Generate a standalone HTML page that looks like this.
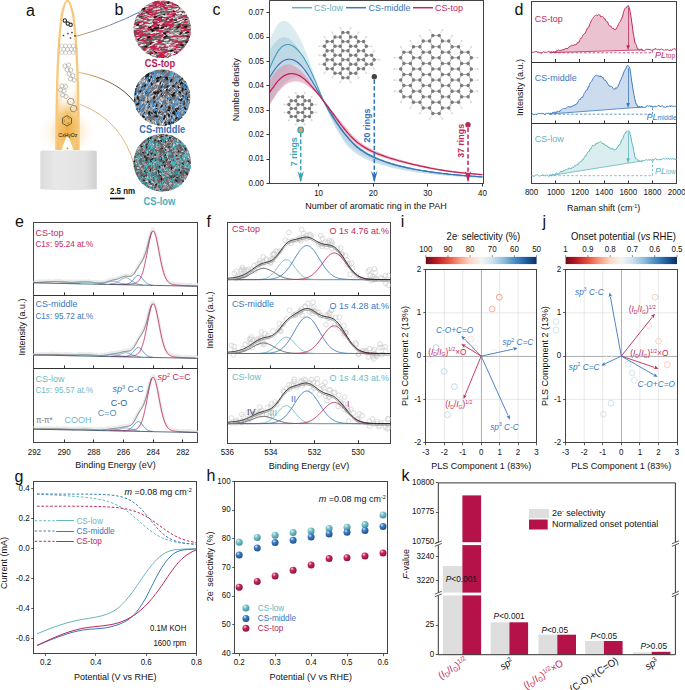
<!DOCTYPE html><html><head><meta charset="utf-8"><style>html,body{margin:0;padding:0;background:#fff;width:685px;height:690px;overflow:hidden}svg{display:block}text{font-family:"Liberation Sans",sans-serif}</style></head><body>
<svg width="685" height="690" viewBox="0 0 685 690">
<rect width="685" height="690" fill="#fff"/>
<text x="26" y="15.5" font-size="16" fill="#111" transform="translate(26 15.5) scale(1 1.0) translate(-26 -15.5)">a</text>
<text x="114.5" y="15" font-size="16" fill="#111" transform="translate(114.5 15) scale(1 1.0) translate(-114.5 -15)">b</text>
<radialGradient id="glow" cx="0.5" cy="0.5" r="0.5"><stop offset="0" stop-color="#f9d9a0" stop-opacity="0.95"/><stop offset="0.5" stop-color="#fbe8c8" stop-opacity="0.6"/><stop offset="1" stop-color="#fff" stop-opacity="0"/></radialGradient>
<ellipse cx="67.5" cy="132" rx="30" ry="26" fill="url(#glow)"/>
<linearGradient id="fl" x1="0" x2="0" y1="0" y2="1"><stop offset="0" stop-color="#fff"/><stop offset="0.6" stop-color="#fffdf8"/><stop offset="0.75" stop-color="#fcecd0"/><stop offset="1" stop-color="#f6cf88"/></linearGradient>
<radialGradient id="fo" cx="0.5" cy="0.5" r="0.5"><stop offset="0" stop-color="#eeab3c" stop-opacity="0.95"/><stop offset="0.55" stop-color="#f2b850" stop-opacity="0.75"/><stop offset="1" stop-color="#f6d090" stop-opacity="0"/></radialGradient>
<linearGradient id="fe" x1="0" x2="1" y1="0" y2="0"><stop offset="0" stop-color="#f0b048" stop-opacity="0.9"/><stop offset="0.3" stop-color="#f0b048" stop-opacity="0"/><stop offset="0.7" stop-color="#f0b048" stop-opacity="0"/><stop offset="1" stop-color="#f0b048" stop-opacity="0.9"/></linearGradient>
<path d="M56.4 150 C56.4 90 58 40 62 14 C64 5 66 0.7 67.5 0.7 C69 0.7 71 5 73 14 C77 40 78.6 90 78.6 150 Z" stroke="none" stroke-width="1" fill="url(#fl)"/>
<clipPath id="flc"><path d="M56.4 150 C56.4 90 58 40 62 14 C64 5 66 0.7 67.5 0.7 C69 0.7 71 5 73 14 C77 40 78.6 90 78.6 150 Z"/></clipPath>
<linearGradient id="fmv" x1="0" x2="0" y1="0" y2="1"><stop offset="0" stop-color="#fff" stop-opacity="0"/><stop offset="0.5" stop-color="#fff" stop-opacity="0.8"/><stop offset="1" stop-color="#fff" stop-opacity="1"/></linearGradient><mask id="fmask"><rect x="56" y="80" width="23" height="71" fill="url(#fmv)"/></mask><g clip-path="url(#flc)"><rect x="56" y="80" width="23" height="71" fill="url(#fe)" mask="url(#fmask)"/><ellipse cx="67.5" cy="128" rx="13" ry="28" fill="url(#fo)"/></g>
<path d="M56.4 150 C56.4 90 58 40 62 14 C64 5 66 0.7 67.5 0.7 C69 0.7 71 5 73 14 C77 40 78.6 90 78.6 150" stroke="#f7c87e" stroke-width="2.3" fill="none"/>
<path d="M62 150 C63 145 66 137 67.5 136 C69 137 72 145 73 150 Z" stroke="none" stroke-width="1" fill="#fff"/>
<circle cx="67.5" cy="148.5" r="0.9" fill="#e08a20"/>
<linearGradient id="cd" x1="0" x2="1" y1="0" y2="0"><stop offset="0" stop-color="#dcdcdc"/><stop offset="0.3" stop-color="#e8e8e8"/><stop offset="0.8" stop-color="#e2e2e2"/><stop offset="1" stop-color="#cfcfcf"/></linearGradient>
<path d="M40.3 153 Q40.3 150.6 43 150.6 L94 150.6 Q96.8 150.6 96.8 153 L96.8 189 Q68 191.5 40.3 189 Z" stroke="none" stroke-width="1" fill="url(#cd)"/>
<path d="M66.5 20.5 a1.7 1.7 0 1 0 -3.4 0 a1.7 1.7 0 1 0 3.4 0 M69.5 23.6 a1.7 1.7 0 1 0 -3.4 0 a1.7 1.7 0 1 0 3.4 0 M72.3 24.8 a1.7 1.7 0 1 0 -3.4 0 a1.7 1.7 0 1 0 3.4 0" stroke="#2a2a2a" stroke-width="1.1" fill="none"/>
<circle cx="63.5" cy="35.5" r="0.85" fill="#333"/>
<circle cx="68" cy="33.5" r="0.85" fill="#333"/>
<circle cx="72" cy="32.5" r="0.85" fill="#333"/>
<circle cx="70.5" cy="38" r="0.85" fill="#333"/>
<circle cx="75" cy="35.8" r="0.85" fill="#333"/>
<path d="M63.7 47.1 L61.8 48.1 L59.9 47.1 L59.9 44.9 L61.8 43.9 L63.7 44.9ZM65.6 50.4 L63.7 51.4 L61.8 50.4 L61.8 48.2 L63.7 47.1 L65.6 48.2ZM63.7 53.7 L61.8 54.8 L59.9 53.7 L59.9 51.5 L61.8 50.5 L63.7 51.5ZM67.5 47.1 L65.6 48.1 L63.7 47.1 L63.7 44.9 L65.6 43.9 L67.5 44.9ZM69.4 50.4 L67.5 51.4 L65.6 50.4 L65.6 48.2 L67.5 47.1 L69.4 48.2ZM67.5 53.7 L65.6 54.8 L63.7 53.7 L63.7 51.5 L65.6 50.5 L67.5 51.5ZM71.3 47.1 L69.4 48.1 L67.5 47.1 L67.5 44.9 L69.4 43.9 L71.3 44.9ZM73.2 50.4 L71.3 51.4 L69.4 50.4 L69.4 48.2 L71.3 47.1 L73.2 48.2ZM71.3 53.7 L69.4 54.8 L67.5 53.7 L67.5 51.5 L69.4 50.5 L71.3 51.5ZM75.1 47.1 L73.2 48.1 L71.3 47.1 L71.3 44.9 L73.2 43.9 L75.1 44.9ZM77 50.4 L75.1 51.4 L73.2 50.4 L73.2 48.2 L75.1 47.1 L77 48.2ZM75.1 53.7 L73.2 54.8 L71.3 53.7 L71.3 51.5 L73.2 50.5 L75.1 51.5Z" stroke="#aaa" stroke-width="0.5" fill="none"/>
<path d="M67.1 66.8 L65.4 68.2 L63.3 67.4 L62.9 65.2 L64.6 63.8 L66.7 64.6ZM70.7 65.8 L69 67.2 L66.9 66.4 L66.5 64.2 L68.2 62.8 L70.3 63.6ZM69.1 70.6 L67.4 72 L65.3 71.2 L64.9 69 L66.6 67.6 L68.7 68.4ZM72.9 70.8 L71.2 72.2 L69.1 71.4 L68.7 69.2 L70.4 67.8 L72.5 68.6ZM71.1 74.8 L69.4 76.2 L67.3 75.4 L66.9 73.2 L68.6 71.8 L70.7 72.6ZM74.9 76.3 L73.2 77.7 L71.1 76.9 L70.7 74.7 L72.4 73.3 L74.5 74.1ZM72.6 79.8 L70.9 81.2 L68.8 80.4 L68.4 78.2 L70.1 76.8 L72.2 77.6ZM76.3 80.8 L74.6 82.2 L72.5 81.4 L72.1 79.2 L73.8 77.8 L75.9 78.6Z" stroke="#888" stroke-width="0.5" fill="none"/>
<path d="M64.2 86.4 L62.8 88.1 L60.6 87.7 L59.8 85.6 L61.2 83.9 L63.4 84.3ZM67.8 86.9 L66.4 88.6 L64.2 88.2 L63.4 86.1 L64.8 84.4 L67 84.8ZM62.7 90.4 L61.3 92.1 L59.1 91.7 L58.3 89.6 L59.7 87.9 L61.9 88.3ZM66.2 91.4 L64.8 93.1 L62.6 92.7 L61.8 90.6 L63.2 88.9 L65.4 89.3ZM64.7 95.4 L63.3 97.1 L61.1 96.7 L60.3 94.6 L61.7 92.9 L63.9 93.3ZM68.2 96.9 L66.8 98.6 L64.6 98.2 L63.8 96.1 L65.2 94.4 L67.4 94.8Z" stroke="#888" stroke-width="0.5" fill="none"/>
<path d="M74.2 102.4 L71.7 104.9 L68.3 104 L67.4 100.6 L69.9 98.1 L73.3 99ZM77 109.5 L74.5 112 L71.1 111.1 L70.2 107.7 L72.7 105.2 L76.1 106.1Z" stroke="#555" stroke-width="0.6" fill="none"/>
<path d="M71.5 123.4 L67 126 L62.5 123.4 L62.5 118.2 L67 115.6 L71.5 118.2Z" stroke="#3a3a3a" stroke-width="0.7" fill="none"/>
<path d="M63.2 118.6 L63.2 123 M67 125 L70.8 122.8 M70.8 118.6 L67 116.4" stroke="#3a3a3a" stroke-width="0.5" fill="none" transform="translate(67 120.8) scale(0.75) translate(-67 -120.8)"/>
<text x="67.8" y="137" font-size="5.2" fill="#111" text-anchor="middle" transform="translate(67.8 137) scale(1 1.15) translate(-67.8 -137)">CxHyOz</text>
<linearGradient id="ln1" x1="0" x2="1" y1="0" y2="0"><stop offset="0" stop-color="#c09050"/><stop offset="1" stop-color="#2a6ad0"/></linearGradient>
<linearGradient id="ln2" x1="0" x2="1" y1="0" y2="0"><stop offset="0" stop-color="#e8b060"/><stop offset="1" stop-color="#222"/></linearGradient>
<path d="M76.4 36.3 Q110 27 141.3 11.2" stroke="url(#ln1)" stroke-width="0.9" fill="none"/>
<path d="M78.7 72.3 Q118 80 134.9 102.8" stroke="url(#ln2)" stroke-width="0.9" fill="none"/>
<path d="M80.3 104.4 Q122 120 134.9 167" stroke="#e0b070" stroke-width="0.9" fill="none"/>
<clipPath id="circ1"><circle cx="162.2" cy="29.2" r="28.7"/></clipPath>
<g clip-path="url(#circ1)" stroke-linecap="round">
<circle cx="162.2" cy="29.2" r="28.7" fill="#5e5c5c"/>
<path d="M139.6 49.4L142.8 48.9M163.1 54.7L166 54.1M188.6 50L192.4 49.7M163.3 41.5L166.7 40.2M176.1 31.6L179.4 31.3M182.2 33.5L184.7 32.9M147.2 49L149.2 48.6M154.5 24.7L156.9 24.7M177.8 30.3L180.8 30M133.5 47.9L137.9 47.2M150.9 50.7L153.4 50.3M142 52.7L144.5 52.9M176.9 48.6L180.6 47.5M183 3.1L185.6 2.5M134 1.2L137.5 1.1M146.3 5.1L149 5.2M145.9 2L149.2 1.4M150.6 7.7L153.1 5.6M172.4 39.2L176.7 38.4M146.9 48.2L149.9 47.9M184.5 53.4L186.6 53M165.1 11.2L167.5 10M186.8 8.7L190.4 8.3M148.6 15.3L152.3 14.2M187.7 32.8L191.1 30.8M153 31.1L155 30.6M188.2 27.2L192.1 26.8M174.6 37.9L178 36.6M179.7 28.7L182.9 27.9M179.8 30.9L182.6 30.1M172.3 48.6L175.8 49.3M172.7 21.6L176.5 20.9M187.8 36.1L189.9 35.3M134.2 47.1L138.1 45.5M179.7 52.7L183.8 52.3M185.8 34.8L188.6 34M141.1 53.2L143.2 53.3M137 2.7L139.9 2.2M168.9 26L173 26.5M151.9 19.7L155.6 18.6M139.7 31.8L142.8 29.3M174.2 3.6L176.4 3.1M147.9 52.6L151.7 50.7M178.2 34.2L180.2 33.9M179.2 55.7L181.8 54.7M185.2 49.6L188 48.6M189.1 16.1L192.4 14.5M173.9 48.5L176.1 48.3M181.3 45.9L184.2 45.3M183.6 32L186.1 31.5M155.4 8.1L158.9 7.8M162.8 3.6L165.6 4.1M143.9 33.1L146 33M134 4.7L137.7 5.2M177.5 37.4L181.7 37.2M146.2 16L149.5 16.1M182.5 12.9L185.4 12.9M164.2 51.6L167.3 50.7M147 56.9L151.1 57M157.1 22.3L159.8 21.9" stroke="#a4aaa6" stroke-width="1.0" fill="none"/>
<path d="M154.8 48.3L156.2 48.4M154.5 7L155.6 6.5M154.8 0.6L157.1 1M163.5 15.4L165.2 14M151 31.7L152.5 30.7M148.8 27.3L150.2 27.4M175.7 22.7L177 22.2M159 17L161.2 17.4M139.7 52.8L141.3 52.2M181.9 56.9L183.3 55.2M157.1 25.7L158.5 26.1M161.2 57.7L163.3 57M166.3 49.7L168.4 49M181.3 26.5L183 25.8M168.8 47.8L170.6 47.3M188.9 48L190.1 47.4M188.4 11.9L190.3 11.8M176.3 5.1L178.5 5.7M133.6 7.1L135.7 5.9" stroke="#151515" stroke-width="1.9" fill="none"/>
<path d="M157.2 28.3L161.4 26.8M168 23.1L170.8 22M171.3 55.9L175 55.2M166.9 36.3L169.9 35.5M166.8 34.4L169.5 33.6M161.8 7.7L163.9 8.2M144.3 51.7L146.9 51.1M140.3 3.4L144 2.6M143 20.8L146.3 20.4M184.7 54.2L188 53.6M168.2 10.5L172.8 10.2M181.5 50L185.4 49.5M132.7 6.1L135.1 6M157.2 4.9L159.6 4.6M132.9 19.3L136.1 18M135.9 38.5L138.4 38.1M164.6 35.4L168.6 35.4M164.4 40.5L168.1 40.8M152.3 9.9L155.6 9.6M188.5 19.5L192.3 19.4M169.2 43L173 42.3M154 53.2L157.7 52.6M141.3 32L144.5 31.2M153.3 19.3L156.7 18.7M168.7 42.8L171.3 41.3M152.1 35.2L156.4 34.1M154.2 41.5L157 41.1M143 9.8L147.9 9.4M162.9 33.1L165.3 32.7M177.7 47.5L180.8 46.9M133 39.1L136.4 38.7M158.2 40.6L161 39.5M137.1 31.6L141.1 31.2M137.5 38.1L142.2 38M162.9 15.7L165.4 16.2M187.1 52L191.6 51.5M136.2 27.3L138.2 26.8M135.2 7.2L138.1 7.2M166.9 16.4L170.2 17M153.1 50.6L155.8 50M134 45.3L137.1 43.9M156.6 33L160.1 31.5M186.6 52.2L188.7 52.3M145.8 2.3L148 2M182 15.3L185.7 14.4M143.1 11.1L147.1 8.9M144.7 30.9L148.8 30.2M188.2 3L191.1 2.9M140.4 2L142.5 0.8M144.1 2L146.8 1.9M183.9 1.7L187.6 1.9M178 33.1L183 32.9M167.1 7L171.1 6.2M166.1 44.7L168.6 44.4M168.4 45.6L171.7 44.7M145.2 56.7L149.1 55.3M156.8 49.1L160.5 48.1M188.3 43.9L192.4 43M133.3 47.8L135.5 47.4M185.6 22.7L188.9 23M173.7 49.2L175.9 48.4M140.9 53.3L144 52.1M146.8 57.1L151.3 55.6M156.4 34.4L161 33.7M175.7 21L178.8 20M154.7 9.2L159.6 8.7M147 1.3L149.3 0.7M179.6 52.7L184.1 52.8M165.4 6.5L167.6 6M152.5 41.3L156.5 41.1M134.8 17.6L138.3 17.3M170.6 48.1L173 47.4M183.8 5.5L187.5 3.9M136.1 46.9L139.5 46.5M159 54.1L162.5 54.1M150.2 17L153.7 15.9" stroke="#f6f6f6" stroke-width="0.95" fill="none"/>
<path d="M149.7 30.8L153.7 30.3M173.5 47.4L179.1 45.9M136.4 46.6L140.8 45.8M171.6 18.4L175.1 17.7M172.9 14L177 12.3M142.5 34.9L146.5 34.5M166.5 22.9L170.4 22.6M163.9 8.8L169.6 8.4M154.4 51.8L157.6 51.3M151.3 29.7L155.6 29.4M172.7 34.2L176.7 34.4M185.9 31.1L191.3 32.8M156.9 33.5L161 32M147.5 48.5L152 48.1M186.3 54.1L189.4 53.9M180.4 8.5L183.9 8M170.6 53.1L176.3 54.5M139.8 31.9L143.3 31.5M175.3 18.5L178.8 17.7M171.5 15.3L177.9 14.3M139.3 54.9L144.9 52.4M133.7 16.8L137.1 16.2M160.6 45.8L163.8 45.2M151.6 7.7L155.3 7.3M169.6 15.3L173.9 14.6M172.4 36L175.6 35.8M138.9 58.5L143 56.2M161.2 56.4L164.4 55.2M186.4 50.6L190.3 49.5M157.9 33L162.5 32.1M132 16.6L136.6 15.2M135.5 30L139.3 29.8M181.6 47.9L187.9 46.8M178.9 24.2L182.7 24.1M170 7.1L175.3 5.1M149.7 47.8L156.1 46.9M139.2 34L142.1 32.9M133.6 51.5L139.4 51.6M134.5 33.8L140.1 32.1M139 53.3L143.9 51.6M170.3 20.5L174 20.4M136.2 5.6L139.4 5.4M175.7 35.2L179.4 34.6M138.9 7.2L145.1 6.1M147 6L151 5.9M186.8 1.4L191 0.5M133.5 26.7L138.3 23.9M150.5 48.4L154.2 48.4M151 55.5L156 53.3M162.2 46.8L167.6 46.2M182.4 49.3L186 48.2M148.1 9.4L154 7.5M133.3 32L137 31.5M186.3 5L192.4 4.9M149.2 24.3L153.4 22.5M168.8 27.7L172.6 27.7M146.1 31.6L150 30.2M159 3L164 2.3M146.6 55.9L150 55.9M147.8 13.4L151.5 12.8M183.7 5.1L187.4 3.7M173 13.2L178.2 12.9M166.1 27L170.7 26.5M154.7 51L158.4 50.2M186.9 45.9L191.5 45.5M139 31.3L142.9 29.5M145.1 1.8L148.4 1.4M178.9 1.6L182.4 0.6M179.5 36.1L183.1 35.8M184.1 7L187.8 6.6M160.3 54.4L165.7 54.4M159.4 34.6L164.9 33.8" stroke="#c81f4a" stroke-width="1.1" fill="none"/>
<path d="M157.4 38.5L161.2 37.3M144.4 24.8L147.5 24.6M172.8 54.4L175.8 54.2M153.5 26.5L156.5 24.9M186.7 34.1L189.7 33.2M160.9 28.8L164.1 27.9M133.1 44.2L135.6 43.6M138.1 52.7L141.4 51.6M164.8 18.8L168.3 19.1M164.4 10.1L168.1 10.6M150.4 57.5L154.3 56.8M175.7 35.1L178.5 34.8M153.9 33.2L156.5 33.3M188.9 24.8L191.5 24.5M158.3 18.7L160.4 18.3M187.9 26.9L192 25.5M135.8 5L139.4 4.6M184.1 17.6L188.4 17.1M178.2 32.2L181.6 31.8M154.9 35.9L158.2 35.4M135.5 29.7L139.7 30M144.2 33.5L147.8 32.9M171.8 27.1L175.6 25M132 11.8L135.5 11M164.9 22.7L167.6 22.3M157 26.8L160.8 25.8M189 18.4L191.3 17.6M167.6 24.6L171.7 23.1M174.8 25L177.7 24.5M161 42.9L164.8 42.7M149.7 25.5L153.6 25.1M146.2 42L148.4 41.5M171.8 5.8L174.7 6.1M150.5 23.2L153.1 21.8M134.8 16.4L137.1 16M166.8 33L169.6 32.3M137.3 47.9L140.2 46.5M173.5 18.4L177.6 18.6M171.7 31.7L175.8 30.8M160.9 30.6L163.7 30.8M172.5 44L175.2 42.8M163 15.9L166.6 15.6M156.4 39.9L159.5 38.7M180.5 27L184.2 26.6M149.1 29.6L152.6 29.5M158.7 46.8L161.6 45.6M156.8 45.4L160 44.8M167.3 58.2L170 57.1M170.3 17.8L173.5 17M174.9 20.3L179.3 19.4M186.8 31L190.4 31.1M171.7 37.6L174.5 37.5M133 18.5L136.3 17.5M138.4 18.9L140.4 18.5M155.1 40.1L158.4 38.8M158.8 23.7L162.5 23.6M182.7 10.6L186.4 8.8M176.9 35.6L179.5 34.1M178.6 15.2L182.5 14M178.7 26.2L181.9 25.4" stroke="#a4aaa6" stroke-width="1.0" fill="none"/>
<path d="M151.8 55.9L153.7 56.5M136.7 11.1L138.9 10.9M171.2 20.8L171.9 19.5M139.5 38L141.2 37M142.3 23.2L144 23.2M140 15L141.9 15M163.8 5.2L165 4.3M166.9 35.9L168.1 35.7M185.7 9L187.2 7.4M157 15.9L158.3 16.4M162.1 30.7L163.5 30.2M155.2 57.5L157.3 57.5M176.9 23.7L179.1 24.9M179.3 0.7L180.8 0.7M166 35.6L166.9 36.4M150.7 53.7L152.5 53.6M139.8 15.8L141.3 15.8M134.6 30.9L136.4 30.7M157.6 41.5L159 40.7" stroke="#151515" stroke-width="1.9" fill="none"/>
<path d="M170.5 31.4L174 29.8M176.4 1.2L180.7 0.8M144.7 56.2L149 55.3M143.2 9.9L148 8.6M163.8 16.4L166.1 16.3M131.7 4.8L135.6 3.3M164.4 26.7L166.4 26.2M156.9 46.1L160.9 46M182.2 39L185.1 37.7M152.1 23.8L155.3 22.7M149.2 26.2L153.4 24M150.9 8.3L155.4 6.5M153.2 51.8L156.1 51.5M143.9 9.8L147 10M134.4 3.9L136.7 3.1M150.1 18.9L154.5 18M150.3 21.3L153.8 20.1M160.3 1.8L163.8 0.7M180.2 55.9L182.4 54.6M149.6 32.1L152.8 32.5M157.8 47.8L159.7 46.8M142.1 45.5L145.6 44.5M183.3 43.3L185.6 42.7M157.6 43.2L160.5 42.8M165.8 27.6L169.2 26.5M181.2 17.5L183.8 16.7M157.2 46.9L159.6 46.8M139.2 34.3L141.6 33.8M153.1 8.5L155.3 8.3M137.1 42.4L141.9 41.1M166.7 32.9L171.1 33.3M179.9 15L183.7 14.2M185.5 38.2L189.9 36.7M145 18.3L148.9 18M172.3 27.1L175.7 26.2M177.4 32L180.2 31.2M147.6 56L149.9 55.4M177.3 9.9L179.8 9.6M157.5 47L159.6 46.9M171.4 56.9L174.9 56.6M180.8 8.1L185.5 8M186.6 8.7L189 8.6M169.3 53.1L173.5 52.4M171.1 52.6L173.2 51.9M187.8 37.4L192.7 36.4M166.9 19.3L171.4 18M163.6 1.1L167.2 1M146.4 50.5L148.9 50.3M185 5.6L186.9 5.1M154.2 51.3L158.4 50.8M143.4 30.7L145.5 30.1M170.6 51.1L172.5 50.1M166.1 46.8L169.8 46.7M170.9 42.1L175 41.1M178.2 28.2L181.6 27M133.2 29.8L136.4 30M173.1 24.5L176 23.6M182 32.2L184.9 32.1M140.4 22.8L144 22.3M151.5 25.1L155.6 25M142.9 55.2L147.6 54.5M180.5 53.9L185.2 53.4M147.3 22.6L150 22.5M176.6 41L180.7 39.7M133.9 54L137.7 53.6M184 52.2L188 52.1M170.4 46L173.7 46.4M140.4 33.9L144.9 33M181.2 3.7L185.9 2.8M147.1 22.1L151.4 21.7M143.4 12.6L146.4 12.3M147.8 49.2L150.5 48M170.6 22.1L175.4 21.4M152.4 17L154.4 16.5M155.1 45.2L159 45.7M160.6 15.4L163.5 15.9" stroke="#f6f6f6" stroke-width="0.95" fill="none"/>
<path d="M155.7 7.3L159 6.1M148.6 10.4L151.6 9.6M167.9 45.7L174.3 44.8M146.5 12.7L149.7 12.3M131.5 1.9L137.5 -0.4M146.6 56.8L150 55.8M167.2 22.4L172.7 21.7M143.9 50.3L147 49.9M172.5 41L178 41M186 33.7L189.2 32M177.5 4.9L182.6 4.5M164.9 22.3L168 21.4M168.7 57.3L175.1 58.3M143.4 48.8L148.1 48.3M159 29.4L164.9 27.3M145.3 30.1L150.6 28.7M176.6 36.1L182.7 35.3M185.3 54.9L189.2 53.1M173.6 54.6L177.7 54M154.2 16.6L160.2 15.4M151.1 55L156 55.6M179.2 4.5L183.7 3.8M187.6 1L193 0.2M176.4 32.3L181.8 30.3M153.1 19.8L156.1 18.6M168.9 15.7L174 15.8M155.7 4.6L160.4 3.6M133.2 32.6L136.6 31M153 17.1L158.2 17.7M135.2 3.2L141.4 1.4M184.7 20.7L190 20.8M160 52L164.7 52M166.2 17.3L172.4 16.4M135.1 10.3L140.2 9.6M160.6 47.6L165.9 46.9M152.7 20.5L158.4 19.4M152.6 29.5L158.4 28.8M183 53.4L186.2 53.8M156.7 21.7L161.3 21M173.8 32.2L179 31.3M140.2 35.3L144.7 33.8M188.3 26.1L193.4 24.4M135 38.8L139.8 39.1M163.2 29L169.4 29.3M153.6 47.7L156.6 46M143.1 56.8L148 56.8M156.7 47.5L161.9 47.4M188 47.1L192.1 45.6M173.8 50.2L179.3 47.5M173.2 20.3L179.2 18.5M161.2 23.7L164.5 23.3M158.8 52.4L165.1 51.9M172.9 10.5L179.2 9.3M186.7 35.5L192.7 35.4M150.5 51.7L153.9 51M176 40.7L180.5 38.6M143.3 22.2L147.4 22.5M154.7 17.6L158.7 16.9M183.6 17.7L186.7 17.1M185.3 36.3L190.6 34M181.8 28L186.7 26.8M184.5 6.4L189.8 6.3M179.8 20.3L186.1 18.8M181.6 28.7L185.9 28.1M156 1.1L160.2 -0.1M182.3 51.6L187.7 50M141 28.2L146.6 27.3M135.5 55.1L139.8 54.4M167.2 54.1L171.2 55.2M142 2.5L145.5 2.1M185.7 9.5L188.7 8.8M176.8 8.9L180.5 8.7" stroke="#c81f4a" stroke-width="1.1" fill="none"/>
<path d="M136.9 2.3L140.8 2M160.7 14.1L163.2 13.7M179.1 39.5L183.2 38.5M155.1 28.8L157.1 28.4M147 32.3L150.9 31.6M167.7 35.7L170.9 35.6M138.6 36.6L141 36.1M179.4 1.9L181.4 1.5M135.5 17.4L138.2 17.9M161.5 22.9L164 21.5M150.9 13.4L155 12M148.5 50.8L151.9 49.7M136 15.8L140.3 15.8M174.1 6.6L178.3 6.2M184.7 56.3L187.2 56.1M154.6 18.6L157.2 17.6M149.2 46.6L151.2 45.4M133.3 19.1L137.4 18.1M181.1 26.9L183.6 26.1M160.7 38L163.8 37.5M140.8 44.6L144.5 44.4M173.1 20.9L176.3 20.1M188 22.6L190.4 22.3M167 48.6L169.5 48.2M138 46.8L141.4 46.9M170.9 28.8L174.5 28.7M167.6 31.2L170.6 30.7M176.6 49.8L180.3 48.4M169.7 2.7L172.7 0.6M178.5 15.9L182 16.1M176.4 11.9L180.7 10.9M155.2 29.1L157.4 28.4M159.9 22.4L163.9 22M182.9 44.5L185.1 43.6M137 2.7L140.5 1.4M155.1 12.3L159.3 11.6M153.2 57L156.3 57.1M181.1 17.9L184.2 18M179.6 17.4L182.9 17.1M150.1 4.1L154.5 4.8M185.5 38.2L189.7 36.7M162.6 5.1L164.8 4.9M185.5 46.8L189.9 45.8M132.4 7.4L135.2 7.3M162.8 56.7L167.3 56.5M151.7 26.6L154 26.7M173.5 28.6L175.7 28.8M186.7 56.4L188.9 55.9M184 7.4L186.9 7M169 54L173.4 53.3M140.7 24.5L143.3 24M160.8 20L162.8 18.9M137 13.9L139.7 12.8M139.3 23.7L143.6 23.2M161.8 33.6L165.8 32.2M162.7 31.9L166.8 31.6M154.1 25.7L156.7 25.7M166.7 3.5L169.9 3.6M145.4 33.2L149.2 32.3M134.8 40L138.7 38.3" stroke="#a4aaa6" stroke-width="1.0" fill="none"/>
<path d="M177.6 27.6L179.5 26.4M149.1 10.2L151 8.6M177 54.2L179 54.2M160.2 56.6L161.7 56.7M144.1 47.7L145.9 47.1M143.8 24.7L146 25.6M154.8 17.4L156 16.4M180 19.1L182.1 18.1M147 0.7L149.2 0.7M165 26.4L166.2 26.7M153.6 50.6L154.7 51.1M155.5 53.1L156.8 51.8M178.3 33.4L179.5 33.6M184.3 8.9L185.6 9.1M142.5 54.4L144 54.1M153.8 43.6L155 43.2M135.8 56.4L137.5 55.1M153.8 22.9L155.8 23.1M136.6 25.1L138.9 24.2" stroke="#151515" stroke-width="1.9" fill="none"/>
<path d="M146.5 18.8L150.2 17.8M174.2 18.2L178 18M160.9 33.9L163.9 33M174.7 50.9L177.7 51.1M159.5 29.6L164 28.9M180.9 4.3L183.9 4.3M142 37.3L146.3 37.2M138 12.5L142.7 11.7M155.9 15.4L160 13.7M132.2 8L136.8 7.6M180.9 40.1L183.1 39.5M134.2 16.7L136.5 15.4M161 52.4L164.6 52.1M134.2 22L138.5 20.4M135.3 18.9L139.5 18.7M146.8 18.8L149.2 17.3M182 23.3L185.3 23.1M164.7 43.2L166.8 43M160.4 1.4L162.9 0.5M157.4 32.4L162.2 32M173.4 6.2L176.5 6M177.1 4.4L181.6 4.1M187.9 35.8L190.6 35.4M165.2 18.8L168.6 18.2M144.7 14.5L147.3 14.1M154.8 40.9L157.9 40.3M161.7 42.8L166.6 42.3M139.7 19.8L142.6 19.5M158.5 31.5L163 30.3M162 38.3L165 37.6M131.8 25.4L136.1 25M157.1 9.2L160 8.9M161.5 28.4L165.6 27.5M164.6 33.1L168.3 32.3M169.4 44.6L173.3 43.7M138 57.6L141.3 58M171 35.9L174.7 34.6M181.4 6.2L184.9 5.1M168.4 47.7L171.7 47.9M138.7 39.8L140.7 39.8M172.1 26.1L175.4 24.9M148.9 36.2L151.7 35.5M148.3 47.1L151.3 46.1M167.5 20.6L169.6 20.3M179.8 19.5L182.6 18.6M143.6 3L147.7 2.5M143.2 14.8L145.8 14.2M142.8 53.2L146.6 51.8M147.8 15.7L151.3 15M165.5 48.5L169.6 48M158.9 4L163.3 3.1M150.8 28.5L155 27M134.7 44.5L139.3 44M160.2 22.6L163 22.4M164.8 54.5L166.7 53.6M189.5 14.1L191.5 13.6M184.4 5.4L188.8 4.6M152.8 31.8L155.4 31.8M170 45.7L172.2 45.5M174.2 25.7L176.4 25.3M172.9 44.8L175.8 44.9M136.3 35.8L140 35.4M173.2 18.6L177.2 18.3M134.6 47.9L138.3 46.4M179 10.7L182.5 9.4M161 38.1L163.8 36.6M177.3 2.8L179.5 3M181.4 10.5L184.9 10.2M186.2 45.6L189.5 45.5M143.7 53.6L147.5 53.2M181.4 58.4L185.6 57.2M174 33.3L178.7 32.8M185.6 20.4L188.5 19.6M165.5 55.2L169.8 55M144.1 18.8L147.6 17.6M177.4 19.8L181.4 19.5" stroke="#f6f6f6" stroke-width="0.95" fill="none"/>
<path d="M132.1 15.1L136.1 13.7M153.8 55.9L158 54.7M158.8 4.1L163.9 5.2M154.3 1.5L158.5 0.7M178.6 3.8L184.8 3.4M168 21.6L171.6 20.9M184.8 19.2L190 16.4M150.1 1.5L155.6 0M139 51.1L142.1 50.2M159.3 40.1L165.6 39M143 22.8L148.9 23.3M161.5 11.6L166.2 10M180.4 27.3L185.7 26.9M135.1 12.6L139 11.8M164.5 26.2L170.7 24.8M160.8 4.3L165 4.8M143 8.4L148.5 6.8M188.1 12.1L191.1 10.8M187.5 3.5L190.5 3.4M160.2 23.1L164 22.2M181.8 9.7L185.2 9M172.4 41.9L176.8 41M176.7 43.6L182.7 41.8M172.3 25.9L175.7 24.6M182 21L187.5 19.9M185.5 41.7L189.1 40.4M142.5 41.9L145.8 40.2M150.4 42.3L154.8 42.7M172.7 24.7L176.4 25M171.9 36.6L178 35.8M138.2 40.1L142.6 40M184.3 17.8L188.8 17.7M156.2 40.3L162.2 39M153.3 46.5L157.2 46M149.1 57.3L153.2 56.8M140.5 2.4L145.7 1.7M158.8 31.6L162.4 31.7M151.4 35.4L157.2 33.7M140.8 40.5L146.3 38.4M170 26L175.2 25M150.2 47.6L154.8 45.1M169.3 20.9L173.7 20.9M149.7 46.1L154.8 47.2M138.3 52.8L143.8 51.4M177.9 58L184.1 56.2M185.5 30.5L189 30.1M168.7 22.4L172.2 21.2M147.9 48L153.9 46.5M187.6 35.1L190.8 34.8M181 1.4L187.3 0.9M141.2 24.9L145 24.6M133.8 6.9L138.4 6.3M135.2 31.7L140.9 29.4M151.7 30.5L157.1 29.6M158.3 37.8L163.5 36.4M188.8 10.9L192.5 9.6M158.1 30.3L162.7 30.5M155.5 50L161.1 50.3M153.2 26.2L157.3 25.8M170.5 27.6L173.6 26.6M173.6 48.9L177 48.4M138.5 34.6L142.7 33.4M134.3 45.7L137.7 44.9M149.8 17.1L153.3 17M179.6 36.4L185.9 35.7M174 57.4L178.5 57.2M135 36.6L140.7 36.6M176.4 45.3L182.1 44.6M146.3 1.4L149.5 0M156.2 19.8L161.3 18M132 22.3L135.5 21.3M158.2 27L161.8 25.5" stroke="#c81f4a" stroke-width="1.1" fill="none"/>
<path d="M131.8 26.7L135.4 25.4M144 27.3L148.1 26.5M180.3 29.4L183.8 29.6M134.5 40.8L137.5 41M178.7 51.7L182.5 51M133 13.8L137.2 13.5M162.4 10.3L165.1 10M140.1 41.8L143.8 41.7M180.7 18.8L184.9 17.8M144.2 39.5L146.4 38.9M151.6 52L154.9 50.3M187.1 51.5L189.4 51.4M157.9 17L161.7 15.8M153.9 56.3L156.5 56.1M167.3 57.1L170.6 56.4M150.3 49.2L153.1 49M161.2 46.3L163.4 46M177.8 52.6L181.5 52.5M133.4 37.7L136.4 37.5M171.3 42.7L174.5 42.2M180.4 22.3L184 21.3M141 41.8L144.9 43M150.2 8.5L154.2 7M148.6 31.9L151.1 31.4M186.7 44.1L191.1 44.2M153.4 12.3L156.9 12.1M155.9 24.1L160 23.4M178.5 35.7L182.1 34.8M154.8 40.4L158.3 39.7M144.7 32.8L148.9 32.6M157.1 53.4L160.8 52.4M143.1 4.3L145.4 3.1M158.8 33.9L161.3 33.7M184.9 1.4L187 1.4M180.7 39.1L183.4 38M156 39L159.7 38.1M139 23.4L142.7 23M145.7 33L149.5 32M137.4 20.4L140.8 20.3M159.1 52.4L163 53.4M162.9 10.2L165.2 10.1M181.3 37.4L183.4 37.4M146.5 13L149.9 11.1M182.7 43.3L186.1 43.4M174.3 32.9L177.2 33M152.5 24.4L155.2 24.2M139.7 56.3L142.2 55.7M163.9 24.9L166.5 24.3M183.9 12.4L187.1 11.7M147 32.4L150.7 30.6M144.2 21.5L147.4 21.7M139.7 15.2L143.4 15.2M167.2 30.9L168.8 29.6M168.5 14.8L171.7 14M168.8 32.2L170.9 31.8M173.2 39.8L176.9 39.7M170 46.4L173.5 46.4M134.5 41.1L136.8 40.8M184 18.7L188.2 18.3M141.6 38L145.2 36.8" stroke="#a4aaa6" stroke-width="1.0" fill="none"/>
<path d="M174.1 11.7L175.9 11.5M179.9 54.7L181.9 55M161.9 25.3L164 24.8M133.4 55.6L135 55.1M181 45.3L183 45.3M165.7 32.6L167.6 31.9M181.1 14.3L182.2 12.5M187.5 36.2L189.4 37M154.2 28.2L156.2 28.2M145.1 48.7L146.5 46.8M184.4 27.1L186.6 26.5M186.3 32.1L188 32.3M184.5 19.7L186.1 19.9M150.6 29.3L152.8 30.1M174.4 15.6L175.9 15.6M150.6 43.6L152.6 43.4M145.6 53.7L146.6 54.4M143.6 11.3L145.9 10.6M180.6 33.5L182 32.2" stroke="#151515" stroke-width="1.9" fill="none"/>
<path d="M134.5 26.9L137.8 26.6M177.4 50.7L180 50.2M148.2 25.4L152.5 23.9M161 39.4L163.1 39.1M174.9 43.6L178 43.4M133.3 1.2L135.9 0.8M143.9 10.9L148.2 10.4M178.7 13.5L181.5 12.8M182.8 53L184.9 52.5M172.6 9.1L176 9.1M142.9 31.1L145.5 31.3M146.3 49.8L149 48.5M183.7 32.4L187 30.8M137.3 37.9L139.7 37M164.4 58.5L167.7 56.9M168.2 3.5L171.5 3.1M179.9 56.5L182.6 56M173.5 47.7L176.8 47.7M181.4 4.6L186.2 3.2M166.1 45.7L168.9 45.7M158 11.4L159.9 10.5M157.7 51.8L160 51.3M179 13.4L181.1 12.4M157.3 27.3L160.8 26.3M165.5 14.8L169.8 14.3M183.4 56.1L187.1 55.1M174.9 9.5L178.6 8.1M140.2 21.6L142.5 20.6M172.8 12.7L176.8 12M152 44L155.1 43.2M155.1 50.4L159.6 49.3M159.5 2.2L161.7 1.9M157.2 5L160 3.7M147.7 36.4L151 35.9M155.4 40.4L159.1 39.2M173.6 53.1L177.2 52.4M171.3 54.4L174.7 53.1M146.9 8.2L150.7 8.3M179.9 21.8L184.5 19.9M149.5 45.8L153.4 44.4M137.7 14.8L140.6 14M165.5 16.2L169.8 15.1M187.1 2.6L191.3 1.6M149.3 18.5L152.9 17.9M132.6 28.1L135 28.1M149.4 12.9L153.3 13.3M166.9 52.9L169.7 52.4M134 57L136 56.3M182.4 31.3L184.9 30.6M139.5 24.4L142.6 23.7M183.5 1.4L185.6 1.3M165.3 49.4L168.6 48.8M167.6 44.4L171.2 44.3M133 5.7L136.8 5M132.7 3.1L136.4 2.1M163.2 36.2L165.6 35.9M175 10.6L178.1 9M133.3 38.7L136 37.8M134.6 28L138.3 27.3M187.6 56.1L189.8 55.9M180.3 9.1L184.2 7.8M159.6 11.1L161.4 10.1M132.9 41.6L137.1 40.5M155.5 43L160.1 42.5M173 34.1L177 33.8M154 43.2L158 41.5M179.2 6L181.3 6.1M177.8 39.3L180.7 38.4M138.1 56.1L142.4 55.5M145.2 48.8L148.2 48.6M140.2 44.3L143 44.5M184.3 34.8L186.3 34.6M176.9 21.1L181.4 19.3M162.6 49.1L165.9 49.3M133.6 17.9L137.5 17.4M185.8 48.4L189.2 48.2" stroke="#f6f6f6" stroke-width="0.95" fill="none"/>
<path d="M156.9 41.7L159.9 41.1M155.5 53.9L161.5 51.5M170.5 13.3L174.4 12.7M136.4 10.3L141.7 9.3M153.9 24.6L158.5 24M181.4 31.9L184.3 30.8M154.9 50.3L158.7 49.2M178.2 53.4L182.4 51.8M166.3 7.3L170.6 6.7M163.5 1.3L167.4 0.3M140.8 4.9L146 3.5M163.5 33.4L169.6 31.9M158 22.2L162.6 21.7M142.9 2.1L148.3 0.4M160.9 2.1L165.6 -0.2M132.6 24.9L138.7 23.1M188 44.6L192.8 43.5M154.3 1.1L158 1.1M141.1 27.4L146.8 26.7M161.3 25.6L165.2 25.5M139.7 40.5L143.2 40.2M152.2 26.4L156.2 26M144.4 49.9L148.1 48.9M136.6 49.6L142 50M151.4 7.8L155.4 6.9M158.1 4.2L162.7 3.1M151.1 15.2L155.7 13.2M166 2.9L169.2 2.9M166.5 14.1L172.9 15.1M187.4 37.5L193.7 37.2M154.9 54.4L160.4 54.6M169.6 33.7L174.1 33.7M160.2 47.8L166.4 47.4M147 9L152.6 9.2M156.3 21.1L162.5 19.4M163.3 25.2L169.1 24.1M132.3 27.9L135.6 27.3M142.2 18.7L148.2 18.8M130.6 18.9L136.4 17.5M153.2 55.4L157.2 55M172.5 4.5L177.8 3.9M151.3 26.3L156.4 23.2M169.6 46.2L173 45.4M141.3 35.1L145.8 33.9M148.1 6.7L153.3 5.8M171 44.5L176.1 42.4M183 15.6L188.5 15.2M187.5 40.3L193.1 38.6M144.8 12L149.9 11.6M134.6 49.6L139.1 48.2M172.7 6.2L177.6 5.5M168.2 25.9L174 24.1M160.5 24.7L166.3 25.2M155.8 3.7L159.9 2.5M155.2 34.5L160.8 32.9M166.6 49.8L171.2 49.4M184.9 9.8L188 8.9M137.7 22.9L143.2 20.8M132.2 51.7L135.6 51.6M186 20.5L189.2 20M164.6 47.5L168 47.1M154.4 48.6L160.1 46.8M169.1 1.2L173.5 0.3M139.7 8.9L143.5 8.8M174.7 49.6L180.6 49.4M155.5 39.5L160 39.1M182.8 58L188 57.1M157 54.9L162.2 53.4M145.7 36L150.9 37M163.6 56.6L169.8 55.9M149.5 3.1L155 2.8M137.1 6.3L140.9 4.8" stroke="#c81f4a" stroke-width="1.1" fill="none"/>
<path d="M145.6 54.9L147.7 54.6M164.2 37.5L166.7 37.2M134.3 14.6L136.7 14.3M141.1 29.8L145.5 28.9M178.9 30.6L181 29.9M177.3 46.2L181.3 46.3M173.4 26.9L175.3 26.3M162.5 13L167 13.3M174.1 24.8L178.3 24M170.1 17.7L173.3 17.3M160.2 57.2L162.4 56.9M133.7 4.7L137.8 4.7M179.9 1.5L182.1 1M159.1 6.7L162.6 5.8M171.6 38.7L174.4 38.2M163.1 34.2L166.4 33.3M186 10.6L190 10.3M142.6 25.8L144.8 24.8M165.1 4.3L167.4 3.8M144.7 24.1L148.1 24.2M173.6 34.5L178 34.8M167.4 16L171.7 15.7M187.5 7.7L189.7 7M170.7 45.8L174.7 46M139.8 29.7L142.9 28.7M182.5 48.4L185.7 47.8M165.4 42.5L168.7 42.7M182.5 31.8L184.9 31.7M144.4 12.5L146.6 12.3M150.2 13L154.6 13.5M167.2 15.8L169.4 15.2M133.6 41.7L137.4 40.1M172.6 20.5L176.5 18.4M153.7 7.9L156.9 8M168.7 56.4L170.8 55.9M174.7 15.9L178.7 14M182.2 2.4L186.1 1.4M187.3 34.1L189.5 34M134.7 47.6L137.3 46.9M184.8 54.2L188.5 52.7M171.4 32.9L174.5 32.7M152.8 48.9L156.5 49.4M175.7 30.7L179.7 29.3M163.5 31L166.8 30.3M154.5 54.2L158.7 54.3M181.4 34.6L184.1 34.1M133.8 15.9L136.2 14.2M147.6 28.5L151.4 27.5M155.8 51.5L159 51.4M144.7 16.4L148.5 16.1M151.1 35.3L154.8 35.2M164.5 39.9L167.1 39.7M150.6 8.8L154.3 8.2M150.6 55.4L153.3 54.5M161 10.8L164.4 10.3M141.3 53.1L143.6 52.8M132.5 55.1L135.4 55.2M140.1 29.9L142.9 29.4M152.3 38.1L154.4 38.4M187.4 2.1L191.6 1.4" stroke="#a4aaa6" stroke-width="1.0" fill="none"/>
<path d="M164 33L165.2 33.6M174.8 53L176.7 52.8M186.2 42.4L188.2 41.8M166.6 57L168.7 57.2M174.6 19.8L176.3 19.8M137.3 45.6L138.6 45.6M152.8 31L154.1 31.5M146.7 12.2L148.5 12.7M148.1 37.6L149.7 36.7M138.3 39.6L139.5 39.2M143 8.9L144.3 9M166.6 19L167.9 18.4M164.2 37.6L166 36.6M168.2 3.3L168.7 2.1M148.3 28.3L150.6 27.8M170.7 50.8L172.4 50.4M189.3 2.5L190.4 2.2M157.4 28L158.5 27.4M161.2 28.3L163.3 27.5" stroke="#151515" stroke-width="1.9" fill="none"/>
<path d="M171.7 54.1L175.6 53.1M137 7.3L139.4 7.4M135.4 12.4L140.1 11.4M153.3 32.4L156.3 32.2M145 6.7L148.5 6.1M143.7 17.8L146.3 17.1M181.7 9.4L186.1 8.4M146.6 25L149.3 24.5M177.5 51.7L181 50.9M168.2 8.2L170.9 8.3M152.2 56.1L155.7 55.4M154.6 20.8L158.6 21.5M159.2 30L162.3 29.8M150.7 33.6L155.6 33.4M160.1 24.8L162.1 23.9M185 13.6L188.5 12.4M174.3 2.6L177.8 2.9M170.9 38.9L175.1 38.1M189.2 8L191.9 7.1M140.8 1L143.9 0.7M143 56.6L146.3 56.4M134.8 27.4L138.3 27.4M138.2 3.6L140.6 3.4M162.4 18.7L166.1 18.7M151 55.3L153.7 53.9M176.4 49L180.2 48.4M171.3 56.6L176.1 56.1M146 29.6L148 28.5M134.7 47.8L137.2 47.3M153.3 32.2L156 31.8M177.2 34.5L179.2 33.7M177.4 57.4L181 56.1M136.8 7.4L141.2 5.8M147.3 58.3L150.5 57.1M149.9 4.5L152.3 3.8M138.9 57.4L142.4 55.7M166 39.6L168.6 39.4M146.7 49.9L148.8 49.4M176.4 13.4L181.2 13.9M189.1 52.2L192.2 51.9M168.1 35.1L172.7 34.1M137.4 45.5L141.8 45.4M187 29.2L191.4 28.3M167.2 49.5L171.1 49.1M146.1 10.3L148.7 9.3M161.8 46.3L163.9 45.8M133 1.2L137.3 1M145.5 27.8L147.6 27.8M158.7 23.6L163.3 22.6M146.7 3.3L151.5 2.8M166.1 28.3L168.3 27.2M186 20.9L189.1 21M183.1 39.7L185.9 39M170 13.3L173.1 12.8M170.3 1.5L174.9 1.5M179.1 13.1L184 13.4M161.4 29.5L163.9 29.4M182.4 9.6L185.2 9.9M137.6 52.7L142.1 51.4M166.5 57L168.6 55.7M133.9 4.9L137 4.7M133.1 16.9L136.7 16.1M181.1 53L185.1 51.9M188.7 1.4L192.5 1.6M175.9 23.4L180.6 22.5M174.6 10L177.3 9.3M156.2 47.4L158.5 47.1M181.6 54.1L183.6 53.8M160.4 51.2L165.2 51.4M139.7 39.3L141.9 38.5M144.9 25L147.3 24.9M133.1 54.5L135.8 54.2M175.3 16.8L178.2 15.9M166.9 4.5L171.4 4.3M149.5 8.6L152.4 7.7M140.7 51.3L145.6 51.4" stroke="#f6f6f6" stroke-width="0.95" fill="none"/>
<path d="M156.1 10.7L161.8 9.6M150.3 34.9L155 33.6M135.7 36.9L141.1 35.2M135.3 45.9L140 44.6M162.1 49.7L167.4 49.1M143.5 10.7L148.6 9.6M181 28.7L184.4 27.8M152.4 36L156.7 34.8M171.2 13L174.5 13.2M179.6 4.1L182.9 3.2M145 11.8L150.1 10.9M163.2 7.2L167.4 7.3M147.1 12.7L152.3 12.2M149.4 14.6L155 14.4M143.6 49.3L146.4 47.9M186.2 10.3L190.3 10.1M141.6 32L145.9 31.1M151.1 49L156.8 47.7M160.5 52.2L166.8 51M130.7 9.6L136.9 8.8M182.6 51.2L186 50.6M157.8 56.6L163.8 56.2M136.7 52.8L140.7 51.8M185 35.6L188.3 35.5M170 39.6L173.7 39.3M186.6 29.8L191.5 28.9M141.1 14.4L144.8 13.6M170.2 3.2L174.1 2.1M143 18.6L148.6 16.4M153.1 49.5L159.2 48.3M154.2 22.9L157.2 21M152.1 13.2L156.7 12.8M145.2 10.4L150.3 8.6M147.1 39.6L152.2 38.3M146.1 54L152.4 52.6M178.3 2.8L182.4 1M156.6 30L162.3 30.3M150 5.6L154.9 4.7M139 15.1L143.4 13.9M175.8 26L181 25.5M136.2 1L139.2 0M160.6 6.2L164.1 6.4M188.9 36.6L191.9 36.1M137.1 54.6L142.3 54M137 56.6L141.2 55.1M160.1 3.3L163.3 3.3M175.9 52.2L181.5 50.2M164.7 18.3L170.8 17.7M187.1 5.4L193.5 5M147.1 28.9L151.7 28.5M142.6 47.3L145.5 48M131.8 15.8L138.2 15.4M154.9 19.9L158.7 18.7M174 47L178.1 45.8M151.6 8.5L155 7.6M136.6 15.9L139.7 15.3M171.2 20.2L176.7 19.2M143.2 42L147.1 42.2M140.4 29L143.8 27.7M137.4 23L141.5 22.1M183.3 22.9L187.7 22M156.9 44.1L161.8 42.4M166.6 1.8L171.5 1.2M182.5 11.4L187.1 12.4M175.9 47.6L180.3 47.4M153.1 2.1L157.2 2.1M162.2 52.8L167.2 52.2M183.6 55.6L186.5 54.8M180.3 17.2L185.1 16.4M182.8 30.9L187.4 30.1M158.1 42.4L164.2 41.5M152.8 7.7L156.7 7.3" stroke="#c81f4a" stroke-width="1.1" fill="none"/>
</g>
<clipPath id="circ2"><circle cx="162.2" cy="97.6" r="28.3"/></clipPath>
<g clip-path="url(#circ2)" stroke-linecap="round">
<circle cx="162.2" cy="97.6" r="28.3" fill="#6e6a6c"/>
<path d="M186.9 123.6L189.1 122.3M154.7 118.8L156.1 120.7M173.3 95.1L175.5 95.7M162.5 105.5L163.9 106.8M181.3 84.1L183.1 82.2M189.6 78.8L190.2 76.9M140.9 103.2L141.4 101.6M147.5 103.8L148.7 101.7M150.5 106.7L152.4 104.5M172.2 75.9L173.2 74.2M159.6 112.6L160.6 111.3M186.1 117.3L187.2 115.9M146.5 108.3L147.5 106.2M166.8 120L168.4 118.4M159.6 109.2L160.8 110M159.5 82.1L161.2 79.7M156.3 106.8L157.3 108.2M137.7 116.8L138.8 115.1M154.8 90.9L155.9 89M168.9 91.3L170.5 92.6M183.9 79L185.1 80.7M157 84.2L158.3 82.7M189.8 92.8L190.9 90.2M139.1 89.6L140.7 88.7M182.9 77.9L184 76.6M157.2 92.8L159 90.8M172.9 97.3L174.5 95.1M156.1 93.3L158.4 92.3M152.9 97L154.1 95.1M182.8 81.4L183.5 79.6M178.7 122.5L179.7 119.8M155 82.3L155.8 80.7M140.7 78.4L141.7 76.2M187 104L188.1 106.6M166.4 123L168.5 125M162 100L164.4 98.3M188.5 104.6L189.9 106.2M159.1 106.2L161 107.5M178.7 90L179.4 88.1M174.8 80.6L176 78.2M169.7 102.7L170.5 101M166.7 99.2L167.6 97.3M155.5 117.5L157.1 115.8M135 120.5L135.9 118.9M134.6 76.7L136.4 75.4M161.3 86.8L160.9 85.2M144.2 95.4L144.8 92.7M170.3 103.9L172.4 105M187.7 121.4L188.7 122.7M179.2 87.6L180.7 86M159.7 106.5L161.3 104.4M150 124.9L152.1 126.6M169.4 96.8L171.5 94.7M188.4 103.2L188.9 101.2M134.2 102.8L135.7 102.1M133.5 124.5L134.4 122.3M169.9 87L171.8 84.7M167.9 97.3L168.7 95.7M144.9 117.7L146.3 115.9M150.9 112.2L151.1 109.7M157.3 116L158.4 118.2M182.4 73.6L183.1 71.3M158.1 109.9L158.7 111.4M179.7 123.4L180.9 121.5M140.6 81L141.3 78.7M160.7 102.6L162.1 104.5M168 119.4L169.1 117.9M177.2 83.2L178.1 85.3M161.3 98.3L162.8 100.6M133.7 71.2L134.9 69.9M159.5 78.5L159.6 76.4M138.7 81.2L139.7 78.4" stroke="#bcb8b8" stroke-width="1.0" fill="none"/>
<path d="M135.3 94.2L135.8 92.1M171.6 113.8L172.9 112.6M169 108.1L170.1 108.1M146.5 77.9L145.9 76.3M140.9 87.2L142.6 86.5M178.1 105.9L178.9 107.7M156.6 116.1L156.6 115.1M136.2 110.4L136.1 109.1M159.8 83.6L161.3 82.5M136.6 114.1L136.6 112.9M161.1 95.7L162.7 94.9M153.9 112L154.9 112.7M161.4 87.5L162.4 85.7M179.7 99.3L180.8 101.3M183.5 100.9L185.3 101.7M178.2 88.2L179.5 87.1M172.8 96.6L172.6 94.7M172.8 94.9L173 96.4M182.3 120.7L183.4 121.1M162.1 95.7L161.8 93.6M158.7 93L160.1 91.7M157.1 93.7L157.4 92.2M151.8 97.4L152.3 96.2M170.6 112.7L171.6 113.6M134.7 111L135.5 109.5M161.3 85.2L162.6 85.1M144.7 86.2L145.6 84.9M180.5 99.3L181.5 100M169 84.9L170.8 83.7M146.9 74.7L148.8 74.3M180.5 117.8L181.7 118.2M167 78.3L168.6 77.6M178.5 80.2L179.8 80.1M178.8 82L179.1 79.9M183.6 104.2L184.9 102.3" stroke="#181818" stroke-width="1.7" fill="none"/>
<path d="M174.6 107.1L175.8 107.5M178.9 81.6L179.7 82.7M144.5 81.3L145.1 80M159.1 120.7L160.3 121.5M176.6 85.7L177.5 86.7M170.9 76.7L172.2 75.1M137.5 108.4L138.1 107M155.6 123.8L156.8 124.2M149.7 114.7L150.7 116.1M160.2 102.4L160.8 101.1M149.2 97L149.9 95.1M165.1 113.3L165.5 114.3M167.1 96.8L168.2 98.3M161.8 95.1L162.6 94.4M146.8 88.1L147.4 86.6M150.2 105.3L150.6 103.8M164.2 114.2L164.7 113.2M135.6 73.6L136.3 72.3M150.6 70.8L152.2 70.6M188.4 98.4L189.9 99M161.8 107.3L163 108.7M181.6 124.9L181.8 123.3M182.5 116.3L182.8 118.1M142 82.4L143.4 81.6M168.6 84.3L169.3 83.5M174 101.4L174.8 102.4M149.4 96.2L149.7 95.1M174.1 90.8L174.4 92.7M153.5 86.3L154.5 84.6M170.1 110.6L171.1 112.2M161 104.3L161.8 102.4M172.8 101.1L174.1 100.3M136.9 101.8L138.8 101.5M153.7 107.8L155.2 109M187.7 123.2L187.6 121.7M144.3 92.7L145.5 92M179.1 74.4L180 72.8M178.1 95.4L179.2 97.2" stroke="#f4f4f4" stroke-width="0.9" fill="none"/>
<path d="M173.9 107.6L176.4 105.6M182.8 108.3L185.8 112.2M134.4 75.1L136.5 71.9M153.4 74.7L155.2 70.9M184.6 87.2L185.6 83.7M135.2 82.3L137.9 79.9M181.4 70.9L182.6 68M172.6 105.3L174.6 101.2M150.8 104.6L153.4 101.3M146.2 121.9L147.9 120M181.4 97.6L184.4 100.9M140 122.7L141.1 118.9M134.1 118.9L136.9 114.8M155.9 82.3L157.4 79.5M171.2 124.6L173 120.7M170.6 113.2L172.8 116M148.7 109.6L150.8 112.4M146.2 79.7L147.3 77.1M152.8 106.5L155.2 103.7M145.6 108.1L148 104.7M181.8 104.6L183.8 107.2M154 92.7L157.2 91.1M182.4 96.8L184 101.1M166.5 116.1L169 120.4M156.7 78.3L158.7 76.2M186.9 109L187.9 105.1M153.6 109.9L155.3 107.3M184.2 115.2L186.2 118.3M149.6 126.1L151.5 122.6M159.4 93.4L161.1 90.3M183.3 104.7L185.8 107.8M178.7 76.6L180 73.1M144.5 111.8L146.2 109.2M171.3 111.9L172.1 116.2M161.6 92.1L162.8 89.7M175.6 97.8L177.7 94.3M136.6 89.3L138.1 86.6M160.4 85.2L162.5 82.6M184.6 92.2L187 88M151.5 76.7L154.8 73.5M140.3 113.3L142.9 110.3M167 86L171.2 83.5M187.2 73.7L189 69.2M176.6 81.5L179.4 84.7M184.8 120.4L187.6 118.4M184.5 97.3L187 95.7M134.2 111.2L136 109.4M169.6 124.1L172.4 126.2M137.4 82.5L137.7 80M159 114.7L161.3 118.7M132.6 79.1L135.2 76.2M183.2 111.9L184.5 115M189.6 83.2L191.1 85.8M157.1 104.1L158.9 106M132.2 121.7L135.9 120.8M176.6 90.4L177.6 86.6M148.2 73.7L149.9 70.6M171.9 114.3L172.2 117.2M181.5 104.4L183.1 102.2M186.4 81L188.2 78.7M137.6 89.6L139.3 86.5M161.7 119.8L164.6 117M147.8 91.2L150.5 87.8M179.6 119.6L180.5 116.6M174.7 117.4L176.3 119.9M164 106.6L166.4 109.3" stroke="#4f9bd8" stroke-width="1.0" fill="none"/>
<path d="M170.9 87.6L172.7 85.9M146.7 71.6L147.8 69.7M180.1 88.2L181.8 90.5M145 98.8L146.3 97.8M135.4 90.6L136 89M168.2 112.3L169.3 110.4M187.7 83L188.7 84.9M179 110.2L179.4 108.7M175 92.7L175.3 95M181.2 108.4L181.8 106.3M181.3 104.5L182.7 106.6M161.3 85.4L161.8 82.6M139.8 101.3L140.7 98.5M160.7 93.4L161.7 91M186 110L188.6 111.2M138 70.7L138.1 68.2M155.1 96.5L155.9 94.7M169.7 114L171.2 114.7M142.7 95.1L143.9 93.6M182.6 120.9L184.7 122.5M153.4 120.2L155 122.3M147.5 83.9L148.2 81.9M166.6 101.6L168.9 103.5M141.1 107.7L143.4 106.7M145.3 73L146.4 71.6M179.2 102.5L180.5 99.8M167.7 72.4L167.8 70.6M159 107.9L160.4 105.4M144 96.7L145.6 95M148 111.3L148.8 109.3M144.1 109.6L146.7 108.7M163.4 116L164.7 115.1M169.6 123.4L171.4 121.9M162.5 124.8L162.9 123.3M135.7 84.5L136.6 82M140.6 94.9L141.5 92M157.1 85.1L158.5 84M158.8 122.4L161.2 124M161.2 124.7L163 125.7M151.9 75.2L152.8 72.5M180.1 100.7L181.7 102.2M159.9 90.8L161.4 88.8M160.1 77.5L161.2 74.8M157.2 77.3L157.8 75.6M185.6 123.4L186.5 125.6M168.6 124.4L170 123M152.3 120.8L153.3 122.6M151.1 98.6L152.2 96.9M150.4 94L151.4 92.8M181.1 111.8L182 113.6M189.3 92.4L189.9 95.2M184.1 121.4L185.1 123M158.6 106.9L159.5 108.2M187.7 105.9L190.5 106.5M170.6 106.7L172.4 107.9M170.1 86.1L170.7 84.4M136.4 87.7L136.2 86.1M154.5 107L155.7 105.4M166.7 103.7L168.3 105.9M134.5 70.6L136.8 68.7M182.7 89.9L183.9 91.3M162.9 93.1L164.6 91.1M145.3 115.1L146 116.9M162.9 96.2L164.2 97.9M167.1 105.7L169.6 104M157.1 88.4L157.8 86.6M135.1 79.7L134.7 77.3M166.7 102.1L167.7 99.3M134 117.3L134.8 115.6M177.4 100.8L179.2 102.3M173.1 114.7L174.6 116.1M152.7 115.5L153.8 114.4" stroke="#bcb8b8" stroke-width="1.0" fill="none"/>
<path d="M167.4 99.3L167.9 98.2M146.3 102.3L148.2 101.6M178 79.2L178.8 78.3M154.4 111L154.9 109.7M189.9 124.5L191.1 122.6M155.2 116.3L157.1 116.9M156.3 78.1L158.2 77.3M164.7 126L165.3 124.4M164.7 78.7L163.6 77.5M185.5 89.3L186.5 89.8M175.9 83L177.8 82.8M166.8 89.9L167.1 88.6M170.5 117.1L171.3 116.2M176.2 111.6L178.2 111.6M182.8 88.2L183.2 89.6M165.4 87.4L165.9 85.8M183.4 85.6L184.3 83.5M134 100.1L134.7 98.2M139.1 101.2L140.7 100.2M178.7 80.5L179.6 79.9M177.4 116L179 115.5M187 97.4L187.5 99.3M186.8 122.7L188.5 121.5M169.3 126L169.5 123.9M138.1 96.9L139.1 95.3M189.3 92L190.2 90.7M163.3 119.8L164 118.8M182.9 78.4L182.4 77.3M172 106.6L172.9 107.7M186.2 93.9L187.1 92.7M188.7 115.5L188.4 113.7M185.9 81.9L186.9 83.3M184.9 84.1L186 84.8M162.6 72L163.6 70.7M166.2 105.7L167.3 103.9" stroke="#181818" stroke-width="1.7" fill="none"/>
<path d="M177.4 116.5L178 114.7M161.8 84.2L162.1 82.1M184 84.1L184.9 82.7M158.8 114.2L160.2 115.6M176 109.7L176.9 110.3M158.6 96.2L158.8 94.4M144.7 112.2L146.3 111.7M185.8 107.7L187.1 106.5M136.3 107.2L137.2 106.2M174.3 88.4L175.6 89.3M157.9 84.2L159 82.4M146.2 92.2L147.3 90.4M144.9 103.9L144.5 102.4M160.9 76.4L162 75.1M153.8 70.7L154.8 68.7M157.3 119.1L157.8 118.1M185.5 80.9L186.6 81.8M185.7 83.3L186.7 84.6M183.6 82.6L184.5 83.3M146.1 100.8L146.3 99.1M187.2 119L188.1 117.4M134.9 98.4L135.5 96.7M154.6 111L156.3 112.3M179 106.1L180 107M163.3 84L164.1 83.3M133.3 109.8L134.6 108.7M180.4 83.7L181.4 82.6M136.3 108.9L137.3 107.3M173 101L173.5 102.6M168.6 88.3L170.1 86.9M161.2 109.7L162.3 111M182.3 109.4L182.7 110.6M185.1 75.1L185.6 76.6M147 115.9L147.3 114.4M179.6 73.5L180.5 72M177.5 100.2L178.2 102M155.5 102L156.8 100.4M134.5 100.7L136 99.2" stroke="#f4f4f4" stroke-width="0.9" fill="none"/>
<path d="M153.8 75.3L156.8 71.5M135.6 95.7L139.1 93.3M156 110.4L156.3 113.1M157.9 75L159.7 70.3M184.9 111.4L185.6 106.6M188.3 79.8L190.1 78.1M159 74.1L162.9 71.8M172.8 73.5L175.2 70M142.8 103.3L145.6 100.8M180.5 93.8L182.3 90.1M161 116.6L163.8 119.9M189.2 111.5L190.5 116.2M152 73L154.1 68.6M163 94L164 90.2M181.4 109.3L184.6 113.1M187.3 92.6L190.2 95.1M157.6 103.2L161.6 106.1M172.6 123.9L175 122M151.2 82.8L152 78.2M150.6 97.7L152.1 95.1M134.4 84L137 81.4M189 77.7L191.3 81.8M181.7 113L182.5 110.2M156.6 122.6L157.1 125.1M143.3 93.9L145.8 89.7M151.3 102.2L152.7 98.8M135 81.8L135.8 78.8M146.1 87.4L146.8 84M137.4 121.7L139.5 120M180.6 111L184 112.9M139.7 101.3L142.3 97.7M183.6 74.3L185.6 71.7M176.2 124.4L177.8 121.7M144 73.9L146.7 70.2M167 87.1L168.8 84.9M183 101.4L185.1 97.7M174.5 81.8L176.7 80.1M147.5 88.1L150.1 85M174 119.2L175.6 116.8M165.3 74.9L166.3 71.4M170.6 115.6L171.4 112.5M147.9 111.6L150.4 112.9M185.2 105.2L187.2 102.1M135.3 71.4L136.9 67.8M147 113.6L149.1 115.2M178.9 80.7L179.7 78M189.7 71.9L190 68.9M154.3 110L155.6 105.3M178.4 104.8L179.5 107.9M150.7 127.7L152.3 123.3M153.6 112.5L155.8 114.9M140.8 118.4L142.2 115.2M173.3 108.5L176.1 112M176.1 74.4L177 69.9M133.5 106.3L135.2 101.6M171.3 115.3L172.8 110.7M161.9 76.5L163.5 72.3M144.8 93.3L147.6 90.3M177.7 72.3L179.2 68.5M169.6 97.8L171.9 101.3M163 85.4L166.1 81.7M187 80.6L188.9 78M174.5 114.3L177.1 112M136.8 100.2L138.9 97.8M156.3 102.5L158.9 98.4M161.1 116.4L163.2 118.5" stroke="#4f9bd8" stroke-width="1.0" fill="none"/>
<path d="M167.9 103.4L168.6 101M189.5 108.6L191.3 106.4M159.4 100.8L160.6 102.1M179.7 109.8L181 111M171.2 75L172.7 72.9M176.5 110.1L178 112.2M134.5 101.5L135.4 100.2M135.4 93.1L136.5 91.8M136.5 93.7L137.1 92.2M145.2 103.3L146.2 102M134.6 107.5L136 105.7M166.4 116.3L167.8 114.8M176.6 75.7L176.8 73.8M160.7 125.1L160.5 122.4M183.4 75.6L184.6 74.3M176 96L177.2 97.5M133.6 101.6L135.3 100.1M169.3 90.1L170.2 92.7M184.4 122.5L184.7 120.5M175.1 118.2L177.7 118.8M158 100.9L159.2 99.2M177 73.6L177.7 72M189.7 117.6L190.1 116.1M136 120.7L137.5 119.6M155 103.5L155.7 105.6M145.8 109.8L148 108.4M139.5 106.6L140.6 103.9M145.6 89.2L146.4 87.1M151.3 79.9L151.5 78M180.2 71.2L181.9 69.5M166.9 108.4L167.9 109.7M173.3 91.5L174.5 92.6M138.4 108.1L139.2 106.3M171.6 124.5L172.3 127.2M184.2 91.4L184.9 92.8M165.6 99.4L166.9 97.7M175.7 122.5L177.1 123.9M175.8 105.5L176.6 107M185.1 103L185.9 100.2M158.8 75.4L159.4 73.9M149.2 99.1L150.2 96.5M185.6 115.9L186.9 118.2M142.8 115.9L144.9 113.8M135.6 89.6L136.6 87.2M153.4 122.8L154.2 124.1M181.8 79.3L181.8 76.9M144.1 122.4L144.7 124.4M139.2 83.1L140.7 81.8M156.9 107.3L158.7 109.3M166.3 98.2L166.8 100.1M161.9 120.2L163.4 119.3M149.4 84.9L149.8 83.4M151.4 94L152.8 91.9M168.1 103.3L169 102.1M146.7 118.9L147.8 120M141.3 114.8L141.4 113M159.7 106L161.9 107M140.9 103.4L142.5 101.9M174.8 79.7L177.2 78.5M159.8 104.5L161 107M181.8 95.6L182.9 93.1M183.2 123.9L184.7 126.4M176.9 80.4L177.4 78.8M162.9 105.1L164.7 107.1M166.8 106.1L168.4 103.6M178.9 87.7L180.6 89.6M145.1 124L147.1 121.9M162.8 76.1L164.2 74.6M134.3 116.1L136.5 114.5M135.1 76.1L135.1 74M146.7 120.9L148 118.4M161 99.8L163.5 98.8" stroke="#bcb8b8" stroke-width="1.0" fill="none"/>
<path d="M149.4 106.1L149.6 105.1M185.1 96.3L185.8 97.3M171.5 95.6L172.4 94.5M144 112.8L144.2 111.2M140 78.6L139.6 76.9M173.3 94.9L174.7 95.6M150.1 77.9L151.5 76.6M156.3 108.8L157.3 109.2M178.2 88.1L178.4 86.3M148.5 76.4L149.5 76M172.7 113.4L173.7 112.9M148.6 107.3L149.1 106.4M170.6 121.4L172 123M150.5 115.6L151.1 114.1M148.3 73.2L148.2 71.6M174.7 92.8L173.5 93.4M164 118.6L164.3 120.5M144.8 121.6L145.3 119.4M149.9 70.5L151.2 69.7M178.6 119.9L178.6 118.3M168.4 92.1L169 90.6M173.5 122.7L173.9 124.2M176.6 111.2L175.9 109.4M159.6 77.7L160.6 76.6M146.2 93.1L147.1 91.5M140 72.3L140.8 70.2M157.3 78.8L159.1 77.8M149.8 113.8L149.7 112.2M182.7 95.7L184.7 96.3M161.1 91.2L160.3 89.7M187.3 70.6L187.7 69.6M180.3 100.2L181.8 99.3M181.9 117.8L183.5 118.7M184.6 112.3L185.5 112.9M153.4 102.1L155.4 101.6" stroke="#181818" stroke-width="1.7" fill="none"/>
<path d="M137.4 77L138.9 75.6M160.1 102.7L159.8 100.7M160.7 109.9L161.1 108.7M146 122.7L146.4 121.6M162.3 89.6L163.4 88M139.8 118L140 116.9M180.8 98.2L181.7 97M155.3 106.8L155.5 105.1M189.5 89.5L190.2 88.7M133.4 97.4L134.4 96.2M168.3 112.6L169.5 113M146.4 98L146 96.2M146.2 83L146.3 81.2M163.7 121.1L165 121.7M138.4 110.8L139.7 109.4M162.2 100.8L162.7 99.7M137.2 94.7L137.4 93.6M143.3 94.3L144.2 93.6M149.5 100L150.4 99M142.4 103.5L142.8 102M184.4 109.8L185.6 111M163.2 78.8L163.7 77.8M133.9 113L134.6 111M163.4 121.1L164.6 120.1M177.1 95.6L177 94.1M147 114.8L147.9 115.9M168.5 88.8L169.4 88M142.3 113.4L143.4 112.4M168.5 88.1L169.8 87.2M158.7 84.9L159.3 83.1M140.4 71.3L141.1 70.5M167.7 95L169.2 96.6M134.5 79.7L135.7 78.7M136.6 116.9L136.8 115.5M136.1 95.7L137 94.1M153.3 108.5L155 107.2M174.4 76.1L175.2 75.4M185.3 79.5L186.9 80.7" stroke="#f4f4f4" stroke-width="0.9" fill="none"/>
<path d="M184.7 83.9L186.2 86.3M179.2 117.5L180 112.7M154 84.3L155.7 81.9M175.5 104.4L177.1 100.4M158.1 97.9L160.5 95.8M150.8 116.8L151.9 113.8M162.5 121.5L164.9 125.2M172.1 73L175.7 72M183.3 94.9L186.1 92.7M177.3 90.3L179.3 93.8M183.6 90L186.2 86.7M172.7 74.7L173.8 71M162.2 81.7L164.7 78.2M176 114.8L178.2 110.4M158.8 106.4L160.8 109.8M151 123.7L152.3 119.3M141.6 98.5L141.7 94.6M166 118.3L168.5 115.8M147.4 109.2L148.4 106M155.8 121.4L157.3 118.3M149.9 72.2L151.6 68.8M155.2 113.5L157.5 109.5M140.3 105.6L141.1 102.6M134.2 80.2L137.3 76.7M166.8 85.9L168.9 82.5M175 79.1L176.4 75.9M151 108.6L152 106M139.8 103.7L140.3 101.1M149 78.6L150.4 75.3M143.2 112.7L145.3 109.3M140.4 86.3L141.8 82.9M140 113.9L141 110.1M146.1 92.8L149.5 90.4M136 95.4L137 92.7M161.6 110L164.5 113.1M144.2 122.3L147 118.4M187 117.6L190.5 120M176.5 104.1L179.3 100M149.9 85L151 82M181.5 120.9L182.2 124.6M183.8 113.4L185.6 110.9M155.6 118.3L157.7 121.4M136.4 117.5L138.6 114.5M156 106.6L159 103.3M135.2 104.1L137.5 101.9M144.8 109.1L146.2 105M146.1 124.2L148.3 125.9M160.5 89.7L163.2 86.2M169.8 125.5L173 122.7M178.2 105.2L180.7 101.2M148.6 97.4L150.2 94.8M168.9 83.1L170.6 80.1M154.9 75.9L155.6 73.3M151.5 88.6L151.8 85.4M139.9 88.2L142.7 85.6M176.8 100.4L178.5 96.8M176.2 73.5L178.8 71.3M166.8 96.2L168.6 99M137.9 100.3L139.3 97M136.2 124.6L139 122.2M151.3 103.6L154.1 101.5M143.2 93.8L145.3 91.4M140.2 112.9L141.7 109.7M165.8 88.3L165.8 85.5M184.6 105.6L187.9 107M147.1 78.4L149.5 75" stroke="#4f9bd8" stroke-width="1.0" fill="none"/>
<path d="M189.6 122.1L190.8 123.9M178.4 110.1L179.6 111.7M151.9 110.3L152.6 107.5M175.7 73.5L176.4 71.8M134.4 84.9L135.8 82.6M182.1 110L183.3 108.4M142.3 75.7L143.7 73.7M174.3 83.6L175.5 82.2M178.4 88.9L180.3 91.1M149.2 91.4L150.8 89.4M154 96.5L154.3 93.8M189.5 78.7L191.3 76.5M183.8 94.6L185.3 96.2M170.5 111.6L171.8 113.3M175.9 103.8L176.2 101.1M148.2 98.8L149.8 96.7M154.9 95.6L156.2 93.1M178.5 105.7L179.6 104.1M139.5 83.7L139.6 81.9M188.5 85.1L190.1 86.5M149.2 105.8L150.8 105M181.4 92.4L182.7 94.9M139 126.7L141 124.6M160.8 101.7L161.6 100.1M185.4 79.8L186.2 77.2M170.8 71.9L171.5 70.2M188.8 121L189.7 119.4M155.2 100L157 98M167.7 105.9L169.8 107.2M141.1 78.6L141.6 77.1M170.7 78L172.4 76.2M161.6 98.1L163.9 99.3M170.7 95.3L171.9 96.9M137.9 100.9L138.6 98.9M146.6 80.6L147.6 79.5M187.3 113.8L188.1 115.3M180.6 123.5L182.2 125.2M166.8 104.9L168.7 104.3M171.7 107.8L172 106.3M135.1 98.1L136.1 96.4M188.8 80.8L190 78.3M141 81.9L141.9 80.5M137.1 78.7L137.8 76.6M142.3 83.5L143 80.9M133.9 106.3L135.9 104.6M182.6 100.5L184.7 98.8M157.1 113.4L158.3 111.9M155.6 102.2L156.8 100.2M154.9 87.8L155.9 86.3M137 70.3L138.9 69.2M162.7 110.2L163.5 111.8M168.8 91.1L169.2 92.8M140.8 109.3L142.2 107.9M144.5 111L146.6 109.1M149.4 83.8L149.8 82M139.3 97.9L140.4 96.4M190.2 92.6L190.4 94.2M151.8 70.1L152.8 68.7M138.2 110.8L138.7 108.6M187.9 116L189.6 115.1M159.4 94.8L160.3 92.4M180.2 79.9L181.1 77.4M157.7 101.7L159.2 99.4M139 96.1L140 94.7M172.6 73.2L174.8 71.6M159.1 114.4L161.4 113.2M152.6 76.7L153.6 74.4M176.9 109.2L177.7 106.6M155.8 84.4L157 82.2M140 88.2L141.2 85.5M188.8 91.1L190.3 90.1M182 83.5L182.5 81.1" stroke="#bcb8b8" stroke-width="1.0" fill="none"/>
<path d="M177.1 108.5L178.8 108.8M134.3 101.5L134.8 99.7M139 109.2L139.7 108.2M164.6 117.1L164.8 115.8M135.6 93.1L136.3 91.6M175.8 120.4L175.8 121.7M140 72L140.9 71.1M180.4 83.8L180.2 81.8M150.3 120.9L151 122.1M165.3 125.8L166.2 125M185.6 86.2L186.6 87M156.9 92.7L158 91.4M180.2 104.3L180.3 105.3M185.4 81.6L186.6 81.7M158.5 113.4L160 112.3M142.8 115.9L144.1 117M168.8 122.7L170.8 123.7M168 110.2L169.2 110.4M184.7 107.5L185.7 109.2M149.2 81.2L149.2 79.4M186.5 73L185.6 71.5M183.1 124.1L183.3 125.3M186.5 73.1L187 71.8M170.1 100.5L170.8 99.8M137 109.8L137.2 108.5M161.1 107.2L162 105.3M137.9 123.5L139.1 125.4M143.1 125.7L145.1 125M188.7 109.5L190.2 110M170.5 121.9L172.1 121.4M172.7 86.1L174.1 86.2M136.8 111.7L137 109.9M152 112.8L153.7 112.9M147.5 76.2L148.4 75.4M168.4 114.2L169.1 115.8" stroke="#181818" stroke-width="1.7" fill="none"/>
<path d="M176.7 93.2L178.1 91.7M180.7 122.5L181 123.4M140.8 117.6L141.7 116.2M162.3 123.6L164 122.2M140 75.1L140.6 73.3M149.6 78.5L150 77.1M145.3 100.9L147 100M162.1 107.7L163.2 107.3M157.3 114.5L157.8 113.4M165.1 120L165.8 118.3M136 116.7L136.1 114.7M156.7 74.7L157.8 73.9M179.3 85.6L179.7 86.7M178.9 104L180.8 104.9M189.5 110.5L191.4 111.2M177.3 70.9L178.1 69.9M163.9 95L165 94M140.1 95.8L140.9 94.6M155 111L156.3 109.4M154 90.8L155.3 89.1M177.2 83.3L178.4 81.8M152.5 97.2L153.2 95.9M146 106.1L147.6 104.6M156.2 76.7L156.8 75.4M182.1 74.8L183.5 74.4M171.1 84.6L171.2 83M160.7 98.9L161 97.2M144.2 81.2L144.1 80.2M139.1 96L139.3 94.4M188.3 109.8L189 110.7M178.1 117.6L178.2 116.2M188.7 91.1L190.2 91.1M173.6 125.9L174.3 124.5M137.1 100.3L137.7 98.8M164 90.4L164.7 89.2M153.5 79.4L153.7 77.5M139.7 81L140.3 79.8M163.5 125.9L164.6 124.2" stroke="#f4f4f4" stroke-width="0.9" fill="none"/>
<path d="M171.4 77.8L171.1 73.5M139.2 72.1L142 68.3M137.3 116.8L139.4 112.6M136.5 109.3L138 104.7M170.7 121.3L173.4 118M174.2 71L176.2 67.7M154.1 111.8L155.2 109.5M153.8 71.5L155.9 67.6M157.7 114.5L160 112.7M188.9 84.8L190.7 86.9M187.3 105.6L188.1 102.7M187.7 123.3L191 126.5M161 101.8L165.1 99.5M188.2 83.8L190.7 80.8M134.1 73.8L136.3 72.3M136.9 105.7L137.7 102.5M140 85.6L142 83M140.2 115.8L141.8 113.7M169.1 74.8L171.5 71.1M144.3 90.9L146.4 88.1M137.8 116.4L139.1 113.6M185.4 87.4L187.1 83.4M174.7 71.2L175.9 69M174.3 120.8L176.4 123.2M189.1 79.6L191.6 75.5M148.6 85.3L148.6 82M167.6 100.2L169.2 96.9M184.3 105.3L186.4 107.8M181.4 74.6L184 71.9M164.3 110.6L165.2 107M136.4 92.6L137.6 88M143.9 103.5L146 100.1M181.1 107.2L183 103.6M164 111.7L165.9 109.8M183.8 96L187.4 98.6M157.2 101.2L158.8 98.4M150.3 85L151.4 80.6M144.5 106.2L146.5 103.5M185.6 72L189 75.6M168.7 76.4L172 72.6M181.6 85.2L183.2 82.8M184.6 113.3L186.5 115.8M183.2 89.2L184.5 86.8M183 86.5L184.3 83.3M152.9 77.9L156.8 75.4M143.9 114.8L146.4 111.3M176.4 78L177 74.8M151.3 90.7L154.2 88.5M139.1 73.1L141 69.1M170 107.8L172.3 105.5M134.2 118.6L135.2 115.7M138.8 98.3L141.6 94.2M140.6 93.7L140.8 89.3M175.4 126.9L178.4 124.6M174.4 81.1L176.1 79.2M144.7 113.2L146.7 111.5M151.1 86.8L154.2 84.1M175.1 99.7L177.6 96.2M135.7 71L137.2 68.9M178.5 115.3L178.5 111.3M144.9 122.5L145.5 126.2M186.5 97.7L188 93.5M177 124.9L178.2 120.3M149.8 72.4L151.8 68.9M172.6 89.1L175 91.5M155.9 117.3L158.1 121.2" stroke="#4f9bd8" stroke-width="1.0" fill="none"/>
<path d="M148.3 72L149.8 70.7M189.3 125.1L189.5 122.4M148.1 121.5L150 120.3M183 76.4L183.9 74.3M142.4 80.4L143.1 79M138.5 95.4L140.8 93.8M162.2 124L163.2 125.9M145.5 99.6L146.9 97.9M167.9 86.2L169 85.2M144.3 102.6L145.3 100.7M149.3 100.4L148.9 97.7M189.3 106.8L190.4 105.2M189.8 112.9L190.6 114.3M171.4 123.9L171.9 125.3M141.3 105.1L142.1 102.9M143 112.9L144.5 110.6M151.1 107.4L151.7 104.6M148.6 124.4L150.6 122.6M171.5 91.6L173.1 89.3M143.4 124.6L144.1 122.5M151.2 122.5L152.4 121M152.6 111.8L153.5 113.7M172.1 121.8L172.7 120.4M185.1 114.9L186.7 116.8M169 82.2L169.8 80.2M165.8 104.9L167.6 106.8M144.9 115.1L146.6 116.8M172.6 114.8L173.6 112.8M150.8 81.6L151.8 80.4M166.3 120.3L168 121.8M155.2 94.7L156.9 93.2M146 71.7L146.8 69.7M152.8 120.5L153.5 122.5M178.4 79.2L178.9 77.8M156.5 98.3L157.2 96.9M152.8 71.4L154.7 69.8M172.1 84.5L173.4 82.1M168 112L169.6 113.3M158.8 76.6L160.5 74.9M160 119.1L162 121.1M174.2 83.3L175.3 80.7M177.5 81.2L178.4 79.7M138.1 116L138.2 114.1M170 118.8L170.8 116M182 113L183.2 110.8M146.6 89L147.2 87.5M163.9 121.1L165.1 119.9M152.7 82.9L153.3 81.3M148.5 85.3L149.7 83.4M138.6 117.8L139.3 115.7M178.4 72.9L178.4 70.6M151.3 87L153.2 84.7M170.3 80.2L171.9 78M135.5 71.8L135.8 70M145.5 108.4L146.8 105.8M137.9 116.5L139.5 114.8M163.7 106.9L164.7 104.9M149.6 113L151.4 114.9M163.5 85.5L165.1 83.4M176.2 118.9L177.5 117.6M170.9 108.4L172.3 110.5M149.5 110L149.6 107.9M139.1 86.3L140.4 84.9M168.3 78.6L169.3 76.4M145.2 104.1L146.7 101.9M175.1 122.3L176.3 120.5M150.1 121.6L151.6 123.4M148.6 120.5L149.4 121.8M179 85.7L180.4 83.3M171.2 93.3L172.8 93M150.2 82.1L151.4 81.1M177 87.6L178.4 89.4" stroke="#bcb8b8" stroke-width="1.0" fill="none"/>
<path d="M181.2 123.5L183.2 124.1M175.9 118.6L177.4 117.6M155.2 94L155.7 92.3M180.5 83.8L181.1 82.3M155.6 111.4L156 113.3M145.1 72L146.6 71.8M135.9 111.3L136.7 110.1M140.1 91.7L141.2 90.3M137.3 71L138.1 70.2M135.5 89.6L135.8 88.6M138.2 99.3L137.8 97.5M179.2 92L180.3 92.8M141.7 70.4L141.7 69.4M136.3 84.2L137.3 82.8M165.6 123.7L165.2 122.4M136.6 104.7L138.6 103.5M156.9 81.6L158 80.3M167.2 79.3L166.1 77.5M173 113.3L174.1 111.7M170.7 81.2L171.6 79.4M156 106.1L156.7 104.9M148.8 112.4L149.1 114.1M153.9 92.4L155.9 93.2M168.8 107L169.8 107.5M158.1 124.8L158.6 126.3M133.6 123.4L135.1 121.6M167.1 87.4L168.1 86M151.1 73.4L153 73.7M151.9 84.7L151.6 83.3M180.8 82.1L182.5 83.5M136.7 86.4L136.8 84.4M153.8 97.9L154.4 96.3M182.2 90.7L182.9 88.8M173.7 112.9L174.8 114.1M180.2 80.5L181.8 79" stroke="#181818" stroke-width="1.7" fill="none"/>
<path d="M138.3 117.9L139 116.9M149.7 75.2L150.9 73.7M187 90.3L188.1 89.3M156.8 84.2L157.3 82.9M169.2 84.1L170.1 83.5M155.4 122.7L155.7 121.2M165.1 89.9L166.2 88.4M156.7 90L156.8 88.9M139.5 117.2L140.7 115.6M138.1 109.6L139 109.1M140.7 85.7L140.9 83.7M140.6 125.9L141.2 125M185.7 83.2L186.8 84.1M171.2 120.8L172.5 119.9M161.8 123.7L163.2 124.2M160.6 115.4L162.4 116.2M149 123.6L149.7 122.7M144 79.1L144.8 77.1M143.1 92.3L144.2 90.8M151.3 96.8L152.8 95.5M139.4 113.5L140.2 112.5M148 122.7L149.1 121.8M138.4 80.4L139.2 79.5M173.7 116.5L174.1 118.2M188.4 114.2L189.8 115.1M179.6 97.5L180.3 98.8M189 89L190.1 90.1M162 125.6L162.7 123.8M168.2 99.9L168.9 100.8M187 118.1L187.9 119.2M152.6 91.7L153.4 90.7M176.7 106.9L177.8 105.6M167.5 116.7L167.8 118.2M144.3 115.8L145.3 115.2M145.6 83.1L146.3 82.2M143.7 119.5L144.5 118.4M186.5 74.3L187.9 73.3M150.8 72.2L152.4 70.8" stroke="#f4f4f4" stroke-width="0.9" fill="none"/>
<path d="M171 105.7L174.2 107.7M134.7 76.1L137.2 72M155 78.8L157 76.7M179 108.2L179.9 105.2M174.4 107.6L175.9 102.9M186.6 88.4L187.8 85.7M178 111.7L179.9 114.7M173.4 83L176.6 79.8M141.5 90.2L143.5 87.1M170.9 98.8L173.3 100.1M169.2 103.1L171.3 99.7M133.2 96.9L135 92.5M179.7 124.4L181.6 120.4M139.6 107L141 104.1M153.5 78.2L156.4 75.4M171 73.5L171.9 70.5M136.9 110.6L140 107.5M170 85.6L172.4 83.1M182 75.2L186 78M162.7 102.2L164.8 106.7M136 79.9L137.6 77.1M152.3 105.2L152.7 101.2M142.8 90.1L144.2 87.7M177.3 73.1L179.2 69M162.9 76.6L166.2 73.9M168.4 100.2L169.6 97.4M153.6 81.2L155.3 78.1M173.3 82.5L175.7 79.6M144.6 96.6L147.5 93.1M185.1 119.8L186.2 122.2M177.2 82L179.8 84.9M179.4 83.8L181.4 79.8M174.9 81.4L176.2 79.2M167.1 88.6L169 86.4M134.8 110.8L137.3 107.9M174.7 126.1L176.5 122M141.6 83.4L145.6 82.1M138.3 109.2L140.3 105.5M166.6 104.5L167.7 106.9M173.9 100L176.3 102.1M150.1 76L153.1 73.3M145 114.6L147.5 112.6M167.9 82.2L170.3 78.3M162.2 126.4L165.5 123M152.4 77.7L153.8 75.2M150.2 72.2L151.4 69.8M181.5 72.5L183.3 70.4M141.7 123.4L143.6 119.4M164.8 83.8L166.5 81.5M173.2 79.1L176.7 75.8M136.7 84.8L139.3 81.1M171.1 89.3L173 87.6M185.1 80.8L187.6 77.9M136.7 78.3L138.8 74.3M189 91.3L190.5 87.6M184.7 82.1L186.9 84.2M147.4 91.4L149.6 87.3M151.7 115.5L154 113.9M138.4 78.9L141.4 76.3M177.9 119L179.4 114.3M172.4 103.5L174.1 105.5M140.9 107.9L144.2 105M184.7 91.8L187.7 89M180.9 115.6L183.4 118.9M162 108.3L164.7 105.9M170.5 122.6L171.8 118.7" stroke="#4f9bd8" stroke-width="1.0" fill="none"/>
</g>
<clipPath id="circ3"><circle cx="162.2" cy="162.8" r="28.9"/></clipPath>
<g clip-path="url(#circ3)" stroke-linecap="round">
<circle cx="162.2" cy="162.8" r="28.9" fill="#686064"/>
<path d="M146.7 164.5L147.4 166.2M172.8 137L171.4 138.3M189.4 158.4L188.8 159.8M175.4 145.6L173.8 146.6M184.2 189.3L184.2 191.8M170.7 167.4L170.3 169.3M170 160.2L169.2 161.5M178.2 134.4L177.7 136.5M184 159.6L184.9 160.4M158.2 157.4L157 157.7M167.8 150.2L166.9 150.8M147.8 182.6L148 184.8M158.1 160.9L157.4 161.6M140.9 165.4L140 166.6M163.5 173.9L165.1 174.3M138.7 167.9L139.9 167.9M178 163L177.3 163.9M138.9 162.7L137.3 162.9M143.3 148.8L144.8 149.9M150.8 178.1L153 179.2M172.9 189L171.7 189.6M166.1 172.9L167.6 173M177.3 176.9L178.5 178.5M143.9 184.8L143.4 185.9M149.2 155.9L148.2 156.3M143.7 143.8L144.3 145.9M165.7 166.5L164.7 168.7M170.9 158.4L170.4 160.8M187.4 174.7L186.4 175.8M151.5 160.2L150.3 161.3M156.1 143.6L157.2 143.7M168.8 153.7L169.8 154.1M134.6 138.9L135.5 139.4M139.4 155.6L140.4 157.3M174.3 155.6L174.4 156.9M138 156.9L136.9 157.1M168.3 178.8L168.2 180.1M153.2 168.2L153.4 169.3M146.4 154.2L144.9 154.2M179.2 157.4L176.8 157.4M139.1 150.7L139.4 151.7M184.2 180L185 181.1M157.4 153.3L159.2 153.6M162.8 181.2L162.6 182.6M164.5 156.7L165.3 158.2M173.4 186.3L175.3 186.9M148.7 140.6L150.5 142.4M164 135.8L165.8 137.4M155 138.9L155.8 141.3M150.9 134.2L151.9 136.1M145.8 136.9L144.2 137M154.5 151.4L155.3 153.1M164.9 184.4L163.1 184.5M173.9 154.1L174.9 155.5M165.2 175.9L163.2 177.1M180.9 143.9L181.9 145.1M184.6 181L185.4 182.4M190.1 171.5L190 172.8M146.4 181.3L145.2 181.6M152.3 139.8L153.6 140.9M160.9 166.5L162.4 168.2M164.3 182.9L164.6 184.6M175.7 153.2L175.9 155.1M144.5 162.8L145.4 163.4M165.8 163L166.9 163.8M155.4 183.6L154.2 184.8M155 135.4L154.6 137.5M134.3 138.2L133.1 139.2" stroke="#b4aab0" stroke-width="1.0" fill="none"/>
<path d="M180.1 159.2L179.6 160.1M166.7 148.8L165.7 149.7M153.9 191.4L155 191.9M140.2 169.9L141.7 170.3M187.2 157.8L186.4 158.8M136.9 147.1L136.5 148.4M145.5 146.7L146.5 147.5M173.9 190.2L175.2 190.8M134.1 188.3L134.7 189.2M151.2 182.2L149.8 182.5M144.5 186.7L145.3 187.8M164.4 157L165 157.9M164.8 161L164.8 162.2M155.6 139.7L154.8 140.5M136 163.3L135 163.5M141.8 175.6L140.6 176.5M168.2 157.2L167.1 157.4M179.1 150.9L178.3 151.3M179.7 172.7L180.9 172.7M133.3 135.9L134.1 136.3M157.3 174.3L158.8 174.6M181.8 136L182.5 136.8M170.3 161.6L171.3 162.3M166.3 181.2L166.7 182.1M145.7 175L145.6 176.1M169.1 140.6L169.1 141.6" stroke="#1a1a1a" stroke-width="1.3" fill="none"/>
<path d="M157.9 184.7L157.5 185.7M166.5 169.6L167.1 170.6M156.5 146.6L158 146.8M169.1 181L169.4 181.8M160.6 140.8L159.3 141M137.6 187.5L139.3 187.6M135.4 149.5L134.3 150.9M173.6 145.5L172.7 147M174.3 170.1L173.5 170.2M138.1 189.3L137.7 190.3M137.2 167.9L137.9 168.4M154.4 171.5L152.9 171.8M167 137.5L166.7 138.3M156.9 188.1L157.5 189.2M141.1 165.3L140.6 166.6M153.8 190.6L152.5 191.5M174.5 144.6L173.8 145.7M150.4 185.4L151.4 186.1M141.1 134.1L141.4 135.7M147.2 155.1L147.2 156.2M162.3 148.4L162.7 149.3M158.1 155.4L159.4 155.8M154.2 170.7L155.5 170.8M149.6 163.5L149.9 164.6M170.2 189.7L170 191.2M185.2 169.7L185.8 170.4M138 182.3L138.5 183.5M176.7 188L177.4 188.7M139.3 148.9L137.8 148.9M167.1 149.5L167.7 150.1" stroke="#eee6ea" stroke-width="0.9" fill="none"/>
<path d="M175.8 150.7L177 152M177.8 183.2L176.4 184.9M154.7 176.7L155.3 178.4M157.9 144.5L155.5 144.8M180 166.4L179.7 168.9M185.6 185.2L187 186.8M182.5 165.1L184.2 165.7M155.5 134.6L155.7 136.3M141.3 148.9L140.1 150.1M186.1 144.5L186 146.6M140.2 185L137.8 185M151 162.2L150.6 164.8M177.6 176.5L176.9 178.7M160.6 173.5L158.1 174.7M187.8 154.6L186.5 156.6M143.3 146.4L145.2 146.6M144 161.8L142.5 163.7M176.3 183.4L179 183.9M151.9 165L151.3 167.5M164.6 146.4L164.1 147.9M187.5 163.6L186.9 166.2M179.7 159.5L178.5 160.9M173.9 188.7L176.1 189.4M181 133.3L179 135.3M147.8 149.9L146.2 151.1M157 142.4L157.2 144.8M143.7 133.9L143.7 136.1M147.7 176.7L146.7 178M154.4 161.4L154.9 163.8M133.5 157.6L133.8 159.3M144.4 133.7L144.8 135.4M135.6 185L134.2 185.9M174.1 148.4L174.6 151M154.3 159.2L155 161M147 149.6L147.6 151.2M167.1 136.5L169.1 137.5M135 187.2L133.7 188.4M157.2 177.9L158.7 179.3M138.8 174.7L140.3 177M146.6 171.3L144.5 172.5M138.3 147.8L136.9 149.2M136.6 183L138.5 184.2M137.9 182.7L139.6 183.8M150.9 147.1L149.3 147.5M163.7 185.3L165.4 185.5M165.3 153.7L167.1 154.9M152.7 164.7L154.5 165.2M173 172.5L173.2 174.5M141 138.6L139.3 139.7M149.8 154.2L149.9 155.8M151.2 142L153.5 142.4M149 139.5L151.2 139.8M163 158.5L163.6 160M146.7 136.7L147.5 138.6M138.4 159.7L137.2 160.6M183.3 141.4L182.2 143.1M152.6 155L151.4 157.3M142.2 153.7L144 153.7M179.3 134.8L178 137.1M138.4 158.8L137.4 160.2M169.3 183.2L171.9 183.5M178.9 142.6L179.9 144.2M189.4 166.7L190.6 167.8M183.6 150L182.9 151.6M176 166.9L174.3 167.7M189.2 165.8L188.4 167.1M160.8 173.2L163.3 174.1M186.4 158.1L187.2 159.4M177.4 184.2L178.4 186.5M181.8 142.2L180.6 144M175.3 142.8L173.6 143.9M153.7 166.4L155.4 167M187.3 190.8L189.2 191.2M179.9 160.3L181 162.7M162.6 174.1L162.6 176M165.3 180.4L163 181.6M149.7 179.5L152 181M169.2 152.6L168 153.5M137.8 181.7L139.5 183.6M146.9 184.5L145.6 185.7M167.5 147L170.1 147M167.2 153.4L167.3 155.3M150.9 180.6L152.9 182.1M165.1 158L162.4 158.1M138.1 135.7L139.2 137.6M152.2 158L154.4 159.7M189.4 179.6L191.6 180.9M157.2 185L158 187M174.4 141.9L176.7 142.7M175 139.4L175.2 140.9M185.1 144.8L184.5 146.7M179 183.5L181.1 184.2" stroke="#3cbcc6" stroke-width="0.9" fill="none"/>
<path d="M168.3 137.6L170.6 137.7M151.5 135.3L149.9 136M162.2 155.4L163 157M150.9 137L148.7 138.1M151.4 137.9L151 138.8M187.4 162.2L187.9 164.2M173.6 176.5L174.7 176.6M151.8 146.4L150.7 147.2M164.8 144.3L163 145.6M134.7 188L132.4 188.9M186.7 173.7L184.4 174.3M153.8 144.2L153.5 146.4M136 141L137 141.4M137.5 143.3L138.3 145.1M158.7 184.6L157.1 184.9M177.5 136.3L178.6 136.6M175.9 187.8L177.3 188.1M177.1 142.3L175.9 144.1M152.2 146.3L150.8 148.3M160.9 167.4L161.1 169.6M143.4 148.3L145.1 149.4M157.8 161.4L159.3 162.6M170.4 179.7L171.8 181.3M186.6 141.2L187.7 143M163 147.7L161.9 148.7M180.6 176.6L180.3 177.8M173.8 150.8L172.2 151.6M185.6 141.1L184.1 142.3M180.7 187.4L179.2 188.1M144.2 185.3L143.2 186.5M142.5 162.1L143.5 162.3M176 149.3L174.7 150.3M137 171.5L135.8 171.9M187.7 143.2L186.2 144.8M174.3 134.2L174.5 136.3M165.2 140L167.1 140.5M144.1 138.2L143.1 138.8M182.1 167.9L181 168.6M157.7 138.4L158.7 139.2M149.7 187.6L150.7 188.2M142.9 177L141.4 179M179.1 134.1L180.7 134.8M137.9 151.1L139.5 152.7M143.6 133.8L142.5 135.9M180.3 160L179.1 160.1M155.9 163.3L153.6 164M137.4 146.9L138.3 147.5M140.6 185.6L142.7 186.9M149 141.2L150.1 141.8M178.4 165.9L178.6 167.7M182.6 140.5L184.9 140.6M191 187.5L189 188.5M158 169.4L159.6 169.8M156.9 154.4L155.8 156.5M186.4 158.9L185.8 159.9M163.3 158L162.5 159.8M166.3 184.5L167.6 185.5M149.7 185.5L151.4 186.3M185.6 156.5L186.6 157.3M166.3 147.6L165.6 148.6M174 146.1L171.9 147.4M166.5 181.2L167.4 181.9M147.9 173.4L147.6 175M165.2 186.9L163.6 187.6M191 178.7L189.5 180.5M173.6 158.2L172.5 159M185.5 145L187.6 146.2M159.9 190.7L159.4 192" stroke="#b4aab0" stroke-width="1.0" fill="none"/>
<path d="M146.7 159.7L145.8 160.4M171.6 175.8L171.5 177M161.6 148.1L160.5 148.3M135.5 189.4L136.2 189.9M156 160.4L155.8 161.2M146.8 144.3L147.7 144.5M169.7 175.7L171.1 176.2M185.5 140.2L185.1 141.7M189 150L190.4 150.4M180.3 137.6L181 138.3M139.3 185.3L139.6 186.3M161.3 178.2L161.6 179.6M159.9 174.8L161.3 175.7M177 179.9L175.6 179.9M174.3 176.2L173.8 177.6M148.9 147.1L150.2 147.8M145.5 139.1L146.1 140.3M161.6 159.1L161 159.9M162 136.2L161.1 136.8M182 167L183 167.9M182.3 187.2L181.6 188.3M158.8 172.4L157.5 172.9M161.3 189.3L160.1 189.7M185.3 171.6L185.8 172.8M167.7 159.2L167 160.5M187.1 179.7L187.2 181.1" stroke="#1a1a1a" stroke-width="1.3" fill="none"/>
<path d="M180.9 154.3L179.8 154.6M190.1 190.1L191.1 190.1M166.2 151.2L165.3 151.7M142.8 170.1L143.7 170.2M175.5 184.9L176.7 186M147.7 180.8L146.3 181.7M170.4 182.9L169.2 183.7M156.1 188.7L155.5 190.3M143 189.6L143.6 191M159.5 139L160.8 140M161.2 163.4L160.7 164.5M169.2 169.5L170 170.7M183.2 151.2L181.6 151.6M182.4 147.6L183.8 148.4M161.7 156.4L163 157.3M137.6 182.7L137.8 183.5M160.9 166.2L161.5 167.1M140.8 141.9L140.7 143.1M150 150.1L149.3 150.7M171.9 148.5L170.8 148.8M147.4 176.6L147 177.8M148.1 177.4L148 178.5M158.4 171.8L157.4 172.4M152 145.7L151.9 147.1M171.5 183.3L170.5 183.8M168.2 160.3L167.7 161.1M166.8 174.7L167.7 176.1M186.4 189.2L187.8 189.9M184.5 177L185.6 177.5M154.2 162.9L153.8 164.6" stroke="#eee6ea" stroke-width="0.9" fill="none"/>
<path d="M174.3 159.8L176.1 160.7M165 139.3L164.1 141.9M133.9 175.2L132.8 176.3M165.2 161.7L164.5 163.4M180.1 181.1L181.6 183.1M189 138.9L190.7 139.3M187.1 152L187.3 154.7M188.5 154.3L186.8 155.4M185.5 148.3L184.2 150.2M144.6 159.2L144.9 161.2M185.5 166L186.5 167.4M153.1 132.8L153.9 135.4M166.6 175.9L165.6 177.4M146.5 185.4L146.7 187.6M174.2 156.3L176.2 157.7M183.5 167L181.3 168.6M171.1 185L169.6 186.5M144.1 189.6L142.3 189.7M160.7 157.2L160.3 159.2M155.3 175L156.5 176.2M174.9 148L176.4 149.8M191.1 171.8L190.9 173.3M147.2 186.7L147.2 189.2M183.3 183.9L183.8 186.1M151.6 172L152 174.6M148.9 148.2L148.8 150.3M178.6 171.8L178.3 173.3M191 174.6L189.8 176.1M158.5 183.4L156.2 184.6M157.2 177.9L154.7 178.8M148.7 178.7L147.3 180.1M171.3 144.3L169.9 145.7M161.7 162.5L160.6 163.8M187.2 154.3L189 155.8M185.9 162.9L184.7 164.3M153.7 136.7L152.1 137.8M169.9 135.7L167.9 136.9M187.9 183.8L186.5 184.4M168.2 173.2L170.7 174.3M145.1 136.3L142.7 136.4M133.7 181.9L134.1 183.4M182.9 181.3L181.1 182.2M168.6 153.2L166.2 154.1M150.6 160L149.2 161.9M155.6 170.6L157.5 171.4M178.7 174.4L177.3 176.2M191 147.8L189.7 148.7M149 154.2L149.5 156.5M133.4 149.1L133.3 151.2M154.6 151.5L157 152.4M147.9 142.8L150.3 143.2M150 188.6L152.1 188.6M189.9 152.1L190.1 154.1M159.2 146.5L160 148.2M168.1 148.1L166.3 149.9M155.3 161.1L156.9 161.9M157.6 161L158.4 162.6M170.1 138.9L171.6 139.5M171.4 173.3L170.5 175.1M152 161L151.8 162.7M156.4 178.5L155.9 180.4M166.3 184.9L165.5 187M133.4 134.3L135.2 135.1M139.4 157.7L139.6 159.2M137.5 182.7L136.8 185.2M174.3 164.2L172.8 165.4M167.8 135.4L170.4 135.4M147.7 152.9L148.4 154.7M140.5 184.3L141 186.2M145.9 146.9L143.6 147.3M136 184.2L137.6 185.6M133.6 157.9L135.4 159.6M180 157L179.9 159.2M173.5 185.8L173.2 187.7M162.2 170.2L159.6 170.6M149.5 186.3L151.6 186.8M140.4 137.3L139.8 139.8M178.2 184.8L177.6 187M151.8 169.2L151.7 171.9M138.4 157.3L138.9 159.4M134.7 176.3L134.5 178.7M187.3 154.5L188.6 156.4M137.4 161L138 163.3M174.4 147.4L175.9 148.8M191.7 134.4L190.2 136.5M156.7 161.5L157.8 163.9M140 180.6L138.4 181M136.4 139.8L134.3 140.2M155.9 139.1L158 140M179.2 154.3L179.5 156.9M181.8 153.9L182.8 156.3M143.7 189.9L145.8 191" stroke="#3cbcc6" stroke-width="0.9" fill="none"/>
<path d="M149.1 147.4L147.4 147.5M175.6 183.8L174.1 185.6M167.7 185.2L166.4 187.2M138.2 179.6L138.6 180.8M144.9 156.9L144.5 158.1M147.9 151.2L146.1 151.4M171.8 189L173 190.2M144.5 158.6L143.8 159.5M144.7 149.4L143.1 150.6M159.1 188.7L157.8 189M184.2 167.2L186.4 167.3M144.3 179.4L142.1 179.9M188.8 183.1L190.5 183.5M179.3 155.3L177.8 156.4M184.6 179L185.8 180.2M183.1 144.2L185.3 144.3M165.4 181.3L166.4 182.2M172.2 162.8L172.3 164.8M150.1 173.6L150.7 175.8M180.7 165.1L180.9 167.1M182.1 185.1L183.7 186.7M188.6 155.9L188.4 157.1M188.9 172.2L188.8 173.4M168.2 165.2L167.5 166.7M152.7 156.1L152.4 158.3M156.4 144.2L156.2 146M167 175.9L169.1 175.9M135.8 154.3L136.6 155.1M176.5 161.8L177.5 162.1M154.9 163.9L154.5 165.1M159.5 157L158.9 157.9M186.7 150.8L187.7 151.8M190.6 160.8L188.6 162.2M182.4 165.7L180.9 166.1M171.6 138.7L173.3 140.3M146.3 136.3L148.1 137.2M133.7 189.1L135.6 190.4M164.8 160.3L164.1 161.2M188.3 175.4L186 176.4M175.1 149.9L175 151.9M189.7 184L190.2 185.1M163.6 143.4L164.9 143.6M156.7 148.8L158.3 149.1M186.3 159.9L185.1 162M151.2 163L151.8 165.2M171.1 145L169.9 145.3M164.6 176.4L162.9 177.3M171.8 171.1L172.8 171.5M153 186.6L154.3 186.9M159.4 164.5L158.3 165.1M179.7 190.5L178.7 192M149.5 189.9L150.3 190.8M181.2 178.6L183.4 179M166.5 141.9L167.7 142.8M184.1 154.6L184.3 156.9M159.5 139.4L157.5 139.6M137.2 170.9L139.6 171.1M170 153.6L168.3 155.2M135.1 161.7L135.9 163.8M171.2 168.6L173 169.7M153.3 190.8L153.3 192.1M176.6 164.9L178 166.8M139.1 165L140.2 166.8M155.8 137.2L156.7 138.3M139.5 174.1L138.5 175M164.6 167.2L164.9 168.3M176.5 161.5L175.6 162.4M173.2 133.2L174.5 134.8" stroke="#b4aab0" stroke-width="1.0" fill="none"/>
<path d="M146.1 157.8L147.1 158.1M151.6 137.2L150.6 137.9M133.3 161.3L134.7 161.3M176.8 164.2L175.9 165M150.6 176.1L151.4 177M162.9 148.4L161.7 148.9M160.9 155.2L160.9 156.3M150.8 183.2L149.7 183.5M147.9 146.6L146.9 146.8M143 189.7L141.5 190.1M170.8 167.9L171.4 168.5M160.6 140.5L161.8 141.2M139.3 183.6L140.5 184.3M183.2 165.4L184.6 165.8M173.1 134.4L174.2 135.1M158.7 155.8L158.6 157.1M154.6 188.1L154.1 189.2M148.6 141L148.3 142.2M150.4 169.5L150.1 170.6M170.3 137.1L169.6 137.8M189.4 149L189.9 149.7M186.7 173.6L187.2 174.7M183 184.6L184.3 185.3M158.5 170.5L158.4 171.6M190.3 139.6L189.9 141.1M154.9 163.8L156.2 164.5" stroke="#1a1a1a" stroke-width="1.3" fill="none"/>
<path d="M137.3 189.9L138.3 190.2M145.9 179.4L146.7 180M158.6 138.2L159.4 139.7M179.3 184.3L177.8 185M187.9 149.1L189.4 149.7M160 173.6L161 174.9M154.9 148.1L156.1 148.8M164 177L163.4 177.8M167.4 156.2L167.6 157.6M174 183.8L174.8 184.2M186.7 179L187.4 179.4M170.8 167.1L170.8 168.6M140.5 156.8L141.9 157.6M152.1 185.1L151.1 185.8M184.5 165.9L185.7 167.1M178.3 187.6L179.5 187.8M185.2 154.8L186.9 155.4M164.1 145.9L164.7 146.9M133.7 172.1L134.9 172.4M145.6 138.2L146.6 138.6M160.8 169L160.3 169.7M180.5 159.6L181.6 159.9M168 148.9L168.2 150.3M137.9 167.3L139 168.8M145.5 164.9L145.2 166M183.7 157.9L184 159.5M132.9 182.3L133.7 183.5M187.5 148.8L186.6 149.5M189 183.1L187.4 183.1M136.5 148.4L138.2 148.9" stroke="#eee6ea" stroke-width="0.9" fill="none"/>
<path d="M166.5 154.2L165.8 156.7M146.2 168.7L144.1 169.7M135.9 151.6L137.9 153.1M138.3 165.2L136.7 165.7M187.5 167.1L189.3 167.1M176.4 151.7L174.8 153.7M172.8 178.5L173 180.7M151.5 181.6L152.9 183.3M147.7 163L146.9 164.7M178.9 190.8L177.1 191M150.5 141.9L151.2 143.3M142.6 169.7L144.3 170.5M170.7 173.7L171 176.3M135 183L136.4 184.2M171.6 153.5L170.8 154.9M143.2 182.5L140.9 183.3M176 171.6L176.8 173.1M151.4 142L149 142.6M174.9 139.7L176.2 140.5M177.7 144.7L175.5 145.4M171.9 146.2L173.4 147.7M153.7 133.2L154 134.9M176.9 141.2L179.4 142M140.4 178.8L139.4 180.6M173.3 181L173.7 183M133.2 136.4L134.2 138.6M186.3 147.6L187.5 148.8M189.7 158.2L188.6 160.7M176.3 142.6L177 145.1M178.8 137.2L179.7 139.1M134.2 177.4L135.3 178.6M172.5 164.5L174.6 165.1M160.1 162.8L159.6 165.1M133.9 153.1L133.4 155.6M170.8 185.7L172.8 187.5M184.7 154.5L186.4 155.6M174.7 157.5L175.2 160M188.3 165.7L190.8 166.9M149.7 144.7L150.3 147.2M149.4 175.6L148.8 177.9M177.6 162.7L175.3 163.8M136.6 189.8L138.1 191.9M153.3 157.9L151.8 159.5M140.9 155.8L139.8 157.1M165.8 137L166.6 138.3M187.5 155.6L187.1 158.4M150.3 162.6L151.8 164.8M156.3 152.7L158.1 154.2M142.4 182.2L141.3 183.7M172.3 161.8L174.7 162.4M150.6 183.1L148.2 184M175.5 168.4L173.4 169.6M166.5 178.8L164.3 179.2M142.8 162.6L144.1 163.8M183.2 178.7L185.5 179.3M158.2 144.4L156 145.6M185.5 185.4L185.8 187M133.1 162.9L135 164.5M139 154.7L140.4 156.8M142.6 133.5L144.1 135.9M165 135.1L162.4 135.6M157.1 143L158.9 145.1M142.6 146.3L142 147.9M163.3 157.2L164.4 159.5M175.9 177.3L177 179.7M171.3 162.8L169.7 164.1M178.2 168.7L178.7 170.4M174.9 182.3L175.9 184.7M133.9 137.1L134.5 138.6M163.1 162.3L161 163.4M138.9 162.8L138.6 165.4M148.6 144.3L147.5 145.7M135 135.8L133 136.4M172.5 162.1L174.2 162.1M190.4 179.4L190.5 181.4M139.3 155.6L136.9 156.5M174.9 156.7L173.8 158M189 141.9L191.1 142.6M160.6 162.6L160.6 164.4M174.3 146.4L175.7 147.8M144.1 175.3L145.7 177M145.8 139.1L146.2 141.6M133.2 139.7L134 142.3M151.1 146L152.6 147.1M149.2 177.9L147.7 178.6M141.8 187L144 188.5M135.1 179.7L136.2 181.8M176.2 160.5L174.8 162.1M135.7 150.4L133.9 150.8M190.1 167.6L191 170.1M174.5 191.3L176 191.9M175 144.7L174.6 146.3" stroke="#3cbcc6" stroke-width="0.9" fill="none"/>
<path d="M181.9 160.9L181.4 162M155.9 179L156.3 181.4M183.1 190.6L182.5 191.7M150.8 178.1L149.8 178.5M135.1 183L136.4 185.1M164.8 133.7L165.2 135.5M167.3 151.7L167.9 153.1M152.6 152.8L151.2 153.6M179.2 153.6L180.6 154.1M176.8 181.5L176 183M143.7 150.5L142.8 152M181.3 133.3L180.4 135.4M151.1 151.2L152 153M158.2 154.4L158.3 156.5M141 179.9L139.8 181.9M140.9 181.7L139.7 183.6M148.3 168.9L147.2 170.1M184.2 142.2L186.2 142.8M166.7 149L167.5 149.7M183.6 156.1L182 157.9M151.8 157.9L151 158.8M148.1 172L150.3 172.8M162.5 153.5L161.2 155M150.3 143.9L152.4 144.3M153 182.6L154.4 183.1M145.4 148L144.6 148.7M171.6 161.5L171.5 163.2M163.8 186.7L165.1 188.6M137 145.1L138.6 145.9M133.9 145.6L133 146.4M155.4 156.7L157.8 156.9M180.1 169.8L180.7 170.8M187.1 135.1L188.2 136.7M157.9 146.6L156.6 147.7M171.2 184.4L169.7 185M166.2 133.8L168.1 135.4M137.4 160.1L139.1 161.5M152.4 161.7L154.2 162.1M168.8 186.9L168.6 188.5M135.1 176.3L136.2 177.6M151.4 159.8L151.3 161.6M178.9 160.7L176.7 160.9M170.6 172.6L168.5 173.2M180.1 167.9L180.6 169.6M181.3 187.2L181 188.2M155.1 181.2L155.8 182.4M179.8 133.3L181.3 135.2M176.3 143.5L178.1 144.7M188.3 191.5L186.9 191.6M168.2 187.5L167.1 188.1M177.7 138.4L177.5 140.1M161.8 175.4L162.7 177.1M155.2 190L155.8 191.2M168.1 141.8L169.5 142.2M150.7 144.4L149.1 145.4M139 158.6L137.2 160.3M162.9 166.9L164.2 167.3M182.4 176.2L183.3 176.9M181.2 136.4L181.7 137.9M156.4 164.2L155.8 166M175.4 152.8L174.1 154.2M185.6 165.2L183.3 165.2M142.6 156.2L143.9 157.2M188.6 140.5L186.9 140.8M159.2 189.3L160.3 191.1M142.3 170.3L144 171.6M164.9 172L164.5 173.1M143.2 135L143.1 136.5" stroke="#b4aab0" stroke-width="1.0" fill="none"/>
<path d="M166.6 164.9L166.3 165.9M139.2 186.8L138.9 188.1M182.9 186.1L184.2 186.3M170.1 138.2L169.4 139.2M148.5 153.9L147.8 155.2M152.3 158.7L153.6 158.9M145.2 156.1L144.6 157.3M142.2 146.1L141.2 146.6M185.1 152.8L185.7 153.6M165.4 140.2L165.6 141M167.1 135.1L166.1 135.5M161 155.3L161 156.7M148.5 137.7L148.3 139.2M139 138.6L138.1 139.1M189.5 146L189.2 146.9M152.2 152.9L151.2 153.8M171.7 168.1L171.2 169.2M132.7 143.7L134 144.6M182.8 163.5L183.2 164.3M190.6 141.7L191.3 142.5M143.1 179.8L144.4 180.3M176.3 180.5L176.8 181.5M181.9 190.8L181.1 191.6M190.3 184.7L189.6 185.4M171.6 167.2L170.9 167.6M176.8 177.6L178.2 178" stroke="#1a1a1a" stroke-width="1.3" fill="none"/>
<path d="M178 139.7L177.8 141.4M178.2 143.6L176.9 143.7M161.7 142.3L162.7 143.3M165.8 183.9L165 185M184.5 179.4L184.9 180.7M139.7 184.6L139.5 185.4M144.7 176.1L145.5 177.3M163.2 166.8L163.3 168.2M190.7 164.4L189.8 165.1M155.6 162.1L154.9 163M188.4 157.5L189.3 157.8M145.5 175.1L144.7 175.2M138 137.9L139.6 138.5M153.1 139.5L152 140M145.3 143L144.6 144.5M184.9 152.5L185.9 153.8M162.6 172.5L163.1 173.4M185 137.8L185.4 139.4M142.2 168.4L141.1 169M184.2 157.1L184.5 158.8M181.6 159.9L182.5 161.4M137.2 158.5L135.5 159M136.3 163.1L136.3 164.1M187.8 141L187.2 142M183.4 182.4L182.7 183.5M168 159.1L168.7 160.1M150.6 176.6L151.1 177.9M178.8 162.8L178.8 163.7M175 177.9L173.8 178.2M170.2 171.6L169.5 172.1" stroke="#eee6ea" stroke-width="0.9" fill="none"/>
<path d="M169.5 179.1L171.1 181.3M154.5 146.6L152.7 148.6M144.4 166.7L144.1 168.7M191.3 155.5L188.8 155.5M172.1 158.2L169.8 158.8M180.7 135.2L179.3 137.3M136.8 144.9L138.7 146M170.7 190.7L169.8 192M165 170L163.1 170.3M154 188.6L155.6 189M136.8 185.2L134.5 186.4M169.2 138.7L169.6 141M151.7 164.7L151.2 166.9M150.4 146.7L151.5 148.2M179.4 185.8L177.8 185.9M152.4 143.1L152.8 145M155.8 174.7L154.4 176.1M188.6 179.4L189.7 181.7M157.5 181.8L156.8 184.1M184.6 163.8L184.7 165.6M137.1 179.7L136.3 181.2M146.6 151.2L148.3 152M179.9 158.9L181.4 159M135.8 143L136.6 145.5M160.5 190.8L158.3 191.2M154.7 134.2L156 135.4M166.8 171L167.8 172.5M180.7 143.7L182.4 144.4M152.9 166.2L154.9 167.8M134.1 178.1L135.7 180M176 185.4L177.6 187M170.2 136.5L172 136.7M148.9 160.5L149.1 162.1M151.6 136.8L150.1 137M150.8 175.2L148.7 175.6M181.3 185.3L180.9 187.1M150.4 137.9L152.9 138.9M139.6 190.7L141.2 190.9M152.2 160.3L151.7 162M153.7 171.6L154.4 173.5M180.5 183.7L181.4 186.1M157.1 158.3L156.8 160.5M170.3 152.2L169.8 154.5M139.5 181.5L141.2 181.5M184.9 134L186.9 135.1M180 160.5L178 162M187.4 150.5L189.9 151.7M188.3 143.8L186.6 145.3M150.6 148.6L152.9 148.7M155.6 184.1L154.8 185.7M146.8 187.2L145.8 189.6M184.8 189.4L182.7 190.3M187.4 154.1L187.6 156.1M186.6 184.1L187.4 186.2M164.8 150.7L166.5 151.9M169 173.7L170.3 174.4M184.3 160L182.9 161.5M173.9 162.8L171.2 163.4M183.5 188.8L184.8 191.1M144.6 176.4L143.5 178.7M171.5 170.5L170.1 172.1M186.3 170.8L185.3 172.3M140.4 177.6L141.9 179.4M183.9 156.4L185.4 158.5M168.3 157L169.7 157.8M181.1 183.1L180.9 185.2M161.6 185.6L160.9 187.1M150.8 148.8L149.5 149.8M170.7 190.5L172.2 192.5M147.2 187.6L145 188.7M188.9 184.2L187.9 186M180.7 164L182.9 165.1M159.9 165.3L158 167.1M187.5 171.1L190 171.3M185.2 186.1L186.6 188.2M190.7 165.4L190.6 167.2M151.7 150.1L152.8 151.1M175.1 163.8L175.2 165.9M186.9 153.3L188.5 154.1M142.9 158.5L142.3 160.3M188.3 167.9L189.9 168.8M153.8 149.3L155.2 151.1M162.5 182.3L162.2 185.1M149.8 139.1L151.3 141.4M172 160.7L170.7 161.8M157.1 167.7L158.9 169.4M180.7 187L180.6 189.6M141.9 151.4L141.2 152.9M181.9 134.9L183.1 135.9M181.9 145L182.3 147.7M173.4 162.3L171.4 163M135.4 150L137.4 150.5" stroke="#3cbcc6" stroke-width="0.9" fill="none"/>
<path d="M170.1 183L169.9 185.1M183.5 139.3L184.7 139.8M183.9 189.4L182.2 189.9M169.3 135.9L168.3 137.1M185 154.9L185.2 156.6M134.7 169L134.2 170M154.2 167.7L155.1 169M182.3 142.8L183.2 144.5M178.8 148.9L179.6 150.3M149.6 153.3L150.4 154M157.5 187.5L157 188.9M135.6 148.9L136.8 150.3M166.6 154.3L167.8 155.2M157.5 173.3L157.7 174.7M179.7 171.8L178.5 173.2M188.8 167.1L187.9 167.7M154.2 156.1L154.9 157.6M186.1 162.8L186.5 164.8M160.4 155.6L161.7 156.4M159.5 146.5L161.1 147.9M138.2 181.5L139.1 182.7M186.6 139.4L185.1 139.6M166.5 143.5L165.6 145.3M177.4 164.7L176.4 165.9M139.9 139.7L138.3 141.1M180.5 185.3L178.9 185.5M143.6 164.4L145.4 164.6M174.3 141.3L172.6 142.1M173.5 164L174 165.9M159.4 144.8L160.4 145.6M145.9 138.7L146 140M172.9 189.4L172.6 190.4M187.3 138.1L188.7 139.9M149.5 143L148.3 144.4M184.8 175.6L185.5 176.9M145.7 165.4L146.3 167.5M169.7 170.2L168 171.8M176.2 157.5L175.4 159.2M188.9 186L187.2 186.2M153.7 176.3L152.7 177.3M153.6 182.5L154.6 183.8M189.5 135.7L190.3 136.2M148.4 141L146.8 142.5M143.9 143.4L142.5 145.5M166.5 165L166.5 166.4M187.8 187.8L188.6 189.1M137.3 148.7L137.3 150.1M184.8 136.6L183 136.8M153.7 187.8L153.8 189.9M188.4 182.1L189.6 182.8M141.3 167.9L142.2 169.3M149.5 188.9L149.7 190.6M164.8 183.9L165.3 186.1M149.8 134.4L149.5 136.8M138 135.1L138.4 136M137.1 133.6L137.2 135.3M160.5 182.7L160.3 184.2M157.4 151.3L159.3 152.6M142.9 147.6L144.3 149.1M159.8 136.4L158 137.8M140.3 164L138.8 164.8M175.5 150.7L177.5 150.8M165.8 139.9L167.5 140.2M159 149L157.8 149.1M142.3 171.8L143.4 173.1M163.4 188.5L161.6 189.5M141.8 169.8L140.6 170.2M190.1 139.3L188.8 140.2" stroke="#b4aab0" stroke-width="1.0" fill="none"/>
<path d="M134.5 135L135 135.9M159.1 141.2L158.2 141.2M150.6 160.8L151.2 161.6M188.3 134.1L189.6 134.4M188.2 161.1L189 161.8M177 154.5L176.4 155.3M186.9 144.9L185.5 145.4M152 159.4L151.1 159.6M164.5 165.7L164.8 166.8M185.1 148.6L186.1 149.9M142.6 152.7L143.6 153M154.8 154.4L155.2 155.2M182.6 184.6L181.7 184.6M171 135.1L172.1 136M182.3 159L182.2 160.3M151.1 138L149.7 138.3M163.9 162.1L163.1 162.5M159.2 166.1L160 167.1M165.3 154.4L165.2 155.4M183.2 180.8L183 181.7M156.7 184.2L155.7 185.1M169.2 147L168.4 147.2M144.7 171.2L145.8 172.1M145.1 175.8L144 176.5M179.3 169.4L179 170.4M134 166.1L134 167" stroke="#1a1a1a" stroke-width="1.3" fill="none"/>
<path d="M168 153.5L166.8 154.6M184.6 180.8L185.9 181.8M148.5 185L150.2 185.3M157.4 135.2L158.4 135.5M139.7 146.7L140.1 148.2M187.2 152.1L188.2 152.3M164.4 169.9L165.4 170.4M186.2 179.6L185.5 180.1M175 168.2L173.9 169.5M175.4 167L176.4 168.3M173.5 143.4L174.1 144.8M147.1 190.7L148.7 191.1M147.5 151.9L147.7 153.2M152.4 143.6L153.7 144.7M166.9 140.2L165.9 140.3M159.5 191.2L158.1 192M152 181.4L153.1 182.7M166.8 148.7L165.9 148.7M149.3 169.6L148.8 170.3M188.8 177.8L189.6 178.5M176.4 154.1L177.7 154.2M170.6 142.5L171.4 143.2M147.5 181.1L147.9 182M140.5 184.3L139 184.7M173.9 144.9L173.1 145.4M135.5 148.5L134.7 148.9M152.2 181.7L151.5 182.3M170.8 174.1L171.3 174.7M134.7 151.9L135.8 152M185.8 152.6L185.3 153.7" stroke="#eee6ea" stroke-width="0.9" fill="none"/>
<path d="M186.9 164.5L188.5 164.6M184.9 156.1L183.1 158M182.7 158L182.7 160.4M150.3 145.7L147.7 146.7M173.8 141.4L173.6 143.9M174.9 183.2L173 184.5M164.1 137.3L163.4 138.8M160.5 188.5L158.8 189.4M143.7 162.2L143 164.2M137.1 188.4L137 190.4M153.8 158.7L153.5 161.2M156.6 177.2L154.9 178M142.9 172.1L145 172.9M165.1 153.8L163.1 155.6M172.2 178.6L174.3 179.6M148.7 172L148 173.7M164.9 137.2L164.3 139.2M153.6 151.8L154.2 154.1M186.8 180.7L187.9 182.1M136 188.5L137.3 189.5M165.8 167.8L167.8 168.4M162.7 140.3L162.2 143M179.1 173L180.1 175.2M159.8 183.4L161.3 184.4M162.9 137.6L160.8 138.6M178.4 147L176.5 147.1M134.4 167.6L133.4 168.9M140.3 184L140.1 186.1M153.3 154.4L151.9 155.2M171.9 148.4L172.8 150.2M184.2 163.2L185 164.7M174.8 189.1L175.2 191.7M179 188.3L178.6 190.3M158.5 163.4L156.5 163.5M186.9 155.4L187.4 158.1M163.5 148.4L164.1 149.7M149.5 136.8L149.2 138.4M161 167.8L160.3 170.3M140.9 156.5L139.4 158.3M152.9 176.1L151.2 176.9M161 170.8L162.8 172.3M177.4 167.3L179.3 168.4M186 153.7L184.6 154.7M143.7 181.3L144.6 183.1M145.9 165.9L147.3 168.3M151 156.3L149.6 157.7M178.5 163.8L180 164M147.4 141.3L146 142.2M150 171.6L148.3 172.6M176.2 167L177.3 169.2M185.3 151.1L186.3 153.5M155.6 164L157 165.1M188.2 140.5L190.1 142.1M139 133.6L138.9 136.4M158.6 157.3L156.8 157.6M137.8 183.6L138 186.4M136.7 176.6L139.2 177.5M151.6 178L150.6 179.4M185.6 134.3L185.4 135.9M179.1 136.4L180.4 138.6M148.7 171.3L146 171.5M133.8 135.3L135.5 135.4M148.8 174.1L150.7 174.2M177.5 162.6L176.8 164.4M146 151.4L147.2 153.4M175.4 163.8L172.7 164M146.4 138.3L144.1 139.3M137.6 190.3L137.7 192.3M167.9 169L166.3 170.3M173.6 171.6L175 174M186.9 146.2L188.2 148M191.1 150.6L190.8 152.8M137 170.4L139.2 170.4M177.9 136.6L176.2 136.7M153.3 135.8L153.6 138.4M160.7 185.2L162 187.5M146 164.3L145.3 166.1M158.8 184.3L161.1 184.8M175.3 184.8L174.5 187.4M139.9 175.7L142.4 176.4M157.7 181.3L156.1 182.5M148.9 163.9L148.8 165.5M137.2 183.5L138.4 184.8M183 169.4L180.3 169.8M170.6 134.5L172.6 134.7M146.7 178.2L145.4 180.5M185.4 177.2L186.5 179.7M188 136.1L187.5 138.7M176.5 165.8L174.6 167.5M190.2 185.9L190.2 187.6M135.1 160.5L136.9 162.3M171.8 186.6L173.3 188.1" stroke="#3cbcc6" stroke-width="0.9" fill="none"/>
</g>
<text x="160" y="66.9" font-size="9.3" fill="#b81a50" text-anchor="middle" font-weight="bold" transform="translate(160 66.9) scale(1 1.08) translate(-160 -66.9)">CS-top</text>
<text x="162.2" y="133.2" font-size="9.3" fill="#3a70bc" text-anchor="middle" font-weight="bold" transform="translate(162.2 133.2) scale(1 1.08) translate(-162.2 -133.2)">CS-middle</text>
<text x="159.5" y="204.7" font-size="9.4" fill="#4ab0bc" text-anchor="middle" font-weight="bold" transform="translate(159.5 204.7) scale(1 1.08) translate(-159.5 -204.7)">CS-low</text>
<text x="110" y="193.8" font-size="7.9" fill="#111" font-weight="bold" transform="translate(110 193.8) scale(1 1.15) translate(-110 -193.8)">2.5 nm</text>
<rect x="110" y="197.7" width="14.6" height="1.6" fill="#111"/>
<clipPath id="cclip"><rect x="269.4" y="1" width="213.6" height="182.5"/></clipPath>
<g clip-path="url(#cclip)">
<path d="M269.5 40.6 L270.8 37.4 L272.2 34.4 L273.6 31.5 L274.9 28.9 L276.3 26.5 L277.6 24.6 L279 23.1 L280.4 22 L281.7 21.2 L283.1 20.9 L284.5 20.9 L285.8 21.2 L287.2 21.8 L288.6 22.8 L289.9 23.9 L291.3 25.3 L292.7 27 L294 28.8 L295.4 30.8 L296.8 33 L298.1 35.3 L299.5 37.8 L300.9 40.5 L302.2 43.3 L303.6 46.4 L304.9 49.7 L306.3 53.1 L307.7 56.6 L309 60.2 L310.4 64 L311.8 67.8 L313.1 71.6 L314.5 75.6 L315.9 79.6 L317.2 83.6 L318.6 87.6 L320 91.5 L321.3 95.3 L322.7 98.8 L324.1 101.5 L325.4 104.1 L326.8 106.6 L328.2 109 L329.5 111.3 L330.9 113.5 L332.2 115.6 L333.6 117.6 L335 119.6 L336.3 121.5 L337.7 123.4 L339.1 125.3 L340.4 127.1 L341.8 128.8 L343.2 130.5 L344.5 132.2 L345.9 133.7 L347.3 135.3 L348.6 136.9 L350 138.4 L351.4 139.9 L352.7 141.2 L354.1 142.5 L355.5 143.8 L356.8 145 L358.2 146.1 L359.6 147.2 L360.9 148.2 L362.3 149.1 L363.6 150.1 L365 150.9 L366.4 151.8 L367.7 152.6 L369.1 153.4 L370.5 154.1 L371.8 154.8 L373.2 155.5 L374.6 156.1 L375.9 156.8 L377.3 157.4 L378.7 158 L380 158.6 L381.4 159.1 L382.8 159.7 L384.1 160.2 L385.5 160.7 L386.9 161.2 L388.2 161.6 L389.6 162.1 L390.9 162.5 L392.3 163 L393.7 163.4 L395 163.8 L396.4 164.2 L397.8 164.6 L399.1 164.9 L400.5 165.3 L401.9 165.7 L403.2 166 L404.6 166.3 L406 166.7 L407.3 167 L408.7 167.3 L410.1 167.6 L411.4 167.9 L412.8 168.2 L414.1 168.4 L415.5 168.7 L416.9 169 L418.2 169.2 L419.6 169.5 L421 169.8 L422.3 170 L423.7 170.2 L425.1 170.5 L426.4 170.7 L427.8 170.9 L429.2 171.1 L430.5 171.4 L431.9 171.6 L433.3 171.8 L434.6 172 L436 172.2 L437.4 172.4 L438.7 172.6 L440.1 172.7 L441.4 172.9 L442.8 173.1 L444.2 173.3 L445.5 173.4 L446.9 173.6 L448.3 173.7 L449.6 173.9 L451 174 L452.4 174.2 L453.7 174.3 L455.1 174.5 L456.5 174.6 L457.8 174.7 L459.2 174.8 L460.6 175 L461.9 175.1 L463.3 175.2 L464.7 175.3 L466 175.4 L467.4 175.5 L468.8 175.7 L470.1 175.8 L471.5 175.9 L472.8 176 L474.2 176.1 L475.6 176.2 L476.9 176.3 L478.3 176.4 L479.7 176.5 L481 176.6 L482.4 176.7 L482.4 177.8 L481 177.7 L479.7 177.6 L478.3 177.6 L476.9 177.5 L475.6 177.4 L474.2 177.3 L472.8 177.2 L471.5 177.1 L470.1 177 L468.8 177 L467.4 176.9 L466 176.8 L464.7 176.7 L463.3 176.6 L461.9 176.5 L460.6 176.4 L459.2 176.3 L457.8 176.2 L456.5 176.1 L455.1 176 L453.7 175.8 L452.4 175.7 L451 175.6 L449.6 175.5 L448.3 175.4 L446.9 175.2 L445.5 175.1 L444.2 174.9 L442.8 174.8 L441.4 174.7 L440.1 174.5 L438.7 174.4 L437.4 174.2 L436 174 L434.6 173.9 L433.3 173.7 L431.9 173.5 L430.5 173.4 L429.2 173.2 L427.8 173 L426.4 172.8 L425.1 172.6 L423.7 172.4 L422.3 172.2 L421 172 L419.6 171.8 L418.2 171.6 L416.9 171.4 L415.5 171.2 L414.1 170.9 L412.8 170.7 L411.4 170.5 L410.1 170.2 L408.7 170 L407.3 169.7 L406 169.4 L404.6 169.2 L403.2 168.9 L401.9 168.6 L400.5 168.3 L399.1 168 L397.8 167.7 L396.4 167.4 L395 167 L393.7 166.7 L392.3 166.4 L390.9 166 L389.6 165.6 L388.2 165.2 L386.9 164.9 L385.5 164.4 L384.1 164 L382.8 163.6 L381.4 163.1 L380 162.7 L378.7 162.2 L377.3 161.7 L375.9 161.2 L374.6 160.7 L373.2 160.1 L371.8 159.5 L370.5 158.9 L369.1 158.3 L367.7 157.7 L366.4 157 L365 156.3 L363.6 155.6 L362.3 154.8 L360.9 154 L359.6 153.2 L358.2 152.3 L356.8 151.3 L355.5 150.3 L354.1 149.3 L352.7 148.2 L351.4 147.1 L350 145.9 L348.6 144.6 L347.3 143.3 L345.9 141.8 L344.5 140 L343.2 138.2 L341.8 136.2 L340.4 134.2 L339.1 132.1 L337.7 129.9 L336.3 127.6 L335 125.3 L333.6 122.8 L332.2 120.3 L330.9 117.7 L329.5 114.9 L328.2 112.1 L326.8 109 L325.4 105.9 L324.1 102.5 L322.7 98.9 L321.3 96.2 L320 93.6 L318.6 90.9 L317.2 88.3 L315.9 85.7 L314.5 83.2 L313.1 80.8 L311.8 78.6 L310.4 76.6 L309 74.6 L307.7 72.8 L306.3 71.2 L304.9 69.7 L303.6 68.4 L302.2 67.3 L300.9 66.4 L299.5 65.8 L298.1 65.3 L296.8 64.9 L295.4 64.8 L294 64.7 L292.7 64.9 L291.3 65.2 L289.9 65.6 L288.6 66.3 L287.2 67.1 L285.8 68.2 L284.5 69.5 L283.1 70.9 L281.7 72.6 L280.4 74.6 L279 76.7 L277.6 79.1 L276.3 81.8 L274.9 84.6 L273.6 87.6 L272.2 90.6 L270.8 93.7 L269.5 96.8Z" stroke="none" stroke-width="1" fill="#d6eaee" fill-opacity="0.9"/>
<path d="M269.5 50.2 L270.8 48.2 L272.2 46.2 L273.6 44.4 L274.9 42.7 L276.3 41.2 L277.6 39.9 L279 38.9 L280.4 38.1 L281.7 37.6 L283.1 37.3 L284.5 37.3 L285.8 37.5 L287.2 38 L288.6 38.6 L289.9 39.5 L291.3 40.5 L292.7 41.7 L294 43.1 L295.4 44.7 L296.8 46.5 L298.1 48.5 L299.5 50.6 L300.9 52.8 L302.2 55.2 L303.6 57.8 L304.9 60.5 L306.3 63.3 L307.7 66.2 L309 69.2 L310.4 72.2 L311.8 75.3 L313.1 78.3 L314.5 81.4 L315.9 84.5 L317.2 87.6 L318.6 90.7 L320 93.7 L321.3 96.7 L322.7 99.5 L324.1 101.7 L325.4 103.8 L326.8 105.9 L328.2 108 L329.5 110 L330.9 112.1 L332.2 114.1 L333.6 116.1 L335 118.1 L336.3 120.1 L337.7 122.1 L339.1 124 L340.4 125.9 L341.8 127.8 L343.2 129.6 L344.5 131.4 L345.9 133.1 L347.3 134.9 L348.6 136.6 L350 138.2 L351.4 139.8 L352.7 141.3 L354.1 142.7 L355.5 144.1 L356.8 145.3 L358.2 146.5 L359.6 147.6 L360.9 148.7 L362.3 149.7 L363.6 150.6 L365 151.5 L366.4 152.4 L367.7 153.2 L369.1 153.9 L370.5 154.7 L371.8 155.4 L373.2 156 L374.6 156.7 L375.9 157.3 L377.3 157.9 L378.7 158.5 L380 159 L381.4 159.6 L382.8 160.1 L384.1 160.6 L385.5 161.1 L386.9 161.6 L388.2 162 L389.6 162.5 L390.9 162.9 L392.3 163.3 L393.7 163.7 L395 164.1 L396.4 164.5 L397.8 164.9 L399.1 165.2 L400.5 165.6 L401.9 165.9 L403.2 166.3 L404.6 166.6 L406 166.9 L407.3 167.2 L408.7 167.5 L410.1 167.8 L411.4 168.1 L412.8 168.4 L414.1 168.6 L415.5 168.9 L416.9 169.1 L418.2 169.4 L419.6 169.6 L421 169.9 L422.3 170.1 L423.7 170.3 L425.1 170.6 L426.4 170.8 L427.8 171 L429.2 171.2 L430.5 171.4 L431.9 171.6 L433.3 171.8 L434.6 172 L436 172.2 L437.4 172.4 L438.7 172.5 L440.1 172.7 L441.4 172.9 L442.8 173 L444.2 173.2 L445.5 173.4 L446.9 173.5 L448.3 173.7 L449.6 173.8 L451 174 L452.4 174.1 L453.7 174.2 L455.1 174.4 L456.5 174.5 L457.8 174.6 L459.2 174.7 L460.6 174.9 L461.9 175 L463.3 175.1 L464.7 175.2 L466 175.3 L467.4 175.5 L468.8 175.6 L470.1 175.7 L471.5 175.8 L472.8 175.9 L474.2 176 L475.6 176.1 L476.9 176.2 L478.3 176.3 L479.7 176.4 L481 176.5 L482.4 176.6 L482.4 178.2 L481 178.1 L479.7 178 L478.3 177.9 L476.9 177.8 L475.6 177.8 L474.2 177.7 L472.8 177.6 L471.5 177.5 L470.1 177.4 L468.8 177.3 L467.4 177.3 L466 177.2 L464.7 177.1 L463.3 177 L461.9 176.9 L460.6 176.8 L459.2 176.7 L457.8 176.6 L456.5 176.5 L455.1 176.4 L453.7 176.3 L452.4 176.2 L451 176.1 L449.6 176 L448.3 175.9 L446.9 175.7 L445.5 175.6 L444.2 175.5 L442.8 175.4 L441.4 175.3 L440.1 175.1 L438.7 175 L437.4 174.9 L436 174.7 L434.6 174.6 L433.3 174.4 L431.9 174.3 L430.5 174.1 L429.2 174 L427.8 173.8 L426.4 173.6 L425.1 173.5 L423.7 173.3 L422.3 173.1 L421 172.9 L419.6 172.7 L418.2 172.6 L416.9 172.4 L415.5 172.2 L414.1 172 L412.8 171.8 L411.4 171.5 L410.1 171.3 L408.7 171.1 L407.3 170.9 L406 170.6 L404.6 170.4 L403.2 170.1 L401.9 169.9 L400.5 169.6 L399.1 169.3 L397.8 169.1 L396.4 168.8 L395 168.5 L393.7 168.2 L392.3 167.8 L390.9 167.5 L389.6 167.2 L388.2 166.8 L386.9 166.5 L385.5 166.1 L384.1 165.7 L382.8 165.3 L381.4 164.9 L380 164.5 L378.7 164.1 L377.3 163.6 L375.9 163.2 L374.6 162.7 L373.2 162.2 L371.8 161.7 L370.5 161.1 L369.1 160.6 L367.7 160 L366.4 159.3 L365 158.7 L363.6 158 L362.3 157.3 L360.9 156.5 L359.6 155.7 L358.2 154.8 L356.8 153.9 L355.5 152.9 L354.1 151.9 L352.7 150.8 L351.4 149.6 L350 148.4 L348.6 147.1 L347.3 145.7 L345.9 144.2 L344.5 142.2 L343.2 140.2 L341.8 138 L340.4 135.8 L339.1 133.4 L337.7 131 L336.3 128.6 L335 126 L333.6 123.4 L332.2 120.7 L330.9 117.9 L329.5 115.1 L328.2 112.2 L326.8 109.2 L325.4 106.1 L324.1 103 L322.7 99.8 L321.3 97.7 L320 95.9 L318.6 94.1 L317.2 92.4 L315.9 90.7 L314.5 89.1 L313.1 87.5 L311.8 86 L310.4 84.6 L309 83.3 L307.7 82.1 L306.3 80.9 L304.9 80 L303.6 79.1 L302.2 78.4 L300.9 77.8 L299.5 77.5 L298.1 77.2 L296.8 77.2 L295.4 77.3 L294 77.5 L292.7 77.9 L291.3 78.4 L289.9 79.1 L288.6 79.9 L287.2 80.9 L285.8 82 L284.5 83.2 L283.1 84.6 L281.7 86.2 L280.4 87.8 L279 89.7 L277.6 91.6 L276.3 93.7 L274.9 95.9 L273.6 98.2 L272.2 100.5 L270.8 102.9 L269.5 105.2Z" stroke="none" stroke-width="1" fill="#a9c8dc" fill-opacity="0.55"/>
<path d="M269.5 80.5 L270.8 78.5 L272.2 76.6 L273.6 74.7 L274.9 72.9 L276.3 71.3 L277.6 69.8 L279 68.5 L280.4 67.3 L281.7 66.4 L283.1 65.7 L284.5 65.1 L285.8 64.8 L287.2 64.6 L288.6 64.5 L289.9 64.6 L291.3 64.9 L292.7 65.3 L294 65.9 L295.4 66.6 L296.8 67.4 L298.1 68.4 L299.5 69.4 L300.9 70.7 L302.2 72 L303.6 73.5 L304.9 75 L306.3 76.7 L307.7 78.4 L309 80.2 L310.4 82.1 L311.8 84 L313.1 85.9 L314.5 87.8 L315.9 89.8 L317.2 91.8 L318.6 93.8 L320 95.8 L321.3 97.8 L322.7 99.7 L324.1 101.2 L325.4 102.7 L326.8 104.3 L328.2 105.9 L329.5 107.5 L330.9 109.2 L332.2 110.8 L333.6 112.5 L335 114.2 L336.3 115.9 L337.7 117.6 L339.1 119.3 L340.4 121 L341.8 122.6 L343.2 124.3 L344.5 125.9 L345.9 127.4 L347.3 129.1 L348.6 130.8 L350 132.4 L351.4 133.9 L352.7 135.4 L354.1 136.7 L355.5 138 L356.8 139.3 L358.2 140.4 L359.6 141.5 L360.9 142.6 L362.3 143.6 L363.6 144.5 L365 145.4 L366.4 146.2 L367.7 147 L369.1 147.8 L370.5 148.5 L371.8 149.2 L373.2 149.8 L374.6 150.5 L375.9 151.1 L377.3 151.7 L378.7 152.3 L380 152.8 L381.4 153.4 L382.8 153.9 L384.1 154.4 L385.5 154.9 L386.9 155.4 L388.2 155.9 L389.6 156.4 L390.9 156.8 L392.3 157.2 L393.7 157.7 L395 158.1 L396.4 158.5 L397.8 158.9 L399.1 159.3 L400.5 159.7 L401.9 160.1 L403.2 160.5 L404.6 160.9 L406 161.3 L407.3 161.6 L408.7 162 L410.1 162.3 L411.4 162.7 L412.8 163 L414.1 163.4 L415.5 163.7 L416.9 164.1 L418.2 164.4 L419.6 164.7 L421 165 L422.3 165.3 L423.7 165.6 L425.1 165.9 L426.4 166.2 L427.8 166.5 L429.2 166.8 L430.5 167.1 L431.9 167.4 L433.3 167.7 L434.6 167.9 L436 168.2 L437.4 168.5 L438.7 168.7 L440.1 169 L441.4 169.2 L442.8 169.4 L444.2 169.7 L445.5 169.9 L446.9 170.1 L448.3 170.3 L449.6 170.5 L451 170.7 L452.4 170.9 L453.7 171.1 L455.1 171.3 L456.5 171.5 L457.8 171.6 L459.2 171.8 L460.6 172 L461.9 172.1 L463.3 172.3 L464.7 172.4 L466 172.6 L467.4 172.7 L468.8 172.9 L470.1 173 L471.5 173.1 L472.8 173.3 L474.2 173.4 L475.6 173.5 L476.9 173.7 L478.3 173.8 L479.7 173.9 L481 174 L482.4 174.2 L482.4 175.3 L481 175.2 L479.7 175.1 L478.3 174.9 L476.9 174.8 L475.6 174.7 L474.2 174.6 L472.8 174.5 L471.5 174.4 L470.1 174.2 L468.8 174.1 L467.4 174 L466 173.9 L464.7 173.7 L463.3 173.6 L461.9 173.5 L460.6 173.3 L459.2 173.2 L457.8 173 L456.5 172.9 L455.1 172.7 L453.7 172.6 L452.4 172.4 L451 172.2 L449.6 172.1 L448.3 171.9 L446.9 171.7 L445.5 171.5 L444.2 171.3 L442.8 171.1 L441.4 170.9 L440.1 170.7 L438.7 170.5 L437.4 170.2 L436 170 L434.6 169.8 L433.3 169.5 L431.9 169.3 L430.5 169.1 L429.2 168.8 L427.8 168.5 L426.4 168.3 L425.1 168 L423.7 167.8 L422.3 167.5 L421 167.2 L419.6 166.9 L418.2 166.6 L416.9 166.4 L415.5 166.1 L414.1 165.8 L412.8 165.5 L411.4 165.2 L410.1 164.9 L408.7 164.5 L407.3 164.2 L406 163.9 L404.6 163.6 L403.2 163.2 L401.9 162.9 L400.5 162.5 L399.1 162.2 L397.8 161.8 L396.4 161.5 L395 161.1 L393.7 160.7 L392.3 160.4 L390.9 160 L389.6 159.6 L388.2 159.2 L386.9 158.7 L385.5 158.3 L384.1 157.9 L382.8 157.4 L381.4 157 L380 156.5 L378.7 156 L377.3 155.5 L375.9 154.9 L374.6 154.4 L373.2 153.8 L371.8 153.2 L370.5 152.6 L369.1 152 L367.7 151.3 L366.4 150.6 L365 149.9 L363.6 149.1 L362.3 148.3 L360.9 147.4 L359.6 146.5 L358.2 145.5 L356.8 144.5 L355.5 143.4 L354.1 142.3 L352.7 141.1 L351.4 139.8 L350 138.4 L348.6 137 L347.3 135.6 L345.9 134 L344.5 132.2 L343.2 130.4 L341.8 128.5 L340.4 126.6 L339.1 124.7 L337.7 122.7 L336.3 120.7 L335 118.6 L333.6 116.6 L332.2 114.5 L330.9 112.4 L329.5 110.3 L328.2 108.2 L326.8 106.1 L325.4 104 L324.1 101.9 L322.7 99.8 L321.3 98.3 L320 96.8 L318.6 95.5 L317.2 94.1 L315.9 92.8 L314.5 91.5 L313.1 90.3 L311.8 89.1 L310.4 88 L309 86.9 L307.7 85.9 L306.3 85 L304.9 84.1 L303.6 83.4 L302.2 82.7 L300.9 82.2 L299.5 81.8 L298.1 81.5 L296.8 81.4 L295.4 81.4 L294 81.5 L292.7 81.7 L291.3 82 L289.9 82.5 L288.6 83.1 L287.2 83.8 L285.8 84.6 L284.5 85.6 L283.1 86.7 L281.7 88 L280.4 89.4 L279 91 L277.6 92.6 L276.3 94.5 L274.9 96.4 L273.6 98.4 L272.2 100.4 L270.8 102.5 L269.5 104.5Z" stroke="none" stroke-width="1" fill="#d98aa6" fill-opacity="0.55"/>
<path d="M269.5 68.7 L270.8 65.6 L272.2 62.5 L273.6 59.5 L274.9 56.7 L276.3 54.2 L277.6 51.9 L279 49.9 L280.4 48.3 L281.7 46.9 L283.1 45.9 L284.5 45.2 L285.8 44.7 L287.2 44.5 L288.6 44.5 L289.9 44.8 L291.3 45.2 L292.7 45.9 L294 46.8 L295.4 47.8 L296.8 49 L298.1 50.3 L299.5 51.8 L300.9 53.5 L302.2 55.3 L303.6 57.4 L304.9 59.7 L306.3 62.1 L307.7 64.7 L309 67.4 L310.4 70.3 L311.8 73.2 L313.1 76.2 L314.5 79.4 L315.9 82.6 L317.2 85.9 L318.6 89.3 L320 92.5 L321.3 95.7 L322.7 98.8 L324.1 101.7 L325.4 104.5 L326.8 107.1 L328.2 109.7 L329.5 112.1 L330.9 114.4 L332.2 116.6 L333.6 118.7 L335 120.8 L336.3 122.8 L337.7 124.8 L339.1 126.7 L340.4 128.6 L341.8 130.4 L343.2 132.1 L344.5 133.8 L345.9 135.4 L347.3 137 L348.6 138.5 L350 140 L351.4 141.4 L352.7 142.7 L354.1 144 L355.5 145.2 L356.8 146.3 L358.2 147.4 L359.6 148.4 L360.9 149.4 L362.3 150.3 L363.6 151.2 L365 152.1 L366.4 152.9 L367.7 153.7 L369.1 154.4 L370.5 155.1 L371.8 155.8 L373.2 156.5 L374.6 157.1 L375.9 157.7 L377.3 158.3 L378.7 158.9 L380 159.4 L381.4 160 L382.8 160.5 L384.1 161 L385.5 161.5 L386.9 161.9 L388.2 162.4 L389.6 162.8 L390.9 163.3 L392.3 163.7 L393.7 164.1 L395 164.5 L396.4 164.9 L397.8 165.2 L399.1 165.6 L400.5 165.9 L401.9 166.3 L403.2 166.6 L404.6 166.9 L406 167.2 L407.3 167.6 L408.7 167.8 L410.1 168.1 L411.4 168.4 L412.8 168.7 L414.1 169 L415.5 169.2 L416.9 169.5 L418.2 169.7 L419.6 170 L421 170.2 L422.3 170.5 L423.7 170.7 L425.1 170.9 L426.4 171.1 L427.8 171.4 L429.2 171.6 L430.5 171.8 L431.9 172 L433.3 172.2 L434.6 172.4 L436 172.6 L437.4 172.8 L438.7 172.9 L440.1 173.1 L441.4 173.3 L442.8 173.5 L444.2 173.6 L445.5 173.8 L446.9 173.9 L448.3 174.1 L449.6 174.2 L451 174.4 L452.4 174.5 L453.7 174.6 L455.1 174.8 L456.5 174.9 L457.8 175 L459.2 175.1 L460.6 175.3 L461.9 175.4 L463.3 175.5 L464.7 175.6 L466 175.7 L467.4 175.8 L468.8 175.9 L470.1 176 L471.5 176.1 L472.8 176.2 L474.2 176.3 L475.6 176.4 L476.9 176.5 L478.3 176.6 L479.7 176.7 L481 176.8 L482.4 176.9" stroke="#3d9fb5" stroke-width="1.1" fill="none"/>
<path d="M269.5 77.7 L270.8 75.5 L272.2 73.4 L273.6 71.3 L274.9 69.3 L276.3 67.5 L277.6 65.8 L279 64.3 L280.4 63 L281.7 61.9 L283.1 61 L284.5 60.3 L285.8 59.8 L287.2 59.4 L288.6 59.3 L289.9 59.3 L291.3 59.5 L292.7 59.8 L294 60.3 L295.4 61 L296.8 61.8 L298.1 62.8 L299.5 64 L300.9 65.3 L302.2 66.8 L303.6 68.5 L304.9 70.2 L306.3 72.1 L307.7 74.1 L309 76.2 L310.4 78.4 L311.8 80.6 L313.1 82.9 L314.5 85.3 L315.9 87.6 L317.2 90 L318.6 92.4 L320 94.8 L321.3 97.2 L322.7 99.6 L324.1 101.9 L325.4 104.2 L326.8 106.5 L328.2 108.8 L329.5 111 L330.9 113.2 L332.2 115.4 L333.6 117.5 L335 119.7 L336.3 121.7 L337.7 123.8 L339.1 125.8 L340.4 127.8 L341.8 129.7 L343.2 131.6 L344.5 133.5 L345.9 135.2 L347.3 136.9 L348.6 138.6 L350 140.2 L351.4 141.7 L352.7 143.1 L354.1 144.5 L355.5 145.8 L356.8 147 L358.2 148.1 L359.6 149.2 L360.9 150.2 L362.3 151.1 L363.6 152 L365 152.9 L366.4 153.7 L367.7 154.5 L369.1 155.2 L370.5 155.9 L371.8 156.6 L373.2 157.2 L374.6 157.8 L375.9 158.4 L377.3 159 L378.7 159.6 L380 160.1 L381.4 160.6 L382.8 161.1 L384.1 161.6 L385.5 162.1 L386.9 162.5 L388.2 163 L389.6 163.4 L390.9 163.8 L392.3 164.2 L393.7 164.6 L395 165 L396.4 165.3 L397.8 165.7 L399.1 166 L400.5 166.4 L401.9 166.7 L403.2 167 L404.6 167.3 L406 167.6 L407.3 167.9 L408.7 168.2 L410.1 168.5 L411.4 168.7 L412.8 169 L414.1 169.3 L415.5 169.5 L416.9 169.8 L418.2 170 L419.6 170.2 L421 170.5 L422.3 170.7 L423.7 170.9 L425.1 171.1 L426.4 171.3 L427.8 171.5 L429.2 171.7 L430.5 171.9 L431.9 172.1 L433.3 172.3 L434.6 172.5 L436 172.7 L437.4 172.8 L438.7 173 L440.1 173.2 L441.4 173.3 L442.8 173.5 L444.2 173.6 L445.5 173.8 L446.9 173.9 L448.3 174.1 L449.6 174.2 L451 174.4 L452.4 174.5 L453.7 174.6 L455.1 174.8 L456.5 174.9 L457.8 175 L459.2 175.1 L460.6 175.2 L461.9 175.4 L463.3 175.5 L464.7 175.6 L466 175.7 L467.4 175.8 L468.8 175.9 L470.1 176 L471.5 176.1 L472.8 176.2 L474.2 176.3 L475.6 176.4 L476.9 176.5 L478.3 176.6 L479.7 176.7 L481 176.8 L482.4 176.9" stroke="#3a6db5" stroke-width="1.1" fill="none"/>
<path d="M269.5 92.7 L270.8 90.7 L272.2 88.7 L273.6 86.8 L274.9 84.9 L276.3 83.1 L277.6 81.4 L279 79.9 L280.4 78.6 L281.7 77.4 L283.1 76.4 L284.5 75.6 L285.8 74.9 L287.2 74.4 L288.6 74 L289.9 73.7 L291.3 73.6 L292.7 73.7 L294 73.8 L295.4 74.1 L296.8 74.5 L298.1 75.1 L299.5 75.7 L300.9 76.5 L302.2 77.5 L303.6 78.5 L304.9 79.6 L306.3 80.9 L307.7 82.2 L309 83.6 L310.4 85.1 L311.8 86.6 L313.1 88.1 L314.5 89.7 L315.9 91.3 L317.2 93 L318.6 94.6 L320 96.3 L321.3 98 L322.7 99.8 L324.1 101.6 L325.4 103.4 L326.8 105.2 L328.2 107 L329.5 108.9 L330.9 110.8 L332.2 112.7 L333.6 114.5 L335 116.4 L336.3 118.3 L337.7 120.1 L339.1 122 L340.4 123.8 L341.8 125.6 L343.2 127.3 L344.5 129 L345.9 130.7 L347.3 132.3 L348.6 133.9 L350 135.4 L351.4 136.8 L352.7 138.2 L354.1 139.5 L355.5 140.7 L356.8 141.9 L358.2 143 L359.6 144 L360.9 145 L362.3 145.9 L363.6 146.8 L365 147.6 L366.4 148.4 L367.7 149.2 L369.1 149.9 L370.5 150.6 L371.8 151.2 L373.2 151.8 L374.6 152.4 L375.9 153 L377.3 153.6 L378.7 154.1 L380 154.7 L381.4 155.2 L382.8 155.7 L384.1 156.2 L385.5 156.6 L386.9 157.1 L388.2 157.5 L389.6 158 L390.9 158.4 L392.3 158.8 L393.7 159.2 L395 159.6 L396.4 160 L397.8 160.4 L399.1 160.8 L400.5 161.1 L401.9 161.5 L403.2 161.9 L404.6 162.2 L406 162.6 L407.3 162.9 L408.7 163.3 L410.1 163.6 L411.4 163.9 L412.8 164.3 L414.1 164.6 L415.5 164.9 L416.9 165.2 L418.2 165.5 L419.6 165.8 L421 166.1 L422.3 166.4 L423.7 166.7 L425.1 167 L426.4 167.3 L427.8 167.5 L429.2 167.8 L430.5 168.1 L431.9 168.3 L433.3 168.6 L434.6 168.9 L436 169.1 L437.4 169.4 L438.7 169.6 L440.1 169.8 L441.4 170 L442.8 170.3 L444.2 170.5 L445.5 170.7 L446.9 170.9 L448.3 171.1 L449.6 171.3 L451 171.5 L452.4 171.7 L453.7 171.8 L455.1 172 L456.5 172.2 L457.8 172.3 L459.2 172.5 L460.6 172.6 L461.9 172.8 L463.3 172.9 L464.7 173.1 L466 173.2 L467.4 173.4 L468.8 173.5 L470.1 173.6 L471.5 173.7 L472.8 173.9 L474.2 174 L475.6 174.1 L476.9 174.2 L478.3 174.4 L479.7 174.5 L481 174.6 L482.4 174.7" stroke="#c0245a" stroke-width="1.3" fill="none"/>
</g>
<rect x="269.5" y="0.5" width="214" height="183" fill="none" stroke="#444" stroke-width="1"/>
<line x1="266.5" y1="183.5" x2="269.4" y2="183.5" stroke="#333" stroke-width="1"/>
<text x="264" y="185.8" font-size="8" fill="#111" text-anchor="end" transform="translate(264 185.8) scale(1 1.15) translate(-264 -185.8)">0.00</text>
<line x1="266.5" y1="159.5" x2="269.4" y2="159.5" stroke="#333" stroke-width="1"/>
<text x="264" y="161.4" font-size="8" fill="#111" text-anchor="end" transform="translate(264 161.4) scale(1 1.15) translate(-264 -161.4)">0.01</text>
<line x1="266.5" y1="134.5" x2="269.4" y2="134.5" stroke="#333" stroke-width="1"/>
<text x="264" y="137" font-size="8" fill="#111" text-anchor="end" transform="translate(264 137) scale(1 1.15) translate(-264 -137)">0.02</text>
<line x1="266.5" y1="110.5" x2="269.4" y2="110.5" stroke="#333" stroke-width="1"/>
<text x="264" y="112.6" font-size="8" fill="#111" text-anchor="end" transform="translate(264 112.6) scale(1 1.15) translate(-264 -112.6)">0.03</text>
<line x1="266.5" y1="85.5" x2="269.4" y2="85.5" stroke="#333" stroke-width="1"/>
<text x="264" y="88.2" font-size="8" fill="#111" text-anchor="end" transform="translate(264 88.2) scale(1 1.15) translate(-264 -88.2)">0.04</text>
<line x1="266.5" y1="61.5" x2="269.4" y2="61.5" stroke="#333" stroke-width="1"/>
<text x="264" y="63.8" font-size="8" fill="#111" text-anchor="end" transform="translate(264 63.8) scale(1 1.15) translate(-264 -63.8)">0.05</text>
<line x1="266.5" y1="37.5" x2="269.4" y2="37.5" stroke="#333" stroke-width="1"/>
<text x="264" y="39.4" font-size="8" fill="#111" text-anchor="end" transform="translate(264 39.4) scale(1 1.15) translate(-264 -39.4)">0.06</text>
<line x1="266.5" y1="12.5" x2="269.4" y2="12.5" stroke="#333" stroke-width="1"/>
<text x="264" y="15" font-size="8" fill="#111" text-anchor="end" transform="translate(264 15) scale(1 1.15) translate(-264 -15)">0.07</text>
<line x1="318.5" y1="183.5" x2="318.5" y2="186.5" stroke="#333" stroke-width="1"/>
<text x="318.6" y="196.5" font-size="8" fill="#111" text-anchor="middle" transform="translate(318.6 196.5) scale(1 1.15) translate(-318.6 -196.5)">10</text>
<line x1="373.5" y1="183.5" x2="373.5" y2="186.5" stroke="#333" stroke-width="1"/>
<text x="373.2" y="196.5" font-size="8" fill="#111" text-anchor="middle" transform="translate(373.2 196.5) scale(1 1.15) translate(-373.2 -196.5)">20</text>
<line x1="427.5" y1="183.5" x2="427.5" y2="186.5" stroke="#333" stroke-width="1"/>
<text x="427.8" y="196.5" font-size="8" fill="#111" text-anchor="middle" transform="translate(427.8 196.5) scale(1 1.15) translate(-427.8 -196.5)">30</text>
<line x1="482.5" y1="183.5" x2="482.5" y2="186.5" stroke="#333" stroke-width="1"/>
<text x="482.4" y="196.5" font-size="8" fill="#111" text-anchor="middle" transform="translate(482.4 196.5) scale(1 1.15) translate(-482.4 -196.5)">40</text>
<text x="376" y="209.5" font-size="9" fill="#111" text-anchor="middle" transform="translate(376 209.5) scale(1 1.08) translate(-376 -209.5)">Number of aromatic ring in the PAH</text>
<text x="238.8" y="89.8" font-size="9" fill="#111" text-anchor="middle" transform="translate(238.8 89.8) rotate(-90) scale(1 1.08) translate(-238.8 -89.8)">Number density</text>
<text x="212.5" y="15.2" font-size="16" fill="#111" transform="translate(212.5 15.2) scale(1 1.0) translate(-212.5 -15.2)">c</text>
<line x1="292" y1="7.7" x2="312" y2="7.7" stroke="#5fb0bf" stroke-width="1.5"/>
<text x="314" y="10.9" font-size="9" fill="#5fb0bf" transform="translate(314 10.9) scale(1 1.08) translate(-314 -10.9)">CS-low</text>
<line x1="346" y1="7.7" x2="366" y2="7.7" stroke="#3a78c0" stroke-width="1.5"/>
<text x="368.6" y="10.9" font-size="9" fill="#3a78c0" transform="translate(368.6 10.9) scale(1 1.08) translate(-368.6 -10.9)">CS-middle</text>
<line x1="413" y1="7.7" x2="433" y2="7.7" stroke="#c0285c" stroke-width="1.5"/>
<text x="435" y="10.9" font-size="9" fill="#c0285c" transform="translate(435 10.9) scale(1 1.08) translate(-435 -10.9)">CS-top</text>
<path d="M288.9 104.6L284.3 104.6M291.2 100.7L288.9 96.7M291.2 116.5L288.9 120.5M288.9 112.6L284.3 112.6M298 96.7L295.7 92.8M302.6 96.7L304.9 92.8M302.6 120.5L304.9 124.4M298 120.5L295.7 124.4M309.4 100.7L311.7 96.7M311.7 104.6L316.3 104.6M309.4 116.5L311.7 120.5M311.7 112.6L316.3 112.6" stroke="#d8d8d8" stroke-width="0.7" fill="none"/>
<path d="M295.7 108.6L291.2 108.6M295.7 108.6L298 104.6M295.7 108.6L298 112.6M291.2 108.6L288.9 104.6M291.2 108.6L288.9 112.6M288.9 104.6L291.2 100.7M291.2 100.7L295.7 100.7M295.7 100.7L298 104.6M295.7 100.7L298 96.7M298 104.6L302.6 104.6M295.7 116.5L291.2 116.5M295.7 116.5L298 112.6M295.7 116.5L298 120.5M291.2 116.5L288.9 112.6M298 112.6L302.6 112.6M302.6 104.6L304.9 100.7M302.6 104.6L304.9 108.6M298 96.7L302.6 96.7M302.6 96.7L304.9 100.7M304.9 100.7L309.4 100.7M302.6 112.6L304.9 108.6M302.6 112.6L304.9 116.5M304.9 108.6L309.4 108.6M302.6 120.5L298 120.5M302.6 120.5L304.9 116.5M304.9 116.5L309.4 116.5M309.4 108.6L311.7 104.6M309.4 108.6L311.7 112.6M309.4 100.7L311.7 104.6M309.4 116.5L311.7 112.6" stroke="#a8a8a8" stroke-width="1" fill="none"/>
<circle cx="284.3" cy="104.6" r="1.0" fill="#dadada"/>
<circle cx="288.9" cy="96.7" r="1.0" fill="#dadada"/>
<circle cx="288.9" cy="120.5" r="1.0" fill="#dadada"/>
<circle cx="284.3" cy="112.6" r="1.0" fill="#dadada"/>
<circle cx="295.7" cy="92.8" r="1.0" fill="#dadada"/>
<circle cx="304.9" cy="92.8" r="1.0" fill="#dadada"/>
<circle cx="304.9" cy="124.4" r="1.0" fill="#dadada"/>
<circle cx="295.7" cy="124.4" r="1.0" fill="#dadada"/>
<circle cx="311.7" cy="96.7" r="1.0" fill="#dadada"/>
<circle cx="316.3" cy="104.6" r="1.0" fill="#dadada"/>
<circle cx="311.7" cy="120.5" r="1.0" fill="#dadada"/>
<circle cx="316.3" cy="112.6" r="1.0" fill="#dadada"/>
<circle cx="295.7" cy="108.6" r="1.75" fill="#7a7a7a"/>
<circle cx="291.2" cy="108.6" r="1.75" fill="#7a7a7a"/>
<circle cx="288.9" cy="104.6" r="1.75" fill="#7a7a7a"/>
<circle cx="291.2" cy="100.7" r="1.75" fill="#7a7a7a"/>
<circle cx="295.7" cy="100.7" r="1.75" fill="#7a7a7a"/>
<circle cx="298" cy="104.6" r="1.75" fill="#7a7a7a"/>
<circle cx="295.7" cy="116.5" r="1.75" fill="#7a7a7a"/>
<circle cx="291.2" cy="116.5" r="1.75" fill="#7a7a7a"/>
<circle cx="288.9" cy="112.6" r="1.75" fill="#7a7a7a"/>
<circle cx="298" cy="112.6" r="1.75" fill="#7a7a7a"/>
<circle cx="302.6" cy="104.6" r="1.75" fill="#7a7a7a"/>
<circle cx="298" cy="96.7" r="1.75" fill="#7a7a7a"/>
<circle cx="302.6" cy="96.7" r="1.75" fill="#7a7a7a"/>
<circle cx="304.9" cy="100.7" r="1.75" fill="#7a7a7a"/>
<circle cx="302.6" cy="112.6" r="1.75" fill="#7a7a7a"/>
<circle cx="304.9" cy="108.6" r="1.75" fill="#7a7a7a"/>
<circle cx="302.6" cy="120.5" r="1.75" fill="#7a7a7a"/>
<circle cx="298" cy="120.5" r="1.75" fill="#7a7a7a"/>
<circle cx="304.9" cy="116.5" r="1.75" fill="#7a7a7a"/>
<circle cx="309.4" cy="108.6" r="1.75" fill="#7a7a7a"/>
<circle cx="309.4" cy="100.7" r="1.75" fill="#7a7a7a"/>
<circle cx="311.7" cy="104.6" r="1.75" fill="#7a7a7a"/>
<circle cx="309.4" cy="116.5" r="1.75" fill="#7a7a7a"/>
<circle cx="311.7" cy="112.6" r="1.75" fill="#7a7a7a"/>
<path d="M324.5 46.2L319.3 46.2M327.1 41.6L324.5 37.1M324.5 55.2L319.3 55.2M327.1 68.8L324.5 73.3M324.5 64.2L319.3 64.2M335 37.1L332.3 32.6M335 73.3L332.3 77.8M342.8 32.6L340.2 28.1M348 32.6L350.6 28.1M348 77.8L350.6 82.3M342.8 77.8L340.2 82.3M355.8 37.1L358.4 32.6M355.8 73.3L358.4 77.8M363.6 41.6L366.3 37.1M366.3 46.2L371.5 46.2M363.6 68.8L366.3 73.3M371.5 64.2L374.1 68.8M371.5 55.2L374.1 50.7M374.1 59.7L379.3 59.7" stroke="#d8d8d8" stroke-width="0.7" fill="none"/>
<path d="M332.3 50.7L327.1 50.7M332.3 50.7L335 46.2M332.3 50.7L335 55.2M327.1 50.7L324.5 46.2M327.1 50.7L324.5 55.2M324.5 46.2L327.1 41.6M327.1 41.6L332.3 41.6M332.3 41.6L335 46.2M332.3 41.6L335 37.1M335 46.2L340.2 46.2M332.3 59.7L327.1 59.7M332.3 59.7L335 55.2M332.3 59.7L335 64.2M327.1 59.7L324.5 55.2M327.1 59.7L324.5 64.2M335 55.2L340.2 55.2M332.3 68.8L327.1 68.8M332.3 68.8L335 64.2M332.3 68.8L335 73.3M327.1 68.8L324.5 64.2M335 64.2L340.2 64.2M340.2 46.2L342.8 41.6M340.2 46.2L342.8 50.7M335 37.1L340.2 37.1M340.2 37.1L342.8 41.6M340.2 37.1L342.8 32.6M342.8 41.6L348 41.6M340.2 55.2L342.8 50.7M340.2 55.2L342.8 59.7M342.8 50.7L348 50.7M340.2 64.2L342.8 59.7M340.2 64.2L342.8 68.8M342.8 59.7L348 59.7M340.2 73.3L335 73.3M340.2 73.3L342.8 68.8M340.2 73.3L342.8 77.8M342.8 68.8L348 68.8M348 41.6L350.6 37.1M348 41.6L350.6 46.2M342.8 32.6L348 32.6M348 32.6L350.6 37.1M350.6 37.1L355.8 37.1M348 50.7L350.6 46.2M348 50.7L350.6 55.2M350.6 46.2L355.8 46.2M348 59.7L350.6 55.2M348 59.7L350.6 64.2M350.6 55.2L355.8 55.2M348 68.8L350.6 64.2M348 68.8L350.6 73.3M350.6 64.2L355.8 64.2M348 77.8L342.8 77.8M348 77.8L350.6 73.3M350.6 73.3L355.8 73.3M355.8 46.2L358.4 41.6M355.8 46.2L358.4 50.7M355.8 37.1L358.4 41.6M358.4 41.6L363.6 41.6M355.8 55.2L358.4 50.7M355.8 55.2L358.4 59.7M358.4 50.7L363.6 50.7M355.8 64.2L358.4 59.7M355.8 64.2L358.4 68.8M358.4 59.7L363.6 59.7M355.8 73.3L358.4 68.8M358.4 68.8L363.6 68.8M363.6 50.7L366.3 46.2M363.6 50.7L366.3 55.2M363.6 41.6L366.3 46.2M363.6 59.7L366.3 55.2M363.6 59.7L366.3 64.2M366.3 55.2L371.5 55.2M363.6 68.8L366.3 64.2M366.3 64.2L371.5 64.2M371.5 64.2L374.1 59.7M371.5 55.2L374.1 59.7" stroke="#a8a8a8" stroke-width="1" fill="none"/>
<circle cx="319.3" cy="46.2" r="1.0" fill="#dadada"/>
<circle cx="324.5" cy="37.1" r="1.0" fill="#dadada"/>
<circle cx="319.3" cy="55.2" r="1.0" fill="#dadada"/>
<circle cx="324.5" cy="73.3" r="1.0" fill="#dadada"/>
<circle cx="319.3" cy="64.2" r="1.0" fill="#dadada"/>
<circle cx="332.3" cy="32.6" r="1.0" fill="#dadada"/>
<circle cx="332.3" cy="77.8" r="1.0" fill="#dadada"/>
<circle cx="340.2" cy="28.1" r="1.0" fill="#dadada"/>
<circle cx="350.6" cy="28.1" r="1.0" fill="#dadada"/>
<circle cx="350.6" cy="82.3" r="1.0" fill="#dadada"/>
<circle cx="340.2" cy="82.3" r="1.0" fill="#dadada"/>
<circle cx="358.4" cy="32.6" r="1.0" fill="#dadada"/>
<circle cx="358.4" cy="77.8" r="1.0" fill="#dadada"/>
<circle cx="366.3" cy="37.1" r="1.0" fill="#dadada"/>
<circle cx="371.5" cy="46.2" r="1.0" fill="#dadada"/>
<circle cx="366.3" cy="73.3" r="1.0" fill="#dadada"/>
<circle cx="374.1" cy="68.8" r="1.0" fill="#dadada"/>
<circle cx="374.1" cy="50.7" r="1.0" fill="#dadada"/>
<circle cx="379.3" cy="59.7" r="1.0" fill="#dadada"/>
<circle cx="332.3" cy="50.7" r="1.75" fill="#7a7a7a"/>
<circle cx="327.1" cy="50.7" r="1.75" fill="#7a7a7a"/>
<circle cx="324.5" cy="46.2" r="1.75" fill="#7a7a7a"/>
<circle cx="327.1" cy="41.6" r="1.75" fill="#7a7a7a"/>
<circle cx="332.3" cy="41.6" r="1.75" fill="#7a7a7a"/>
<circle cx="335" cy="46.2" r="1.75" fill="#7a7a7a"/>
<circle cx="332.3" cy="59.7" r="1.75" fill="#7a7a7a"/>
<circle cx="327.1" cy="59.7" r="1.75" fill="#7a7a7a"/>
<circle cx="324.5" cy="55.2" r="1.75" fill="#7a7a7a"/>
<circle cx="335" cy="55.2" r="1.75" fill="#7a7a7a"/>
<circle cx="332.3" cy="68.8" r="1.75" fill="#7a7a7a"/>
<circle cx="327.1" cy="68.8" r="1.75" fill="#7a7a7a"/>
<circle cx="324.5" cy="64.2" r="1.75" fill="#7a7a7a"/>
<circle cx="335" cy="64.2" r="1.75" fill="#7a7a7a"/>
<circle cx="340.2" cy="46.2" r="1.75" fill="#7a7a7a"/>
<circle cx="335" cy="37.1" r="1.75" fill="#7a7a7a"/>
<circle cx="340.2" cy="37.1" r="1.75" fill="#7a7a7a"/>
<circle cx="342.8" cy="41.6" r="1.75" fill="#7a7a7a"/>
<circle cx="340.2" cy="55.2" r="1.75" fill="#7a7a7a"/>
<circle cx="342.8" cy="50.7" r="1.75" fill="#7a7a7a"/>
<circle cx="340.2" cy="64.2" r="1.75" fill="#7a7a7a"/>
<circle cx="342.8" cy="59.7" r="1.75" fill="#7a7a7a"/>
<circle cx="340.2" cy="73.3" r="1.75" fill="#7a7a7a"/>
<circle cx="335" cy="73.3" r="1.75" fill="#7a7a7a"/>
<circle cx="342.8" cy="68.8" r="1.75" fill="#7a7a7a"/>
<circle cx="348" cy="41.6" r="1.75" fill="#7a7a7a"/>
<circle cx="342.8" cy="32.6" r="1.75" fill="#7a7a7a"/>
<circle cx="348" cy="32.6" r="1.75" fill="#7a7a7a"/>
<circle cx="350.6" cy="37.1" r="1.75" fill="#7a7a7a"/>
<circle cx="348" cy="50.7" r="1.75" fill="#7a7a7a"/>
<circle cx="350.6" cy="46.2" r="1.75" fill="#7a7a7a"/>
<circle cx="348" cy="59.7" r="1.75" fill="#7a7a7a"/>
<circle cx="350.6" cy="55.2" r="1.75" fill="#7a7a7a"/>
<circle cx="348" cy="68.8" r="1.75" fill="#7a7a7a"/>
<circle cx="350.6" cy="64.2" r="1.75" fill="#7a7a7a"/>
<circle cx="348" cy="77.8" r="1.75" fill="#7a7a7a"/>
<circle cx="342.8" cy="77.8" r="1.75" fill="#7a7a7a"/>
<circle cx="350.6" cy="73.3" r="1.75" fill="#7a7a7a"/>
<circle cx="355.8" cy="46.2" r="1.75" fill="#7a7a7a"/>
<circle cx="355.8" cy="37.1" r="1.75" fill="#7a7a7a"/>
<circle cx="358.4" cy="41.6" r="1.75" fill="#7a7a7a"/>
<circle cx="355.8" cy="55.2" r="1.75" fill="#7a7a7a"/>
<circle cx="358.4" cy="50.7" r="1.75" fill="#7a7a7a"/>
<circle cx="355.8" cy="64.2" r="1.75" fill="#7a7a7a"/>
<circle cx="358.4" cy="59.7" r="1.75" fill="#7a7a7a"/>
<circle cx="355.8" cy="73.3" r="1.75" fill="#7a7a7a"/>
<circle cx="358.4" cy="68.8" r="1.75" fill="#7a7a7a"/>
<circle cx="363.6" cy="50.7" r="1.75" fill="#7a7a7a"/>
<circle cx="363.6" cy="41.6" r="1.75" fill="#7a7a7a"/>
<circle cx="366.3" cy="46.2" r="1.75" fill="#7a7a7a"/>
<circle cx="363.6" cy="59.7" r="1.75" fill="#7a7a7a"/>
<circle cx="366.3" cy="55.2" r="1.75" fill="#7a7a7a"/>
<circle cx="363.6" cy="68.8" r="1.75" fill="#7a7a7a"/>
<circle cx="366.3" cy="64.2" r="1.75" fill="#7a7a7a"/>
<circle cx="371.5" cy="64.2" r="1.75" fill="#7a7a7a"/>
<circle cx="371.5" cy="55.2" r="1.75" fill="#7a7a7a"/>
<circle cx="374.1" cy="59.7" r="1.75" fill="#7a7a7a"/>
<path d="M400.7 57.8L394.3 57.8M403.9 52.2L400.7 46.7M400.7 68.9L394.3 68.9M400.7 80.1L394.3 80.1M403.9 96.8L400.7 102.3M400.7 91.2L394.3 91.2M413.5 46.7L410.3 41.1M413.5 102.3L410.3 107.9M423.2 41.1L419.9 35.6M423.2 107.9L419.9 113.4M432.8 35.6L429.6 30M439.2 35.6L442.4 30M439.2 113.4L442.4 119M432.8 113.4L429.6 119M448.8 41.1L452.1 35.6M448.8 107.9L452.1 113.4M458.5 46.7L461.7 41.1M458.5 102.3L461.7 107.9M468.1 52.2L471.3 46.7M471.3 57.8L477.7 57.8M471.3 68.9L477.7 68.9M471.3 80.1L477.7 80.1M468.1 96.8L471.3 102.3M471.3 91.2L477.7 91.2" stroke="#d8d8d8" stroke-width="0.7" fill="none"/>
<path d="M410.3 63.4L403.9 63.4M410.3 63.4L413.5 57.8M410.3 63.4L413.5 68.9M403.9 63.4L400.7 57.8M403.9 63.4L400.7 68.9M400.7 57.8L403.9 52.2M403.9 52.2L410.3 52.2M410.3 52.2L413.5 57.8M410.3 52.2L413.5 46.7M413.5 57.8L419.9 57.8M410.3 74.5L403.9 74.5M410.3 74.5L413.5 68.9M410.3 74.5L413.5 80.1M403.9 74.5L400.7 68.9M403.9 74.5L400.7 80.1M413.5 68.9L419.9 68.9M410.3 85.6L403.9 85.6M410.3 85.6L413.5 80.1M410.3 85.6L413.5 91.2M403.9 85.6L400.7 80.1M403.9 85.6L400.7 91.2M413.5 80.1L419.9 80.1M410.3 96.8L403.9 96.8M410.3 96.8L413.5 91.2M410.3 96.8L413.5 102.3M403.9 96.8L400.7 91.2M413.5 91.2L419.9 91.2M419.9 57.8L423.2 52.2M419.9 57.8L423.2 63.4M413.5 46.7L419.9 46.7M419.9 46.7L423.2 52.2M419.9 46.7L423.2 41.1M423.2 52.2L429.6 52.2M419.9 68.9L423.2 63.4M419.9 68.9L423.2 74.5M423.2 63.4L429.6 63.4M419.9 80.1L423.2 74.5M419.9 80.1L423.2 85.6M423.2 74.5L429.6 74.5M419.9 91.2L423.2 85.6M419.9 91.2L423.2 96.8M423.2 85.6L429.6 85.6M419.9 102.3L413.5 102.3M419.9 102.3L423.2 96.8M419.9 102.3L423.2 107.9M423.2 96.8L429.6 96.8M429.6 52.2L432.8 46.7M429.6 52.2L432.8 57.8M423.2 41.1L429.6 41.1M429.6 41.1L432.8 46.7M429.6 41.1L432.8 35.6M432.8 46.7L439.2 46.7M429.6 63.4L432.8 57.8M429.6 63.4L432.8 68.9M432.8 57.8L439.2 57.8M429.6 74.5L432.8 68.9M429.6 74.5L432.8 80.1M432.8 68.9L439.2 68.9M429.6 85.6L432.8 80.1M429.6 85.6L432.8 91.2M432.8 80.1L439.2 80.1M429.6 96.8L432.8 91.2M429.6 96.8L432.8 102.3M432.8 91.2L439.2 91.2M429.6 107.9L423.2 107.9M429.6 107.9L432.8 102.3M429.6 107.9L432.8 113.4M432.8 102.3L439.2 102.3M439.2 46.7L442.4 41.1M439.2 46.7L442.4 52.2M432.8 35.6L439.2 35.6M439.2 35.6L442.4 41.1M442.4 41.1L448.8 41.1M439.2 57.8L442.4 52.2M439.2 57.8L442.4 63.4M442.4 52.2L448.8 52.2M439.2 68.9L442.4 63.4M439.2 68.9L442.4 74.5M442.4 63.4L448.8 63.4M439.2 80.1L442.4 74.5M439.2 80.1L442.4 85.6M442.4 74.5L448.8 74.5M439.2 91.2L442.4 85.6M439.2 91.2L442.4 96.8M442.4 85.6L448.8 85.6M439.2 102.3L442.4 96.8M439.2 102.3L442.4 107.9M442.4 96.8L448.8 96.8M439.2 113.4L432.8 113.4M439.2 113.4L442.4 107.9M442.4 107.9L448.8 107.9M448.8 52.2L452.1 46.7M448.8 52.2L452.1 57.8M448.8 41.1L452.1 46.7M452.1 46.7L458.5 46.7M448.8 63.4L452.1 57.8M448.8 63.4L452.1 68.9M452.1 57.8L458.5 57.8M448.8 74.5L452.1 68.9M448.8 74.5L452.1 80.1M452.1 68.9L458.5 68.9M448.8 85.6L452.1 80.1M448.8 85.6L452.1 91.2M452.1 80.1L458.5 80.1M448.8 96.8L452.1 91.2M448.8 96.8L452.1 102.3M452.1 91.2L458.5 91.2M448.8 107.9L452.1 102.3M452.1 102.3L458.5 102.3M458.5 57.8L461.7 52.2M458.5 57.8L461.7 63.4M458.5 46.7L461.7 52.2M461.7 52.2L468.1 52.2M458.5 68.9L461.7 63.4M458.5 68.9L461.7 74.5M461.7 63.4L468.1 63.4M458.5 80.1L461.7 74.5M458.5 80.1L461.7 85.6M461.7 74.5L468.1 74.5M458.5 91.2L461.7 85.6M458.5 91.2L461.7 96.8M461.7 85.6L468.1 85.6M458.5 102.3L461.7 96.8M461.7 96.8L468.1 96.8M468.1 63.4L471.3 57.8M468.1 63.4L471.3 68.9M468.1 52.2L471.3 57.8M468.1 74.5L471.3 68.9M468.1 74.5L471.3 80.1M468.1 85.6L471.3 80.1M468.1 85.6L471.3 91.2M468.1 96.8L471.3 91.2" stroke="#a8a8a8" stroke-width="1" fill="none"/>
<circle cx="394.3" cy="57.8" r="1.0" fill="#dadada"/>
<circle cx="400.7" cy="46.7" r="1.0" fill="#dadada"/>
<circle cx="394.3" cy="68.9" r="1.0" fill="#dadada"/>
<circle cx="394.3" cy="80.1" r="1.0" fill="#dadada"/>
<circle cx="400.7" cy="102.3" r="1.0" fill="#dadada"/>
<circle cx="394.3" cy="91.2" r="1.0" fill="#dadada"/>
<circle cx="410.3" cy="41.1" r="1.0" fill="#dadada"/>
<circle cx="410.3" cy="107.9" r="1.0" fill="#dadada"/>
<circle cx="419.9" cy="35.6" r="1.0" fill="#dadada"/>
<circle cx="419.9" cy="113.4" r="1.0" fill="#dadada"/>
<circle cx="429.6" cy="30" r="1.0" fill="#dadada"/>
<circle cx="442.4" cy="30" r="1.0" fill="#dadada"/>
<circle cx="442.4" cy="119" r="1.0" fill="#dadada"/>
<circle cx="429.6" cy="119" r="1.0" fill="#dadada"/>
<circle cx="452.1" cy="35.6" r="1.0" fill="#dadada"/>
<circle cx="452.1" cy="113.4" r="1.0" fill="#dadada"/>
<circle cx="461.7" cy="41.1" r="1.0" fill="#dadada"/>
<circle cx="461.7" cy="107.9" r="1.0" fill="#dadada"/>
<circle cx="471.3" cy="46.7" r="1.0" fill="#dadada"/>
<circle cx="477.7" cy="57.8" r="1.0" fill="#dadada"/>
<circle cx="477.7" cy="68.9" r="1.0" fill="#dadada"/>
<circle cx="477.7" cy="80.1" r="1.0" fill="#dadada"/>
<circle cx="471.3" cy="102.3" r="1.0" fill="#dadada"/>
<circle cx="477.7" cy="91.2" r="1.0" fill="#dadada"/>
<circle cx="410.3" cy="63.4" r="1.75" fill="#7a7a7a"/>
<circle cx="403.9" cy="63.4" r="1.75" fill="#7a7a7a"/>
<circle cx="400.7" cy="57.8" r="1.75" fill="#7a7a7a"/>
<circle cx="403.9" cy="52.2" r="1.75" fill="#7a7a7a"/>
<circle cx="410.3" cy="52.2" r="1.75" fill="#7a7a7a"/>
<circle cx="413.5" cy="57.8" r="1.75" fill="#7a7a7a"/>
<circle cx="410.3" cy="74.5" r="1.75" fill="#7a7a7a"/>
<circle cx="403.9" cy="74.5" r="1.75" fill="#7a7a7a"/>
<circle cx="400.7" cy="68.9" r="1.75" fill="#7a7a7a"/>
<circle cx="413.5" cy="68.9" r="1.75" fill="#7a7a7a"/>
<circle cx="410.3" cy="85.6" r="1.75" fill="#7a7a7a"/>
<circle cx="403.9" cy="85.6" r="1.75" fill="#7a7a7a"/>
<circle cx="400.7" cy="80.1" r="1.75" fill="#7a7a7a"/>
<circle cx="413.5" cy="80.1" r="1.75" fill="#7a7a7a"/>
<circle cx="410.3" cy="96.8" r="1.75" fill="#7a7a7a"/>
<circle cx="403.9" cy="96.8" r="1.75" fill="#7a7a7a"/>
<circle cx="400.7" cy="91.2" r="1.75" fill="#7a7a7a"/>
<circle cx="413.5" cy="91.2" r="1.75" fill="#7a7a7a"/>
<circle cx="419.9" cy="57.8" r="1.75" fill="#7a7a7a"/>
<circle cx="413.5" cy="46.7" r="1.75" fill="#7a7a7a"/>
<circle cx="419.9" cy="46.7" r="1.75" fill="#7a7a7a"/>
<circle cx="423.2" cy="52.2" r="1.75" fill="#7a7a7a"/>
<circle cx="419.9" cy="68.9" r="1.75" fill="#7a7a7a"/>
<circle cx="423.2" cy="63.4" r="1.75" fill="#7a7a7a"/>
<circle cx="419.9" cy="80.1" r="1.75" fill="#7a7a7a"/>
<circle cx="423.2" cy="74.5" r="1.75" fill="#7a7a7a"/>
<circle cx="419.9" cy="91.2" r="1.75" fill="#7a7a7a"/>
<circle cx="423.2" cy="85.6" r="1.75" fill="#7a7a7a"/>
<circle cx="419.9" cy="102.3" r="1.75" fill="#7a7a7a"/>
<circle cx="413.5" cy="102.3" r="1.75" fill="#7a7a7a"/>
<circle cx="423.2" cy="96.8" r="1.75" fill="#7a7a7a"/>
<circle cx="429.6" cy="52.2" r="1.75" fill="#7a7a7a"/>
<circle cx="423.2" cy="41.1" r="1.75" fill="#7a7a7a"/>
<circle cx="429.6" cy="41.1" r="1.75" fill="#7a7a7a"/>
<circle cx="432.8" cy="46.7" r="1.75" fill="#7a7a7a"/>
<circle cx="429.6" cy="63.4" r="1.75" fill="#7a7a7a"/>
<circle cx="432.8" cy="57.8" r="1.75" fill="#7a7a7a"/>
<circle cx="429.6" cy="74.5" r="1.75" fill="#7a7a7a"/>
<circle cx="432.8" cy="68.9" r="1.75" fill="#7a7a7a"/>
<circle cx="429.6" cy="85.6" r="1.75" fill="#7a7a7a"/>
<circle cx="432.8" cy="80.1" r="1.75" fill="#7a7a7a"/>
<circle cx="429.6" cy="96.8" r="1.75" fill="#7a7a7a"/>
<circle cx="432.8" cy="91.2" r="1.75" fill="#7a7a7a"/>
<circle cx="429.6" cy="107.9" r="1.75" fill="#7a7a7a"/>
<circle cx="423.2" cy="107.9" r="1.75" fill="#7a7a7a"/>
<circle cx="432.8" cy="102.3" r="1.75" fill="#7a7a7a"/>
<circle cx="439.2" cy="46.7" r="1.75" fill="#7a7a7a"/>
<circle cx="432.8" cy="35.6" r="1.75" fill="#7a7a7a"/>
<circle cx="439.2" cy="35.6" r="1.75" fill="#7a7a7a"/>
<circle cx="442.4" cy="41.1" r="1.75" fill="#7a7a7a"/>
<circle cx="439.2" cy="57.8" r="1.75" fill="#7a7a7a"/>
<circle cx="442.4" cy="52.2" r="1.75" fill="#7a7a7a"/>
<circle cx="439.2" cy="68.9" r="1.75" fill="#7a7a7a"/>
<circle cx="442.4" cy="63.4" r="1.75" fill="#7a7a7a"/>
<circle cx="439.2" cy="80.1" r="1.75" fill="#7a7a7a"/>
<circle cx="442.4" cy="74.5" r="1.75" fill="#7a7a7a"/>
<circle cx="439.2" cy="91.2" r="1.75" fill="#7a7a7a"/>
<circle cx="442.4" cy="85.6" r="1.75" fill="#7a7a7a"/>
<circle cx="439.2" cy="102.3" r="1.75" fill="#7a7a7a"/>
<circle cx="442.4" cy="96.8" r="1.75" fill="#7a7a7a"/>
<circle cx="439.2" cy="113.4" r="1.75" fill="#7a7a7a"/>
<circle cx="432.8" cy="113.4" r="1.75" fill="#7a7a7a"/>
<circle cx="442.4" cy="107.9" r="1.75" fill="#7a7a7a"/>
<circle cx="448.8" cy="52.2" r="1.75" fill="#7a7a7a"/>
<circle cx="448.8" cy="41.1" r="1.75" fill="#7a7a7a"/>
<circle cx="452.1" cy="46.7" r="1.75" fill="#7a7a7a"/>
<circle cx="448.8" cy="63.4" r="1.75" fill="#7a7a7a"/>
<circle cx="452.1" cy="57.8" r="1.75" fill="#7a7a7a"/>
<circle cx="448.8" cy="74.5" r="1.75" fill="#7a7a7a"/>
<circle cx="452.1" cy="68.9" r="1.75" fill="#7a7a7a"/>
<circle cx="448.8" cy="85.6" r="1.75" fill="#7a7a7a"/>
<circle cx="452.1" cy="80.1" r="1.75" fill="#7a7a7a"/>
<circle cx="448.8" cy="96.8" r="1.75" fill="#7a7a7a"/>
<circle cx="452.1" cy="91.2" r="1.75" fill="#7a7a7a"/>
<circle cx="448.8" cy="107.9" r="1.75" fill="#7a7a7a"/>
<circle cx="452.1" cy="102.3" r="1.75" fill="#7a7a7a"/>
<circle cx="458.5" cy="57.8" r="1.75" fill="#7a7a7a"/>
<circle cx="458.5" cy="46.7" r="1.75" fill="#7a7a7a"/>
<circle cx="461.7" cy="52.2" r="1.75" fill="#7a7a7a"/>
<circle cx="458.5" cy="68.9" r="1.75" fill="#7a7a7a"/>
<circle cx="461.7" cy="63.4" r="1.75" fill="#7a7a7a"/>
<circle cx="458.5" cy="80.1" r="1.75" fill="#7a7a7a"/>
<circle cx="461.7" cy="74.5" r="1.75" fill="#7a7a7a"/>
<circle cx="458.5" cy="91.2" r="1.75" fill="#7a7a7a"/>
<circle cx="461.7" cy="85.6" r="1.75" fill="#7a7a7a"/>
<circle cx="458.5" cy="102.3" r="1.75" fill="#7a7a7a"/>
<circle cx="461.7" cy="96.8" r="1.75" fill="#7a7a7a"/>
<circle cx="468.1" cy="63.4" r="1.75" fill="#7a7a7a"/>
<circle cx="468.1" cy="52.2" r="1.75" fill="#7a7a7a"/>
<circle cx="471.3" cy="57.8" r="1.75" fill="#7a7a7a"/>
<circle cx="468.1" cy="74.5" r="1.75" fill="#7a7a7a"/>
<circle cx="471.3" cy="68.9" r="1.75" fill="#7a7a7a"/>
<circle cx="468.1" cy="85.6" r="1.75" fill="#7a7a7a"/>
<circle cx="471.3" cy="80.1" r="1.75" fill="#7a7a7a"/>
<circle cx="468.1" cy="96.8" r="1.75" fill="#7a7a7a"/>
<circle cx="471.3" cy="91.2" r="1.75" fill="#7a7a7a"/>
<line x1="300.7" y1="133" x2="300.7" y2="181" stroke="#3aa3b0" stroke-width="1.5" stroke-dasharray="4.3 2.3"/>
<path d="M297.5 171 L300.7 182.5 L303.9 171 L300.7 175Z" stroke="none" stroke-width="1" fill="#3aa3b0"/>
<circle cx="300.7" cy="130" r="2.8" fill="#d9a070" stroke="#3aa3b0" stroke-width="1.2"/>
<text x="296.9" y="151.7" font-size="8.85" fill="#3aa3b0" text-anchor="middle" font-weight="bold" transform="translate(296.9 151.7) rotate(-90) scale(1 1.08) translate(-296.9 -151.7)">7 rings</text>
<line x1="374.3" y1="79.7" x2="374.3" y2="181" stroke="#3070c0" stroke-width="1.5" stroke-dasharray="4.3 2.3"/>
<path d="M371.1 171 L374.3 182.5 L377.5 171 L374.3 175Z" stroke="none" stroke-width="1" fill="#3070c0"/>
<circle cx="374.3" cy="76.7" r="2.1" fill="#444" stroke="#444" stroke-width="1.2"/>
<text x="370.5" y="125.5" font-size="8.85" fill="#3070c0" text-anchor="middle" font-weight="bold" transform="translate(370.5 125.5) rotate(-90) scale(1 1.08) translate(-370.5 -125.5)">20 rings</text>
<line x1="468" y1="127.8" x2="468" y2="181" stroke="#c0245a" stroke-width="1.5" stroke-dasharray="4.3 2.3"/>
<path d="M464.8 171 L468 182.5 L471.2 171 L468 175Z" stroke="none" stroke-width="1" fill="#c0245a"/>
<circle cx="468" cy="124.8" r="2.1" fill="#c0245a" stroke="#c0245a" stroke-width="1.2"/>
<text x="464.2" y="140.9" font-size="8.85" fill="#c0245a" text-anchor="middle" font-weight="bold" transform="translate(464.2 140.9) rotate(-90) scale(1 1.08) translate(-464.2 -140.9)">37 rings</text>
<rect x="531.5" y="1.5" width="145" height="182" fill="none" stroke="#444" stroke-width="1"/>
<line x1="531.6" y1="62.5" x2="676.7" y2="62.5" stroke="#333" stroke-width="1"/>
<line x1="531.6" y1="123.5" x2="676.7" y2="123.5" stroke="#333" stroke-width="1"/>
<line x1="555.5" y1="62" x2="555.5" y2="59" stroke="#333" stroke-width="1"/>
<line x1="579.5" y1="62" x2="579.5" y2="59" stroke="#333" stroke-width="1"/>
<line x1="604.5" y1="62" x2="604.5" y2="59" stroke="#333" stroke-width="1"/>
<line x1="628.5" y1="62" x2="628.5" y2="59" stroke="#333" stroke-width="1"/>
<line x1="652.5" y1="62" x2="652.5" y2="59" stroke="#333" stroke-width="1"/>
<line x1="555.5" y1="123.5" x2="555.5" y2="120.5" stroke="#333" stroke-width="1"/>
<line x1="579.5" y1="123.5" x2="579.5" y2="120.5" stroke="#333" stroke-width="1"/>
<line x1="604.5" y1="123.5" x2="604.5" y2="120.5" stroke="#333" stroke-width="1"/>
<line x1="628.5" y1="123.5" x2="628.5" y2="120.5" stroke="#333" stroke-width="1"/>
<line x1="652.5" y1="123.5" x2="652.5" y2="120.5" stroke="#333" stroke-width="1"/>
<line x1="555.5" y1="183.5" x2="555.5" y2="180.5" stroke="#333" stroke-width="1"/>
<line x1="579.5" y1="183.5" x2="579.5" y2="180.5" stroke="#333" stroke-width="1"/>
<line x1="604.5" y1="183.5" x2="604.5" y2="180.5" stroke="#333" stroke-width="1"/>
<line x1="628.5" y1="183.5" x2="628.5" y2="180.5" stroke="#333" stroke-width="1"/>
<line x1="652.5" y1="183.5" x2="652.5" y2="180.5" stroke="#333" stroke-width="1"/>
<text x="531.6" y="195.3" font-size="8" fill="#111" text-anchor="middle" transform="translate(531.6 195.3) scale(1 1.15) translate(-531.6 -195.3)">800</text>
<text x="555.8" y="195.3" font-size="8" fill="#111" text-anchor="middle" transform="translate(555.8 195.3) scale(1 1.15) translate(-555.8 -195.3)">1000</text>
<text x="580" y="195.3" font-size="8" fill="#111" text-anchor="middle" transform="translate(580 195.3) scale(1 1.15) translate(-580 -195.3)">1200</text>
<text x="604.2" y="195.3" font-size="8" fill="#111" text-anchor="middle" transform="translate(604.2 195.3) scale(1 1.15) translate(-604.2 -195.3)">1400</text>
<text x="628.3" y="195.3" font-size="8" fill="#111" text-anchor="middle" transform="translate(628.3 195.3) scale(1 1.15) translate(-628.3 -195.3)">1600</text>
<text x="652.5" y="195.3" font-size="8" fill="#111" text-anchor="middle" transform="translate(652.5 195.3) scale(1 1.15) translate(-652.5 -195.3)">1800</text>
<text x="676.7" y="195.3" font-size="8" fill="#111" text-anchor="middle" transform="translate(676.7 195.3) scale(1 1.15) translate(-676.7 -195.3)">2000</text>
<text x="603.7" y="211" font-size="9" fill="#111" text-anchor="middle" transform="translate(603.7 211) scale(1 1.08) translate(-603.7 -211)">Raman shift (cm<tspan dy="-3" font-size="5.5">-1</tspan><tspan dy="3">)</tspan></text>
<text x="522.8" y="87.5" font-size="9" fill="#111" text-anchor="middle" transform="translate(522.8 87.5) rotate(-90) scale(1 1.08) translate(-522.8 -87.5)">Intensity (a.u.)</text>
<text x="514.5" y="14.5" font-size="16" fill="#111" transform="translate(514.5 14.5) scale(1 1.0) translate(-514.5 -14.5)">d</text>
<path d="M550 52.2 L550.5 52.1 L550.9 52.1 L551.4 52 L551.9 52 L552.4 51.9 L552.9 51.8 L553.4 51.7 L553.8 51.6 L554.3 51.6 L554.8 51.5 L555.3 51.4 L555.8 51.3 L556.3 51.2 L556.8 51 L557.2 50.9 L557.7 50.8 L558.2 50.7 L558.7 50.6 L559.2 50.4 L559.7 50.3 L560.1 50.2 L560.6 50 L561.1 49.9 L561.6 49.8 L562.1 49.6 L562.6 49.5 L563 49.3 L563.5 49.2 L564 49 L564.5 48.9 L565 48.7 L565.5 48.6 L565.9 48.4 L566.4 48.3 L566.9 48.1 L567.4 48 L567.9 47.8 L568.4 47.6 L568.8 47.5 L569.3 47.3 L569.8 47.1 L570.3 46.9 L570.8 46.8 L571.3 46.6 L571.7 46.4 L572.2 46.1 L572.7 45.9 L573.2 45.7 L573.7 45.4 L574.2 45.2 L574.6 44.9 L575.1 44.6 L575.6 44.2 L576.1 43.9 L576.6 43.5 L577.1 43.1 L577.5 42.7 L578 42.3 L578.5 41.8 L579 41.3 L579.5 40.8 L580 40.2 L580.5 39.6 L580.9 39 L581.4 38.3 L581.9 37.7 L582.4 37 L582.9 36.2 L583.4 35.5 L583.8 34.7 L584.3 33.9 L584.8 33.1 L585.3 32.2 L585.8 31.4 L586.3 30.5 L586.7 29.6 L587.2 28.7 L587.7 27.9 L588.2 27 L588.7 26.1 L589.2 25.2 L589.6 24.4 L590.1 23.5 L590.6 22.7 L591.1 21.9 L591.6 21.2 L592.1 20.4 L592.5 19.8 L593 19.1 L593.5 18.5 L594 17.9 L594.5 17.4 L595 17 L595.4 16.6 L595.9 16.2 L596.4 15.9 L596.9 15.7 L597.4 15.5 L597.9 15.4 L598.3 15.4 L598.8 15.4 L599.3 15.5 L599.8 15.6 L600.3 15.8 L600.8 16 L601.2 16.3 L601.7 16.6 L602.2 16.9 L602.7 17.3 L603.2 17.8 L603.7 18.3 L604.2 18.8 L604.6 19.3 L605.1 19.8 L605.6 20.4 L606.1 21 L606.6 21.6 L607.1 22.2 L607.5 22.8 L608 23.4 L608.5 24 L609 24.6 L609.5 25.1 L610 25.7 L610.4 26.2 L610.9 26.7 L611.4 27.1 L611.9 27.6 L612.4 27.9 L612.9 28.2 L613.3 28.4 L613.8 28.6 L614.3 28.7 L614.8 28.7 L615.3 28.6 L615.8 28.4 L616.2 28.1 L616.7 27.7 L617.2 27.1 L617.7 26.5 L618.2 25.8 L618.7 24.9 L619.1 24 L619.6 22.9 L620.1 21.8 L620.6 20.6 L621.1 19.3 L621.6 18 L622 16.7 L622.5 15.4 L623 14 L623.5 12.7 L624 11.5 L624.5 10.3 L624.9 9.3 L625.4 8.3 L625.9 7.5 L626.4 6.8 L626.9 6.3 L627.4 5.9 L627.8 5.8 L628.3 5.8 L628.8 6.3 L629.3 7.5 L629.8 9.4 L630.3 11.9 L630.8 14.9 L631.2 18.2 L631.7 21.7 L632.2 25.2 L632.7 28.7 L633.2 32 L633.7 35.1 L634.1 37.8 L634.6 40.3 L635.1 42.3 L635.6 44.1 L636.1 45.5 L636.6 46.6 L637 47.5 L637.5 48.2 L638 48.7 L638.5 49.1 L639 49.4 L639.5 49.6 L639.9 49.7 L640.4 49.8 L640.9 49.8 L641.4 49.8 L641.9 49.9 L642.4 49.9 L642.8 49.9 L642.8 49.9 L549.7 52.6Z" stroke="none" stroke-width="1" fill="#e8b9c8" fill-opacity="0.85"/>
<line x1="549.7" y1="52.6" x2="642.8" y2="49.9" stroke="#c0285c" stroke-width="0.8"/>
<path d="M531.6 52.3 L532.1 51.9 L532.6 52.5 L533.1 51.9 L533.5 52.3 L534 52.2 L534.5 51.7 L535 52.2 L535.5 51.6 L536 52 L536.4 51.6 L536.9 51.4 L537.4 51.9 L537.9 52.8 L538.4 52.1 L538.9 51.9 L539.3 52.4 L539.8 53.2 L540.3 53 L540.8 52.6 L541.3 53.4 L541.8 52.2 L542.2 53 L542.7 52.4 L543.2 51.9 L543.7 51.6 L544.2 51.7 L544.7 52.6 L545.1 52 L545.6 52.4 L546.1 52.6 L546.6 52.3 L547.1 52.4 L547.6 51.7 L548 51.3 L548.5 51.3 L549 52.1 L549.5 52 L550 51.8 L550.5 52.1 L550.9 52 L551.4 51.6 L551.9 52.2 L552.4 52.3 L552.9 51.6 L553.4 51.8 L553.8 51.7 L554.3 52.2 L554.8 52.1 L555.3 51.4 L555.8 52 L556.3 50.9 L556.8 50.8 L557.2 51.2 L557.7 50.4 L558.2 50.5 L558.7 49.7 L559.2 50.3 L559.7 50.7 L560.1 50.5 L560.6 50.8 L561.1 50 L561.6 50.1 L562.1 49.9 L562.6 49.8 L563 49.4 L563.5 49.8 L564 50 L564.5 49.3 L565 49.2 L565.5 48.1 L565.9 48.5 L566.4 48.5 L566.9 49 L567.4 48.9 L567.9 47.9 L568.4 47.5 L568.8 47.7 L569.3 46.6 L569.8 46.7 L570.3 46.2 L570.8 45.8 L571.3 45.4 L571.7 46.2 L572.2 45.5 L572.7 45.2 L573.2 45.1 L573.7 45.7 L574.2 44.6 L574.6 44.5 L575.1 44.5 L575.6 44.8 L576.1 44.7 L576.6 44.5 L577.1 43.3 L577.5 42.6 L578 42 L578.5 42.3 L579 42.3 L579.5 40.7 L580 39.6 L580.5 38.9 L580.9 38.2 L581.4 37.9 L581.9 37.6 L582.4 36.6 L582.9 35.2 L583.4 34.8 L583.8 34.2 L584.3 33.7 L584.8 33.7 L585.3 32.9 L585.8 31.7 L586.3 30.9 L586.7 30.1 L587.2 28.3 L587.7 28.3 L588.2 27.6 L588.7 27 L589.2 26.2 L589.6 24.7 L590.1 23.5 L590.6 22.1 L591.1 21.8 L591.6 20.4 L592.1 19.4 L592.5 18.8 L593 18.1 L593.5 17.7 L594 16.8 L594.5 16.1 L595 15.7 L595.4 15.3 L595.9 15.4 L596.4 14.8 L596.9 15.7 L597.4 15.7 L597.9 15 L598.3 14.8 L598.8 14.8 L599.3 15 L599.8 14.7 L600.3 15.9 L600.8 16.8 L601.2 16.6 L601.7 16.7 L602.2 16.4 L602.7 16.4 L603.2 17.1 L603.7 17.5 L604.2 18.9 L604.6 18.8 L605.1 18.8 L605.6 20.6 L606.1 21.1 L606.6 21.1 L607.1 22 L607.5 21.9 L608 23 L608.5 24.6 L609 25.4 L609.5 25.9 L610 25.7 L610.4 26 L610.9 26.1 L611.4 27.3 L611.9 27.7 L612.4 28.4 L612.9 28.2 L613.3 28 L613.8 28.9 L614.3 29.6 L614.8 29.7 L615.3 29.6 L615.8 29.4 L616.2 29 L616.7 27.7 L617.2 27.2 L617.7 26.3 L618.2 24.9 L618.7 23.7 L619.1 23 L619.6 22.1 L620.1 21.7 L620.6 21.3 L621.1 19.6 L621.6 18.9 L622 17.9 L622.5 16.7 L623 14.5 L623.5 12.5 L624 10.9 L624.5 9.6 L624.9 8.4 L625.4 8.1 L625.9 8 L626.4 7.6 L626.9 6.6 L627.4 6.4 L627.8 6.5 L628.3 5.5 L628.8 6.4 L629.3 8.2 L629.8 10.2 L630.3 12.7 L630.8 15.2 L631.2 17.8 L631.7 22 L632.2 25.1 L632.7 29.1 L633.2 33 L633.7 35.4 L634.1 37.8 L634.6 41 L635.1 43.1 L635.6 43.9 L636.1 44.8 L636.6 45.7 L637 47.7 L637.5 48.8 L638 48.5 L638.5 49.5 L639 50.3 L639.5 50.3 L639.9 49.8 L640.4 49.9 L640.9 49.3 L641.4 48.8 L641.9 50.1 L642.4 50.2 L642.8 50.1 L643.3 50.7 L643.8 50.1 L644.3 50.6 L644.8 50.7 L645.3 49.8 L645.7 49.4 L646.2 49.2 L646.7 49.1 L647.2 49.6 L647.7 49.3 L648.2 49.4 L648.6 48.9 L649.1 50 L649.6 49.6 L650.1 49.6 L650.6 49.7 L651.1 50.3 L651.5 49.8 L652 50.4 L652.5 50 L653 49.8 L653.5 49.8 L654 48.9 L654.5 49.2 L654.9 48.9 L655.4 48.4 L655.9 49.5 L656.4 49 L656.9 49.3 L657.4 49.8 L657.8 49.8 L658.3 49.4 L658.8 49.5 L659.3 49.7 L659.8 50.1 L660.3 49.2 L660.7 49.5 L661.2 49.1 L661.7 49 L662.2 49.7 L662.7 49.7 L663.2 49.7 L663.6 50.1 L664.1 50.5 L664.6 50 L665.1 50 L665.6 49.8 L666.1 49.7 L666.5 50 L667 49.7 L667.5 49.7 L668 49.6 L668.5 50.3 L669 50.3 L669.4 50.5 L669.9 50.8 L670.4 49.8 L670.9 49.8 L671.4 50.4 L671.9 50.5 L672.3 49.5 L672.8 48.9 L673.3 49.2 L673.8 48.7 L674.3 48.7 L674.8 48.5 L675.2 49.3 L675.7 49.9 L676.2 50.4 L676.7 49.4" stroke="#c0285c" stroke-width="1" fill="none"/>
<line x1="628.5" y1="7.7" x2="628.5" y2="47.3" stroke="#c0285c" stroke-width="0.8"/>
<path d="M626.3 45.3L628.1 50.3L629.9 45.3Z" stroke="none" stroke-width="1" fill="#c0285c"/>
<line x1="549.7" y1="52.8" x2="652.5" y2="52.8" stroke="#c0285c" stroke-width="0.8" stroke-dasharray="2.5 1.8"/>
<line x1="652.5" y1="52.8" x2="652.5" y2="49.6" stroke="#c0285c" stroke-width="0.8" stroke-dasharray="2.5 1.8"/>
<text x="534.8" y="22.3" font-size="9" fill="#c0285c" transform="translate(534.8 22.3) scale(1 1.08) translate(-534.8 -22.3)">CS-top</text>
<text x="655" y="58.5" font-size="9" fill="#c0285c" transform="translate(655 58.5) scale(1 1.08) translate(-655 -58.5)"><tspan font-style="italic">PL</tspan><tspan font-size="6.5">top</tspan></text>
<path d="M550 113.5 L550.5 113.5 L550.9 113.4 L551.4 113.3 L551.9 113.2 L552.4 113.1 L552.9 113 L553.4 112.9 L553.8 112.7 L554.3 112.6 L554.8 112.5 L555.3 112.4 L555.8 112.2 L556.3 112.1 L556.8 111.9 L557.2 111.8 L557.7 111.6 L558.2 111.5 L558.7 111.3 L559.2 111.2 L559.7 111 L560.1 110.8 L560.6 110.6 L561.1 110.5 L561.6 110.3 L562.1 110.1 L562.6 109.9 L563 109.7 L563.5 109.6 L564 109.4 L564.5 109.2 L565 109 L565.5 108.8 L565.9 108.6 L566.4 108.5 L566.9 108.3 L567.4 108.1 L567.9 107.9 L568.4 107.7 L568.8 107.5 L569.3 107.3 L569.8 107.1 L570.3 106.9 L570.8 106.7 L571.3 106.5 L571.7 106.3 L572.2 106.1 L572.7 105.9 L573.2 105.6 L573.7 105.3 L574.2 105.1 L574.6 104.8 L575.1 104.5 L575.6 104.2 L576.1 103.8 L576.6 103.4 L577.1 103.1 L577.5 102.6 L578 102.2 L578.5 101.7 L579 101.2 L579.5 100.7 L580 100.2 L580.5 99.6 L580.9 99 L581.4 98.4 L581.9 97.7 L582.4 97 L582.9 96.3 L583.4 95.6 L583.8 94.8 L584.3 94 L584.8 93.2 L585.3 92.4 L585.8 91.5 L586.3 90.7 L586.7 89.8 L587.2 88.9 L587.7 88.1 L588.2 87.2 L588.7 86.3 L589.2 85.5 L589.6 84.6 L590.1 83.8 L590.6 83 L591.1 82.2 L591.6 81.5 L592.1 80.7 L592.5 80.1 L593 79.4 L593.5 78.8 L594 78.2 L594.5 77.7 L595 77.3 L595.4 76.9 L595.9 76.5 L596.4 76.2 L596.9 76 L597.4 75.8 L597.9 75.7 L598.3 75.6 L598.8 75.6 L599.3 75.7 L599.8 75.8 L600.3 75.9 L600.8 76.2 L601.2 76.4 L601.7 76.7 L602.2 77.1 L602.7 77.5 L603.2 77.9 L603.7 78.4 L604.2 78.9 L604.6 79.4 L605.1 80 L605.6 80.6 L606.1 81.2 L606.6 81.8 L607.1 82.4 L607.5 83 L608 83.6 L608.5 84.2 L609 84.8 L609.5 85.3 L610 85.9 L610.4 86.4 L610.9 86.9 L611.4 87.3 L611.9 87.7 L612.4 88.1 L612.9 88.4 L613.3 88.6 L613.8 88.7 L614.3 88.8 L614.8 88.8 L615.3 88.6 L615.8 88.4 L616.2 88.1 L616.7 87.7 L617.2 87.1 L617.7 86.5 L618.2 85.8 L618.7 84.9 L619.1 84 L619.6 83 L620.1 81.8 L620.6 80.7 L621.1 79.4 L621.6 78.2 L622 76.9 L622.5 75.6 L623 74.3 L623.5 73 L624 71.8 L624.5 70.7 L624.9 69.6 L625.4 68.7 L625.9 67.9 L626.4 67.2 L626.9 66.7 L627.4 66.3 L627.8 66.2 L628.3 66.1 L628.8 66.6 L629.3 67.7 L629.8 69.5 L630.3 71.8 L630.8 74.6 L631.2 77.7 L631.7 81 L632.2 84.3 L632.7 87.5 L633.2 90.6 L633.7 93.5 L634.1 96.1 L634.6 98.4 L635.1 100.3 L635.6 101.9 L636.1 103.2 L636.6 104.3 L637 105.1 L637.5 105.7 L638 106.2 L638.5 106.5 L639 106.7 L639.5 106.9 L639.9 107 L640.4 107 L640.9 107 L641.4 107.1 L641.9 107 L642.4 107 L642.8 107 L642.8 107 L549.7 114Z" stroke="none" stroke-width="1" fill="#c3d5ea" fill-opacity="0.85"/>
<line x1="549.7" y1="114" x2="642.8" y2="107" stroke="#3a78c0" stroke-width="0.8"/>
<path d="M531.6 114.3 L532.1 114.4 L532.6 113.6 L533.1 114.4 L533.5 115 L534 114 L534.5 114.7 L535 114.2 L535.5 114.1 L536 114.8 L536.4 114.9 L536.9 113.9 L537.4 113.8 L537.9 113.9 L538.4 113.7 L538.9 113.4 L539.3 113.4 L539.8 114 L540.3 113.2 L540.8 113.7 L541.3 113.7 L541.8 113.1 L542.2 113.2 L542.7 113.8 L543.2 113.9 L543.7 113.2 L544.2 114.3 L544.7 114.5 L545.1 115 L545.6 113.8 L546.1 113.4 L546.6 112.9 L547.1 113.7 L547.6 113.4 L548 112.9 L548.5 113.2 L549 114 L549.5 114.3 L550 113.5 L550.5 112.9 L550.9 113.7 L551.4 113.6 L551.9 113.6 L552.4 112.7 L552.9 112 L553.4 112.7 L553.8 112.5 L554.3 111.8 L554.8 112.8 L555.3 112.7 L555.8 112.9 L556.3 111.8 L556.8 112.3 L557.2 111.3 L557.7 112 L558.2 111.6 L558.7 111.1 L559.2 111.1 L559.7 111.7 L560.1 110.8 L560.6 110 L561.1 110.2 L561.6 109.7 L562.1 109.2 L562.6 108.9 L563 108.5 L563.5 108.5 L564 108.5 L564.5 108.5 L565 109.1 L565.5 108.5 L565.9 108.5 L566.4 107.9 L566.9 107.7 L567.4 107 L567.9 107 L568.4 106.5 L568.8 107.3 L569.3 107.3 L569.8 106.6 L570.3 106.6 L570.8 107.3 L571.3 106.2 L571.7 106.6 L572.2 106.1 L572.7 105.9 L573.2 106.2 L573.7 105.4 L574.2 105.1 L574.6 105.1 L575.1 105.4 L575.6 104.4 L576.1 104.4 L576.6 104.1 L577.1 103.6 L577.5 102.8 L578 102 L578.5 100.9 L579 100.2 L579.5 99.5 L580 100 L580.5 99.1 L580.9 98.2 L581.4 97.3 L581.9 97.7 L582.4 97.6 L582.9 96.9 L583.4 95.5 L583.8 94.3 L584.3 93.4 L584.8 92.9 L585.3 91.7 L585.8 91.1 L586.3 90.1 L586.7 90.3 L587.2 89.9 L587.7 88.6 L588.2 87.1 L588.7 87 L589.2 85.5 L589.6 84.4 L590.1 82.9 L590.6 82.4 L591.1 81.9 L591.6 81.3 L592.1 80.2 L592.5 79.8 L593 78.5 L593.5 78 L594 77.2 L594.5 77 L595 76.2 L595.4 75.6 L595.9 75.5 L596.4 75.3 L596.9 75.7 L597.4 75.7 L597.9 76 L598.3 76 L598.8 76.2 L599.3 76.6 L599.8 76 L600.3 75.8 L600.8 76.9 L601.2 76.2 L601.7 77 L602.2 77.5 L602.7 77 L603.2 78.2 L603.7 79.2 L604.2 79.5 L604.6 80.1 L605.1 80.8 L605.6 80.4 L606.1 81.1 L606.6 81.7 L607.1 82.9 L607.5 83.7 L608 84.5 L608.5 84.8 L609 85.7 L609.5 86.1 L610 86.6 L610.4 86.3 L610.9 86.1 L611.4 86.3 L611.9 87 L612.4 87.1 L612.9 88.4 L613.3 88.7 L613.8 89 L614.3 89.1 L614.8 89.2 L615.3 88.9 L615.8 87.7 L616.2 88.2 L616.7 88.1 L617.2 87.4 L617.7 86.7 L618.2 86.1 L618.7 84.4 L619.1 84.1 L619.6 82.6 L620.1 81 L620.6 79.9 L621.1 79.4 L621.6 77.7 L622 77 L622.5 76.4 L623 74.7 L623.5 73 L624 71.8 L624.5 70.9 L624.9 70.2 L625.4 69.2 L625.9 68.3 L626.4 66.8 L626.9 65.9 L627.4 65.5 L627.8 66.1 L628.3 65.8 L628.8 66.5 L629.3 66.9 L629.8 68.4 L630.3 70.9 L630.8 74.4 L631.2 77.9 L631.7 81.3 L632.2 84.1 L632.7 87.5 L633.2 90.6 L633.7 93.4 L634.1 95.4 L634.6 98.7 L635.1 100 L635.6 102.5 L636.1 104.2 L636.6 104 L637 104.9 L637.5 106.1 L638 107.1 L638.5 106.9 L639 106.5 L639.5 106.3 L639.9 107.4 L640.4 106.8 L640.9 107.1 L641.4 106.5 L641.9 106.8 L642.4 107.6 L642.8 106.7 L643.3 107.3 L643.8 107.1 L644.3 107.6 L644.8 107.6 L645.3 106.8 L645.7 107.4 L646.2 107 L646.7 106.1 L647.2 105.6 L647.7 106.1 L648.2 106.3 L648.6 106.1 L649.1 105.7 L649.6 105.9 L650.1 105.9 L650.6 106.7 L651.1 105.7 L651.5 106.4 L652 106.9 L652.5 106 L653 106.8 L653.5 106.9 L654 107.2 L654.5 106.4 L654.9 106.2 L655.4 106.1 L655.9 107 L656.4 106.8 L656.9 106.3 L657.4 106.2 L657.8 105.9 L658.3 105.4 L658.8 105.2 L659.3 106.3 L659.8 105.9 L660.3 106.8 L660.7 106.2 L661.2 105.9 L661.7 106.1 L662.2 105.7 L662.7 105.8 L663.2 106.8 L663.6 107.2 L664.1 107.2 L664.6 107 L665.1 107.3 L665.6 107.5 L666.1 107 L666.5 107 L667 105.9 L667.5 106.5 L668 106.3 L668.5 106.7 L669 106.7 L669.4 106.2 L669.9 105.5 L670.4 106.6 L670.9 105.8 L671.4 106 L671.9 105.9 L672.3 105.8 L672.8 106.4 L673.3 107.1 L673.8 106.3 L674.3 106.6 L674.8 106.1 L675.2 106.3 L675.7 106.1 L676.2 105.7 L676.7 105.5" stroke="#3a78c0" stroke-width="1" fill="none"/>
<line x1="628.5" y1="68.1" x2="628.5" y2="105.1" stroke="#3a78c0" stroke-width="0.8"/>
<path d="M626.3 103.1L628.1 108.1L629.9 103.1Z" stroke="none" stroke-width="1" fill="#3a78c0"/>
<line x1="549.7" y1="114.2" x2="652.5" y2="114.2" stroke="#3a78c0" stroke-width="0.8" stroke-dasharray="2.5 1.8"/>
<line x1="652.5" y1="114.2" x2="652.5" y2="106.3" stroke="#3a78c0" stroke-width="0.8" stroke-dasharray="2.5 1.8"/>
<text x="534.8" y="81" font-size="9" fill="#3a78c0" transform="translate(534.8 81) scale(1 1.08) translate(-534.8 -81)">CS-middle</text>
<text x="646.5" y="119.8" font-size="9" fill="#3a78c0" transform="translate(646.5 119.8) scale(1 1.08) translate(-646.5 -119.8)"><tspan font-style="italic">PL</tspan><tspan font-size="6.5">middle</tspan></text>
<path d="M550 175.3 L550.5 175.2 L550.9 175.1 L551.4 175 L551.9 174.9 L552.4 174.7 L552.9 174.6 L553.4 174.5 L553.8 174.3 L554.3 174.2 L554.8 174 L555.3 173.9 L555.8 173.7 L556.3 173.6 L556.8 173.4 L557.2 173.3 L557.7 173.1 L558.2 172.9 L558.7 172.8 L559.2 172.6 L559.7 172.4 L560.1 172.2 L560.6 172.1 L561.1 171.9 L561.6 171.7 L562.1 171.5 L562.6 171.3 L563 171.1 L563.5 171 L564 170.8 L564.5 170.6 L565 170.4 L565.5 170.2 L565.9 170 L566.4 169.8 L566.9 169.6 L567.4 169.5 L567.9 169.3 L568.4 169.1 L568.8 168.9 L569.3 168.7 L569.8 168.5 L570.3 168.3 L570.8 168.1 L571.3 167.9 L571.7 167.7 L572.2 167.5 L572.7 167.3 L573.2 167.1 L573.7 166.8 L574.2 166.6 L574.6 166.3 L575.1 166 L575.6 165.8 L576.1 165.5 L576.6 165.1 L577.1 164.8 L577.5 164.5 L578 164.1 L578.5 163.7 L579 163.3 L579.5 162.9 L580 162.4 L580.5 162 L580.9 161.5 L581.4 161 L581.9 160.5 L582.4 159.9 L582.9 159.3 L583.4 158.8 L583.8 158.2 L584.3 157.5 L584.8 156.9 L585.3 156.3 L585.8 155.6 L586.3 154.9 L586.7 154.3 L587.2 153.6 L587.7 152.9 L588.2 152.2 L588.7 151.5 L589.2 150.9 L589.6 150.2 L590.1 149.6 L590.6 148.9 L591.1 148.3 L591.6 147.7 L592.1 147.1 L592.5 146.6 L593 146.1 L593.5 145.6 L594 145.1 L594.5 144.7 L595 144.3 L595.4 144 L595.9 143.6 L596.4 143.4 L596.9 143.2 L597.4 143 L597.9 142.8 L598.3 142.7 L598.8 142.7 L599.3 142.6 L599.8 142.6 L600.3 142.7 L600.8 142.8 L601.2 142.9 L601.7 143.1 L602.2 143.2 L602.7 143.5 L603.2 143.7 L603.7 144 L604.2 144.2 L604.6 144.5 L605.1 144.8 L605.6 145.2 L606.1 145.5 L606.6 145.8 L607.1 146.2 L607.5 146.5 L608 146.9 L608.5 147.2 L609 147.5 L609.5 147.9 L610 148.2 L610.4 148.4 L610.9 148.7 L611.4 148.9 L611.9 149.2 L612.4 149.3 L612.9 149.5 L613.3 149.5 L613.8 149.6 L614.3 149.5 L614.8 149.4 L615.3 149.3 L615.8 149 L616.2 148.7 L616.7 148.3 L617.2 147.9 L617.7 147.3 L618.2 146.7 L618.7 146 L619.1 145.2 L619.6 144.4 L620.1 143.5 L620.6 142.5 L621.1 141.5 L621.6 140.5 L622 139.4 L622.5 138.3 L623 137.3 L623.5 136.3 L624 135.3 L624.5 134.3 L624.9 133.5 L625.4 132.7 L625.9 132 L626.4 131.5 L626.9 131 L627.4 130.7 L627.8 130.5 L628.3 130.4 L628.8 130.7 L629.3 131.6 L629.8 132.9 L630.3 134.7 L630.8 136.8 L631.2 139.1 L631.7 141.6 L632.2 144.2 L632.7 146.7 L633.2 149 L633.7 151.2 L634.1 153.2 L634.6 154.9 L635.1 156.4 L635.6 157.6 L636.1 158.6 L636.6 159.3 L637 159.9 L637.5 160.4 L638 160.7 L638.5 160.9 L639 161 L639.5 161.1 L639.9 161.1 L640.4 161.1 L640.9 161.1 L641.4 161 L641.9 161 L642.4 160.9 L642.8 160.8 L642.8 160.8 L549.7 175.7Z" stroke="none" stroke-width="1" fill="#d3ebec" fill-opacity="0.85"/>
<line x1="549.7" y1="175.7" x2="642.8" y2="160.8" stroke="#5fb6bf" stroke-width="0.8"/>
<path d="M531.6 175.2 L532.1 176.1 L532.6 175.9 L533.1 175.4 L533.5 176.2 L534 176.7 L534.5 176.1 L535 175.3 L535.5 175 L536 174.7 L536.4 174.9 L536.9 174.7 L537.4 174.8 L537.9 174.8 L538.4 175.4 L538.9 176.1 L539.3 176.3 L539.8 175.9 L540.3 175.6 L540.8 175.7 L541.3 175.5 L541.8 175.3 L542.2 174.8 L542.7 174.9 L543.2 176 L543.7 175.2 L544.2 175.4 L544.7 175.7 L545.1 176.2 L545.6 175.4 L546.1 175.1 L546.6 174.9 L547.1 175.1 L547.6 175.2 L548 176.1 L548.5 176.3 L549 176.4 L549.5 175.1 L550 174.5 L550.5 175.1 L550.9 175.7 L551.4 175.2 L551.9 175.1 L552.4 174.1 L552.9 174.1 L553.4 174.9 L553.8 175.1 L554.3 175.1 L554.8 175.3 L555.3 174.1 L555.8 173.2 L556.3 172.8 L556.8 173.1 L557.2 173.4 L557.7 173.9 L558.2 173.7 L558.7 173.4 L559.2 173.3 L559.7 172.7 L560.1 172.5 L560.6 171.4 L561.1 172 L561.6 171.3 L562.1 172 L562.6 171.8 L563 171.1 L563.5 170.3 L564 170.1 L564.5 170.4 L565 170.6 L565.5 169.7 L565.9 169.1 L566.4 169.4 L566.9 169.6 L567.4 169.2 L567.9 168.7 L568.4 169 L568.8 168.1 L569.3 168 L569.8 168.1 L570.3 168.8 L570.8 168.6 L571.3 168.8 L571.7 168.1 L572.2 167.3 L572.7 166.8 L573.2 167.5 L573.7 167.4 L574.2 166.5 L574.6 165.5 L575.1 165.6 L575.6 165.8 L576.1 165.4 L576.6 164.7 L577.1 164.9 L577.5 165.2 L578 164 L578.5 162.9 L579 162.7 L579.5 162.4 L580 162.5 L580.5 161.5 L580.9 161.7 L581.4 161.5 L581.9 160.7 L582.4 159.6 L582.9 159.9 L583.4 158.7 L583.8 158.7 L584.3 157.4 L584.8 156.4 L585.3 156.4 L585.8 155.3 L586.3 155.5 L586.7 154.5 L587.2 153.2 L587.7 152.3 L588.2 151.8 L588.7 151.6 L589.2 151.6 L589.6 150 L590.1 149.3 L590.6 148.3 L591.1 148.8 L591.6 147.4 L592.1 146.2 L592.5 145.4 L593 145.3 L593.5 145.8 L594 145.9 L594.5 145.4 L595 145.5 L595.4 145.2 L595.9 144 L596.4 143.1 L596.9 143.7 L597.4 143.6 L597.9 142.4 L598.3 142.8 L598.8 142.5 L599.3 142.3 L599.8 142.2 L600.3 142 L600.8 141.6 L601.2 142 L601.7 142.4 L602.2 143.6 L602.7 143 L603.2 144.2 L603.7 143.8 L604.2 143.9 L604.6 144.9 L605.1 145.5 L605.6 145.4 L606.1 144.9 L606.6 145.5 L607.1 145.8 L607.5 147 L608 146.6 L608.5 146.9 L609 148 L609.5 147.3 L610 147.8 L610.4 148.7 L610.9 149.3 L611.4 148.5 L611.9 148.2 L612.4 148.1 L612.9 149.5 L613.3 149.2 L613.8 149.8 L614.3 150.3 L614.8 149.5 L615.3 149 L615.8 149.6 L616.2 149.2 L616.7 148.2 L617.2 148.1 L617.7 147.2 L618.2 146.3 L618.7 145 L619.1 145.1 L619.6 145 L620.1 144 L620.6 143.5 L621.1 141.2 L621.6 139.9 L622 139.1 L622.5 138.9 L623 138.3 L623.5 136.6 L624 135 L624.5 134.1 L624.9 133.4 L625.4 133.3 L625.9 131.8 L626.4 131.8 L626.9 131.6 L627.4 131.5 L627.8 131.3 L628.3 131 L628.8 130.7 L629.3 131.3 L629.8 132.5 L630.3 134.9 L630.8 136.2 L631.2 138.4 L631.7 141.7 L632.2 143.8 L632.7 145.8 L633.2 147.9 L633.7 150.7 L634.1 152.7 L634.6 155.4 L635.1 157.2 L635.6 158.8 L636.1 158.8 L636.6 158.8 L637 159 L637.5 159.9 L638 160.8 L638.5 160.8 L639 160.6 L639.5 160.7 L639.9 161.1 L640.4 161.4 L640.9 161.6 L641.4 161.8 L641.9 161.6 L642.4 160.6 L642.8 161.2 L643.3 160.6 L643.8 160.7 L644.3 160.4 L644.8 160.8 L645.3 160.1 L645.7 159.8 L646.2 159.6 L646.7 159.3 L647.2 160.3 L647.7 160.3 L648.2 159.8 L648.6 159.7 L649.1 160.5 L649.6 160.1 L650.1 159.4 L650.6 160 L651.1 160 L651.5 160.5 L652 159.2 L652.5 159.2 L653 159.8 L653.5 160.1 L654 160.3 L654.5 159.1 L654.9 158.9 L655.4 158.5 L655.9 158.4 L656.4 159.6 L656.9 159.6 L657.4 160.1 L657.8 159.5 L658.3 160 L658.8 159.6 L659.3 159 L659.8 159.6 L660.3 160.2 L660.7 159.1 L661.2 159.4 L661.7 159.5 L662.2 159 L662.7 158.9 L663.2 158.5 L663.6 158.4 L664.1 158.5 L664.6 159 L665.1 159.4 L665.6 158.9 L666.1 158.3 L666.5 158.5 L667 159.2 L667.5 158.7 L668 158.7 L668.5 158.5 L669 159.4 L669.4 159.4 L669.9 158.7 L670.4 158.3 L670.9 158.7 L671.4 159.1 L671.9 159.4 L672.3 158.7 L672.8 158.5 L673.3 159.2 L673.8 159.1 L674.3 158.9 L674.8 158.8 L675.2 159.8 L675.7 159.2 L676.2 159.4 L676.7 159.1" stroke="#5fb6bf" stroke-width="1" fill="none"/>
<line x1="628.5" y1="132.4" x2="628.5" y2="160.2" stroke="#5fb6bf" stroke-width="0.8"/>
<path d="M626.3 158.2L628.1 163.2L629.9 158.2Z" stroke="none" stroke-width="1" fill="#5fb6bf"/>
<line x1="549.7" y1="175.7" x2="652.5" y2="175.7" stroke="#5fb6bf" stroke-width="0.8" stroke-dasharray="2.5 1.8"/>
<line x1="652.5" y1="175.7" x2="652.5" y2="159.3" stroke="#5fb6bf" stroke-width="0.8" stroke-dasharray="2.5 1.8"/>
<text x="534.8" y="141.7" font-size="9" fill="#5fb6bf" transform="translate(534.8 141.7) scale(1 1.08) translate(-534.8 -141.7)">CS-low</text>
<text x="655" y="174" font-size="9" fill="#5fb6bf" transform="translate(655 174) scale(1 1.08) translate(-655 -174)"><tspan font-style="italic">PL</tspan><tspan font-size="6.5">low</tspan></text>
<rect x="33.5" y="222.5" width="164" height="220" fill="none" stroke="#444" stroke-width="1"/>
<line x1="33.6" y1="295.5" x2="197.8" y2="295.5" stroke="#333" stroke-width="1"/>
<line x1="33.6" y1="368.5" x2="197.8" y2="368.5" stroke="#333" stroke-width="1"/>
<line x1="64.5" y1="295.3" x2="64.5" y2="292.3" stroke="#333" stroke-width="1"/>
<line x1="93.5" y1="295.3" x2="93.5" y2="292.3" stroke="#333" stroke-width="1"/>
<line x1="123.5" y1="295.3" x2="123.5" y2="292.3" stroke="#333" stroke-width="1"/>
<line x1="153.5" y1="295.3" x2="153.5" y2="292.3" stroke="#333" stroke-width="1"/>
<line x1="182.5" y1="295.3" x2="182.5" y2="292.3" stroke="#333" stroke-width="1"/>
<line x1="64.5" y1="368.4" x2="64.5" y2="365.4" stroke="#333" stroke-width="1"/>
<line x1="93.5" y1="368.4" x2="93.5" y2="365.4" stroke="#333" stroke-width="1"/>
<line x1="123.5" y1="368.4" x2="123.5" y2="365.4" stroke="#333" stroke-width="1"/>
<line x1="153.5" y1="368.4" x2="153.5" y2="365.4" stroke="#333" stroke-width="1"/>
<line x1="182.5" y1="368.4" x2="182.5" y2="365.4" stroke="#333" stroke-width="1"/>
<line x1="64.5" y1="442.5" x2="64.5" y2="439.5" stroke="#333" stroke-width="1"/>
<line x1="93.5" y1="442.5" x2="93.5" y2="439.5" stroke="#333" stroke-width="1"/>
<line x1="123.5" y1="442.5" x2="123.5" y2="439.5" stroke="#333" stroke-width="1"/>
<line x1="153.5" y1="442.5" x2="153.5" y2="439.5" stroke="#333" stroke-width="1"/>
<line x1="182.5" y1="442.5" x2="182.5" y2="439.5" stroke="#333" stroke-width="1"/>
<text x="34.4" y="455" font-size="8" fill="#111" text-anchor="middle" transform="translate(34.4 455) scale(1 1.15) translate(-34.4 -455)">292</text>
<text x="64.1" y="455" font-size="8" fill="#111" text-anchor="middle" transform="translate(64.1 455) scale(1 1.15) translate(-64.1 -455)">290</text>
<text x="93.8" y="455" font-size="8" fill="#111" text-anchor="middle" transform="translate(93.8 455) scale(1 1.15) translate(-93.8 -455)">288</text>
<text x="123.5" y="455" font-size="8" fill="#111" text-anchor="middle" transform="translate(123.5 455) scale(1 1.15) translate(-123.5 -455)">286</text>
<text x="153.2" y="455" font-size="8" fill="#111" text-anchor="middle" transform="translate(153.2 455) scale(1 1.15) translate(-153.2 -455)">284</text>
<text x="182.9" y="455" font-size="8" fill="#111" text-anchor="middle" transform="translate(182.9 455) scale(1 1.15) translate(-182.9 -455)">282</text>
<text x="115.6" y="468.5" font-size="9" fill="#111" text-anchor="middle" transform="translate(115.6 468.5) scale(1 1.08) translate(-115.6 -468.5)">Binding Energy (eV)</text>
<text x="25.3" y="327" font-size="9" fill="#111" text-anchor="middle" transform="translate(25.3 327) rotate(-90) scale(1 1.08) translate(-25.3 -327)">Intensity (a.u.)</text>
<text x="15" y="226.5" font-size="16" fill="#111" transform="translate(15 226.5) scale(1 1.0) translate(-15 -226.5)">e</text>
<path d="M33.6 281.3 L34.6 281.6 L35.6 281.4 L36.6 281.6 L37.6 281.6 L38.6 281 L39.6 280.9 L40.6 281.6 L41.6 281 L42.6 280.9 L43.6 281.6 L44.6 281 L45.6 281.3 L46.6 280.9 L47.6 281 L48.6 280.5 L49.6 280.9 L50.6 281.1 L51.6 280.7 L52.6 280.9 L53.6 280.8 L54.6 280.2 L55.6 280.9 L56.6 280.7 L57.6 280.4 L58.6 280.2 L59.6 281.1 L60.6 280.7 L61.6 281 L62.6 281.2 L63.6 281.1 L64.6 281.4 L65.6 280.9 L66.6 281.4 L67.6 281.1 L68.6 281.6 L69.6 281.6 L70.6 280.9 L71.6 280.9 L72.6 281 L73.6 281.7 L74.6 281.2 L75.6 281.3 L76.6 281 L77.6 281.1 L78.6 280.9 L79.6 280.8 L80.6 281 L81.6 280.9 L82.6 281.2 L83.6 281 L84.6 281.2 L85.6 281.1 L86.6 281.3 L87.6 281 L88.6 280.5 L89.6 281.3 L90.6 281.5 L91.6 281.6 L92.6 281.4 L93.6 281.6 L94.6 281.3 L95.6 282 L96.6 281.8 L97.6 281.6 L98.6 281.5 L99.6 282.3 L100.6 282.4 L101.6 281.5 L102.6 282.1 L103.6 281.6 L104.6 281.1 L105.6 281 L106.6 281.2 L107.6 281 L108.6 279.9 L109.6 280.1 L110.6 279.2 L111.6 279.6 L112.6 278.9 L113.6 279.3 L114.6 279.1 L115.6 278.5 L116.6 278.7 L117.6 277.8 L118.6 277.2 L119.6 277.3 L120.6 276.3 L121.6 276.1 L122.6 275.9 L123.6 275.7 L124.6 275 L125.6 274.7 L126.6 275.5 L127.6 275.1 L128.6 275.8 L129.6 275.8 L130.6 275.1 L131.6 274.9 L132.6 274.3 L133.6 273.4 L134.6 272.1 L135.6 270.5 L136.6 268.8 L137.6 267.4 L138.6 265.3 L139.6 263.7 L140.6 262.5 L141.6 260.5 L142.6 258.9 L143.6 257.6 L144.6 254.8 L145.6 251.9 L146.6 248 L147.6 244.6 L148.6 240.8 L149.6 236.3 L150.6 233.4 L151.6 230.9 L152.6 228.9 L153.6 229.6 L154.6 231 L155.6 234.2 L156.6 238 L157.6 243.2 L158.6 248.5 L159.6 253.2 L160.6 258.4 L161.6 263.7 L162.6 268.2 L163.6 271.2 L164.6 274.4 L165.6 276.9 L166.6 278.5 L167.6 280 L168.6 281 L169.6 281.9 L170.6 282.7 L171.6 282.8 L172.6 283.2 L173.6 283.8 L174.6 283.2 L175.6 283.9 L176.6 284.2 L177.6 283.9 L178.6 283.8 L179.6 284.5 L180.6 284 L181.6 284 L182.6 284.3 L183.6 284.6 L184.6 284.1 L185.6 284.4 L186.6 284.4 L187.6 285 L188.6 284.6 L189.6 285.1 L190.6 284.4 L191.6 284.6 L192.6 285 L193.6 285.3 L194.6 284.9 L195.6 284.7 L196.6 284.6 L197.6 285" stroke="#ebebeb" stroke-width="3" fill="none"/>
<path d="M33.6 282.5 L34.6 282.5 L35.6 282.5 L36.6 282.5 L37.6 282.4 L38.6 282.4 L39.6 282.3 L40.6 282.3 L41.6 282.2 L42.6 282.2 L43.6 282.1 L44.6 282.1 L45.6 282 L46.6 281.9 L47.6 281.9 L48.6 281.8 L49.6 281.8 L50.6 281.7 L51.6 281.7 L52.6 281.6 L53.6 281.6 L54.6 281.6 L55.6 281.6 L56.6 281.6 L57.6 281.6 L58.6 281.7 L59.6 281.7 L60.6 281.7 L61.6 281.8 L62.6 281.9 L63.6 281.9 L64.6 282 L65.6 282.1 L66.6 282.1 L67.6 282.2 L68.6 282.2 L69.6 282.2 L70.6 282.3 L71.6 282.3 L72.6 282.3 L73.6 282.3 L74.6 282.2 L75.6 282.2 L76.6 282.2 L77.6 282.1 L78.6 282 L79.6 282 L80.6 281.9 L81.6 281.9 L82.6 281.8 L83.6 281.8 L84.6 281.7 L85.6 281.8 L86.6 281.8 L87.6 281.8 L88.6 281.9 L89.6 282 L90.6 282.1 L91.6 282.2 L92.6 282.3 L93.6 282.4 L94.6 282.6 L95.6 282.7 L96.6 282.8 L97.6 282.9 L98.6 282.9 L99.6 282.9 L100.6 282.9 L101.6 282.9 L102.6 282.8 L103.6 282.7 L104.6 282.5 L105.6 282.2 L106.6 281.9 L107.6 281.6 L108.6 281.3 L109.6 281 L110.6 280.7 L111.6 280.4 L112.6 280.1 L113.6 279.9 L114.6 279.7 L115.6 279.5 L116.6 279.2 L117.6 279 L118.6 278.6 L119.6 278.2 L120.6 277.8 L121.6 277.4 L122.6 276.9 L123.6 276.6 L124.6 276.3 L125.6 276.2 L126.6 276.2 L127.6 276.3 L128.6 276.4 L129.6 276.4 L130.6 276.3 L131.6 275.9 L132.6 275.2 L133.6 274.3 L134.6 273 L135.6 271.4 L136.6 269.7 L137.6 268 L138.6 266.3 L139.6 264.7 L140.6 263.3 L141.6 261.8 L142.6 260.1 L143.6 258.1 L144.6 255.7 L145.6 252.9 L146.6 249.5 L147.6 245.7 L148.6 241.7 L149.6 237.8 L150.6 234.3 L151.6 231.7" stroke="#6a6a6a" stroke-width="0.8" fill="none"/>
<path d="M33.6 282.6 L34.6 282.6 L35.6 282.6 L36.6 282.5 L37.6 282.5 L38.6 282.5 L39.6 282.4 L40.6 282.4 L41.6 282.3 L42.6 282.3 L43.6 282.2 L44.6 282.1 L45.6 282.1 L46.6 282 L47.6 282 L48.6 281.9 L49.6 281.9 L50.6 281.8 L51.6 281.8 L52.6 281.8 L53.6 281.7 L54.6 281.7 L55.6 281.7 L56.6 281.7 L57.6 281.8 L58.6 281.8 L59.6 281.9 L60.6 281.9 L61.6 282 L62.6 282.1 L63.6 282.1 L64.6 282.2 L65.6 282.3 L66.6 282.4 L67.6 282.5 L68.6 282.6 L69.6 282.7 L70.6 282.8 L71.6 282.9 L72.6 283 L73.6 283.1 L74.6 283.2 L75.6 283.3 L76.6 283.4 L77.6 283.4 L78.6 283.5 L79.6 283.6 L80.6 283.6" stroke="#999" stroke-width="0.8" fill="none"/>
<path d="M67.6 283.3 L68.6 283.3 L69.6 283.3 L70.6 283.2 L71.6 283.2 L72.6 283.1 L73.6 283 L74.6 282.9 L75.6 282.8 L76.6 282.7 L77.6 282.6 L78.6 282.5 L79.6 282.4 L80.6 282.3 L81.6 282.2 L82.6 282.2 L83.6 282.1 L84.6 282.1 L85.6 282.1 L86.6 282.1 L87.6 282.1 L88.6 282.2 L89.6 282.3 L90.6 282.4 L91.6 282.5 L92.6 282.6 L93.6 282.8 L94.6 282.9 L95.6 283.1 L96.6 283.2 L97.6 283.3 L98.6 283.5 L99.6 283.6 L100.6 283.7 L101.6 283.8 L102.6 283.9 L103.6 284 L104.6 284.1" stroke="#6cbcc4" stroke-width="0.8" fill="none"/>
<path d="M98.6 284 L99.6 283.9 L100.6 283.8 L101.6 283.7 L102.6 283.6 L103.6 283.4 L104.6 283.1 L105.6 282.9 L106.6 282.6 L107.6 282.3 L108.6 282 L109.6 281.7 L110.6 281.5 L111.6 281.4 L112.6 281.3 L113.6 281.3 L114.6 281.4 L115.6 281.6 L116.6 281.9 L117.6 282.2 L118.6 282.5 L119.6 282.9 L120.6 283.2 L121.6 283.5 L122.6 283.8 L123.6 284 L124.6 284.2 L125.6 284.4 L126.6 284.5 L127.6 284.6" stroke="#5a9ccc" stroke-width="0.8" fill="none"/>
<path d="M109.6 284.2 L110.6 284.1 L111.6 284 L112.6 283.8 L113.6 283.6 L114.6 283.3 L115.6 282.9 L116.6 282.5 L117.6 281.9 L118.6 281.3 L119.6 280.6 L120.6 280 L121.6 279.3 L122.6 278.7 L123.6 278.2 L124.6 277.8 L125.6 277.7 L126.6 277.8 L127.6 278.1 L128.6 278.6 L129.6 279.3 L130.6 280 L131.6 280.7 L132.6 281.4 L133.6 282.1 L134.6 282.7 L135.6 283.2 L136.6 283.7 L137.6 284 L138.6 284.3 L139.6 284.5 L140.6 284.7 L141.6 284.8 L142.6 284.9" stroke="#5a98c4" stroke-width="0.8" fill="none"/>
<path d="M123.6 284.5 L124.6 284.5 L125.6 284.4 L126.6 284.2 L127.6 284 L128.6 283.6 L129.6 283.1 L130.6 282.4 L131.6 281.5 L132.6 280.4 L133.6 279.3 L134.6 278 L135.6 276.9 L136.6 276 L137.6 275.4 L138.6 275.3 L139.6 275.7 L140.6 276.5 L141.6 277.6 L142.6 278.8 L143.6 280.1 L144.6 281.2 L145.6 282.3 L146.6 283.1 L147.6 283.7 L148.6 284.2 L149.6 284.6 L150.6 284.8 L151.6 285 L152.6 285.1" stroke="#3a78c0" stroke-width="0.8" fill="none"/>
<path d="M109.6 284.2 L110.6 284.2 L111.6 284.2 L112.6 284.2 L113.6 284.3 L114.6 284.3 L115.6 284.3 L116.6 284.3 L117.6 284.3 L118.6 284.3 L119.6 284.3 L120.6 284.3 L121.6 284.3 L122.6 284.2 L123.6 284.2 L124.6 284.2 L125.6 284.2 L126.6 284.2 L127.6 284.1 L128.6 284.1 L129.6 284.1 L130.6 284 L131.6 283.9 L132.6 283.8 L133.6 283.6 L134.6 283.4 L135.6 283 L136.6 282.6 L137.6 281.9 L138.6 280.9 L139.6 279.6 L140.6 277.8 L141.6 275.6 L142.6 272.8 L143.6 269.3 L144.6 265.2 L145.6 260.6 L146.6 255.6 L147.6 250.3 L148.6 245.1 L149.6 240.2 L150.6 236 L151.6 232.9 L152.6 231.2 L153.6 231 L154.6 232.5 L155.6 235.4 L156.6 239.4 L157.6 244.2 L158.6 249.5 L159.6 254.8 L160.6 260 L161.6 264.7 L162.6 268.9 L163.6 272.5 L164.6 275.5 L165.6 277.9 L166.6 279.8 L167.6 281.3 L168.6 282.3 L169.6 283.1 L170.6 283.7 L171.6 284.1 L172.6 284.4 L173.6 284.6 L174.6 284.8 L175.6 284.9 L176.6 285 L177.6 285.1 L178.6 285.2 L179.6 285.3 L180.6 285.3 L181.6 285.4 L182.6 285.4 L183.6 285.5 L184.6 285.6 L185.6 285.6 L186.6 285.6 L187.6 285.7 L188.6 285.7 L189.6 285.8 L190.6 285.8 L191.6 285.9 L192.6 285.9 L193.6 285.9 L194.6 286 L195.6 286 L196.6 286" stroke="#c0285c" stroke-width="0.8" fill="none"/>
<line x1="33.6" y1="282.9" x2="197.8" y2="286.3" stroke="#34495e" stroke-width="0.8"/>
<text x="35.5" y="235.7" font-size="9" fill="#c0285c" transform="translate(35.5 235.7) scale(1 1.08) translate(-35.5 -235.7)">CS-top</text>
<text x="35.5" y="246.9" font-size="8.1" fill="#c0285c" transform="translate(35.5 246.9) scale(1 1.15) translate(-35.5 -246.9)">C1<tspan font-style="italic">s</tspan>: 95.24 at.%</text>
<path d="M33.6 353.5 L34.6 354.1 L35.6 354.1 L36.6 353.4 L37.6 353.5 L38.6 354 L39.6 353.8 L40.6 354 L41.6 353.5 L42.6 353.3 L43.6 353.4 L44.6 353.9 L45.6 353.3 L46.6 353.4 L47.6 353.4 L48.6 353.4 L49.6 353.4 L50.6 353.8 L51.6 353.1 L52.6 352.9 L53.6 353.8 L54.6 353.8 L55.6 353.9 L56.6 353.3 L57.6 353.9 L58.6 353.9 L59.6 353.2 L60.6 353.8 L61.6 353.9 L62.6 353.8 L63.6 353.7 L64.6 353.5 L65.6 353.6 L66.6 353.5 L67.6 353.4 L68.6 353.9 L69.6 353.7 L70.6 354.2 L71.6 353.5 L72.6 354.3 L73.6 354.1 L74.6 354.3 L75.6 354.3 L76.6 354.3 L77.6 353.9 L78.6 353.3 L79.6 354 L80.6 353.4 L81.6 353.5 L82.6 353.9 L83.6 353.7 L84.6 353.6 L85.6 354.1 L86.6 353.8 L87.6 353.6 L88.6 353.6 L89.6 354.2 L90.6 353.9 L91.6 354.3 L92.6 353.9 L93.6 353.9 L94.6 354.3 L95.6 354.6 L96.6 354.1 L97.6 354.7 L98.6 354.9 L99.6 354.8 L100.6 354.8 L101.6 354 L102.6 354.6 L103.6 354.7 L104.6 353.8 L105.6 353.9 L106.6 353.7 L107.6 353.8 L108.6 353.5 L109.6 353.4 L110.6 353.5 L111.6 352.5 L112.6 352.4 L113.6 352.4 L114.6 352.2 L115.6 352.1 L116.6 352.8 L117.6 352.5 L118.6 351.6 L119.6 351.7 L120.6 351.3 L121.6 351 L122.6 350.8 L123.6 350.9 L124.6 350.6 L125.6 350.2 L126.6 350 L127.6 350.1 L128.6 349.7 L129.6 349.9 L130.6 349.7 L131.6 348.7 L132.6 347.5 L133.6 346.3 L134.6 345 L135.6 343.5 L136.6 341.9 L137.6 339.6 L138.6 338.3 L139.6 336.5 L140.6 334.8 L141.6 333.2 L142.6 331.6 L143.6 329.9 L144.6 327.2 L145.6 324.6 L146.6 321.1 L147.6 317.1 L148.6 313.4 L149.6 309.7 L150.6 305.7 L151.6 303.5 L152.6 302.2 L153.6 302.7 L154.6 304.3 L155.6 306.7 L156.6 311.3 L157.6 316 L158.6 320.6 L159.6 326.1 L160.6 330.9 L161.6 336.3 L162.6 340.3 L163.6 344.1 L164.6 347 L165.6 349.2 L166.6 351.1 L167.6 352.4 L168.6 353 L169.6 354.3 L170.6 354.2 L171.6 354.8 L172.6 355.7 L173.6 355.2 L174.6 355.4 L175.6 355.6 L176.6 356.5 L177.6 355.8 L178.6 355.8 L179.6 356.7 L180.6 356 L181.6 356.8 L182.6 356.7 L183.6 356.9 L184.6 357.1 L185.6 356.7 L186.6 357 L187.6 356.3 L188.6 357.1 L189.6 356.9 L190.6 357.1 L191.6 356.5 L192.6 357.2 L193.6 357.4 L194.6 356.6 L195.6 356.9 L196.6 357.2 L197.6 357.5" stroke="#ebebeb" stroke-width="3" fill="none"/>
<path d="M33.6 354.8 L34.6 354.8 L35.6 354.8 L36.6 354.8 L37.6 354.7 L38.6 354.7 L39.6 354.7 L40.6 354.7 L41.6 354.7 L42.6 354.6 L43.6 354.6 L44.6 354.6 L45.6 354.6 L46.6 354.5 L47.6 354.5 L48.6 354.5 L49.6 354.4 L50.6 354.4 L51.6 354.4 L52.6 354.4 L53.6 354.4 L54.6 354.4 L55.6 354.4 L56.6 354.4 L57.6 354.4 L58.6 354.5 L59.6 354.5 L60.6 354.5 L61.6 354.6 L62.6 354.6 L63.6 354.6 L64.6 354.7 L65.6 354.7 L66.6 354.8 L67.6 354.8 L68.6 354.9 L69.6 354.9 L70.6 354.9 L71.6 354.9 L72.6 354.9 L73.6 354.9 L74.6 354.9 L75.6 354.9 L76.6 354.9 L77.6 354.9 L78.6 354.8 L79.6 354.8 L80.6 354.8 L81.6 354.7 L82.6 354.7 L83.6 354.7 L84.6 354.7 L85.6 354.7 L86.6 354.7 L87.6 354.8 L88.6 354.8 L89.6 354.9 L90.6 354.9 L91.6 355 L92.6 355.1 L93.6 355.2 L94.6 355.2 L95.6 355.3 L96.6 355.4 L97.6 355.4 L98.6 355.5 L99.6 355.5 L100.6 355.5 L101.6 355.5 L102.6 355.4 L103.6 355.4 L104.6 355.2 L105.6 355.1 L106.6 354.9 L107.6 354.8 L108.6 354.6 L109.6 354.4 L110.6 354.2 L111.6 354 L112.6 353.9 L113.6 353.7 L114.6 353.6 L115.6 353.5 L116.6 353.3 L117.6 353.2 L118.6 353 L119.6 352.7 L120.6 352.5 L121.6 352.2 L122.6 351.9 L123.6 351.7 L124.6 351.5 L125.6 351.4 L126.6 351.3 L127.6 351.2 L128.6 351.1 L129.6 350.9 L130.6 350.5 L131.6 349.8 L132.6 348.9 L133.6 347.7 L134.6 346.1 L135.6 344.4 L136.6 342.6 L137.6 340.7 L138.6 339 L139.6 337.4 L140.6 335.8 L141.6 334.3 L142.6 332.7 L143.6 330.7 L144.6 328.3 L145.6 325.5 L146.6 322.1 L147.6 318.4 L148.6 314.4 L149.6 310.5 L150.6 307.1 L151.6 304.6" stroke="#6a6a6a" stroke-width="0.8" fill="none"/>
<path d="M36.6 354.8 L37.6 354.8 L38.6 354.8 L39.6 354.8 L40.6 354.7 L41.6 354.7 L42.6 354.7 L43.6 354.7 L44.6 354.6 L45.6 354.6 L46.6 354.6 L47.6 354.6 L48.6 354.5 L49.6 354.5 L50.6 354.5 L51.6 354.5 L52.6 354.5 L53.6 354.5 L54.6 354.5 L55.6 354.5 L56.6 354.5 L57.6 354.5 L58.6 354.6 L59.6 354.6 L60.6 354.6 L61.6 354.7 L62.6 354.7 L63.6 354.8 L64.6 354.9 L65.6 354.9 L66.6 355 L67.6 355.1 L68.6 355.1 L69.6 355.2 L70.6 355.3 L71.6 355.3 L72.6 355.4 L73.6 355.5 L74.6 355.5 L75.6 355.6 L76.6 355.6" stroke="#999" stroke-width="0.8" fill="none"/>
<path d="M70.6 355.5 L71.6 355.5 L72.6 355.4 L73.6 355.4 L74.6 355.4 L75.6 355.3 L76.6 355.3 L77.6 355.2 L78.6 355.2 L79.6 355.1 L80.6 355.1 L81.6 355 L82.6 355 L83.6 355 L84.6 354.9 L85.6 355 L86.6 355 L87.6 355 L88.6 355 L89.6 355.1 L90.6 355.2 L91.6 355.3 L92.6 355.3 L93.6 355.4 L94.6 355.5 L95.6 355.6 L96.6 355.7 L97.6 355.8 L98.6 355.9 L99.6 356 L100.6 356 L101.6 356.1" stroke="#6cbcc4" stroke-width="0.8" fill="none"/>
<path d="M100.6 356.1 L101.6 356.1 L102.6 356 L103.6 355.9 L104.6 355.7 L105.6 355.6 L106.6 355.4 L107.6 355.3 L108.6 355.1 L109.6 355 L110.6 354.8 L111.6 354.7 L112.6 354.7 L113.6 354.7 L114.6 354.8 L115.6 354.9 L116.6 355.1 L117.6 355.3 L118.6 355.5 L119.6 355.7 L120.6 355.9 L121.6 356.1 L122.6 356.3 L123.6 356.4 L124.6 356.5 L125.6 356.6" stroke="#5a9ccc" stroke-width="0.8" fill="none"/>
<path d="M111.6 356.3 L112.6 356.2 L113.6 356.1 L114.6 355.9 L115.6 355.7 L116.6 355.5 L117.6 355.1 L118.6 354.8 L119.6 354.4 L120.6 354 L121.6 353.6 L122.6 353.2 L123.6 353 L124.6 352.8 L125.6 352.7 L126.6 352.8 L127.6 353 L128.6 353.3 L129.6 353.7 L130.6 354.1 L131.6 354.5 L132.6 355 L133.6 355.4 L134.6 355.7 L135.6 356.1 L136.6 356.3 L137.6 356.5 L138.6 356.7 L139.6 356.9 L140.6 357" stroke="#5a98c4" stroke-width="0.8" fill="none"/>
<path d="M123.6 356.6 L124.6 356.6 L125.6 356.5 L126.6 356.3 L127.6 356.1 L128.6 355.7 L129.6 355.2 L130.6 354.5 L131.6 353.6 L132.6 352.6 L133.6 351.4 L134.6 350.2 L135.6 349.1 L136.6 348.2 L137.6 347.6 L138.6 347.5 L139.6 347.9 L140.6 348.7 L141.6 349.8 L142.6 351 L143.6 352.2 L144.6 353.4 L145.6 354.4 L146.6 355.2 L147.6 355.9 L148.6 356.3 L149.6 356.7 L150.6 356.9 L151.6 357.1 L152.6 357.2" stroke="#3a78c0" stroke-width="0.8" fill="none"/>
<path d="M110.6 356.3 L111.6 356.3 L112.6 356.4 L113.6 356.4 L114.6 356.4 L115.6 356.4 L116.6 356.4 L117.6 356.4 L118.6 356.4 L119.6 356.4 L120.6 356.4 L121.6 356.4 L122.6 356.4 L123.6 356.3 L124.6 356.3 L125.6 356.3 L126.6 356.3 L127.6 356.3 L128.6 356.2 L129.6 356.2 L130.6 356.1 L131.6 356 L132.6 355.9 L133.6 355.7 L134.6 355.5 L135.6 355.2 L136.6 354.7 L137.6 354 L138.6 353.1 L139.6 351.8 L140.6 350 L141.6 347.8 L142.6 345 L143.6 341.6 L144.6 337.6 L145.6 333.1 L146.6 328.1 L147.6 322.9 L148.6 317.7 L149.6 312.9 L150.6 308.7 L151.6 305.7 L152.6 304 L153.6 303.8 L154.6 305.3 L155.6 308.1 L156.6 312.1 L157.6 316.9 L158.6 322.1 L159.6 327.3 L160.6 332.4 L161.6 337.1 L162.6 341.2 L163.6 344.8 L164.6 347.8 L165.6 350.1 L166.6 352 L167.6 353.4 L168.6 354.5 L169.6 355.2 L170.6 355.8 L171.6 356.2 L172.6 356.5 L173.6 356.7 L174.6 356.9 L175.6 357 L176.6 357.1 L177.6 357.2 L178.6 357.3 L179.6 357.4 L180.6 357.4 L181.6 357.5 L182.6 357.6 L183.6 357.6 L184.6 357.7 L185.6 357.7 L186.6 357.8 L187.6 357.8 L188.6 357.8 L189.6 357.9 L190.6 357.9 L191.6 358 L192.6 358 L193.6 358 L194.6 358.1 L195.6 358.1" stroke="#c0285c" stroke-width="0.8" fill="none"/>
<line x1="33.6" y1="355" x2="197.8" y2="358.4" stroke="#34495e" stroke-width="0.8"/>
<text x="35.5" y="307.4" font-size="9" fill="#3a78c0" transform="translate(35.5 307.4) scale(1 1.08) translate(-35.5 -307.4)">CS-middle</text>
<text x="35.5" y="318.6" font-size="8.1" fill="#3a78c0" transform="translate(35.5 318.6) scale(1 1.15) translate(-35.5 -318.6)">C1<tspan font-style="italic">s</tspan>: 95.72 at.%</text>
<path d="M33.6 427.8 L34.6 427.7 L35.6 427.8 L36.6 428.1 L37.6 428.3 L38.6 427.9 L39.6 427.9 L40.6 427.9 L41.6 427.8 L42.6 427.9 L43.6 427.5 L44.6 427.9 L45.6 428.4 L46.6 427.8 L47.6 428.1 L48.6 427.5 L49.6 428 L50.6 428.1 L51.6 428 L52.6 427.8 L53.6 427.8 L54.6 428 L55.6 428.2 L56.6 427.5 L57.6 427.5 L58.6 428.1 L59.6 428.3 L60.6 428 L61.6 427.9 L62.6 428.2 L63.6 427.8 L64.6 427.9 L65.6 427.8 L66.6 428.3 L67.6 428 L68.6 428 L69.6 428.5 L70.6 428.7 L71.6 428.1 L72.6 428.5 L73.6 428.2 L74.6 428.7 L75.6 428.4 L76.6 428.1 L77.6 428 L78.6 427.8 L79.6 428.2 L80.6 428.1 L81.6 427.9 L82.6 428.1 L83.6 428 L84.6 428.5 L85.6 427.9 L86.6 428.7 L87.6 428.2 L88.6 428.4 L89.6 428.3 L90.6 428.7 L91.6 428.8 L92.6 428.6 L93.6 428.6 L94.6 428.9 L95.6 429.1 L96.6 428.7 L97.6 429 L98.6 429.3 L99.6 428.8 L100.6 428.6 L101.6 428.6 L102.6 429 L103.6 428.9 L104.6 429.1 L105.6 428.9 L106.6 428.2 L107.6 428 L108.6 427.9 L109.6 427.7 L110.6 428.1 L111.6 428.1 L112.6 428 L113.6 427.3 L114.6 427.8 L115.6 427.2 L116.6 427.2 L117.6 427.3 L118.6 426.5 L119.6 426.4 L120.6 426.9 L121.6 426.1 L122.6 426 L123.6 426 L124.6 426 L125.6 425.2 L126.6 425.4 L127.6 425.3 L128.6 425.2 L129.6 424.6 L130.6 424.4 L131.6 424 L132.6 422.4 L133.6 421.2 L134.6 419.2 L135.6 417.5 L136.6 416 L137.6 413.5 L138.6 412.4 L139.6 410.8 L140.6 408.4 L141.6 407.7 L142.6 405.5 L143.6 403.9 L144.6 401.4 L145.6 398.1 L146.6 395 L147.6 391.2 L148.6 387.4 L149.6 382.9 L150.6 380 L151.6 377.6 L152.6 375.9 L153.6 375.9 L154.6 377 L155.6 380.4 L156.6 384.4 L157.6 389.6 L158.6 394.8 L159.6 400 L160.6 404.8 L161.6 410 L162.6 414.3 L163.6 417.4 L164.6 421.1 L165.6 423.3 L166.6 424.7 L167.6 426.9 L168.6 427.2 L169.6 428.2 L170.6 429.1 L171.6 429.4 L172.6 429.7 L173.6 430 L174.6 430 L175.6 430 L176.6 429.9 L177.6 429.9 L178.6 430.7 L179.6 430.8 L180.6 430.6 L181.6 430.9 L182.6 430.6 L183.6 430.5 L184.6 430.7 L185.6 431.2 L186.6 430.5 L187.6 431 L188.6 430.7 L189.6 431.3 L190.6 430.9 L191.6 431 L192.6 431.1 L193.6 431.2 L194.6 431.5 L195.6 431.1 L196.6 431.6 L197.6 430.9" stroke="#ebebeb" stroke-width="3" fill="none"/>
<path d="M33.6 429 L34.6 429 L35.6 429 L36.6 429 L37.6 429 L38.6 429 L39.6 429 L40.6 429 L41.6 429 L42.6 429 L43.6 428.9 L44.6 428.9 L45.6 428.9 L46.6 428.9 L47.6 428.9 L48.6 428.9 L49.6 428.8 L50.6 428.8 L51.6 428.8 L52.6 428.8 L53.6 428.8 L54.6 428.8 L55.6 428.8 L56.6 428.9 L57.6 428.9 L58.6 428.9 L59.6 428.9 L60.6 429 L61.6 429 L62.6 429 L63.6 429.1 L64.6 429.1 L65.6 429.1 L66.6 429.2 L67.6 429.2 L68.6 429.2 L69.6 429.3 L70.6 429.3 L71.6 429.3 L72.6 429.3 L73.6 429.3 L74.6 429.3 L75.6 429.3 L76.6 429.3 L77.6 429.3 L78.6 429.3 L79.6 429.3 L80.6 429.2 L81.6 429.2 L82.6 429.2 L83.6 429.2 L84.6 429.2 L85.6 429.2 L86.6 429.2 L87.6 429.3 L88.6 429.3 L89.6 429.3 L90.6 429.4 L91.6 429.5 L92.6 429.5 L93.6 429.6 L94.6 429.6 L95.6 429.7 L96.6 429.8 L97.6 429.8 L98.6 429.8 L99.6 429.9 L100.6 429.9 L101.6 429.9 L102.6 429.8 L103.6 429.8 L104.6 429.7 L105.6 429.6 L106.6 429.5 L107.6 429.3 L108.6 429.2 L109.6 429 L110.6 428.9 L111.6 428.8 L112.6 428.6 L113.6 428.5 L114.6 428.4 L115.6 428.3 L116.6 428.2 L117.6 428.1 L118.6 428 L119.6 427.8 L120.6 427.6 L121.6 427.4 L122.6 427.1 L123.6 426.9 L124.6 426.8 L125.6 426.7 L126.6 426.5 L127.6 426.4 L128.6 426.2 L129.6 425.9 L130.6 425.4 L131.6 424.6 L132.6 423.5 L133.6 422.2 L134.6 420.6 L135.6 418.7 L136.6 416.8 L137.6 414.9 L138.6 413.1 L139.6 411.4 L140.6 409.8 L141.6 408.3 L142.6 406.6 L143.6 404.6 L144.6 402.2 L145.6 399.3 L146.6 395.9 L147.6 392.1 L148.6 388.1 L149.6 384.2 L150.6 380.7 L151.6 378.1" stroke="#6a6a6a" stroke-width="0.8" fill="none"/>
<path d="M39.6 429.1 L40.6 429 L41.6 429 L42.6 429 L43.6 429 L44.6 429 L45.6 429 L46.6 429 L47.6 428.9 L48.6 428.9 L49.6 428.9 L50.6 428.9 L51.6 428.9 L52.6 428.9 L53.6 428.9 L54.6 428.9 L55.6 428.9 L56.6 428.9 L57.6 429 L58.6 429 L59.6 429 L60.6 429.1 L61.6 429.1 L62.6 429.2 L63.6 429.2 L64.6 429.3 L65.6 429.3 L66.6 429.4 L67.6 429.4 L68.6 429.5 L69.6 429.5 L70.6 429.6 L71.6 429.6 L72.6 429.7 L73.6 429.8" stroke="#999" stroke-width="0.8" fill="none"/>
<path d="M72.6 429.7 L73.6 429.7 L74.6 429.7 L75.6 429.6 L76.6 429.6 L77.6 429.6 L78.6 429.5 L79.6 429.5 L80.6 429.5 L81.6 429.5 L82.6 429.4 L83.6 429.4 L84.6 429.4 L85.6 429.4 L86.6 429.4 L87.6 429.5 L88.6 429.5 L89.6 429.6 L90.6 429.6 L91.6 429.7 L92.6 429.8 L93.6 429.8 L94.6 429.9 L95.6 430 L96.6 430.1 L97.6 430.1 L98.6 430.2 L99.6 430.3 L100.6 430.3" stroke="#6cbcc4" stroke-width="0.8" fill="none"/>
<path d="M101.6 430.3 L102.6 430.3 L103.6 430.2 L104.6 430.1 L105.6 430 L106.6 429.9 L107.6 429.8 L108.6 429.7 L109.6 429.5 L110.6 429.5 L111.6 429.4 L112.6 429.4 L113.6 429.4 L114.6 429.5 L115.6 429.6 L116.6 429.7 L117.6 429.8 L118.6 430 L119.6 430.2 L120.6 430.3 L121.6 430.5 L122.6 430.6 L123.6 430.7 L124.6 430.8" stroke="#5a9ccc" stroke-width="0.8" fill="none"/>
<path d="M112.6 430.5 L113.6 430.4 L114.6 430.3 L115.6 430.1 L116.6 430 L117.6 429.7 L118.6 429.5 L119.6 429.2 L120.6 428.9 L121.6 428.6 L122.6 428.3 L123.6 428.1 L124.6 428 L125.6 427.9 L126.6 428 L127.6 428.1 L128.6 428.4 L129.6 428.7 L130.6 429 L131.6 429.3 L132.6 429.7 L133.6 430 L134.6 430.3 L135.6 430.5 L136.6 430.7 L137.6 430.9 L138.6 431 L139.6 431.1" stroke="#5a98c4" stroke-width="0.8" fill="none"/>
<path d="M123.6 430.8 L124.6 430.8 L125.6 430.7 L126.6 430.5 L127.6 430.3 L128.6 429.9 L129.6 429.4 L130.6 428.7 L131.6 427.8 L132.6 426.7 L133.6 425.6 L134.6 424.3 L135.6 423.2 L136.6 422.3 L137.6 421.7 L138.6 421.6 L139.6 422 L140.6 422.8 L141.6 423.9 L142.6 425.1 L143.6 426.4 L144.6 427.5 L145.6 428.6 L146.6 429.4 L147.6 430 L148.6 430.5 L149.6 430.9 L150.6 431.1 L151.6 431.3 L152.6 431.4" stroke="#3a78c0" stroke-width="0.8" fill="none"/>
<path d="M109.6 430.5 L110.6 430.5 L111.6 430.5 L112.6 430.5 L113.6 430.6 L114.6 430.6 L115.6 430.6 L116.6 430.6 L117.6 430.6 L118.6 430.6 L119.6 430.6 L120.6 430.6 L121.6 430.6 L122.6 430.5 L123.6 430.5 L124.6 430.5 L125.6 430.5 L126.6 430.5 L127.6 430.4 L128.6 430.4 L129.6 430.4 L130.6 430.3 L131.6 430.2 L132.6 430.1 L133.6 429.9 L134.6 429.7 L135.6 429.3 L136.6 428.9 L137.6 428.2 L138.6 427.2 L139.6 425.9 L140.6 424.1 L141.6 421.9 L142.6 419.1 L143.6 415.6 L144.6 411.5 L145.6 406.9 L146.6 401.9 L147.6 396.6 L148.6 391.4 L149.6 386.5 L150.6 382.3 L151.6 379.2 L152.6 377.5 L153.6 377.3 L154.6 378.8 L155.6 381.7 L156.6 385.7 L157.6 390.5 L158.6 395.8 L159.6 401.1 L160.6 406.3 L161.6 411 L162.6 415.2 L163.6 418.8 L164.6 421.8 L165.6 424.2 L166.6 426.1 L167.6 427.6 L168.6 428.6 L169.6 429.4 L170.6 430 L171.6 430.4 L172.6 430.7 L173.6 430.9 L174.6 431.1 L175.6 431.2 L176.6 431.3 L177.6 431.4 L178.6 431.5 L179.6 431.6 L180.6 431.6 L181.6 431.7 L182.6 431.7 L183.6 431.8 L184.6 431.9 L185.6 431.9 L186.6 431.9 L187.6 432 L188.6 432 L189.6 432.1 L190.6 432.1 L191.6 432.2 L192.6 432.2 L193.6 432.2 L194.6 432.3 L195.6 432.3 L196.6 432.3" stroke="#c0285c" stroke-width="0.8" fill="none"/>
<line x1="33.6" y1="429.2" x2="197.8" y2="432.6" stroke="#34495e" stroke-width="0.8"/>
<text x="35.5" y="381.8" font-size="9" fill="#6cbcc4" transform="translate(35.5 381.8) scale(1 1.08) translate(-35.5 -381.8)">CS-low</text>
<text x="35.5" y="393" font-size="8.1" fill="#6cbcc4" transform="translate(35.5 393) scale(1 1.15) translate(-35.5 -393)">C1<tspan font-style="italic">s</tspan>: 95.57 at.%</text>
<text x="157.5" y="380" font-size="9" fill="#c0285c" transform="translate(157.5 380) scale(1 1.08) translate(-157.5 -380)"><tspan font-style="italic">sp</tspan><tspan dy="-3" font-size="5.5">2</tspan><tspan dy="3"> C=C</tspan></text>
<text x="112.5" y="391.8" font-size="9" fill="#3a78c0" transform="translate(112.5 391.8) scale(1 1.08) translate(-112.5 -391.8)"><tspan font-style="italic">sp</tspan><tspan dy="-3" font-size="5.5">3</tspan><tspan dy="3"> C-C</tspan></text>
<text x="110.8" y="406" font-size="9" fill="#2a62a0" transform="translate(110.8 406) scale(1 1.08) translate(-110.8 -406)">C-O</text>
<text x="97.8" y="416.2" font-size="9" fill="#4a90c8" transform="translate(97.8 416.2) scale(1 1.08) translate(-97.8 -416.2)">C=O</text>
<text x="35.9" y="423.3" font-size="8" fill="#777" transform="translate(35.9 423.3) scale(1 1.15) translate(-35.9 -423.3)">π-π*</text>
<text x="64.5" y="423.3" font-size="9" fill="#6cbcc4" transform="translate(64.5 423.3) scale(1 1.08) translate(-64.5 -423.3)">COOH</text>
<rect x="227.5" y="222.5" width="163" height="221" fill="none" stroke="#444" stroke-width="1"/>
<line x1="227.7" y1="295.5" x2="390.7" y2="295.5" stroke="#333" stroke-width="1"/>
<line x1="227.7" y1="368.5" x2="390.7" y2="368.5" stroke="#333" stroke-width="1"/>
<line x1="270.5" y1="295.3" x2="270.5" y2="292.3" stroke="#333" stroke-width="1"/>
<line x1="314.5" y1="295.3" x2="314.5" y2="292.3" stroke="#333" stroke-width="1"/>
<line x1="358.5" y1="295.3" x2="358.5" y2="292.3" stroke="#333" stroke-width="1"/>
<line x1="270.5" y1="368.4" x2="270.5" y2="365.4" stroke="#333" stroke-width="1"/>
<line x1="314.5" y1="368.4" x2="314.5" y2="365.4" stroke="#333" stroke-width="1"/>
<line x1="358.5" y1="368.4" x2="358.5" y2="365.4" stroke="#333" stroke-width="1"/>
<line x1="270.5" y1="443.1" x2="270.5" y2="440.1" stroke="#333" stroke-width="1"/>
<line x1="314.5" y1="443.1" x2="314.5" y2="440.1" stroke="#333" stroke-width="1"/>
<line x1="358.5" y1="443.1" x2="358.5" y2="440.1" stroke="#333" stroke-width="1"/>
<text x="227.3" y="455.5" font-size="8" fill="#111" text-anchor="middle" transform="translate(227.3 455.5) scale(1 1.15) translate(-227.3 -455.5)">536</text>
<text x="270.9" y="455.5" font-size="8" fill="#111" text-anchor="middle" transform="translate(270.9 455.5) scale(1 1.15) translate(-270.9 -455.5)">534</text>
<text x="314.5" y="455.5" font-size="8" fill="#111" text-anchor="middle" transform="translate(314.5 455.5) scale(1 1.15) translate(-314.5 -455.5)">532</text>
<text x="358.1" y="455.5" font-size="8" fill="#111" text-anchor="middle" transform="translate(358.1 455.5) scale(1 1.15) translate(-358.1 -455.5)">530</text>
<text x="309" y="469" font-size="9" fill="#111" text-anchor="middle" transform="translate(309 469) scale(1 1.08) translate(-309 -469)">Binding Energy (eV)</text>
<text x="213.5" y="320" font-size="9" fill="#111" text-anchor="middle" transform="translate(213.5 320) rotate(-90) scale(1 1.08) translate(-213.5 -320)">Intensity (a.u.)</text>
<text x="206.5" y="226.5" font-size="16" fill="#111" transform="translate(206.5 226.5) scale(1 1.0) translate(-206.5 -226.5)">f</text>
<clipPath id="fclip"><rect x="227.7" y="222.2" width="163" height="220.9"/></clipPath><g clip-path="url(#fclip)">
<g fill="none" stroke="#cfcfcf" stroke-width="0.7"><circle cx="301.6" cy="229.6" r="2.4"/><circle cx="303.7" cy="233.5" r="2.4"/><circle cx="310.4" cy="235" r="2.4"/><circle cx="311.1" cy="236" r="2.4"/><circle cx="329.9" cy="244.6" r="2.4"/><circle cx="277.9" cy="251.9" r="2.4"/><circle cx="244.1" cy="275.6" r="2.4"/><circle cx="236.4" cy="271.3" r="2.4"/><circle cx="385.9" cy="283.4" r="2.4"/><circle cx="327.6" cy="242.7" r="2.4"/><circle cx="254.7" cy="270.8" r="2.4"/><circle cx="239.2" cy="275.9" r="2.4"/><circle cx="259.9" cy="263.5" r="2.4"/><circle cx="303.5" cy="237.2" r="2.4"/><circle cx="299.7" cy="239.6" r="2.4"/><circle cx="331.5" cy="241.2" r="2.4"/><circle cx="309.2" cy="234.5" r="2.4"/><circle cx="273.9" cy="254.5" r="2.4"/><circle cx="388.3" cy="285.1" r="2.4"/><circle cx="342.2" cy="254.7" r="2.4"/><circle cx="279.8" cy="251.1" r="2.4"/><circle cx="240.9" cy="277.8" r="2.4"/><circle cx="351.5" cy="263.1" r="2.4"/><circle cx="291.2" cy="243.4" r="2.4"/><circle cx="382" cy="278.6" r="2.4"/><circle cx="263" cy="262.1" r="2.4"/><circle cx="374.4" cy="269" r="2.4"/><circle cx="292.9" cy="240.8" r="2.4"/><circle cx="241.3" cy="270.8" r="2.4"/><circle cx="272.6" cy="254.5" r="2.4"/><circle cx="243.6" cy="269.6" r="2.4"/><circle cx="350.2" cy="274.4" r="2.4"/><circle cx="248.5" cy="271.2" r="2.4"/><circle cx="239.2" cy="277.1" r="2.4"/><circle cx="356.4" cy="275.3" r="2.4"/><circle cx="300.8" cy="240.9" r="2.4"/><circle cx="260" cy="263.2" r="2.4"/><circle cx="332.1" cy="243.1" r="2.4"/><circle cx="248.2" cy="269.2" r="2.4"/><circle cx="272.6" cy="259.9" r="2.4"/><circle cx="384.1" cy="279.5" r="2.4"/><circle cx="370.4" cy="275.5" r="2.4"/><circle cx="263.2" cy="256.9" r="2.4"/><circle cx="331.8" cy="248.9" r="2.4"/><circle cx="245.7" cy="275.2" r="2.4"/><circle cx="270.8" cy="259.7" r="2.4"/><circle cx="352.6" cy="268.3" r="2.4"/><circle cx="241.4" cy="277.3" r="2.4"/><circle cx="244" cy="271.5" r="2.4"/><circle cx="325.3" cy="242.2" r="2.4"/><circle cx="288.8" cy="232.4" r="2.4"/><circle cx="306.6" cy="238.6" r="2.4"/><circle cx="321.1" cy="243.8" r="2.4"/><circle cx="254.2" cy="265.4" r="2.4"/><circle cx="374.1" cy="279.5" r="2.4"/><circle cx="259.9" cy="261.1" r="2.4"/><circle cx="347.3" cy="264.6" r="2.4"/><circle cx="380.8" cy="277.7" r="2.4"/><circle cx="370" cy="275.3" r="2.4"/><circle cx="246.2" cy="270.4" r="2.4"/><circle cx="235.9" cy="278.7" r="2.4"/><circle cx="341.7" cy="253.5" r="2.4"/><circle cx="270.6" cy="262" r="2.4"/><circle cx="276.4" cy="251.2" r="2.4"/><circle cx="257.6" cy="264.5" r="2.4"/><circle cx="266" cy="260.1" r="2.4"/><circle cx="318.6" cy="244.1" r="2.4"/><circle cx="274.3" cy="253.7" r="2.4"/><circle cx="375.6" cy="278.6" r="2.4"/><circle cx="272.5" cy="259.4" r="2.4"/><circle cx="300.6" cy="239.1" r="2.4"/><circle cx="288.3" cy="241.7" r="2.4"/><circle cx="320.7" cy="244.4" r="2.4"/><circle cx="371.4" cy="280.6" r="2.4"/><circle cx="385.6" cy="275.7" r="2.4"/><circle cx="322.6" cy="238.6" r="2.4"/><circle cx="252" cy="269.3" r="2.4"/><circle cx="374.4" cy="278.5" r="2.4"/><circle cx="341.2" cy="254" r="2.4"/><circle cx="330.9" cy="244.3" r="2.4"/><circle cx="306.4" cy="235.7" r="2.4"/><circle cx="388.6" cy="275.6" r="2.4"/><circle cx="241.7" cy="269.4" r="2.4"/><circle cx="372.8" cy="276.8" r="2.4"/><circle cx="346.9" cy="260.3" r="2.4"/><circle cx="375.2" cy="272.6" r="2.4"/><circle cx="285.6" cy="240.3" r="2.4"/><circle cx="368.2" cy="271.3" r="2.4"/><circle cx="296" cy="240" r="2.4"/><circle cx="320.8" cy="235.7" r="2.4"/><circle cx="329.1" cy="240.7" r="2.4"/><circle cx="326.5" cy="246.7" r="2.4"/><circle cx="242.5" cy="267.5" r="2.4"/><circle cx="369.6" cy="269.9" r="2.4"/><circle cx="345.5" cy="255.6" r="2.4"/><circle cx="322.1" cy="246.3" r="2.4"/><circle cx="299.7" cy="238.1" r="2.4"/><circle cx="349" cy="263.9" r="2.4"/><circle cx="234.4" cy="273.4" r="2.4"/><circle cx="266.3" cy="259" r="2.4"/><circle cx="340.7" cy="248" r="2.4"/><circle cx="376.1" cy="278.5" r="2.4"/><circle cx="270.4" cy="262.9" r="2.4"/><circle cx="337.5" cy="249" r="2.4"/><circle cx="261.9" cy="266.2" r="2.4"/></g>
<path d="M227.7 279.5 L228.7 279.5 L229.7 279.5 L230.7 279.5 L231.7 279.4 L232.7 279.4 L233.7 279.3 L234.7 279.2 L235.7 279.1 L236.7 279 L237.7 278.9 L238.7 278.7 L239.7 278.5 L240.7 278.3 L241.7 278 L242.7 277.7 L243.7 277.4 L244.7 277 L245.7 276.6 L246.7 276.1 L247.7 275.6 L248.7 275.1 L249.7 274.5 L250.7 273.9 L251.7 273.3 L252.7 272.7 L253.7 272.1 L254.7 271.5 L255.7 270.9 L256.7 270.3 L257.7 269.9 L258.7 269.4 L259.7 269 L260.7 268.8 L261.7 268.5 L262.7 268.4 L263.7 268.4 L264.7 268.5 L265.7 268.6 L266.7 268.9 L267.7 269.2 L268.7 269.6 L269.7 270 L270.7 270.6 L271.7 271.1 L272.7 271.7 L273.7 272.3 L274.7 272.9 L275.7 273.5 L276.7 274.1 L277.7 274.7 L278.7 275.3 L279.7 275.8 L280.7 276.3 L281.7 276.8 L282.7 277.2 L283.7 277.5 L284.7 277.9 L285.7 278.1 L286.7 278.4 L287.7 278.6 L288.7 278.8 L289.7 278.9 L290.7 279.1 L291.7 279.2 L292.7 279.3 L293.7 279.3 L294.7 279.4 L295.7 279.4 L296.7 279.5 L297.7 279.5 L298.7 279.5 L299.7 279.6 L300.7 279.6 L301.7 279.6 L302.7 279.6 L303.7 279.6 L304.7 279.6 L305.7 279.6 L306.7 279.6 L307.7 279.6 L308.7 279.6 L309.7 279.6 L310.7 279.6 L311.7 279.6 L312.7 279.6 L313.7 279.6 L314.7 279.6 L315.7 279.6 L316.7 279.6 L317.7 279.6 L318.7 279.6 L319.7 279.6 L320.7 279.6 L321.7 279.6 L322.7 279.6 L323.7 279.6 L324.7 279.6 L325.7 279.6 L326.7 279.6 L327.7 279.6 L328.7 279.6 L329.7 279.6 L330.7 279.6 L331.7 279.6 L332.7 279.6 L333.7 279.6 L334.7 279.6 L335.7 279.6 L336.7 279.6 L337.7 279.6 L338.7 279.6 L339.7 279.6 L340.7 279.6 L341.7 279.6 L342.7 279.6 L343.7 279.6 L344.7 279.6 L345.7 279.6 L346.7 279.6 L347.7 279.6 L348.7 279.6 L349.7 279.6 L350.7 279.6 L351.7 279.6 L352.7 279.6 L353.7 279.6 L354.7 279.6 L355.7 279.6 L356.7 279.6 L357.7 279.6 L358.7 279.6 L359.7 279.6 L360.7 279.6 L361.7 279.6 L362.7 279.6 L363.7 279.6 L364.7 279.6 L365.7 279.6 L366.7 279.6 L367.7 279.6 L368.7 279.6 L369.7 279.6 L370.7 279.6 L371.7 279.6 L372.7 279.6 L373.7 279.6 L374.7 279.6 L375.7 279.6 L376.7 279.6 L377.7 279.6 L378.7 279.6 L379.7 279.6 L380.7 279.6 L381.7 279.6 L382.7 279.6 L383.7 279.6 L384.7 279.6 L385.7 279.6 L386.7 279.6 L387.7 279.6 L388.7 279.6 L389.7 279.6 L390.7 279.6" stroke="#555" stroke-width="0.9" fill="none"/>
<path d="M227.7 279.6 L228.7 279.6 L229.7 279.6 L230.7 279.6 L231.7 279.6 L232.7 279.6 L233.7 279.6 L234.7 279.6 L235.7 279.6 L236.7 279.6 L237.7 279.6 L238.7 279.6 L239.7 279.6 L240.7 279.6 L241.7 279.6 L242.7 279.6 L243.7 279.6 L244.7 279.6 L245.7 279.6 L246.7 279.6 L247.7 279.6 L248.7 279.6 L249.7 279.6 L250.7 279.6 L251.7 279.6 L252.7 279.6 L253.7 279.6 L254.7 279.6 L255.7 279.6 L256.7 279.5 L257.7 279.5 L258.7 279.5 L259.7 279.4 L260.7 279.3 L261.7 279.2 L262.7 279.1 L263.7 278.9 L264.7 278.6 L265.7 278.3 L266.7 277.9 L267.7 277.5 L268.7 276.9 L269.7 276.2 L270.7 275.5 L271.7 274.6 L272.7 273.6 L273.7 272.5 L274.7 271.3 L275.7 270 L276.7 268.6 L277.7 267.3 L278.7 265.9 L279.7 264.6 L280.7 263.3 L281.7 262.2 L282.7 261.3 L283.7 260.5 L284.7 260 L285.7 259.7 L286.7 259.7 L287.7 260 L288.7 260.4 L289.7 261.1 L290.7 262 L291.7 263.1 L292.7 264.3 L293.7 265.6 L294.7 267 L295.7 268.4 L296.7 269.7 L297.7 271 L298.7 272.2 L299.7 273.4 L300.7 274.4 L301.7 275.3 L302.7 276.1 L303.7 276.8 L304.7 277.4 L305.7 277.8 L306.7 278.2 L307.7 278.6 L308.7 278.8 L309.7 279 L310.7 279.2 L311.7 279.3 L312.7 279.4 L313.7 279.4 L314.7 279.5 L315.7 279.5 L316.7 279.5 L317.7 279.6 L318.7 279.6 L319.7 279.6 L320.7 279.6 L321.7 279.6 L322.7 279.6 L323.7 279.6 L324.7 279.6 L325.7 279.6 L326.7 279.6 L327.7 279.6 L328.7 279.6 L329.7 279.6 L330.7 279.6 L331.7 279.6 L332.7 279.6 L333.7 279.6 L334.7 279.6 L335.7 279.6 L336.7 279.6 L337.7 279.6 L338.7 279.6 L339.7 279.6 L340.7 279.6 L341.7 279.6 L342.7 279.6 L343.7 279.6 L344.7 279.6 L345.7 279.6 L346.7 279.6 L347.7 279.6 L348.7 279.6 L349.7 279.6 L350.7 279.6 L351.7 279.6 L352.7 279.6 L353.7 279.6 L354.7 279.6 L355.7 279.6 L356.7 279.6 L357.7 279.6 L358.7 279.6 L359.7 279.6 L360.7 279.6 L361.7 279.6 L362.7 279.6 L363.7 279.6 L364.7 279.6 L365.7 279.6 L366.7 279.6 L367.7 279.6 L368.7 279.6 L369.7 279.6 L370.7 279.6 L371.7 279.6 L372.7 279.6 L373.7 279.6 L374.7 279.6 L375.7 279.6 L376.7 279.6 L377.7 279.6 L378.7 279.6 L379.7 279.6 L380.7 279.6 L381.7 279.6 L382.7 279.6 L383.7 279.6 L384.7 279.6 L385.7 279.6 L386.7 279.6 L387.7 279.6 L388.7 279.6 L389.7 279.6 L390.7 279.6" stroke="#6cbcc4" stroke-width="0.9" fill="none"/>
<path d="M227.7 279.6 L228.7 279.6 L229.7 279.6 L230.7 279.6 L231.7 279.6 L232.7 279.6 L233.7 279.6 L234.7 279.6 L235.7 279.6 L236.7 279.6 L237.7 279.6 L238.7 279.6 L239.7 279.6 L240.7 279.6 L241.7 279.6 L242.7 279.6 L243.7 279.6 L244.7 279.6 L245.7 279.6 L246.7 279.6 L247.7 279.6 L248.7 279.6 L249.7 279.6 L250.7 279.6 L251.7 279.6 L252.7 279.6 L253.7 279.6 L254.7 279.6 L255.7 279.6 L256.7 279.6 L257.7 279.6 L258.7 279.6 L259.7 279.6 L260.7 279.6 L261.7 279.6 L262.7 279.5 L263.7 279.5 L264.7 279.5 L265.7 279.5 L266.7 279.4 L267.7 279.4 L268.7 279.3 L269.7 279.2 L270.7 279.1 L271.7 279 L272.7 278.8 L273.7 278.6 L274.7 278.4 L275.7 278.1 L276.7 277.8 L277.7 277.4 L278.7 276.9 L279.7 276.4 L280.7 275.8 L281.7 275.1 L282.7 274.4 L283.7 273.5 L284.7 272.6 L285.7 271.5 L286.7 270.4 L287.7 269.1 L288.7 267.8 L289.7 266.4 L290.7 264.9 L291.7 263.4 L292.7 261.8 L293.7 260.1 L294.7 258.5 L295.7 256.8 L296.7 255.2 L297.7 253.7 L298.7 252.2 L299.7 250.8 L300.7 249.5 L301.7 248.4 L302.7 247.5 L303.7 246.7 L304.7 246.1 L305.7 245.8 L306.7 245.6 L307.7 245.7 L308.7 246 L309.7 246.4 L310.7 247.1 L311.7 248 L312.7 249.1 L313.7 250.3 L314.7 251.6 L315.7 253.1 L316.7 254.6 L317.7 256.2 L318.7 257.8 L319.7 259.5 L320.7 261.1 L321.7 262.7 L322.7 264.3 L323.7 265.8 L324.7 267.3 L325.7 268.6 L326.7 269.9 L327.7 271.1 L328.7 272.2 L329.7 273.2 L330.7 274.1 L331.7 274.8 L332.7 275.6 L333.7 276.2 L334.7 276.7 L335.7 277.2 L336.7 277.6 L337.7 278 L338.7 278.3 L339.7 278.5 L340.7 278.7 L341.7 278.9 L342.7 279 L343.7 279.2 L344.7 279.2 L345.7 279.3 L346.7 279.4 L347.7 279.4 L348.7 279.5 L349.7 279.5 L350.7 279.5 L351.7 279.5 L352.7 279.6 L353.7 279.6 L354.7 279.6 L355.7 279.6 L356.7 279.6 L357.7 279.6 L358.7 279.6 L359.7 279.6 L360.7 279.6 L361.7 279.6 L362.7 279.6 L363.7 279.6 L364.7 279.6 L365.7 279.6 L366.7 279.6 L367.7 279.6 L368.7 279.6 L369.7 279.6 L370.7 279.6 L371.7 279.6 L372.7 279.6 L373.7 279.6 L374.7 279.6 L375.7 279.6 L376.7 279.6 L377.7 279.6 L378.7 279.6 L379.7 279.6 L380.7 279.6 L381.7 279.6 L382.7 279.6 L383.7 279.6 L384.7 279.6 L385.7 279.6 L386.7 279.6 L387.7 279.6 L388.7 279.6 L389.7 279.6 L390.7 279.6" stroke="#3a78c0" stroke-width="0.9" fill="none"/>
<path d="M227.7 279.6 L228.7 279.6 L229.7 279.6 L230.7 279.6 L231.7 279.6 L232.7 279.6 L233.7 279.6 L234.7 279.6 L235.7 279.6 L236.7 279.6 L237.7 279.6 L238.7 279.6 L239.7 279.6 L240.7 279.6 L241.7 279.6 L242.7 279.6 L243.7 279.6 L244.7 279.6 L245.7 279.6 L246.7 279.6 L247.7 279.6 L248.7 279.6 L249.7 279.6 L250.7 279.6 L251.7 279.6 L252.7 279.6 L253.7 279.6 L254.7 279.6 L255.7 279.6 L256.7 279.6 L257.7 279.6 L258.7 279.6 L259.7 279.6 L260.7 279.6 L261.7 279.6 L262.7 279.6 L263.7 279.6 L264.7 279.6 L265.7 279.6 L266.7 279.6 L267.7 279.6 L268.7 279.6 L269.7 279.6 L270.7 279.6 L271.7 279.6 L272.7 279.6 L273.7 279.6 L274.7 279.6 L275.7 279.6 L276.7 279.6 L277.7 279.6 L278.7 279.6 L279.7 279.6 L280.7 279.6 L281.7 279.6 L282.7 279.6 L283.7 279.6 L284.7 279.6 L285.7 279.6 L286.7 279.6 L287.7 279.6 L288.7 279.6 L289.7 279.6 L290.7 279.6 L291.7 279.6 L292.7 279.5 L293.7 279.5 L294.7 279.5 L295.7 279.5 L296.7 279.4 L297.7 279.4 L298.7 279.3 L299.7 279.2 L300.7 279.1 L301.7 279 L302.7 278.8 L303.7 278.7 L304.7 278.4 L305.7 278.2 L306.7 277.8 L307.7 277.5 L308.7 277 L309.7 276.5 L310.7 275.9 L311.7 275.3 L312.7 274.5 L313.7 273.7 L314.7 272.8 L315.7 271.8 L316.7 270.7 L317.7 269.6 L318.7 268.4 L319.7 267.1 L320.7 265.8 L321.7 264.4 L322.7 263.1 L323.7 261.7 L324.7 260.4 L325.7 259.1 L326.7 257.9 L327.7 256.7 L328.7 255.7 L329.7 254.9 L330.7 254.1 L331.7 253.6 L332.7 253.2 L333.7 253 L334.7 253 L335.7 253.2 L336.7 253.6 L337.7 254.1 L338.7 254.9 L339.7 255.7 L340.7 256.7 L341.7 257.9 L342.7 259.1 L343.7 260.4 L344.7 261.7 L345.7 263.1 L346.7 264.4 L347.7 265.8 L348.7 267.1 L349.7 268.4 L350.7 269.6 L351.7 270.7 L352.7 271.8 L353.7 272.8 L354.7 273.7 L355.7 274.5 L356.7 275.3 L357.7 275.9 L358.7 276.5 L359.7 277 L360.7 277.5 L361.7 277.8 L362.7 278.2 L363.7 278.4 L364.7 278.7 L365.7 278.8 L366.7 279 L367.7 279.1 L368.7 279.2 L369.7 279.3 L370.7 279.4 L371.7 279.4 L372.7 279.5 L373.7 279.5 L374.7 279.5 L375.7 279.5 L376.7 279.6 L377.7 279.6 L378.7 279.6 L379.7 279.6 L380.7 279.6 L381.7 279.6 L382.7 279.6 L383.7 279.6 L384.7 279.6 L385.7 279.6 L386.7 279.6 L387.7 279.6 L388.7 279.6 L389.7 279.6 L390.7 279.6" stroke="#c0285c" stroke-width="0.9" fill="none"/>
<path d="M227.7 279.9 L228.7 279.8 L229.7 279.7 L230.7 279.6 L231.7 279.5 L232.7 279.4 L233.7 279.2 L234.7 279.1 L235.7 278.9 L236.7 278.7 L237.7 278.5 L238.7 278.2 L239.7 277.9 L240.7 277.6 L241.7 277.3 L242.7 276.9 L243.7 276.4 L244.7 275.9 L245.7 275.4 L246.7 274.9 L247.7 274.2 L248.7 273.6 L249.7 272.9 L250.7 272.2 L251.7 271.5 L252.7 270.7 L253.7 270 L254.7 269.3 L255.7 268.6 L256.7 267.9 L257.7 267.3 L258.7 266.7 L259.7 266.2 L260.7 265.7 L261.7 265.3 L262.7 264.9 L263.7 264.6 L264.7 264.3 L265.7 264.1 L266.7 263.8 L267.7 263.6 L268.7 263.3 L269.7 262.9 L270.7 262.5 L271.7 261.9 L272.7 261.3 L273.7 260.5 L274.7 259.6 L275.7 258.6 L276.7 257.5 L277.7 256.2 L278.7 254.9 L279.7 253.5 L280.7 252.1 L281.7 250.7 L282.7 249.3 L283.7 248 L284.7 246.8 L285.7 245.8 L286.7 244.8 L287.7 244 L288.7 243.3 L289.7 242.8 L290.7 242.3 L291.7 241.9 L292.7 241.7 L293.7 241.4 L294.7 241.2 L295.7 241 L296.7 240.7 L297.7 240.5 L298.7 240.2 L299.7 239.9 L300.7 239.7 L301.7 239.4 L302.7 239.1 L303.7 238.9 L304.7 238.8 L305.7 238.7 L306.7 238.7 L307.7 238.8 L308.7 239 L309.7 239.2 L310.7 239.6 L311.7 240 L312.7 240.5 L313.7 241.1 L314.7 241.7 L315.7 242.3 L316.7 242.9 L317.7 243.4 L318.7 244 L319.7 244.4 L320.7 244.9 L321.7 245.2 L322.7 245.5 L323.7 245.8 L324.7 246 L325.7 246.1 L326.7 246.3 L327.7 246.4 L328.7 246.6 L329.7 246.7 L330.7 247 L331.7 247.3 L332.7 247.7 L333.7 248.3 L334.7 248.9 L335.7 249.7 L336.7 250.5 L337.7 251.6 L338.7 252.7 L339.7 253.9 L340.7 255.2 L341.7 256.7 L342.7 258.1 L343.7 259.6 L344.7 261.2 L345.7 262.7 L346.7 264.3 L347.7 265.8 L348.7 267.3 L349.7 268.7 L350.7 270 L351.7 271.3 L352.7 272.5 L353.7 273.5 L354.7 274.5 L355.7 275.4 L356.7 276.2 L357.7 277 L358.7 277.6 L359.7 278.2 L360.7 278.6 L361.7 279.1 L362.7 279.4 L363.7 279.7 L364.7 280 L365.7 280.2 L366.7 280.4 L367.7 280.5 L368.7 280.6 L369.7 280.7 L370.7 280.8 L371.7 280.9 L372.7 280.9 L373.7 281 L374.7 281 L375.7 281 L376.7 281.1 L377.7 281.1 L378.7 281.1 L379.7 281.1 L380.7 281.1 L381.7 281.1 L382.7 281.1 L383.7 281.1 L384.7 281.1 L385.7 281.2 L386.7 281.2 L387.7 281.2 L388.7 281.2 L389.7 281.2 L390.7 281.2" stroke="#888" stroke-width="0.8" fill="none"/>
<path d="M227.7 278.3 L228.7 278.2 L229.7 278.1 L230.7 278 L231.7 277.9 L232.7 277.8 L233.7 277.6 L234.7 277.5 L235.7 277.3 L236.7 277.1 L237.7 276.9 L238.7 276.6 L239.7 276.3 L240.7 276 L241.7 275.7 L242.7 275.3 L243.7 274.8 L244.7 274.3 L245.7 273.8 L246.7 273.3 L247.7 272.6 L248.7 272 L249.7 271.3 L250.7 270.6 L251.7 269.9 L252.7 269.1 L253.7 268.4 L254.7 267.7 L255.7 267 L256.7 266.3 L257.7 265.7 L258.7 265.1 L259.7 264.6 L260.7 264.1 L261.7 263.7 L262.7 263.3 L263.7 263 L264.7 262.7 L265.7 262.5 L266.7 262.2 L267.7 262 L268.7 261.7 L269.7 261.3 L270.7 260.9 L271.7 260.3 L272.7 259.7 L273.7 258.9 L274.7 258 L275.7 257 L276.7 255.9 L277.7 254.6 L278.7 253.3 L279.7 251.9 L280.7 250.5 L281.7 249.1 L282.7 247.7 L283.7 246.4 L284.7 245.2 L285.7 244.2 L286.7 243.2 L287.7 242.4 L288.7 241.7 L289.7 241.2 L290.7 240.7 L291.7 240.3 L292.7 240.1 L293.7 239.8 L294.7 239.6 L295.7 239.4 L296.7 239.1 L297.7 238.9 L298.7 238.6 L299.7 238.3 L300.7 238.1 L301.7 237.8 L302.7 237.5 L303.7 237.3 L304.7 237.2 L305.7 237.1 L306.7 237.1 L307.7 237.2 L308.7 237.4 L309.7 237.6 L310.7 238 L311.7 238.4 L312.7 238.9 L313.7 239.5 L314.7 240.1 L315.7 240.7 L316.7 241.3 L317.7 241.8 L318.7 242.4 L319.7 242.8 L320.7 243.3 L321.7 243.6 L322.7 243.9 L323.7 244.2 L324.7 244.4 L325.7 244.5 L326.7 244.7 L327.7 244.8 L328.7 245 L329.7 245.1 L330.7 245.4 L331.7 245.7 L332.7 246.1 L333.7 246.7 L334.7 247.3 L335.7 248.1 L336.7 248.9 L337.7 250 L338.7 251.1 L339.7 252.3 L340.7 253.6 L341.7 255.1 L342.7 256.5 L343.7 258 L344.7 259.6 L345.7 261.1 L346.7 262.7 L347.7 264.2 L348.7 265.7 L349.7 267.1 L350.7 268.4 L351.7 269.7 L352.7 270.9 L353.7 271.9 L354.7 272.9 L355.7 273.8 L356.7 274.6 L357.7 275.4 L358.7 276 L359.7 276.6 L360.7 277 L361.7 277.5 L362.7 277.8 L363.7 278.1 L364.7 278.4 L365.7 278.6 L366.7 278.8 L367.7 278.9 L368.7 279 L369.7 279.1 L370.7 279.2 L371.7 279.3 L372.7 279.3 L373.7 279.4 L374.7 279.4 L375.7 279.4 L376.7 279.5 L377.7 279.5 L378.7 279.5 L379.7 279.5 L380.7 279.5 L381.7 279.5 L382.7 279.5 L383.7 279.5 L384.7 279.5 L385.7 279.6 L386.7 279.6 L387.7 279.6 L388.7 279.6 L389.7 279.6 L390.7 279.6" stroke="#111" stroke-width="0.9" fill="none"/>
<text x="232" y="231.8" font-size="9" fill="#c0285c" transform="translate(232 231.8) scale(1 1.08) translate(-232 -231.8)">CS-top</text>
<text x="389" y="233.8" font-size="9" fill="#c0285c" text-anchor="end" transform="translate(389 233.8) scale(1 1.08) translate(-389 -233.8)">O 1<tspan font-style="italic">s</tspan> 4.76 at.%</text>
<g fill="none" stroke="#cfcfcf" stroke-width="0.7"><circle cx="334.6" cy="325.2" r="2.4"/><circle cx="300" cy="312.4" r="2.4"/><circle cx="335.6" cy="317.6" r="2.4"/><circle cx="261.3" cy="331.9" r="2.4"/><circle cx="375.1" cy="354.9" r="2.4"/><circle cx="369.7" cy="348.7" r="2.4"/><circle cx="280" cy="330.3" r="2.4"/><circle cx="251.4" cy="337" r="2.4"/><circle cx="364.6" cy="351.4" r="2.4"/><circle cx="342.8" cy="331.2" r="2.4"/><circle cx="256.6" cy="339.1" r="2.4"/><circle cx="301.4" cy="308.9" r="2.4"/><circle cx="295.5" cy="315.1" r="2.4"/><circle cx="329.2" cy="313.4" r="2.4"/><circle cx="363.1" cy="350.9" r="2.4"/><circle cx="385.8" cy="351.2" r="2.4"/><circle cx="234.7" cy="350.8" r="2.4"/><circle cx="368.5" cy="357.1" r="2.4"/><circle cx="320.4" cy="315.4" r="2.4"/><circle cx="278.8" cy="328.9" r="2.4"/><circle cx="251.3" cy="342.8" r="2.4"/><circle cx="302" cy="315.2" r="2.4"/><circle cx="267.4" cy="337" r="2.4"/><circle cx="252.1" cy="347.5" r="2.4"/><circle cx="300.7" cy="311" r="2.4"/><circle cx="329.9" cy="313" r="2.4"/><circle cx="382.1" cy="347.3" r="2.4"/><circle cx="338.5" cy="323.8" r="2.4"/><circle cx="258.1" cy="342.7" r="2.4"/><circle cx="231.4" cy="345.5" r="2.4"/><circle cx="258.2" cy="339.9" r="2.4"/><circle cx="273" cy="331.1" r="2.4"/><circle cx="312.4" cy="313.5" r="2.4"/><circle cx="327.4" cy="316.1" r="2.4"/><circle cx="355.6" cy="343" r="2.4"/><circle cx="373.8" cy="359" r="2.4"/><circle cx="344.6" cy="335.6" r="2.4"/><circle cx="250.4" cy="339.5" r="2.4"/><circle cx="374.4" cy="353.7" r="2.4"/><circle cx="289.6" cy="310.3" r="2.4"/><circle cx="356.4" cy="344.2" r="2.4"/><circle cx="379.8" cy="347.6" r="2.4"/><circle cx="262.3" cy="338.3" r="2.4"/><circle cx="344.5" cy="333.4" r="2.4"/><circle cx="343.8" cy="325.8" r="2.4"/><circle cx="263.6" cy="344.5" r="2.4"/><circle cx="385.1" cy="346.8" r="2.4"/><circle cx="315.1" cy="311.5" r="2.4"/><circle cx="374.4" cy="349.4" r="2.4"/><circle cx="365.8" cy="350.6" r="2.4"/><circle cx="299.8" cy="311.3" r="2.4"/><circle cx="317.2" cy="312.6" r="2.4"/><circle cx="234.2" cy="346.6" r="2.4"/><circle cx="358.4" cy="354.2" r="2.4"/><circle cx="257.2" cy="341.9" r="2.4"/><circle cx="283" cy="324" r="2.4"/><circle cx="253.3" cy="340.2" r="2.4"/><circle cx="311.8" cy="307.8" r="2.4"/><circle cx="339.3" cy="317.2" r="2.4"/><circle cx="380.1" cy="344.1" r="2.4"/><circle cx="243.4" cy="348.4" r="2.4"/><circle cx="264.9" cy="333.7" r="2.4"/><circle cx="345.6" cy="332.7" r="2.4"/><circle cx="331.3" cy="310.5" r="2.4"/><circle cx="318.7" cy="312.2" r="2.4"/><circle cx="279.3" cy="323.4" r="2.4"/><circle cx="372.9" cy="356.7" r="2.4"/><circle cx="262.8" cy="342.3" r="2.4"/><circle cx="313.1" cy="302.3" r="2.4"/><circle cx="320.8" cy="315.5" r="2.4"/><circle cx="309.7" cy="312" r="2.4"/><circle cx="325.9" cy="324.6" r="2.4"/><circle cx="311.7" cy="310.4" r="2.4"/><circle cx="293.4" cy="315.4" r="2.4"/><circle cx="307.8" cy="303.4" r="2.4"/><circle cx="339.6" cy="327.8" r="2.4"/><circle cx="295.5" cy="314.5" r="2.4"/><circle cx="381.8" cy="354.8" r="2.4"/><circle cx="304.9" cy="306.6" r="2.4"/><circle cx="249.9" cy="338.7" r="2.4"/><circle cx="372.9" cy="354.8" r="2.4"/><circle cx="305.5" cy="306.8" r="2.4"/><circle cx="327.9" cy="318.1" r="2.4"/><circle cx="376.8" cy="356.4" r="2.4"/><circle cx="233.3" cy="354.9" r="2.4"/><circle cx="260.6" cy="338.6" r="2.4"/><circle cx="280.9" cy="331.3" r="2.4"/><circle cx="286.2" cy="318.6" r="2.4"/><circle cx="345.9" cy="332.6" r="2.4"/><circle cx="249.2" cy="342.3" r="2.4"/><circle cx="261.1" cy="337.4" r="2.4"/><circle cx="314" cy="307.1" r="2.4"/><circle cx="295.4" cy="314.1" r="2.4"/><circle cx="313.9" cy="311.2" r="2.4"/><circle cx="330.1" cy="318.5" r="2.4"/><circle cx="331.2" cy="310.4" r="2.4"/><circle cx="327" cy="314.7" r="2.4"/><circle cx="365.9" cy="352.1" r="2.4"/><circle cx="358.6" cy="354.2" r="2.4"/><circle cx="373.2" cy="351.1" r="2.4"/><circle cx="376.4" cy="355.1" r="2.4"/><circle cx="264.4" cy="343.7" r="2.4"/><circle cx="251" cy="343.6" r="2.4"/><circle cx="267.8" cy="335.5" r="2.4"/><circle cx="245.1" cy="344.6" r="2.4"/></g>
<path d="M227.7 353.4 L228.7 353.4 L229.7 353.4 L230.7 353.4 L231.7 353.3 L232.7 353.3 L233.7 353.2 L234.7 353.2 L235.7 353.1 L236.7 353 L237.7 352.8 L238.7 352.7 L239.7 352.5 L240.7 352.3 L241.7 352 L242.7 351.7 L243.7 351.4 L244.7 351.1 L245.7 350.7 L246.7 350.2 L247.7 349.8 L248.7 349.3 L249.7 348.7 L250.7 348.2 L251.7 347.6 L252.7 347 L253.7 346.4 L254.7 345.9 L255.7 345.3 L256.7 344.8 L257.7 344.4 L258.7 344 L259.7 343.6 L260.7 343.3 L261.7 343.1 L262.7 343 L263.7 343 L264.7 343.1 L265.7 343.2 L266.7 343.4 L267.7 343.7 L268.7 344.1 L269.7 344.5 L270.7 345 L271.7 345.5 L272.7 346.1 L273.7 346.7 L274.7 347.2 L275.7 347.8 L276.7 348.4 L277.7 348.9 L278.7 349.5 L279.7 350 L280.7 350.4 L281.7 350.8 L282.7 351.2 L283.7 351.6 L284.7 351.9 L285.7 352.1 L286.7 352.4 L287.7 352.6 L288.7 352.7 L289.7 352.9 L290.7 353 L291.7 353.1 L292.7 353.2 L293.7 353.3 L294.7 353.3 L295.7 353.4 L296.7 353.4 L297.7 353.4 L298.7 353.4 L299.7 353.5 L300.7 353.5 L301.7 353.5 L302.7 353.5 L303.7 353.5 L304.7 353.5 L305.7 353.5 L306.7 353.5 L307.7 353.5 L308.7 353.5 L309.7 353.5 L310.7 353.5 L311.7 353.5 L312.7 353.5 L313.7 353.5 L314.7 353.5 L315.7 353.5 L316.7 353.5 L317.7 353.5 L318.7 353.5 L319.7 353.5 L320.7 353.5 L321.7 353.5 L322.7 353.5 L323.7 353.5 L324.7 353.5 L325.7 353.5 L326.7 353.5 L327.7 353.5 L328.7 353.5 L329.7 353.5 L330.7 353.5 L331.7 353.5 L332.7 353.5 L333.7 353.5 L334.7 353.5 L335.7 353.5 L336.7 353.5 L337.7 353.5 L338.7 353.5 L339.7 353.5 L340.7 353.5 L341.7 353.5 L342.7 353.5 L343.7 353.5 L344.7 353.5 L345.7 353.5 L346.7 353.5 L347.7 353.5 L348.7 353.5 L349.7 353.5 L350.7 353.5 L351.7 353.5 L352.7 353.5 L353.7 353.5 L354.7 353.5 L355.7 353.5 L356.7 353.5 L357.7 353.5 L358.7 353.5 L359.7 353.5 L360.7 353.5 L361.7 353.5 L362.7 353.5 L363.7 353.5 L364.7 353.5 L365.7 353.5 L366.7 353.5 L367.7 353.5 L368.7 353.5 L369.7 353.5 L370.7 353.5 L371.7 353.5 L372.7 353.5 L373.7 353.5 L374.7 353.5 L375.7 353.5 L376.7 353.5 L377.7 353.5 L378.7 353.5 L379.7 353.5 L380.7 353.5 L381.7 353.5 L382.7 353.5 L383.7 353.5 L384.7 353.5 L385.7 353.5 L386.7 353.5 L387.7 353.5 L388.7 353.5 L389.7 353.5 L390.7 353.5" stroke="#555" stroke-width="0.9" fill="none"/>
<path d="M227.7 353.5 L228.7 353.5 L229.7 353.5 L230.7 353.5 L231.7 353.5 L232.7 353.5 L233.7 353.5 L234.7 353.5 L235.7 353.5 L236.7 353.5 L237.7 353.5 L238.7 353.5 L239.7 353.5 L240.7 353.5 L241.7 353.5 L242.7 353.5 L243.7 353.5 L244.7 353.5 L245.7 353.5 L246.7 353.5 L247.7 353.5 L248.7 353.5 L249.7 353.5 L250.7 353.5 L251.7 353.5 L252.7 353.5 L253.7 353.5 L254.7 353.5 L255.7 353.5 L256.7 353.4 L257.7 353.4 L258.7 353.4 L259.7 353.3 L260.7 353.3 L261.7 353.2 L262.7 353.1 L263.7 352.9 L264.7 352.7 L265.7 352.4 L266.7 352.1 L267.7 351.8 L268.7 351.3 L269.7 350.7 L270.7 350.1 L271.7 349.4 L272.7 348.6 L273.7 347.7 L274.7 346.7 L275.7 345.6 L276.7 344.5 L277.7 343.4 L278.7 342.3 L279.7 341.2 L280.7 340.2 L281.7 339.3 L282.7 338.5 L283.7 337.9 L284.7 337.5 L285.7 337.2 L286.7 337.2 L287.7 337.4 L288.7 337.8 L289.7 338.4 L290.7 339.1 L291.7 340 L292.7 341 L293.7 342.1 L294.7 343.2 L295.7 344.3 L296.7 345.4 L297.7 346.5 L298.7 347.5 L299.7 348.4 L300.7 349.2 L301.7 350 L302.7 350.6 L303.7 351.2 L304.7 351.7 L305.7 352.1 L306.7 352.4 L307.7 352.7 L308.7 352.9 L309.7 353 L310.7 353.2 L311.7 353.2 L312.7 353.3 L313.7 353.4 L314.7 353.4 L315.7 353.4 L316.7 353.5 L317.7 353.5 L318.7 353.5 L319.7 353.5 L320.7 353.5 L321.7 353.5 L322.7 353.5 L323.7 353.5 L324.7 353.5 L325.7 353.5 L326.7 353.5 L327.7 353.5 L328.7 353.5 L329.7 353.5 L330.7 353.5 L331.7 353.5 L332.7 353.5 L333.7 353.5 L334.7 353.5 L335.7 353.5 L336.7 353.5 L337.7 353.5 L338.7 353.5 L339.7 353.5 L340.7 353.5 L341.7 353.5 L342.7 353.5 L343.7 353.5 L344.7 353.5 L345.7 353.5 L346.7 353.5 L347.7 353.5 L348.7 353.5 L349.7 353.5 L350.7 353.5 L351.7 353.5 L352.7 353.5 L353.7 353.5 L354.7 353.5 L355.7 353.5 L356.7 353.5 L357.7 353.5 L358.7 353.5 L359.7 353.5 L360.7 353.5 L361.7 353.5 L362.7 353.5 L363.7 353.5 L364.7 353.5 L365.7 353.5 L366.7 353.5 L367.7 353.5 L368.7 353.5 L369.7 353.5 L370.7 353.5 L371.7 353.5 L372.7 353.5 L373.7 353.5 L374.7 353.5 L375.7 353.5 L376.7 353.5 L377.7 353.5 L378.7 353.5 L379.7 353.5 L380.7 353.5 L381.7 353.5 L382.7 353.5 L383.7 353.5 L384.7 353.5 L385.7 353.5 L386.7 353.5 L387.7 353.5 L388.7 353.5 L389.7 353.5 L390.7 353.5" stroke="#6cbcc4" stroke-width="0.9" fill="none"/>
<path d="M227.7 353.5 L228.7 353.5 L229.7 353.5 L230.7 353.5 L231.7 353.5 L232.7 353.5 L233.7 353.5 L234.7 353.5 L235.7 353.5 L236.7 353.5 L237.7 353.5 L238.7 353.5 L239.7 353.5 L240.7 353.5 L241.7 353.5 L242.7 353.5 L243.7 353.5 L244.7 353.5 L245.7 353.5 L246.7 353.5 L247.7 353.5 L248.7 353.5 L249.7 353.5 L250.7 353.5 L251.7 353.5 L252.7 353.5 L253.7 353.5 L254.7 353.5 L255.7 353.5 L256.7 353.5 L257.7 353.5 L258.7 353.5 L259.7 353.5 L260.7 353.5 L261.7 353.4 L262.7 353.4 L263.7 353.4 L264.7 353.4 L265.7 353.3 L266.7 353.3 L267.7 353.2 L268.7 353.2 L269.7 353.1 L270.7 352.9 L271.7 352.8 L272.7 352.6 L273.7 352.4 L274.7 352.2 L275.7 351.9 L276.7 351.5 L277.7 351.1 L278.7 350.6 L279.7 350.1 L280.7 349.4 L281.7 348.7 L282.7 347.9 L283.7 347 L284.7 346 L285.7 344.8 L286.7 343.6 L287.7 342.3 L288.7 340.9 L289.7 339.3 L290.7 337.7 L291.7 336.1 L292.7 334.4 L293.7 332.6 L294.7 330.8 L295.7 329.1 L296.7 327.3 L297.7 325.7 L298.7 324.1 L299.7 322.6 L300.7 321.2 L301.7 320 L302.7 319 L303.7 318.2 L304.7 317.6 L305.7 317.2 L306.7 317 L307.7 317.1 L308.7 317.4 L309.7 317.9 L310.7 318.6 L311.7 319.6 L312.7 320.7 L313.7 322 L314.7 323.5 L315.7 325 L316.7 326.7 L317.7 328.4 L318.7 330.1 L319.7 331.9 L320.7 333.7 L321.7 335.4 L322.7 337.1 L323.7 338.7 L324.7 340.3 L325.7 341.7 L326.7 343.1 L327.7 344.4 L328.7 345.5 L329.7 346.6 L330.7 347.5 L331.7 348.4 L332.7 349.2 L333.7 349.8 L334.7 350.4 L335.7 350.9 L336.7 351.4 L337.7 351.7 L338.7 352.1 L339.7 352.3 L340.7 352.6 L341.7 352.7 L342.7 352.9 L343.7 353 L344.7 353.1 L345.7 353.2 L346.7 353.3 L347.7 353.3 L348.7 353.4 L349.7 353.4 L350.7 353.4 L351.7 353.4 L352.7 353.5 L353.7 353.5 L354.7 353.5 L355.7 353.5 L356.7 353.5 L357.7 353.5 L358.7 353.5 L359.7 353.5 L360.7 353.5 L361.7 353.5 L362.7 353.5 L363.7 353.5 L364.7 353.5 L365.7 353.5 L366.7 353.5 L367.7 353.5 L368.7 353.5 L369.7 353.5 L370.7 353.5 L371.7 353.5 L372.7 353.5 L373.7 353.5 L374.7 353.5 L375.7 353.5 L376.7 353.5 L377.7 353.5 L378.7 353.5 L379.7 353.5 L380.7 353.5 L381.7 353.5 L382.7 353.5 L383.7 353.5 L384.7 353.5 L385.7 353.5 L386.7 353.5 L387.7 353.5 L388.7 353.5 L389.7 353.5 L390.7 353.5" stroke="#3a78c0" stroke-width="0.9" fill="none"/>
<path d="M227.7 353.5 L228.7 353.5 L229.7 353.5 L230.7 353.5 L231.7 353.5 L232.7 353.5 L233.7 353.5 L234.7 353.5 L235.7 353.5 L236.7 353.5 L237.7 353.5 L238.7 353.5 L239.7 353.5 L240.7 353.5 L241.7 353.5 L242.7 353.5 L243.7 353.5 L244.7 353.5 L245.7 353.5 L246.7 353.5 L247.7 353.5 L248.7 353.5 L249.7 353.5 L250.7 353.5 L251.7 353.5 L252.7 353.5 L253.7 353.5 L254.7 353.5 L255.7 353.5 L256.7 353.5 L257.7 353.5 L258.7 353.5 L259.7 353.5 L260.7 353.5 L261.7 353.5 L262.7 353.5 L263.7 353.5 L264.7 353.5 L265.7 353.5 L266.7 353.5 L267.7 353.5 L268.7 353.5 L269.7 353.5 L270.7 353.5 L271.7 353.5 L272.7 353.5 L273.7 353.5 L274.7 353.5 L275.7 353.5 L276.7 353.5 L277.7 353.5 L278.7 353.5 L279.7 353.5 L280.7 353.5 L281.7 353.5 L282.7 353.5 L283.7 353.5 L284.7 353.5 L285.7 353.5 L286.7 353.5 L287.7 353.5 L288.7 353.5 L289.7 353.5 L290.7 353.5 L291.7 353.5 L292.7 353.4 L293.7 353.4 L294.7 353.4 L295.7 353.4 L296.7 353.3 L297.7 353.3 L298.7 353.2 L299.7 353.1 L300.7 353 L301.7 352.9 L302.7 352.7 L303.7 352.5 L304.7 352.3 L305.7 352 L306.7 351.7 L307.7 351.3 L308.7 350.8 L309.7 350.3 L310.7 349.7 L311.7 349 L312.7 348.2 L313.7 347.4 L314.7 346.4 L315.7 345.4 L316.7 344.3 L317.7 343.1 L318.7 341.8 L319.7 340.5 L320.7 339.1 L321.7 337.7 L322.7 336.3 L323.7 334.9 L324.7 333.5 L325.7 332.1 L326.7 330.9 L327.7 329.7 L328.7 328.7 L329.7 327.7 L330.7 327 L331.7 326.4 L332.7 326 L333.7 325.8 L334.7 325.8 L335.7 326 L336.7 326.4 L337.7 327 L338.7 327.7 L339.7 328.7 L340.7 329.7 L341.7 330.9 L342.7 332.1 L343.7 333.5 L344.7 334.9 L345.7 336.3 L346.7 337.7 L347.7 339.1 L348.7 340.5 L349.7 341.8 L350.7 343.1 L351.7 344.3 L352.7 345.4 L353.7 346.4 L354.7 347.4 L355.7 348.2 L356.7 349 L357.7 349.7 L358.7 350.3 L359.7 350.8 L360.7 351.3 L361.7 351.7 L362.7 352 L363.7 352.3 L364.7 352.5 L365.7 352.7 L366.7 352.9 L367.7 353 L368.7 353.1 L369.7 353.2 L370.7 353.3 L371.7 353.3 L372.7 353.4 L373.7 353.4 L374.7 353.4 L375.7 353.4 L376.7 353.5 L377.7 353.5 L378.7 353.5 L379.7 353.5 L380.7 353.5 L381.7 353.5 L382.7 353.5 L383.7 353.5 L384.7 353.5 L385.7 353.5 L386.7 353.5 L387.7 353.5 L388.7 353.5 L389.7 353.5 L390.7 353.5" stroke="#c0285c" stroke-width="0.9" fill="none"/>
<path d="M227.7 353.8 L228.7 353.7 L229.7 353.6 L230.7 353.5 L231.7 353.4 L232.7 353.3 L233.7 353.1 L234.7 353 L235.7 352.8 L236.7 352.6 L237.7 352.4 L238.7 352.2 L239.7 351.9 L240.7 351.6 L241.7 351.3 L242.7 350.9 L243.7 350.5 L244.7 350 L245.7 349.5 L246.7 349 L247.7 348.4 L248.7 347.8 L249.7 347.1 L250.7 346.5 L251.7 345.8 L252.7 345.1 L253.7 344.4 L254.7 343.7 L255.7 343.1 L256.7 342.4 L257.7 341.8 L258.7 341.3 L259.7 340.8 L260.7 340.4 L261.7 340 L262.7 339.6 L263.7 339.4 L264.7 339.1 L265.7 338.9 L266.7 338.7 L267.7 338.5 L268.7 338.3 L269.7 338 L270.7 337.7 L271.7 337.3 L272.7 336.8 L273.7 336.2 L274.7 335.5 L275.7 334.6 L276.7 333.7 L277.7 332.6 L278.7 331.5 L279.7 330.3 L280.7 329 L281.7 327.7 L282.7 326.5 L283.7 325.2 L284.7 324 L285.7 322.9 L286.7 321.9 L287.7 320.9 L288.7 320 L289.7 319.2 L290.7 318.4 L291.7 317.8 L292.7 317.1 L293.7 316.5 L294.7 315.8 L295.7 315.2 L296.7 314.6 L297.7 314 L298.7 313.4 L299.7 312.8 L300.7 312.2 L301.7 311.7 L302.7 311.2 L303.7 310.8 L304.7 310.5 L305.7 310.3 L306.7 310.2 L307.7 310.2 L308.7 310.3 L309.7 310.6 L310.7 310.9 L311.7 311.4 L312.7 311.9 L313.7 312.5 L314.7 313.1 L315.7 313.8 L316.7 314.5 L317.7 315.1 L318.7 315.7 L319.7 316.2 L320.7 316.7 L321.7 317.2 L322.7 317.5 L323.7 317.8 L324.7 318.1 L325.7 318.3 L326.7 318.5 L327.7 318.6 L328.7 318.8 L329.7 319.1 L330.7 319.4 L331.7 319.7 L332.7 320.2 L333.7 320.7 L334.7 321.4 L335.7 322.2 L336.7 323.2 L337.7 324.2 L338.7 325.4 L339.7 326.7 L340.7 328.1 L341.7 329.6 L342.7 331.1 L343.7 332.7 L344.7 334.3 L345.7 335.9 L346.7 337.5 L347.7 339.1 L348.7 340.6 L349.7 342.1 L350.7 343.5 L351.7 344.8 L352.7 346 L353.7 347.1 L354.7 348.2 L355.7 349.1 L356.7 350 L357.7 350.7 L358.7 351.4 L359.7 351.9 L360.7 352.4 L361.7 352.9 L362.7 353.2 L363.7 353.6 L364.7 353.8 L365.7 354.1 L366.7 354.2 L367.7 354.4 L368.7 354.5 L369.7 354.6 L370.7 354.7 L371.7 354.8 L372.7 354.8 L373.7 354.9 L374.7 354.9 L375.7 354.9 L376.7 355 L377.7 355 L378.7 355 L379.7 355 L380.7 355 L381.7 355 L382.7 355 L383.7 355 L384.7 355 L385.7 355.1 L386.7 355.1 L387.7 355.1 L388.7 355.1 L389.7 355.1 L390.7 355.1" stroke="#888" stroke-width="0.8" fill="none"/>
<path d="M227.7 352.2 L228.7 352.1 L229.7 352 L230.7 351.9 L231.7 351.8 L232.7 351.7 L233.7 351.5 L234.7 351.4 L235.7 351.2 L236.7 351 L237.7 350.8 L238.7 350.6 L239.7 350.3 L240.7 350 L241.7 349.7 L242.7 349.3 L243.7 348.9 L244.7 348.4 L245.7 347.9 L246.7 347.4 L247.7 346.8 L248.7 346.2 L249.7 345.5 L250.7 344.9 L251.7 344.2 L252.7 343.5 L253.7 342.8 L254.7 342.1 L255.7 341.5 L256.7 340.8 L257.7 340.2 L258.7 339.7 L259.7 339.2 L260.7 338.8 L261.7 338.4 L262.7 338 L263.7 337.8 L264.7 337.5 L265.7 337.3 L266.7 337.1 L267.7 336.9 L268.7 336.7 L269.7 336.4 L270.7 336.1 L271.7 335.7 L272.7 335.2 L273.7 334.6 L274.7 333.9 L275.7 333 L276.7 332.1 L277.7 331 L278.7 329.9 L279.7 328.7 L280.7 327.4 L281.7 326.1 L282.7 324.9 L283.7 323.6 L284.7 322.4 L285.7 321.3 L286.7 320.3 L287.7 319.3 L288.7 318.4 L289.7 317.6 L290.7 316.8 L291.7 316.2 L292.7 315.5 L293.7 314.9 L294.7 314.2 L295.7 313.6 L296.7 313 L297.7 312.4 L298.7 311.8 L299.7 311.2 L300.7 310.6 L301.7 310.1 L302.7 309.6 L303.7 309.2 L304.7 308.9 L305.7 308.7 L306.7 308.6 L307.7 308.6 L308.7 308.7 L309.7 309 L310.7 309.3 L311.7 309.8 L312.7 310.3 L313.7 310.9 L314.7 311.5 L315.7 312.2 L316.7 312.9 L317.7 313.5 L318.7 314.1 L319.7 314.6 L320.7 315.1 L321.7 315.6 L322.7 315.9 L323.7 316.2 L324.7 316.5 L325.7 316.7 L326.7 316.9 L327.7 317 L328.7 317.2 L329.7 317.5 L330.7 317.8 L331.7 318.1 L332.7 318.6 L333.7 319.1 L334.7 319.8 L335.7 320.6 L336.7 321.6 L337.7 322.6 L338.7 323.8 L339.7 325.1 L340.7 326.5 L341.7 328 L342.7 329.5 L343.7 331.1 L344.7 332.7 L345.7 334.3 L346.7 335.9 L347.7 337.5 L348.7 339 L349.7 340.5 L350.7 341.9 L351.7 343.2 L352.7 344.4 L353.7 345.5 L354.7 346.6 L355.7 347.5 L356.7 348.4 L357.7 349.1 L358.7 349.8 L359.7 350.3 L360.7 350.8 L361.7 351.3 L362.7 351.6 L363.7 352 L364.7 352.2 L365.7 352.5 L366.7 352.6 L367.7 352.8 L368.7 352.9 L369.7 353 L370.7 353.1 L371.7 353.2 L372.7 353.2 L373.7 353.3 L374.7 353.3 L375.7 353.3 L376.7 353.4 L377.7 353.4 L378.7 353.4 L379.7 353.4 L380.7 353.4 L381.7 353.4 L382.7 353.4 L383.7 353.4 L384.7 353.4 L385.7 353.5 L386.7 353.5 L387.7 353.5 L388.7 353.5 L389.7 353.5 L390.7 353.5" stroke="#111" stroke-width="0.9" fill="none"/>
<text x="232" y="306.8" font-size="9" fill="#3a78c0" transform="translate(232 306.8) scale(1 1.08) translate(-232 -306.8)">CS-middle</text>
<text x="389" y="309.5" font-size="9" fill="#3a78c0" text-anchor="end" transform="translate(389 309.5) scale(1 1.08) translate(-389 -309.5)">O 1<tspan font-style="italic">s</tspan> 4.28 at.%</text>
<g fill="none" stroke="#cfcfcf" stroke-width="0.7"><circle cx="362" cy="415.6" r="2.4"/><circle cx="249.7" cy="419" r="2.4"/><circle cx="293.7" cy="385" r="2.4"/><circle cx="261.6" cy="410.3" r="2.4"/><circle cx="338.2" cy="406.5" r="2.4"/><circle cx="248.1" cy="412.3" r="2.4"/><circle cx="310.1" cy="383.2" r="2.4"/><circle cx="338.7" cy="395.4" r="2.4"/><circle cx="259.8" cy="413" r="2.4"/><circle cx="235.7" cy="421.2" r="2.4"/><circle cx="317.4" cy="383.4" r="2.4"/><circle cx="253" cy="414.2" r="2.4"/><circle cx="259" cy="413.7" r="2.4"/><circle cx="387.2" cy="428.8" r="2.4"/><circle cx="377.1" cy="423.5" r="2.4"/><circle cx="381" cy="423.2" r="2.4"/><circle cx="303.2" cy="382.6" r="2.4"/><circle cx="303.9" cy="379.2" r="2.4"/><circle cx="311.6" cy="379.5" r="2.4"/><circle cx="231.8" cy="422.9" r="2.4"/><circle cx="341.2" cy="403.3" r="2.4"/><circle cx="301.9" cy="380.9" r="2.4"/><circle cx="347.3" cy="407.8" r="2.4"/><circle cx="255.9" cy="414.4" r="2.4"/><circle cx="311.2" cy="390.6" r="2.4"/><circle cx="357.2" cy="419.5" r="2.4"/><circle cx="341.7" cy="405.8" r="2.4"/><circle cx="294" cy="381.5" r="2.4"/><circle cx="325" cy="382.4" r="2.4"/><circle cx="357.7" cy="418.9" r="2.4"/><circle cx="270.8" cy="412.5" r="2.4"/><circle cx="353.4" cy="413.2" r="2.4"/><circle cx="359.2" cy="413.9" r="2.4"/><circle cx="369.6" cy="426.2" r="2.4"/><circle cx="340.2" cy="401.6" r="2.4"/><circle cx="294.2" cy="379.3" r="2.4"/><circle cx="344.6" cy="409.1" r="2.4"/><circle cx="304.2" cy="383.5" r="2.4"/><circle cx="231.4" cy="418" r="2.4"/><circle cx="328.9" cy="397.3" r="2.4"/><circle cx="266.6" cy="414.2" r="2.4"/><circle cx="283.4" cy="391.1" r="2.4"/><circle cx="334.6" cy="392.2" r="2.4"/><circle cx="291.6" cy="384.2" r="2.4"/><circle cx="388.7" cy="419.3" r="2.4"/><circle cx="350.8" cy="409.6" r="2.4"/><circle cx="385.5" cy="427.2" r="2.4"/><circle cx="347.2" cy="410.2" r="2.4"/><circle cx="270.5" cy="406.9" r="2.4"/><circle cx="260.8" cy="411.8" r="2.4"/><circle cx="289.4" cy="389.2" r="2.4"/><circle cx="373.7" cy="423.9" r="2.4"/><circle cx="317.2" cy="378.7" r="2.4"/><circle cx="320" cy="389.1" r="2.4"/><circle cx="387.9" cy="418.6" r="2.4"/><circle cx="241.8" cy="414.5" r="2.4"/><circle cx="324.7" cy="392.1" r="2.4"/><circle cx="377.6" cy="421.5" r="2.4"/><circle cx="255.1" cy="411.5" r="2.4"/><circle cx="308.5" cy="382.8" r="2.4"/><circle cx="326.9" cy="400.4" r="2.4"/><circle cx="296.6" cy="387.3" r="2.4"/><circle cx="313.5" cy="382.2" r="2.4"/><circle cx="275.1" cy="402.1" r="2.4"/><circle cx="333.9" cy="393" r="2.4"/><circle cx="343.6" cy="404.1" r="2.4"/><circle cx="276.8" cy="404.6" r="2.4"/><circle cx="236.5" cy="420.6" r="2.4"/><circle cx="254.6" cy="413.9" r="2.4"/><circle cx="372.4" cy="419" r="2.4"/><circle cx="348.7" cy="421" r="2.4"/><circle cx="379.9" cy="425.7" r="2.4"/><circle cx="241.4" cy="422.3" r="2.4"/><circle cx="305.6" cy="380" r="2.4"/><circle cx="384.4" cy="422.7" r="2.4"/><circle cx="378.7" cy="426.6" r="2.4"/><circle cx="344.6" cy="397.1" r="2.4"/><circle cx="359.6" cy="421.9" r="2.4"/><circle cx="325.7" cy="395.9" r="2.4"/><circle cx="302.2" cy="385.8" r="2.4"/><circle cx="262.1" cy="414.7" r="2.4"/><circle cx="249.5" cy="417.7" r="2.4"/><circle cx="300.1" cy="381.4" r="2.4"/><circle cx="271.4" cy="404" r="2.4"/><circle cx="322.3" cy="385.7" r="2.4"/><circle cx="314.1" cy="388.2" r="2.4"/><circle cx="388.3" cy="427.9" r="2.4"/><circle cx="267.6" cy="407.5" r="2.4"/><circle cx="247.8" cy="421.7" r="2.4"/><circle cx="329.1" cy="389.8" r="2.4"/><circle cx="286.8" cy="388.4" r="2.4"/><circle cx="319.5" cy="394.4" r="2.4"/><circle cx="323.8" cy="387.8" r="2.4"/><circle cx="259.9" cy="407.3" r="2.4"/><circle cx="269.3" cy="416" r="2.4"/><circle cx="369.4" cy="421.2" r="2.4"/><circle cx="236" cy="422.9" r="2.4"/><circle cx="297.3" cy="385.1" r="2.4"/><circle cx="328.8" cy="396.8" r="2.4"/><circle cx="241.2" cy="421.9" r="2.4"/><circle cx="243.4" cy="416.8" r="2.4"/><circle cx="330" cy="390" r="2.4"/><circle cx="289" cy="385" r="2.4"/><circle cx="284.3" cy="392" r="2.4"/><circle cx="348.1" cy="411.4" r="2.4"/></g>
<path d="M227.7 423.6 L228.7 423.6 L229.7 423.5 L230.7 423.5 L231.7 423.5 L232.7 423.5 L233.7 423.4 L234.7 423.4 L235.7 423.3 L236.7 423.2 L237.7 423.1 L238.7 423 L239.7 422.9 L240.7 422.8 L241.7 422.6 L242.7 422.4 L243.7 422.2 L244.7 421.9 L245.7 421.7 L246.7 421.4 L247.7 421 L248.7 420.7 L249.7 420.3 L250.7 419.9 L251.7 419.6 L252.7 419.2 L253.7 418.8 L254.7 418.4 L255.7 418 L256.7 417.7 L257.7 417.3 L258.7 417.1 L259.7 416.8 L260.7 416.6 L261.7 416.5 L262.7 416.4 L263.7 416.4 L264.7 416.4 L265.7 416.5 L266.7 416.7 L267.7 416.9 L268.7 417.2 L269.7 417.5 L270.7 417.8 L271.7 418.1 L272.7 418.5 L273.7 418.9 L274.7 419.3 L275.7 419.7 L276.7 420.1 L277.7 420.5 L278.7 420.8 L279.7 421.2 L280.7 421.5 L281.7 421.8 L282.7 422 L283.7 422.3 L284.7 422.5 L285.7 422.7 L286.7 422.8 L287.7 423 L288.7 423.1 L289.7 423.2 L290.7 423.3 L291.7 423.3 L292.7 423.4 L293.7 423.4 L294.7 423.5 L295.7 423.5 L296.7 423.5 L297.7 423.5 L298.7 423.6 L299.7 423.6 L300.7 423.6 L301.7 423.6 L302.7 423.6 L303.7 423.6 L304.7 423.6 L305.7 423.6 L306.7 423.6 L307.7 423.6 L308.7 423.6 L309.7 423.6 L310.7 423.6 L311.7 423.6 L312.7 423.6 L313.7 423.6 L314.7 423.6 L315.7 423.6 L316.7 423.6 L317.7 423.6 L318.7 423.6 L319.7 423.6 L320.7 423.6 L321.7 423.6 L322.7 423.6 L323.7 423.6 L324.7 423.6 L325.7 423.6 L326.7 423.6 L327.7 423.6 L328.7 423.6 L329.7 423.6 L330.7 423.6 L331.7 423.6 L332.7 423.6 L333.7 423.6 L334.7 423.6 L335.7 423.6 L336.7 423.6 L337.7 423.6 L338.7 423.6 L339.7 423.6 L340.7 423.6 L341.7 423.6 L342.7 423.6 L343.7 423.6 L344.7 423.6 L345.7 423.6 L346.7 423.6 L347.7 423.6 L348.7 423.6 L349.7 423.6 L350.7 423.6 L351.7 423.6 L352.7 423.6 L353.7 423.6 L354.7 423.6 L355.7 423.6 L356.7 423.6 L357.7 423.6 L358.7 423.6 L359.7 423.6 L360.7 423.6 L361.7 423.6 L362.7 423.6 L363.7 423.6 L364.7 423.6 L365.7 423.6 L366.7 423.6 L367.7 423.6 L368.7 423.6 L369.7 423.6 L370.7 423.6 L371.7 423.6 L372.7 423.6 L373.7 423.6 L374.7 423.6 L375.7 423.6 L376.7 423.6 L377.7 423.6 L378.7 423.6 L379.7 423.6 L380.7 423.6 L381.7 423.6 L382.7 423.6 L383.7 423.6 L384.7 423.6 L385.7 423.6 L386.7 423.6 L387.7 423.6 L388.7 423.6 L389.7 423.6 L390.7 423.6" stroke="#555" stroke-width="0.9" fill="none"/>
<path d="M227.7 423.6 L228.7 423.6 L229.7 423.6 L230.7 423.6 L231.7 423.6 L232.7 423.6 L233.7 423.6 L234.7 423.6 L235.7 423.6 L236.7 423.6 L237.7 423.6 L238.7 423.6 L239.7 423.6 L240.7 423.6 L241.7 423.6 L242.7 423.6 L243.7 423.6 L244.7 423.6 L245.7 423.6 L246.7 423.6 L247.7 423.6 L248.7 423.6 L249.7 423.6 L250.7 423.6 L251.7 423.6 L252.7 423.6 L253.7 423.6 L254.7 423.6 L255.7 423.6 L256.7 423.5 L257.7 423.5 L258.7 423.5 L259.7 423.4 L260.7 423.3 L261.7 423.2 L262.7 423.1 L263.7 422.9 L264.7 422.7 L265.7 422.4 L266.7 422.1 L267.7 421.7 L268.7 421.2 L269.7 420.6 L270.7 419.9 L271.7 419.1 L272.7 418.2 L273.7 417.2 L274.7 416.1 L275.7 414.9 L276.7 413.7 L277.7 412.5 L278.7 411.3 L279.7 410.1 L280.7 409 L281.7 408 L282.7 407.1 L283.7 406.5 L284.7 406 L285.7 405.7 L286.7 405.7 L287.7 405.9 L288.7 406.4 L289.7 407 L290.7 407.8 L291.7 408.8 L292.7 409.9 L293.7 411 L294.7 412.2 L295.7 413.5 L296.7 414.7 L297.7 415.9 L298.7 417 L299.7 418 L300.7 418.9 L301.7 419.7 L302.7 420.4 L303.7 421.1 L304.7 421.6 L305.7 422 L306.7 422.4 L307.7 422.7 L308.7 422.9 L309.7 423.1 L310.7 423.2 L311.7 423.3 L312.7 423.4 L313.7 423.5 L314.7 423.5 L315.7 423.5 L316.7 423.6 L317.7 423.6 L318.7 423.6 L319.7 423.6 L320.7 423.6 L321.7 423.6 L322.7 423.6 L323.7 423.6 L324.7 423.6 L325.7 423.6 L326.7 423.6 L327.7 423.6 L328.7 423.6 L329.7 423.6 L330.7 423.6 L331.7 423.6 L332.7 423.6 L333.7 423.6 L334.7 423.6 L335.7 423.6 L336.7 423.6 L337.7 423.6 L338.7 423.6 L339.7 423.6 L340.7 423.6 L341.7 423.6 L342.7 423.6 L343.7 423.6 L344.7 423.6 L345.7 423.6 L346.7 423.6 L347.7 423.6 L348.7 423.6 L349.7 423.6 L350.7 423.6 L351.7 423.6 L352.7 423.6 L353.7 423.6 L354.7 423.6 L355.7 423.6 L356.7 423.6 L357.7 423.6 L358.7 423.6 L359.7 423.6 L360.7 423.6 L361.7 423.6 L362.7 423.6 L363.7 423.6 L364.7 423.6 L365.7 423.6 L366.7 423.6 L367.7 423.6 L368.7 423.6 L369.7 423.6 L370.7 423.6 L371.7 423.6 L372.7 423.6 L373.7 423.6 L374.7 423.6 L375.7 423.6 L376.7 423.6 L377.7 423.6 L378.7 423.6 L379.7 423.6 L380.7 423.6 L381.7 423.6 L382.7 423.6 L383.7 423.6 L384.7 423.6 L385.7 423.6 L386.7 423.6 L387.7 423.6 L388.7 423.6 L389.7 423.6 L390.7 423.6" stroke="#6cbcc4" stroke-width="0.9" fill="none"/>
<path d="M227.7 423.6 L228.7 423.6 L229.7 423.6 L230.7 423.6 L231.7 423.6 L232.7 423.6 L233.7 423.6 L234.7 423.6 L235.7 423.6 L236.7 423.6 L237.7 423.6 L238.7 423.6 L239.7 423.6 L240.7 423.6 L241.7 423.6 L242.7 423.6 L243.7 423.6 L244.7 423.6 L245.7 423.6 L246.7 423.6 L247.7 423.6 L248.7 423.6 L249.7 423.6 L250.7 423.6 L251.7 423.6 L252.7 423.6 L253.7 423.6 L254.7 423.6 L255.7 423.6 L256.7 423.6 L257.7 423.6 L258.7 423.6 L259.7 423.6 L260.7 423.6 L261.7 423.6 L262.7 423.5 L263.7 423.5 L264.7 423.5 L265.7 423.5 L266.7 423.4 L267.7 423.4 L268.7 423.3 L269.7 423.2 L270.7 423.1 L271.7 423 L272.7 422.8 L273.7 422.6 L274.7 422.4 L275.7 422.2 L276.7 421.8 L277.7 421.5 L278.7 421 L279.7 420.5 L280.7 420 L281.7 419.3 L282.7 418.6 L283.7 417.8 L284.7 416.9 L285.7 415.9 L286.7 414.8 L287.7 413.6 L288.7 412.3 L289.7 411 L290.7 409.5 L291.7 408 L292.7 406.5 L293.7 404.9 L294.7 403.4 L295.7 401.8 L296.7 400.2 L297.7 398.7 L298.7 397.3 L299.7 396 L300.7 394.8 L301.7 393.7 L302.7 392.8 L303.7 392.1 L304.7 391.5 L305.7 391.1 L306.7 391 L307.7 391.1 L308.7 391.3 L309.7 391.8 L310.7 392.5 L311.7 393.3 L312.7 394.3 L313.7 395.5 L314.7 396.8 L315.7 398.2 L316.7 399.6 L317.7 401.2 L318.7 402.7 L319.7 404.3 L320.7 405.9 L321.7 407.4 L322.7 408.9 L323.7 410.4 L324.7 411.8 L325.7 413.1 L326.7 414.3 L327.7 415.4 L328.7 416.5 L329.7 417.4 L330.7 418.3 L331.7 419 L332.7 419.7 L333.7 420.3 L334.7 420.9 L335.7 421.3 L336.7 421.7 L337.7 422 L338.7 422.3 L339.7 422.6 L340.7 422.8 L341.7 422.9 L342.7 423.1 L343.7 423.2 L344.7 423.3 L345.7 423.3 L346.7 423.4 L347.7 423.4 L348.7 423.5 L349.7 423.5 L350.7 423.5 L351.7 423.5 L352.7 423.6 L353.7 423.6 L354.7 423.6 L355.7 423.6 L356.7 423.6 L357.7 423.6 L358.7 423.6 L359.7 423.6 L360.7 423.6 L361.7 423.6 L362.7 423.6 L363.7 423.6 L364.7 423.6 L365.7 423.6 L366.7 423.6 L367.7 423.6 L368.7 423.6 L369.7 423.6 L370.7 423.6 L371.7 423.6 L372.7 423.6 L373.7 423.6 L374.7 423.6 L375.7 423.6 L376.7 423.6 L377.7 423.6 L378.7 423.6 L379.7 423.6 L380.7 423.6 L381.7 423.6 L382.7 423.6 L383.7 423.6 L384.7 423.6 L385.7 423.6 L386.7 423.6 L387.7 423.6 L388.7 423.6 L389.7 423.6 L390.7 423.6" stroke="#3a78c0" stroke-width="0.9" fill="none"/>
<path d="M227.7 423.6 L228.7 423.6 L229.7 423.6 L230.7 423.6 L231.7 423.6 L232.7 423.6 L233.7 423.6 L234.7 423.6 L235.7 423.6 L236.7 423.6 L237.7 423.6 L238.7 423.6 L239.7 423.6 L240.7 423.6 L241.7 423.6 L242.7 423.6 L243.7 423.6 L244.7 423.6 L245.7 423.6 L246.7 423.6 L247.7 423.6 L248.7 423.6 L249.7 423.6 L250.7 423.6 L251.7 423.6 L252.7 423.6 L253.7 423.6 L254.7 423.6 L255.7 423.6 L256.7 423.6 L257.7 423.6 L258.7 423.6 L259.7 423.6 L260.7 423.6 L261.7 423.6 L262.7 423.6 L263.7 423.6 L264.7 423.6 L265.7 423.6 L266.7 423.6 L267.7 423.6 L268.7 423.6 L269.7 423.6 L270.7 423.6 L271.7 423.6 L272.7 423.6 L273.7 423.6 L274.7 423.6 L275.7 423.6 L276.7 423.6 L277.7 423.6 L278.7 423.6 L279.7 423.6 L280.7 423.6 L281.7 423.6 L282.7 423.6 L283.7 423.6 L284.7 423.6 L285.7 423.6 L286.7 423.6 L287.7 423.6 L288.7 423.6 L289.7 423.6 L290.7 423.6 L291.7 423.6 L292.7 423.6 L293.7 423.5 L294.7 423.5 L295.7 423.5 L296.7 423.5 L297.7 423.4 L298.7 423.4 L299.7 423.3 L300.7 423.2 L301.7 423.1 L302.7 423 L303.7 422.8 L304.7 422.7 L305.7 422.5 L306.7 422.2 L307.7 421.9 L308.7 421.5 L309.7 421.1 L310.7 420.7 L311.7 420.2 L312.7 419.6 L313.7 418.9 L314.7 418.2 L315.7 417.4 L316.7 416.5 L317.7 415.6 L318.7 414.7 L319.7 413.6 L320.7 412.6 L321.7 411.5 L322.7 410.4 L323.7 409.3 L324.7 408.3 L325.7 407.2 L326.7 406.3 L327.7 405.4 L328.7 404.6 L329.7 403.9 L330.7 403.3 L331.7 402.9 L332.7 402.6 L333.7 402.4 L334.7 402.4 L335.7 402.6 L336.7 402.9 L337.7 403.3 L338.7 403.9 L339.7 404.6 L340.7 405.4 L341.7 406.3 L342.7 407.2 L343.7 408.3 L344.7 409.3 L345.7 410.4 L346.7 411.5 L347.7 412.6 L348.7 413.6 L349.7 414.7 L350.7 415.6 L351.7 416.5 L352.7 417.4 L353.7 418.2 L354.7 418.9 L355.7 419.6 L356.7 420.2 L357.7 420.7 L358.7 421.1 L359.7 421.5 L360.7 421.9 L361.7 422.2 L362.7 422.5 L363.7 422.7 L364.7 422.8 L365.7 423 L366.7 423.1 L367.7 423.2 L368.7 423.3 L369.7 423.4 L370.7 423.4 L371.7 423.5 L372.7 423.5 L373.7 423.5 L374.7 423.5 L375.7 423.6 L376.7 423.6 L377.7 423.6 L378.7 423.6 L379.7 423.6 L380.7 423.6 L381.7 423.6 L382.7 423.6 L383.7 423.6 L384.7 423.6 L385.7 423.6 L386.7 423.6 L387.7 423.6 L388.7 423.6 L389.7 423.6 L390.7 423.6" stroke="#c0285c" stroke-width="0.9" fill="none"/>
<path d="M227.7 423.9 L228.7 423.8 L229.7 423.7 L230.7 423.6 L231.7 423.5 L232.7 423.4 L233.7 423.3 L234.7 423.2 L235.7 423.1 L236.7 422.9 L237.7 422.7 L238.7 422.6 L239.7 422.4 L240.7 422.1 L241.7 421.9 L242.7 421.6 L243.7 421.3 L244.7 420.9 L245.7 420.6 L246.7 420.2 L247.7 419.7 L248.7 419.3 L249.7 418.8 L250.7 418.3 L251.7 417.8 L252.7 417.3 L253.7 416.8 L254.7 416.3 L255.7 415.9 L256.7 415.4 L257.7 414.9 L258.7 414.5 L259.7 414.1 L260.7 413.8 L261.7 413.5 L262.7 413.2 L263.7 412.9 L264.7 412.6 L265.7 412.3 L266.7 412 L267.7 411.7 L268.7 411.3 L269.7 410.9 L270.7 410.3 L271.7 409.7 L272.7 408.9 L273.7 408.1 L274.7 407.1 L275.7 406 L276.7 404.8 L277.7 403.5 L278.7 402.1 L279.7 400.7 L280.7 399.2 L281.7 397.8 L282.7 396.4 L283.7 395.1 L284.7 393.9 L285.7 392.8 L286.7 391.8 L287.7 390.9 L288.7 390.2 L289.7 389.5 L290.7 389 L291.7 388.6 L292.7 388.2 L293.7 387.8 L294.7 387.5 L295.7 387.2 L296.7 386.9 L297.7 386.6 L298.7 386.3 L299.7 385.9 L300.7 385.6 L301.7 385.3 L302.7 385.1 L303.7 384.9 L304.7 384.7 L305.7 384.7 L306.7 384.7 L307.7 384.8 L308.7 385.1 L309.7 385.4 L310.7 385.8 L311.7 386.4 L312.7 387 L313.7 387.6 L314.7 388.3 L315.7 389.1 L316.7 389.8 L317.7 390.6 L318.7 391.3 L319.7 392 L320.7 392.6 L321.7 393.2 L322.7 393.7 L323.7 394.2 L324.7 394.6 L325.7 395 L326.7 395.3 L327.7 395.6 L328.7 396 L329.7 396.3 L330.7 396.7 L331.7 397.1 L332.7 397.5 L333.7 398.1 L334.7 398.7 L335.7 399.4 L336.7 400.2 L337.7 401.1 L338.7 402 L339.7 403 L340.7 404.2 L341.7 405.3 L342.7 406.5 L343.7 407.8 L344.7 409 L345.7 410.3 L346.7 411.5 L347.7 412.8 L348.7 413.9 L349.7 415.1 L350.7 416.2 L351.7 417.2 L352.7 418.1 L353.7 419 L354.7 419.8 L355.7 420.5 L356.7 421.2 L357.7 421.7 L358.7 422.3 L359.7 422.7 L360.7 423.1 L361.7 423.4 L362.7 423.7 L363.7 424 L364.7 424.2 L365.7 424.3 L366.7 424.5 L367.7 424.6 L368.7 424.7 L369.7 424.8 L370.7 424.9 L371.7 424.9 L372.7 425 L373.7 425 L374.7 425 L375.7 425.1 L376.7 425.1 L377.7 425.1 L378.7 425.1 L379.7 425.1 L380.7 425.1 L381.7 425.1 L382.7 425.1 L383.7 425.1 L384.7 425.1 L385.7 425.2 L386.7 425.2 L387.7 425.2 L388.7 425.2 L389.7 425.2 L390.7 425.2" stroke="#888" stroke-width="0.8" fill="none"/>
<path d="M227.7 422.3 L228.7 422.2 L229.7 422.1 L230.7 422 L231.7 421.9 L232.7 421.8 L233.7 421.7 L234.7 421.6 L235.7 421.5 L236.7 421.3 L237.7 421.1 L238.7 421 L239.7 420.8 L240.7 420.5 L241.7 420.3 L242.7 420 L243.7 419.7 L244.7 419.3 L245.7 419 L246.7 418.6 L247.7 418.1 L248.7 417.7 L249.7 417.2 L250.7 416.7 L251.7 416.2 L252.7 415.7 L253.7 415.2 L254.7 414.7 L255.7 414.3 L256.7 413.8 L257.7 413.3 L258.7 412.9 L259.7 412.5 L260.7 412.2 L261.7 411.9 L262.7 411.6 L263.7 411.3 L264.7 411 L265.7 410.7 L266.7 410.4 L267.7 410.1 L268.7 409.7 L269.7 409.3 L270.7 408.7 L271.7 408.1 L272.7 407.3 L273.7 406.5 L274.7 405.5 L275.7 404.4 L276.7 403.2 L277.7 401.9 L278.7 400.5 L279.7 399.1 L280.7 397.6 L281.7 396.2 L282.7 394.8 L283.7 393.5 L284.7 392.3 L285.7 391.2 L286.7 390.2 L287.7 389.3 L288.7 388.6 L289.7 387.9 L290.7 387.4 L291.7 387 L292.7 386.6 L293.7 386.2 L294.7 385.9 L295.7 385.6 L296.7 385.3 L297.7 385 L298.7 384.7 L299.7 384.3 L300.7 384 L301.7 383.7 L302.7 383.5 L303.7 383.3 L304.7 383.1 L305.7 383.1 L306.7 383.1 L307.7 383.2 L308.7 383.5 L309.7 383.8 L310.7 384.2 L311.7 384.8 L312.7 385.4 L313.7 386 L314.7 386.7 L315.7 387.5 L316.7 388.2 L317.7 389 L318.7 389.7 L319.7 390.4 L320.7 391 L321.7 391.6 L322.7 392.1 L323.7 392.6 L324.7 393 L325.7 393.4 L326.7 393.7 L327.7 394 L328.7 394.4 L329.7 394.7 L330.7 395.1 L331.7 395.5 L332.7 395.9 L333.7 396.5 L334.7 397.1 L335.7 397.8 L336.7 398.6 L337.7 399.5 L338.7 400.4 L339.7 401.4 L340.7 402.6 L341.7 403.7 L342.7 404.9 L343.7 406.2 L344.7 407.4 L345.7 408.7 L346.7 409.9 L347.7 411.2 L348.7 412.3 L349.7 413.5 L350.7 414.6 L351.7 415.6 L352.7 416.5 L353.7 417.4 L354.7 418.2 L355.7 418.9 L356.7 419.6 L357.7 420.1 L358.7 420.7 L359.7 421.1 L360.7 421.5 L361.7 421.8 L362.7 422.1 L363.7 422.4 L364.7 422.6 L365.7 422.7 L366.7 422.9 L367.7 423 L368.7 423.1 L369.7 423.2 L370.7 423.3 L371.7 423.3 L372.7 423.4 L373.7 423.4 L374.7 423.4 L375.7 423.5 L376.7 423.5 L377.7 423.5 L378.7 423.5 L379.7 423.5 L380.7 423.5 L381.7 423.5 L382.7 423.5 L383.7 423.5 L384.7 423.5 L385.7 423.6 L386.7 423.6 L387.7 423.6 L388.7 423.6 L389.7 423.6 L390.7 423.6" stroke="#111" stroke-width="0.9" fill="none"/>
<text x="232" y="380.2" font-size="9" fill="#6cbcc4" transform="translate(232 380.2) scale(1 1.08) translate(-232 -380.2)">CS-low</text>
<text x="389" y="381.2" font-size="9" fill="#6cbcc4" text-anchor="end" transform="translate(389 381.2) scale(1 1.08) translate(-389 -381.2)">O 1<tspan font-style="italic">s</tspan> 4.43 at.%</text>
</g>
<text x="247" y="414.8" font-size="9" fill="#444" transform="translate(247 414.8) scale(1 1.08) translate(-247 -414.8)">IV</text>
<text x="269.5" y="416" font-size="9" fill="#6cbcc4" transform="translate(269.5 416) scale(1 1.08) translate(-269.5 -416)">III</text>
<text x="291" y="402.5" font-size="9" fill="#3a78c0" transform="translate(291 402.5) scale(1 1.08) translate(-291 -402.5)">II</text>
<text x="347" y="407.3" font-size="9" fill="#c0285c" transform="translate(347 407.3) scale(1 1.08) translate(-347 -407.3)">I</text>
<linearGradient id="cbi" x1="0" x2="1" y1="0" y2="0"><stop offset="0.0" stop-color="#6a0a1c"/><stop offset="0.1" stop-color="#c01a24"/><stop offset="0.2" stop-color="#e4503c"/><stop offset="0.3" stop-color="#f49a7c"/><stop offset="0.4" stop-color="#fcd6c4"/><stop offset="0.5" stop-color="#f6f4f2"/><stop offset="0.6" stop-color="#cde1ee"/><stop offset="0.7" stop-color="#8fbfdc"/><stop offset="0.8" stop-color="#4a90c4"/><stop offset="0.9" stop-color="#1f5fa4"/><stop offset="1.0" stop-color="#0a2e68"/></linearGradient>
<rect x="425.8" y="256.9" width="110.8" height="7.2" fill="url(#cbi)"/>
<line x1="425.8" y1="256.9" x2="425.8" y2="255.2" stroke="#333" stroke-width="0.6"/>
<text x="425.8" y="252.2" font-size="8" fill="#111" text-anchor="middle" transform="translate(425.8 252.2) scale(1 1.15) translate(-425.8 -252.2)">100</text>
<line x1="448" y1="256.9" x2="448" y2="255.2" stroke="#333" stroke-width="0.6"/>
<text x="448" y="252.2" font-size="8" fill="#111" text-anchor="middle" transform="translate(448 252.2) scale(1 1.15) translate(-448 -252.2)">90</text>
<line x1="470.1" y1="256.9" x2="470.1" y2="255.2" stroke="#333" stroke-width="0.6"/>
<text x="470.1" y="252.2" font-size="8" fill="#111" text-anchor="middle" transform="translate(470.1 252.2) scale(1 1.15) translate(-470.1 -252.2)">80</text>
<line x1="492.3" y1="256.9" x2="492.3" y2="255.2" stroke="#333" stroke-width="0.6"/>
<text x="492.3" y="252.2" font-size="8" fill="#111" text-anchor="middle" transform="translate(492.3 252.2) scale(1 1.15) translate(-492.3 -252.2)">70</text>
<line x1="514.4" y1="256.9" x2="514.4" y2="255.2" stroke="#333" stroke-width="0.6"/>
<text x="514.4" y="252.2" font-size="8" fill="#111" text-anchor="middle" transform="translate(514.4 252.2) scale(1 1.15) translate(-514.4 -252.2)">60</text>
<line x1="536.6" y1="256.9" x2="536.6" y2="255.2" stroke="#333" stroke-width="0.6"/>
<text x="536.6" y="252.2" font-size="8" fill="#111" text-anchor="middle" transform="translate(536.6 252.2) scale(1 1.15) translate(-536.6 -252.2)">50</text>
<text x="483.4" y="240.4" font-size="9.5" fill="#111" text-anchor="middle" transform="translate(483.4 240.4) scale(1 1.08) translate(-483.4 -240.4)">2e<tspan font-size="5.5" dy="-3">-</tspan><tspan dy="3"> selectivity (%)</tspan></text>
<line x1="444.3" y1="269.4" x2="444.3" y2="442.8" stroke="#d8d8d8" stroke-width="0.6"/>
<line x1="462.7" y1="269.4" x2="462.7" y2="442.8" stroke="#d8d8d8" stroke-width="0.6"/>
<line x1="481.2" y1="269.4" x2="481.2" y2="442.8" stroke="#d8d8d8" stroke-width="0.6"/>
<line x1="499.7" y1="269.4" x2="499.7" y2="442.8" stroke="#d8d8d8" stroke-width="0.6"/>
<line x1="518.1" y1="269.4" x2="518.1" y2="442.8" stroke="#d8d8d8" stroke-width="0.6"/>
<line x1="425.8" y1="312.8" x2="536.6" y2="312.8" stroke="#d8d8d8" stroke-width="0.6"/>
<line x1="425.8" y1="356.1" x2="536.6" y2="356.1" stroke="#d8d8d8" stroke-width="0.6"/>
<line x1="425.8" y1="399.4" x2="536.6" y2="399.4" stroke="#d8d8d8" stroke-width="0.6"/>
<line x1="481.5" y1="269.4" x2="481.5" y2="442.8" stroke="#999" stroke-width="0.7"/>
<line x1="425.8" y1="356.5" x2="536.6" y2="356.5" stroke="#999" stroke-width="0.7"/>
<rect x="425.5" y="269.5" width="111" height="173" fill="none" stroke="#444" stroke-width="1"/>
<line x1="425.5" y1="442.8" x2="425.5" y2="445.3" stroke="#333" stroke-width="0.8"/>
<text x="425.8" y="455" font-size="8" fill="#111" text-anchor="middle" transform="translate(425.8 455) scale(1 1.15) translate(-425.8 -455)">-3</text>
<line x1="444.5" y1="442.8" x2="444.5" y2="445.3" stroke="#333" stroke-width="0.8"/>
<text x="444.3" y="455" font-size="8" fill="#111" text-anchor="middle" transform="translate(444.3 455) scale(1 1.15) translate(-444.3 -455)">-2</text>
<line x1="462.5" y1="442.8" x2="462.5" y2="445.3" stroke="#333" stroke-width="0.8"/>
<text x="462.7" y="455" font-size="8" fill="#111" text-anchor="middle" transform="translate(462.7 455) scale(1 1.15) translate(-462.7 -455)">-1</text>
<line x1="481.5" y1="442.8" x2="481.5" y2="445.3" stroke="#333" stroke-width="0.8"/>
<text x="481.2" y="455" font-size="8" fill="#111" text-anchor="middle" transform="translate(481.2 455) scale(1 1.15) translate(-481.2 -455)">0</text>
<line x1="499.5" y1="442.8" x2="499.5" y2="445.3" stroke="#333" stroke-width="0.8"/>
<text x="499.7" y="455" font-size="8" fill="#111" text-anchor="middle" transform="translate(499.7 455) scale(1 1.15) translate(-499.7 -455)">1</text>
<line x1="518.5" y1="442.8" x2="518.5" y2="445.3" stroke="#333" stroke-width="0.8"/>
<text x="518.1" y="455" font-size="8" fill="#111" text-anchor="middle" transform="translate(518.1 455) scale(1 1.15) translate(-518.1 -455)">2</text>
<line x1="536.5" y1="442.8" x2="536.5" y2="445.3" stroke="#333" stroke-width="0.8"/>
<text x="536.6" y="455" font-size="8" fill="#111" text-anchor="middle" transform="translate(536.6 455) scale(1 1.15) translate(-536.6 -455)">3</text>
<line x1="423.3" y1="269.5" x2="425.8" y2="269.5" stroke="#333" stroke-width="0.8"/>
<text x="421.3" y="271.7" font-size="8" fill="#111" text-anchor="end" transform="translate(421.3 271.7) scale(1 1.15) translate(-421.3 -271.7)">2</text>
<line x1="423.3" y1="312.5" x2="425.8" y2="312.5" stroke="#333" stroke-width="0.8"/>
<text x="421.3" y="315.1" font-size="8" fill="#111" text-anchor="end" transform="translate(421.3 315.1) scale(1 1.15) translate(-421.3 -315.1)">1</text>
<line x1="423.3" y1="356.5" x2="425.8" y2="356.5" stroke="#333" stroke-width="0.8"/>
<text x="421.3" y="358.4" font-size="8" fill="#111" text-anchor="end" transform="translate(421.3 358.4) scale(1 1.15) translate(-421.3 -358.4)">0</text>
<line x1="423.3" y1="399.5" x2="425.8" y2="399.5" stroke="#333" stroke-width="0.8"/>
<text x="421.3" y="401.8" font-size="8" fill="#111" text-anchor="end" transform="translate(421.3 401.8) scale(1 1.15) translate(-421.3 -401.8)">-1</text>
<line x1="423.3" y1="442.5" x2="425.8" y2="442.5" stroke="#333" stroke-width="0.8"/>
<text x="421.3" y="445.1" font-size="8" fill="#111" text-anchor="end" transform="translate(421.3 445.1) scale(1 1.15) translate(-421.3 -445.1)">-2</text>
<text x="481.2" y="469.2" font-size="9" fill="#111" text-anchor="middle" transform="translate(481.2 469.2) scale(1 1.08) translate(-481.2 -469.2)">PLS Component 1 (83%)</text>
<text x="408.4" y="356.1" font-size="9" fill="#111" text-anchor="middle" transform="translate(408.4 356.1) rotate(-90) scale(1 1.08) translate(-408.4 -356.1)">PLS Component 2 (13%)</text>
<circle cx="499.3" cy="297.2" r="2.9" fill="none" stroke="#f08a6a" stroke-width="0.8"/>
<circle cx="492.1" cy="309" r="2.9" fill="none" stroke="#f4a07e" stroke-width="0.8"/>
<circle cx="470.9" cy="339" r="2.9" fill="none" stroke="#f7d6cc" stroke-width="0.8"/>
<circle cx="475" cy="348" r="2.9" fill="none" stroke="#f4ddd6" stroke-width="0.8"/>
<circle cx="493.8" cy="352.2" r="2.9" fill="none" stroke="#eee" stroke-width="0.8"/>
<circle cx="436" cy="347.6" r="2.9" fill="none" stroke="#a8cce2" stroke-width="0.8"/>
<circle cx="444.2" cy="371.5" r="2.9" fill="none" stroke="#b6d6ea" stroke-width="0.8"/>
<circle cx="454.4" cy="386.6" r="2.9" fill="none" stroke="#b0d2e8" stroke-width="0.8"/>
<circle cx="447.5" cy="414.7" r="2.9" fill="none" stroke="#b6d6ea" stroke-width="0.8"/>
<circle cx="429.5" cy="360" r="2.9" fill="none" stroke="#eee" stroke-width="0.8"/>
<line x1="481.2" y1="356.1" x2="464.4" y2="338.9" stroke="#3a78c0" stroke-width="0.9"/>
<path d="M461.3 335.7L465.7 337.7L463.9 338.3L463.2 340.2Z" stroke="none" stroke-width="1" fill="#3a78c0"/>
<line x1="481.2" y1="356.1" x2="465.1" y2="346.3" stroke="#c0285c" stroke-width="0.9"/>
<path d="M461.3 344L466.1 344.8L464.5 345.9L464.2 347.9Z" stroke="none" stroke-width="1" fill="#c0285c"/>
<line x1="481.2" y1="356.1" x2="513.3" y2="349.1" stroke="#3a78c0" stroke-width="0.9"/>
<path d="M517.7 348.1L513.7 350.8L514.1 348.9L512.9 347.3Z" stroke="none" stroke-width="1" fill="#3a78c0"/>
<line x1="481.2" y1="356.1" x2="465.2" y2="394.8" stroke="#c0285c" stroke-width="0.9"/>
<path d="M463.5 399L463.6 394.2L464.9 395.6L466.9 395.5Z" stroke="none" stroke-width="1" fill="#c0285c"/>
<line x1="481.2" y1="356.1" x2="508.1" y2="415.6" stroke="#3a78c0" stroke-width="0.9"/>
<path d="M510 419.7L506.5 416.3L508.5 416.3L509.8 414.9Z" stroke="none" stroke-width="1" fill="#3a78c0"/>
<text x="436" y="333.2" font-size="8.3" fill="#3a78c0" transform="translate(436 333.2) scale(1 1.15) translate(-436 -333.2)"><tspan font-style="italic">C-O+C=O</tspan></text>
<text x="428.3" y="354.7" font-size="8.3" fill="#c0285c" transform="translate(428.3 354.7) scale(1 1.15) translate(-428.3 -354.7)">(<tspan font-style="italic">I</tspan><tspan font-size="5" dy="1.5">D</tspan><tspan dy="-1.5">/</tspan><tspan font-style="italic">I</tspan><tspan font-size="5" dy="1.5">G</tspan><tspan dy="-1.5">)</tspan><tspan font-size="5" dy="-3">1/2</tspan><tspan dy="3">×O</tspan></text>
<text x="502.6" y="345" font-size="8.3" fill="#3a78c0" transform="translate(502.6 345) scale(1 1.15) translate(-502.6 -345)"><tspan font-style="italic">sp</tspan><tspan font-size="5" dy="-3">2</tspan><tspan dy="3" font-style="italic"> C=C</tspan></text>
<text x="445.3" y="407.5" font-size="8.3" fill="#c0285c" transform="translate(445.3 407.5) scale(1 1.15) translate(-445.3 -407.5)">(<tspan font-style="italic">I</tspan><tspan font-size="5" dy="1.5">D</tspan><tspan dy="-1.5">/</tspan><tspan font-style="italic">I</tspan><tspan font-size="5" dy="1.5">G</tspan><tspan dy="-1.5">)</tspan><tspan font-size="5" dy="-3">1/2</tspan><tspan dy="3"></tspan></text>
<text x="490.2" y="429.6" font-size="8.3" fill="#3a78c0" transform="translate(490.2 429.6) scale(1 1.15) translate(-490.2 -429.6)"><tspan font-style="italic">sp</tspan><tspan font-size="5" dy="-3">3</tspan><tspan dy="3" font-style="italic"> C-C</tspan></text>
<text x="400.7" y="226.5" font-size="16" fill="#111" transform="translate(400.7 226.5) scale(1 1.0) translate(-400.7 -226.5)">i</text>
<linearGradient id="cbj" x1="0" x2="1" y1="0" y2="0"><stop offset="0.0" stop-color="#6a0a1c"/><stop offset="0.1" stop-color="#c01a24"/><stop offset="0.2" stop-color="#e4503c"/><stop offset="0.3" stop-color="#f49a7c"/><stop offset="0.4" stop-color="#fcd6c4"/><stop offset="0.5" stop-color="#f6f4f2"/><stop offset="0.6" stop-color="#cde1ee"/><stop offset="0.7" stop-color="#8fbfdc"/><stop offset="0.8" stop-color="#4a90c4"/><stop offset="0.9" stop-color="#1f5fa4"/><stop offset="1.0" stop-color="#0a2e68"/></linearGradient>
<rect x="565.6" y="256.9" width="111.4" height="7.2" fill="url(#cbj)"/>
<line x1="565.6" y1="256.9" x2="565.6" y2="255.2" stroke="#333" stroke-width="0.6"/>
<text x="565.6" y="252.2" font-size="8" fill="#111" text-anchor="middle" transform="translate(565.6 252.2) scale(1 1.15) translate(-565.6 -252.2)">1</text>
<line x1="587.9" y1="256.9" x2="587.9" y2="255.2" stroke="#333" stroke-width="0.6"/>
<text x="587.9" y="252.2" font-size="8" fill="#111" text-anchor="middle" transform="translate(587.9 252.2) scale(1 1.15) translate(-587.9 -252.2)">0.9</text>
<line x1="610.2" y1="256.9" x2="610.2" y2="255.2" stroke="#333" stroke-width="0.6"/>
<text x="610.2" y="252.2" font-size="8" fill="#111" text-anchor="middle" transform="translate(610.2 252.2) scale(1 1.15) translate(-610.2 -252.2)">0.8</text>
<line x1="632.4" y1="256.9" x2="632.4" y2="255.2" stroke="#333" stroke-width="0.6"/>
<text x="632.4" y="252.2" font-size="8" fill="#111" text-anchor="middle" transform="translate(632.4 252.2) scale(1 1.15) translate(-632.4 -252.2)">0.7</text>
<line x1="654.7" y1="256.9" x2="654.7" y2="255.2" stroke="#333" stroke-width="0.6"/>
<text x="654.7" y="252.2" font-size="8" fill="#111" text-anchor="middle" transform="translate(654.7 252.2) scale(1 1.15) translate(-654.7 -252.2)">0.6</text>
<line x1="677" y1="256.9" x2="677" y2="255.2" stroke="#333" stroke-width="0.6"/>
<text x="677" y="252.2" font-size="8" fill="#111" text-anchor="middle" transform="translate(677 252.2) scale(1 1.15) translate(-677 -252.2)">0.5</text>
<text x="623.5" y="240.4" font-size="9.5" fill="#111" text-anchor="middle" transform="translate(623.5 240.4) scale(1 1.08) translate(-623.5 -240.4)">Onset potential (<tspan font-style="italic">vs</tspan> RHE)</text>
<line x1="584.2" y1="269.4" x2="584.2" y2="442.8" stroke="#d8d8d8" stroke-width="0.6"/>
<line x1="602.7" y1="269.4" x2="602.7" y2="442.8" stroke="#d8d8d8" stroke-width="0.6"/>
<line x1="621.3" y1="269.4" x2="621.3" y2="442.8" stroke="#d8d8d8" stroke-width="0.6"/>
<line x1="639.9" y1="269.4" x2="639.9" y2="442.8" stroke="#d8d8d8" stroke-width="0.6"/>
<line x1="658.4" y1="269.4" x2="658.4" y2="442.8" stroke="#d8d8d8" stroke-width="0.6"/>
<line x1="565.6" y1="312.8" x2="677" y2="312.8" stroke="#d8d8d8" stroke-width="0.6"/>
<line x1="565.6" y1="356.1" x2="677" y2="356.1" stroke="#d8d8d8" stroke-width="0.6"/>
<line x1="565.6" y1="399.4" x2="677" y2="399.4" stroke="#d8d8d8" stroke-width="0.6"/>
<line x1="621.5" y1="269.4" x2="621.5" y2="442.8" stroke="#999" stroke-width="0.7"/>
<line x1="565.6" y1="356.5" x2="677" y2="356.5" stroke="#999" stroke-width="0.7"/>
<rect x="565.5" y="269.5" width="112" height="173" fill="none" stroke="#444" stroke-width="1"/>
<line x1="565.5" y1="442.8" x2="565.5" y2="445.3" stroke="#333" stroke-width="0.8"/>
<text x="565.6" y="455" font-size="8" fill="#111" text-anchor="middle" transform="translate(565.6 455) scale(1 1.15) translate(-565.6 -455)">-3</text>
<line x1="584.5" y1="442.8" x2="584.5" y2="445.3" stroke="#333" stroke-width="0.8"/>
<text x="584.2" y="455" font-size="8" fill="#111" text-anchor="middle" transform="translate(584.2 455) scale(1 1.15) translate(-584.2 -455)">-2</text>
<line x1="602.5" y1="442.8" x2="602.5" y2="445.3" stroke="#333" stroke-width="0.8"/>
<text x="602.7" y="455" font-size="8" fill="#111" text-anchor="middle" transform="translate(602.7 455) scale(1 1.15) translate(-602.7 -455)">-1</text>
<line x1="621.5" y1="442.8" x2="621.5" y2="445.3" stroke="#333" stroke-width="0.8"/>
<text x="621.3" y="455" font-size="8" fill="#111" text-anchor="middle" transform="translate(621.3 455) scale(1 1.15) translate(-621.3 -455)">0</text>
<line x1="639.5" y1="442.8" x2="639.5" y2="445.3" stroke="#333" stroke-width="0.8"/>
<text x="639.9" y="455" font-size="8" fill="#111" text-anchor="middle" transform="translate(639.9 455) scale(1 1.15) translate(-639.9 -455)">1</text>
<line x1="658.5" y1="442.8" x2="658.5" y2="445.3" stroke="#333" stroke-width="0.8"/>
<text x="658.4" y="455" font-size="8" fill="#111" text-anchor="middle" transform="translate(658.4 455) scale(1 1.15) translate(-658.4 -455)">2</text>
<line x1="677.5" y1="442.8" x2="677.5" y2="445.3" stroke="#333" stroke-width="0.8"/>
<text x="677" y="455" font-size="8" fill="#111" text-anchor="middle" transform="translate(677 455) scale(1 1.15) translate(-677 -455)">3</text>
<line x1="563.1" y1="269.5" x2="565.6" y2="269.5" stroke="#333" stroke-width="0.8"/>
<text x="561.1" y="271.7" font-size="8" fill="#111" text-anchor="end" transform="translate(561.1 271.7) scale(1 1.15) translate(-561.1 -271.7)">2</text>
<line x1="563.1" y1="312.5" x2="565.6" y2="312.5" stroke="#333" stroke-width="0.8"/>
<text x="561.1" y="315.1" font-size="8" fill="#111" text-anchor="end" transform="translate(561.1 315.1) scale(1 1.15) translate(-561.1 -315.1)">1</text>
<line x1="563.1" y1="356.5" x2="565.6" y2="356.5" stroke="#333" stroke-width="0.8"/>
<text x="561.1" y="358.4" font-size="8" fill="#111" text-anchor="end" transform="translate(561.1 358.4) scale(1 1.15) translate(-561.1 -358.4)">0</text>
<line x1="563.1" y1="399.5" x2="565.6" y2="399.5" stroke="#333" stroke-width="0.8"/>
<text x="561.1" y="401.8" font-size="8" fill="#111" text-anchor="end" transform="translate(561.1 401.8) scale(1 1.15) translate(-561.1 -401.8)">-1</text>
<line x1="563.1" y1="442.5" x2="565.6" y2="442.5" stroke="#333" stroke-width="0.8"/>
<text x="561.1" y="445.1" font-size="8" fill="#111" text-anchor="end" transform="translate(561.1 445.1) scale(1 1.15) translate(-561.1 -445.1)">-2</text>
<text x="621.3" y="469.2" font-size="9" fill="#111" text-anchor="middle" transform="translate(621.3 469.2) scale(1 1.08) translate(-621.3 -469.2)">PLS Component 1 (83%)</text>
<text x="548" y="356.1" font-size="9" fill="#111" text-anchor="middle" transform="translate(548 356.1) rotate(-90) scale(1 1.08) translate(-548 -356.1)">PLS Component 2 (13%)</text>
<circle cx="655" cy="297.2" r="2.9" fill="none" stroke="#f6c6b0" stroke-width="0.8"/>
<circle cx="648.7" cy="325.5" r="2.9" fill="none" stroke="#f7d0c0" stroke-width="0.8"/>
<circle cx="658.6" cy="341.2" r="2.9" fill="none" stroke="#f6c6b0" stroke-width="0.8"/>
<circle cx="667.4" cy="364.6" r="2.9" fill="none" stroke="#f6c0a8" stroke-width="0.8"/>
<circle cx="609" cy="357.7" r="2.9" fill="none" stroke="#eee" stroke-width="0.8"/>
<circle cx="628.3" cy="364" r="2.9" fill="none" stroke="#cfe2ee" stroke-width="0.8"/>
<circle cx="632.1" cy="372.9" r="2.9" fill="none" stroke="#c6dded" stroke-width="0.8"/>
<circle cx="634.3" cy="380.3" r="2.9" fill="none" stroke="#cfe2ee" stroke-width="0.8"/>
<circle cx="611" cy="403.2" r="2.9" fill="none" stroke="#c0daeb" stroke-width="0.8"/>
<circle cx="603.5" cy="414.2" r="2.9" fill="none" stroke="#c6dded" stroke-width="0.8"/>
<circle cx="556" cy="321.5" r="2.9" fill="none" stroke="#c6dded" stroke-width="0.8"/>
<circle cx="556" cy="330" r="2.9" fill="none" stroke="#c6dded" stroke-width="0.8"/>
<line x1="621.3" y1="356.1" x2="610.4" y2="296.9" stroke="#3a78c0" stroke-width="0.9"/>
<path d="M609.6 292.5L612.2 296.6L610.3 296.1L608.6 297.3Z" stroke="none" stroke-width="1" fill="#3a78c0"/>
<line x1="621.3" y1="356.1" x2="652.2" y2="317.2" stroke="#c0285c" stroke-width="0.9"/>
<path d="M655 313.7L653.6 318.3L652.7 316.6L650.8 316.1Z" stroke="none" stroke-width="1" fill="#c0285c"/>
<line x1="621.3" y1="356.1" x2="654.3" y2="367.3" stroke="#c0285c" stroke-width="0.9"/>
<path d="M658.6 368.8L653.8 369.1L655.1 367.6L654.9 365.6Z" stroke="none" stroke-width="1" fill="#c0285c"/>
<line x1="621.3" y1="356.1" x2="653.8" y2="374.8" stroke="#3a78c0" stroke-width="0.9"/>
<path d="M657.7 377L652.9 376.3L654.5 375.2L654.7 373.2Z" stroke="none" stroke-width="1" fill="#3a78c0"/>
<line x1="621.3" y1="356.1" x2="605.4" y2="363.6" stroke="#3a78c0" stroke-width="0.9"/>
<path d="M601.3 365.5L604.6 362L604.6 363.9L606.1 365.2Z" stroke="none" stroke-width="1" fill="#3a78c0"/>
<text x="575.1" y="294.7" font-size="8.3" fill="#3a78c0" transform="translate(575.1 294.7) scale(1 1.15) translate(-575.1 -294.7)"><tspan font-style="italic">sp</tspan><tspan font-size="5" dy="-3">3</tspan><tspan dy="3" font-style="italic"> C-C</tspan></text>
<text x="628.8" y="312" font-size="8.3" fill="#c0285c" transform="translate(628.8 312) scale(1 1.15) translate(-628.8 -312)">(<tspan font-style="italic">I</tspan><tspan font-size="5" dy="1.5">D</tspan><tspan dy="-1.5">/</tspan><tspan font-style="italic">I</tspan><tspan font-size="5" dy="1.5">G</tspan><tspan dy="-1.5">)</tspan><tspan font-size="5" dy="-3">1/2</tspan><tspan dy="3"></tspan></text>
<text x="630.2" y="356" font-size="8.3" fill="#c0285c" transform="translate(630.2 356) scale(1 1.15) translate(-630.2 -356)">(<tspan font-style="italic">I</tspan><tspan font-size="5" dy="1.5">D</tspan><tspan dy="-1.5">/</tspan><tspan font-style="italic">I</tspan><tspan font-size="5" dy="1.5">G</tspan><tspan dy="-1.5">)</tspan><tspan font-size="5" dy="-3">1/2</tspan><tspan dy="3">×O</tspan></text>
<text x="568.8" y="369.6" font-size="8.3" fill="#3a78c0" transform="translate(568.8 369.6) scale(1 1.15) translate(-568.8 -369.6)"><tspan font-style="italic">sp</tspan><tspan font-size="5" dy="-3">2</tspan><tspan dy="3" font-style="italic"> C=C</tspan></text>
<text x="637.6" y="387.4" font-size="8.3" fill="#3a78c0" transform="translate(637.6 387.4) scale(1 1.15) translate(-637.6 -387.4)"><tspan font-style="italic">C-O+C=O</tspan></text>
<text x="542.4" y="226.5" font-size="16" fill="#111" transform="translate(542.4 226.5) scale(1 1.0) translate(-542.4 -226.5)">j</text>
<rect x="33.5" y="481.5" width="163" height="172" fill="none" stroke="#444" stroke-width="1"/>
<line x1="31.2" y1="488.5" x2="33.7" y2="488.5" stroke="#333" stroke-width="0.8"/>
<text x="29.7" y="491" font-size="8" fill="#111" text-anchor="end" transform="translate(29.7 491) scale(1 1.15) translate(-29.7 -491)">0.4</text>
<line x1="31.2" y1="518.5" x2="33.7" y2="518.5" stroke="#333" stroke-width="0.8"/>
<text x="29.7" y="520.9" font-size="8" fill="#111" text-anchor="end" transform="translate(29.7 520.9) scale(1 1.15) translate(-29.7 -520.9)">0.2</text>
<line x1="31.2" y1="548.5" x2="33.7" y2="548.5" stroke="#333" stroke-width="0.8"/>
<text x="29.7" y="550.8" font-size="8" fill="#111" text-anchor="end" transform="translate(29.7 550.8) scale(1 1.15) translate(-29.7 -550.8)">0.0</text>
<line x1="31.2" y1="578.5" x2="33.7" y2="578.5" stroke="#333" stroke-width="0.8"/>
<text x="29.7" y="580.7" font-size="8" fill="#111" text-anchor="end" transform="translate(29.7 580.7) scale(1 1.15) translate(-29.7 -580.7)">-0.2</text>
<line x1="31.2" y1="608.5" x2="33.7" y2="608.5" stroke="#333" stroke-width="0.8"/>
<text x="29.7" y="610.6" font-size="8" fill="#111" text-anchor="end" transform="translate(29.7 610.6) scale(1 1.15) translate(-29.7 -610.6)">-0.4</text>
<line x1="31.2" y1="638.5" x2="33.7" y2="638.5" stroke="#333" stroke-width="0.8"/>
<text x="29.7" y="640.6" font-size="8" fill="#111" text-anchor="end" transform="translate(29.7 640.6) scale(1 1.15) translate(-29.7 -640.6)">-0.6</text>
<line x1="45.5" y1="653.4" x2="45.5" y2="655.9" stroke="#333" stroke-width="0.8"/>
<text x="45.6" y="665.5" font-size="8" fill="#111" text-anchor="middle" transform="translate(45.6 665.5) scale(1 1.15) translate(-45.6 -665.5)">0.2</text>
<line x1="95.5" y1="653.4" x2="95.5" y2="655.9" stroke="#333" stroke-width="0.8"/>
<text x="95.9" y="665.5" font-size="8" fill="#111" text-anchor="middle" transform="translate(95.9 665.5) scale(1 1.15) translate(-95.9 -665.5)">0.4</text>
<line x1="146.5" y1="653.4" x2="146.5" y2="655.9" stroke="#333" stroke-width="0.8"/>
<text x="146.2" y="665.5" font-size="8" fill="#111" text-anchor="middle" transform="translate(146.2 665.5) scale(1 1.15) translate(-146.2 -665.5)">0.6</text>
<line x1="196.5" y1="653.4" x2="196.5" y2="655.9" stroke="#333" stroke-width="0.8"/>
<text x="196.5" y="665.5" font-size="8" fill="#111" text-anchor="middle" transform="translate(196.5 665.5) scale(1 1.15) translate(-196.5 -665.5)">0.8</text>
<text x="115.3" y="680" font-size="9" fill="#111" text-anchor="middle" transform="translate(115.3 680) scale(1 1.08) translate(-115.3 -680)">Potential (V vs RHE)</text>
<text x="7.3" y="563" font-size="9" fill="#111" text-anchor="middle" transform="translate(7.3 563) rotate(-90) scale(1 1.08) translate(-7.3 -563)">Current (mA)</text>
<text x="14.5" y="482" font-size="16" fill="#111" transform="translate(14.5 482) scale(1 1.0) translate(-14.5 -482)">g</text>
<text x="124.6" y="494.8" font-size="9" fill="#111" transform="translate(124.6 494.8) scale(1 1.08) translate(-124.6 -494.8)"><tspan font-style="italic">m</tspan> =0.08 mg cm<tspan font-size="5.5" dy="-3">-2</tspan></text>
<text x="186.3" y="631" font-size="7.8" fill="#111" text-anchor="end" transform="translate(186.3 631) scale(1 1.15) translate(-186.3 -631)">0.1M KOH</text>
<text x="186.3" y="645.8" font-size="7.8" fill="#111" text-anchor="end" transform="translate(186.3 645.8) scale(1 1.15) translate(-186.3 -645.8)">1600 rpm</text>
<path d="M37 633.8 L38 633.4 L39 633 L40 632.6 L41 632.2 L42 631.8 L43 631.3 L44 630.9 L45 630.5 L46 630.1 L47 629.7 L48 629.4 L49 629 L50 628.6 L51 628.2 L52 627.8 L53 627.5 L54 627.1 L55 626.7 L56 626.4 L57 626 L58 625.7 L59 625.3 L60 625 L61 624.7 L62 624.4 L63 624.1 L64 623.8 L65 623.5 L66 623.2 L67 622.9 L68 622.6 L69 622.3 L70 622.1 L71 621.8 L72 621.6 L73 621.3 L74 621.1 L75 620.9 L76 620.6 L77 620.4 L78 620.2 L79 620 L80 619.8 L81 619.6 L82 619.5 L83 619.3 L84 619.1 L85 619 L86 618.8 L87 618.6 L88 618.5 L89 618.3 L90 618.1 L91 618 L92 617.8 L93 617.6 L94 617.5 L95 617.3 L96 617.1 L97 616.9 L98 616.7 L99 616.4 L100 616.2 L101 616 L102 615.7 L103 615.4 L104 615.1 L105 614.8 L106 614.5 L107 614.1 L108 613.8 L109 613.4 L110 612.9 L111 612.4 L112 611.9 L113 611.4 L114 610.8 L115 610.2 L116 609.5 L117 608.8 L118 608.1 L119 607.2 L120 606.4 L121 605.5 L122 604.5 L123 603.5 L124 602.4 L125 601.3 L126 600.2 L127 599 L128 597.8 L129 596.6 L130 595.3 L131 594 L132 592.6 L133 591.3 L134 589.9 L135 588.5 L136 587 L137 585.6 L138 584.1 L139 582.7 L140 581.2 L141 579.8 L142 578.3 L143 576.8 L144 575.4 L145 574 L146 572.6 L147 571.2 L148 569.8 L149 568.5 L150 567.2 L151 565.9 L152 564.7 L153 563.5 L154 562.4 L155 561.3 L156 560.2 L157 559.2 L158 558.3 L159 557.4 L160 556.5 L161 555.7 L162 554.9 L163 554.2 L164 553.6 L165 553 L166 552.5 L167 552 L168 551.6 L169 551.3 L170 550.9 L171 550.6 L172 550.4 L173 550.2 L174 550 L175 549.8 L176 549.7 L177 549.6 L178 549.5 L179 549.4 L180 549.3 L181 549.2 L182 549.2 L183 549.1 L184 549.1 L185 549 L186 549 L187 549 L188 549 L189 548.9 L190 548.9 L191 548.9 L192 548.9 L193 548.9 L194 548.9 L195 548.9 L196 548.9" stroke="#66b8c0" stroke-width="1" fill="none"/>
<path d="M37 645.5 L38 645.1 L39 644.7 L40 644.2 L41 643.8 L42 643.4 L43 643 L44 642.6 L45 642.2 L46 641.8 L47 641.3 L48 640.9 L49 640.5 L50 640.1 L51 639.7 L52 639.3 L53 638.9 L54 638.6 L55 638.2 L56 637.8 L57 637.4 L58 637 L59 636.7 L60 636.3 L61 636 L62 635.6 L63 635.3 L64 634.9 L65 634.6 L66 634.3 L67 633.9 L68 633.6 L69 633.3 L70 633 L71 632.7 L72 632.4 L73 632.2 L74 631.9 L75 631.7 L76 631.4 L77 631.2 L78 631 L79 630.8 L80 630.6 L81 630.4 L82 630.2 L83 630 L84 629.9 L85 629.8 L86 629.6 L87 629.5 L88 629.4 L89 629.3 L90 629.2 L91 629.2 L92 629.1 L93 629 L94 629 L95 628.9 L96 628.8 L97 628.7 L98 628.7 L99 628.6 L100 628.5 L101 628.4 L102 628.3 L103 628.2 L104 628.1 L105 627.9 L106 627.8 L107 627.6 L108 627.4 L109 627.2 L110 627 L111 626.7 L112 626.5 L113 626.2 L114 625.9 L115 625.6 L116 625.3 L117 625 L118 624.6 L119 624.3 L120 623.9 L121 623.5 L122 623 L123 622.6 L124 622.1 L125 621.6 L126 621 L127 620.4 L128 619.8 L129 619.1 L130 618.4 L131 617.5 L132 616.7 L133 615.7 L134 614.7 L135 613.6 L136 612.5 L137 611.3 L138 610 L139 608.7 L140 607.3 L141 605.8 L142 604.2 L143 602.6 L144 601 L145 599.2 L146 597.4 L147 595.5 L148 593.6 L149 591.7 L150 589.7 L151 587.7 L152 585.7 L153 583.8 L154 581.8 L155 579.8 L156 577.9 L157 576 L158 574.1 L159 572.3 L160 570.6 L161 568.9 L162 567.3 L163 565.8 L164 564.3 L165 562.9 L166 561.5 L167 560.3 L168 559.1 L169 558 L170 556.9 L171 556 L172 555.1 L173 554.3 L174 553.5 L175 552.9 L176 552.3 L177 551.8 L178 551.4 L179 551 L180 550.7 L181 550.4 L182 550.2 L183 550 L184 549.9 L185 549.7 L186 549.6 L187 549.5 L188 549.4 L189 549.4 L190 549.3 L191 549.2 L192 549.2 L193 549.1 L194 549 L195 549 L196 548.9" stroke="#3a78c0" stroke-width="1" fill="none"/>
<path d="M37 645.5 L38 645 L39 644.6 L40 644.1 L41 643.6 L42 643.1 L43 642.7 L44 642.2 L45 641.7 L46 641.3 L47 640.8 L48 640.3 L49 639.9 L50 639.4 L51 639 L52 638.6 L53 638.1 L54 637.7 L55 637.3 L56 636.8 L57 636.4 L58 636 L59 635.6 L60 635.2 L61 634.8 L62 634.4 L63 634 L64 633.7 L65 633.3 L66 632.9 L67 632.6 L68 632.3 L69 631.9 L70 631.6 L71 631.3 L72 631 L73 630.7 L74 630.4 L75 630.1 L76 629.9 L77 629.6 L78 629.4 L79 629.1 L80 628.9 L81 628.7 L82 628.5 L83 628.3 L84 628.1 L85 627.9 L86 627.8 L87 627.6 L88 627.5 L89 627.3 L90 627.2 L91 627.1 L92 627 L93 626.9 L94 626.7 L95 626.6 L96 626.5 L97 626.4 L98 626.3 L99 626.2 L100 626.1 L101 626 L102 625.9 L103 625.8 L104 625.7 L105 625.5 L106 625.4 L107 625.2 L108 625.1 L109 624.9 L110 624.8 L111 624.6 L112 624.4 L113 624.2 L114 623.9 L115 623.7 L116 623.4 L117 623.2 L118 622.9 L119 622.6 L120 622.2 L121 621.9 L122 621.5 L123 621.1 L124 620.7 L125 620.3 L126 619.8 L127 619.3 L128 618.8 L129 618.3 L130 617.7 L131 617.2 L132 616.6 L133 615.9 L134 615.3 L135 614.6 L136 613.9 L137 613.1 L138 612.3 L139 611.5 L140 610.7 L141 609.8 L142 609 L143 608 L144 607.1 L145 606.1 L146 605.1 L147 604.1 L148 603 L149 601.9 L150 600.8 L151 599.6 L152 598.4 L153 597.2 L154 596 L155 594.7 L156 593.4 L157 592.1 L158 590.8 L159 589.4 L160 588 L161 586.6 L162 585.2 L163 583.7 L164 582.2 L165 580.8 L166 579.3 L167 577.8 L168 576.3 L169 574.9 L170 573.4 L171 572 L172 570.6 L173 569.2 L174 567.9 L175 566.6 L176 565.3 L177 564.1 L178 562.9 L179 561.8 L180 560.8 L181 559.8 L182 558.8 L183 557.9 L184 557.1 L185 556.3 L186 555.5 L187 554.8 L188 554.1 L189 553.5 L190 552.9 L191 552.4 L192 551.8 L193 551.4 L194 550.9 L195 550.4 L196 550" stroke="#c0285c" stroke-width="1" fill="none"/>
<path d="M37 494.1 L38 494.1 L39 494.2 L40 494.2 L41 494.3 L42 494.4 L43 494.4 L44 494.5 L45 494.5 L46 494.6 L47 494.6 L48 494.7 L49 494.7 L50 494.8 L51 494.9 L52 494.9 L53 495 L54 495 L55 495.1 L56 495.2 L57 495.2 L58 495.3 L59 495.3 L60 495.4 L61 495.5 L62 495.5 L63 495.6 L64 495.6 L65 495.7 L66 495.8 L67 495.8 L68 495.9 L69 496 L70 496.1 L71 496.1 L72 496.2 L73 496.3 L74 496.3 L75 496.4 L76 496.5 L77 496.6 L78 496.7 L79 496.8 L80 496.8 L81 496.9 L82 497 L83 497.1 L84 497.2 L85 497.3 L86 497.4 L87 497.5 L88 497.7 L89 497.8 L90 497.9 L91 498 L92 498.2 L93 498.3 L94 498.5 L95 498.6 L96 498.8 L97 499 L98 499.1 L99 499.3 L100 499.5 L101 499.7 L102 500 L103 500.2 L104 500.4 L105 500.7 L106 501 L107 501.2 L108 501.6 L109 501.9 L110 502.2 L111 502.6 L112 502.9 L113 503.3 L114 503.7 L115 504.2 L116 504.6 L117 505.1 L118 505.6 L119 506.1 L120 506.7 L121 507.2 L122 507.8 L123 508.4 L124 509.1 L125 509.7 L126 510.4 L127 511.2 L128 511.9 L129 512.7 L130 513.4 L131 514.2 L132 515.1 L133 515.9 L134 516.7 L135 517.6 L136 518.5 L137 519.4 L138 520.2 L139 521.1 L140 522 L141 522.9 L142 523.8 L143 524.7 L144 525.5 L145 526.4 L146 527.2 L147 528.1 L148 528.9 L149 529.7 L150 530.5 L151 531.2 L152 531.9 L153 532.6 L154 533.3 L155 534 L156 534.6 L157 535.2 L158 535.8 L159 536.3 L160 536.8 L161 537.3 L162 537.8 L163 538.2 L164 538.7 L165 539 L166 539.4 L167 539.8 L168 540.1 L169 540.4 L170 540.7 L171 541 L172 541.3 L173 541.5 L174 541.7 L175 541.9 L176 542.1 L177 542.3 L178 542.5 L179 542.7 L180 542.8 L181 542.9 L182 543.1 L183 543.2 L184 543.3 L185 543.4 L186 543.5 L187 543.6 L188 543.7 L189 543.8 L190 543.8 L191 543.9 L192 544 L193 544 L194 544.1 L195 544.1 L196 544.2" stroke="#66b8c0" stroke-width="1" fill="none" stroke-dasharray="2.6 1.8"/>
<path d="M37 494 L38 494 L39 494 L40 494 L41 494 L42 494 L43 494 L44 494 L45 494 L46 494 L47 494 L48 494 L49 494 L50 494 L51 494 L52 494 L53 494 L54 494 L55 494 L56 494.1 L57 494.1 L58 494.1 L59 494.1 L60 494.1 L61 494.1 L62 494.1 L63 494.1 L64 494.1 L65 494.1 L66 494.1 L67 494.1 L68 494.1 L69 494.1 L70 494.1 L71 494.1 L72 494.1 L73 494.1 L74 494.1 L75 494.1 L76 494.1 L77 494.1 L78 494.1 L79 494.1 L80 494.1 L81 494.1 L82 494.1 L83 494.1 L84 494.1 L85 494.1 L86 494.1 L87 494.1 L88 494.2 L89 494.2 L90 494.2 L91 494.2 L92 494.2 L93 494.2 L94 494.2 L95 494.3 L96 494.3 L97 494.3 L98 494.3 L99 494.4 L100 494.4 L101 494.4 L102 494.5 L103 494.5 L104 494.6 L105 494.6 L106 494.7 L107 494.7 L108 494.8 L109 494.9 L110 495 L111 495.1 L112 495.2 L113 495.3 L114 495.4 L115 495.6 L116 495.7 L117 495.9 L118 496.1 L119 496.3 L120 496.5 L121 496.7 L122 497 L123 497.3 L124 497.6 L125 498 L126 498.3 L127 498.7 L128 499.2 L129 499.7 L130 500.2 L131 500.7 L132 501.3 L133 502 L134 502.7 L135 503.4 L136 504.2 L137 505 L138 505.9 L139 506.8 L140 507.8 L141 508.8 L142 509.8 L143 511 L144 512.1 L145 513.3 L146 514.5 L147 515.7 L148 516.9 L149 518.2 L150 519.4 L151 520.7 L152 521.9 L153 523.2 L154 524.4 L155 525.6 L156 526.8 L157 527.9 L158 529 L159 530.1 L160 531.1 L161 532.1 L162 533 L163 533.9 L164 534.7 L165 535.5 L166 536.2 L167 536.9 L168 537.5 L169 538.1 L170 538.7 L171 539.2 L172 539.7 L173 540.1 L174 540.5 L175 540.9 L176 541.2 L177 541.5 L178 541.8 L179 542.1 L180 542.3 L181 542.5 L182 542.7 L183 542.9 L184 543.1 L185 543.2 L186 543.4 L187 543.5 L188 543.6 L189 543.7 L190 543.8 L191 543.9 L192 544 L193 544.1 L194 544.1 L195 544.2 L196 544.2" stroke="#3a78c0" stroke-width="1" fill="none" stroke-dasharray="2.6 1.8"/>
<path d="M37 506.2 L38 506.2 L39 506.2 L40 506.2 L41 506.2 L42 506.2 L43 506.2 L44 506.2 L45 506.2 L46 506.2 L47 506.2 L48 506.2 L49 506.2 L50 506.2 L51 506.2 L52 506.2 L53 506.2 L54 506.2 L55 506.2 L56 506.2 L57 506.2 L58 506.2 L59 506.2 L60 506.2 L61 506.2 L62 506.2 L63 506.2 L64 506.2 L65 506.2 L66 506.2 L67 506.2 L68 506.2 L69 506.2 L70 506.2 L71 506.2 L72 506.2 L73 506.2 L74 506.2 L75 506.2 L76 506.2 L77 506.2 L78 506.2 L79 506.2 L80 506.3 L81 506.3 L82 506.3 L83 506.3 L84 506.3 L85 506.3 L86 506.3 L87 506.3 L88 506.3 L89 506.3 L90 506.4 L91 506.4 L92 506.4 L93 506.4 L94 506.4 L95 506.4 L96 506.5 L97 506.5 L98 506.5 L99 506.5 L100 506.6 L101 506.6 L102 506.6 L103 506.7 L104 506.7 L105 506.8 L106 506.8 L107 506.9 L108 506.9 L109 507 L110 507 L111 507.1 L112 507.2 L113 507.3 L114 507.3 L115 507.4 L116 507.5 L117 507.6 L118 507.7 L119 507.9 L120 508 L121 508.1 L122 508.3 L123 508.4 L124 508.6 L125 508.8 L126 509 L127 509.2 L128 509.4 L129 509.6 L130 509.9 L131 510.1 L132 510.4 L133 510.7 L134 511 L135 511.4 L136 511.7 L137 512.1 L138 512.5 L139 512.9 L140 513.4 L141 513.8 L142 514.3 L143 514.8 L144 515.3 L145 515.9 L146 516.4 L147 517 L148 517.6 L149 518.2 L150 518.9 L151 519.6 L152 520.2 L153 520.9 L154 521.6 L155 522.3 L156 523.1 L157 523.8 L158 524.5 L159 525.3 L160 526 L161 526.7 L162 527.5 L163 528.2 L164 528.9 L165 529.6 L166 530.3 L167 531 L168 531.7 L169 532.3 L170 533 L171 533.6 L172 534.2 L173 534.7 L174 535.3 L175 535.8 L176 536.4 L177 536.8 L178 537.3 L179 537.8 L180 538.2 L181 538.6 L182 539 L183 539.3 L184 539.7 L185 540 L186 540.3 L187 540.6 L188 540.9 L189 541.2 L190 541.4 L191 541.6 L192 541.8 L193 542 L194 542.2 L195 542.4 L196 542.6" stroke="#c0285c" stroke-width="1" fill="none" stroke-dasharray="2.6 1.8"/>
<line x1="34.7" y1="520.7" x2="54.6" y2="520.7" stroke="#66b8c0" stroke-width="1" stroke-dasharray="2.6 1.8"/>
<line x1="56.2" y1="520.5" x2="73.9" y2="520.5" stroke="#66b8c0" stroke-width="1"/>
<text x="76.4" y="523.7" font-size="8.2" fill="#66b8c0" transform="translate(76.4 523.7) scale(1 1.15) translate(-76.4 -523.7)">CS-low</text>
<line x1="34.7" y1="531" x2="54.6" y2="531" stroke="#3a78c0" stroke-width="1" stroke-dasharray="2.6 1.8"/>
<line x1="56.2" y1="531.5" x2="73.9" y2="531.5" stroke="#3a78c0" stroke-width="1"/>
<text x="76.4" y="534" font-size="8.2" fill="#3a78c0" transform="translate(76.4 534) scale(1 1.15) translate(-76.4 -534)">CS-middle</text>
<line x1="34.7" y1="541.3" x2="54.6" y2="541.3" stroke="#c0285c" stroke-width="1" stroke-dasharray="2.6 1.8"/>
<line x1="56.2" y1="541.5" x2="73.9" y2="541.5" stroke="#c0285c" stroke-width="1"/>
<text x="76.4" y="544.3" font-size="8.2" fill="#c0285c" transform="translate(76.4 544.3) scale(1 1.15) translate(-76.4 -544.3)">CS-top</text>
<rect x="234.5" y="481.5" width="153" height="172" fill="none" stroke="#444" stroke-width="1"/>
<line x1="232.2" y1="653.5" x2="234.7" y2="653.5" stroke="#333" stroke-width="0.8"/>
<text x="230.7" y="656" font-size="8" fill="#111" text-anchor="end" transform="translate(230.7 656) scale(1 1.15) translate(-230.7 -656)">40</text>
<line x1="232.2" y1="624.5" x2="234.7" y2="624.5" stroke="#333" stroke-width="0.8"/>
<text x="230.7" y="627.3" font-size="8" fill="#111" text-anchor="end" transform="translate(230.7 627.3) scale(1 1.15) translate(-230.7 -627.3)">50</text>
<line x1="232.2" y1="596.5" x2="234.7" y2="596.5" stroke="#333" stroke-width="0.8"/>
<text x="230.7" y="598.5" font-size="8" fill="#111" text-anchor="end" transform="translate(230.7 598.5) scale(1 1.15) translate(-230.7 -598.5)">60</text>
<line x1="232.2" y1="567.5" x2="234.7" y2="567.5" stroke="#333" stroke-width="0.8"/>
<text x="230.7" y="569.8" font-size="8" fill="#111" text-anchor="end" transform="translate(230.7 569.8) scale(1 1.15) translate(-230.7 -569.8)">70</text>
<line x1="232.2" y1="538.5" x2="234.7" y2="538.5" stroke="#333" stroke-width="0.8"/>
<text x="230.7" y="541.1" font-size="8" fill="#111" text-anchor="end" transform="translate(230.7 541.1) scale(1 1.15) translate(-230.7 -541.1)">80</text>
<line x1="232.2" y1="510.5" x2="234.7" y2="510.5" stroke="#333" stroke-width="0.8"/>
<text x="230.7" y="512.4" font-size="8" fill="#111" text-anchor="end" transform="translate(230.7 512.4) scale(1 1.15) translate(-230.7 -512.4)">90</text>
<line x1="232.2" y1="481.5" x2="234.7" y2="481.5" stroke="#333" stroke-width="0.8"/>
<text x="230.7" y="483.7" font-size="8" fill="#111" text-anchor="end" transform="translate(230.7 483.7) scale(1 1.15) translate(-230.7 -483.7)">100</text>
<line x1="239.5" y1="653.7" x2="239.5" y2="656.2" stroke="#333" stroke-width="0.8"/>
<text x="239.2" y="665.5" font-size="8" fill="#111" text-anchor="middle" transform="translate(239.2 665.5) scale(1 1.15) translate(-239.2 -665.5)">0.2</text>
<line x1="275.5" y1="653.7" x2="275.5" y2="656.2" stroke="#333" stroke-width="0.8"/>
<text x="275.1" y="665.5" font-size="8" fill="#111" text-anchor="middle" transform="translate(275.1 665.5) scale(1 1.15) translate(-275.1 -665.5)">0.3</text>
<line x1="311.5" y1="653.7" x2="311.5" y2="656.2" stroke="#333" stroke-width="0.8"/>
<text x="311.1" y="665.5" font-size="8" fill="#111" text-anchor="middle" transform="translate(311.1 665.5) scale(1 1.15) translate(-311.1 -665.5)">0.4</text>
<line x1="347.5" y1="653.7" x2="347.5" y2="656.2" stroke="#333" stroke-width="0.8"/>
<text x="347" y="665.5" font-size="8" fill="#111" text-anchor="middle" transform="translate(347 665.5) scale(1 1.15) translate(-347 -665.5)">0.5</text>
<line x1="383.5" y1="653.7" x2="383.5" y2="656.2" stroke="#333" stroke-width="0.8"/>
<text x="383" y="665.5" font-size="8" fill="#111" text-anchor="middle" transform="translate(383 665.5) scale(1 1.15) translate(-383 -665.5)">0.6</text>
<text x="310.8" y="680" font-size="9" fill="#111" text-anchor="middle" transform="translate(310.8 680) scale(1 1.08) translate(-310.8 -680)">Potential (V vs RHE)</text>
<text x="212.6" y="566.3" font-size="9" fill="#111" text-anchor="middle" transform="translate(212.6 566.3) rotate(-90) scale(1 1.08) translate(-212.6 -566.3)">2e<tspan font-size="5.5" dy="-3">-</tspan><tspan dy="3"> selectivity (%)</tspan></text>
<text x="206.5" y="481" font-size="16" fill="#111" transform="translate(206.5 481) scale(1 1.0) translate(-206.5 -481)">h</text>
<text x="318.8" y="502" font-size="9" fill="#111" transform="translate(318.8 502) scale(1 1.08) translate(-318.8 -502)"><tspan font-style="italic">m</tspan> =0.08 mg cm<tspan font-size="5.5" dy="-3">-2</tspan></text>
<radialGradient id="bt" cx="0.35" cy="0.3" r="0.75"><stop offset="0" stop-color="#e8f4f5"/><stop offset="0.35" stop-color="#7cc4cc"/><stop offset="1" stop-color="#3a8f9c"/></radialGradient>
<radialGradient id="bb" cx="0.35" cy="0.3" r="0.75"><stop offset="0" stop-color="#d8e6f5"/><stop offset="0.35" stop-color="#3c7cc4"/><stop offset="1" stop-color="#1d4e8c"/></radialGradient>
<radialGradient id="bc" cx="0.35" cy="0.3" r="0.75"><stop offset="0" stop-color="#f5d8e0"/><stop offset="0.35" stop-color="#c8285a"/><stop offset="1" stop-color="#8c1038"/></radialGradient>
<circle cx="239.2" cy="542.3" r="3.5" fill="url(#bt)"/>
<circle cx="257.2" cy="537.4" r="3.5" fill="url(#bt)"/>
<circle cx="275.1" cy="535.2" r="3.5" fill="url(#bt)"/>
<circle cx="293.1" cy="532.6" r="3.5" fill="url(#bt)"/>
<circle cx="311.1" cy="531" r="3.5" fill="url(#bt)"/>
<circle cx="329.1" cy="528.4" r="3.5" fill="url(#bt)"/>
<circle cx="347" cy="527.2" r="3.5" fill="url(#bt)"/>
<circle cx="365" cy="524.6" r="3.5" fill="url(#bt)"/>
<circle cx="383" cy="515" r="3.5" fill="url(#bt)"/>
<circle cx="239.2" cy="555.1" r="3.5" fill="url(#bb)"/>
<circle cx="257.2" cy="548" r="3.5" fill="url(#bb)"/>
<circle cx="275.1" cy="542.6" r="3.5" fill="url(#bb)"/>
<circle cx="293.1" cy="540.3" r="3.5" fill="url(#bb)"/>
<circle cx="311.1" cy="537.1" r="3.5" fill="url(#bb)"/>
<circle cx="329.1" cy="533.9" r="3.5" fill="url(#bb)"/>
<circle cx="347" cy="532.3" r="3.5" fill="url(#bb)"/>
<circle cx="365" cy="530.4" r="3.5" fill="url(#bb)"/>
<circle cx="383" cy="526.5" r="3.5" fill="url(#bb)"/>
<circle cx="239.2" cy="587.2" r="3.5" fill="url(#bc)"/>
<circle cx="257.2" cy="581.4" r="3.5" fill="url(#bc)"/>
<circle cx="275.1" cy="576" r="3.5" fill="url(#bc)"/>
<circle cx="293.1" cy="570.2" r="3.5" fill="url(#bc)"/>
<circle cx="311.1" cy="565" r="3.5" fill="url(#bc)"/>
<circle cx="329.1" cy="558.6" r="3.5" fill="url(#bc)"/>
<circle cx="347" cy="557.7" r="3.5" fill="url(#bc)"/>
<circle cx="365" cy="556" r="3.5" fill="url(#bc)"/>
<circle cx="383" cy="552.9" r="3.5" fill="url(#bc)"/>
<circle cx="245.9" cy="608" r="3.5" fill="url(#bt)"/>
<text x="257.8" y="611" font-size="8.2" fill="#66b8c0" transform="translate(257.8 611) scale(1 1.15) translate(-257.8 -611)">CS-low</text>
<circle cx="245.9" cy="618.4" r="3.5" fill="url(#bb)"/>
<text x="257.8" y="621.4" font-size="8.2" fill="#3a78c0" transform="translate(257.8 621.4) scale(1 1.15) translate(-257.8 -621.4)">CS-middle</text>
<circle cx="245.9" cy="628.3" r="3.5" fill="url(#bc)"/>
<text x="257.8" y="631.3" font-size="8.2" fill="#c0285c" transform="translate(257.8 631.3) scale(1 1.15) translate(-257.8 -631.3)">CS-top</text>
<rect x="442.9" y="566" width="19.5" height="88.7" fill="#dedede"/>
<rect x="462.4" y="495.4" width="18.7" height="159.3" fill="#b5124a"/>
<rect x="490.7" y="622.3" width="18.7" height="32.4" fill="#dedede"/>
<rect x="509.4" y="622.3" width="18.7" height="32.4" fill="#b5124a"/>
<rect x="538.5" y="634.7" width="18.8" height="20" fill="#dedede"/>
<rect x="557.3" y="634.7" width="18.7" height="20" fill="#b5124a"/>
<rect x="585.1" y="641" width="18.8" height="13.7" fill="#dedede"/>
<rect x="603.9" y="641" width="18.7" height="13.7" fill="#b5124a"/>
<rect x="633" y="652.3" width="18.7" height="2.4" fill="#dedede"/>
<rect x="651.7" y="651.8" width="18.7" height="2.9" fill="#b5124a"/>
<rect x="435.3" y="542.2" width="243.1" height="2.9" fill="#fff"/>
<rect x="435.3" y="592.6" width="243.1" height="2.8" fill="#fff"/>
<path d="M438.3 482.9V542.2M438.3 545.1V592.6M438.3 595.4V654.7H675.4V595.4M675.4 592.6V545.1M675.4 542.2V482.9H438.3" fill="none" stroke="#333" stroke-width="1"/>
<line x1="434.8" y1="546.4" x2="441.8" y2="543.4" stroke="#333" stroke-width="0.8"/>
<line x1="434.8" y1="543.8" x2="441.8" y2="540.8" stroke="#333" stroke-width="0.8"/>
<line x1="671.9" y1="546.4" x2="678.9" y2="543.4" stroke="#333" stroke-width="0.8"/>
<line x1="671.9" y1="543.8" x2="678.9" y2="540.8" stroke="#333" stroke-width="0.8"/>
<line x1="434.8" y1="596.8" x2="441.8" y2="593.8" stroke="#333" stroke-width="0.8"/>
<line x1="434.8" y1="594.2" x2="441.8" y2="591.2" stroke="#333" stroke-width="0.8"/>
<line x1="671.9" y1="596.8" x2="678.9" y2="593.8" stroke="#333" stroke-width="0.8"/>
<line x1="671.9" y1="594.2" x2="678.9" y2="591.2" stroke="#333" stroke-width="0.8"/>
<line x1="435.8" y1="482.5" x2="438.3" y2="482.5" stroke="#333" stroke-width="0.8"/>
<text x="434.3" y="485.2" font-size="8" fill="#111" text-anchor="end" transform="translate(434.3 485.2) scale(1 1.15) translate(-434.3 -485.2)">10800</text>
<line x1="435.8" y1="512.5" x2="438.3" y2="512.5" stroke="#333" stroke-width="0.8"/>
<text x="434.3" y="514.3" font-size="8" fill="#111" text-anchor="end" transform="translate(434.3 514.3) scale(1 1.15) translate(-434.3 -514.3)">10775</text>
<line x1="435.8" y1="542.5" x2="438.3" y2="542.5" stroke="#333" stroke-width="0.8"/>
<text x="434.3" y="544.3" font-size="8" fill="#111" text-anchor="end" transform="translate(434.3 544.3) scale(1 1.15) translate(-434.3 -544.3)">10750</text>
<line x1="435.8" y1="556.5" x2="438.3" y2="556.5" stroke="#333" stroke-width="0.8"/>
<text x="434.3" y="558.8" font-size="8" fill="#111" text-anchor="end" transform="translate(434.3 558.8) scale(1 1.15) translate(-434.3 -558.8)">3240</text>
<line x1="435.8" y1="580.5" x2="438.3" y2="580.5" stroke="#333" stroke-width="0.8"/>
<text x="434.3" y="583" font-size="8" fill="#111" text-anchor="end" transform="translate(434.3 583) scale(1 1.15) translate(-434.3 -583)">3220</text>
<line x1="435.8" y1="625.5" x2="438.3" y2="625.5" stroke="#333" stroke-width="0.8"/>
<text x="434.3" y="627.5" font-size="8" fill="#111" text-anchor="end" transform="translate(434.3 627.5) scale(1 1.15) translate(-434.3 -627.5)">25</text>
<line x1="435.8" y1="654.5" x2="438.3" y2="654.5" stroke="#333" stroke-width="0.8"/>
<text x="434.3" y="657" font-size="8" fill="#111" text-anchor="end" transform="translate(434.3 657) scale(1 1.15) translate(-434.3 -657)">0</text>
<text x="409" y="564" font-size="9" fill="#111" text-anchor="middle" transform="translate(409 564) rotate(-90) scale(1 1.08) translate(-409 -564)"><tspan font-style="italic">F</tspan>-value</text>
<text x="401.5" y="481" font-size="16" fill="#111" transform="translate(401.5 481) scale(1 1.0) translate(-401.5 -481)">k</text>
<rect x="529" y="509" width="20" height="9.2" fill="#dedede"/>
<rect x="529" y="519.5" width="18.7" height="10" fill="#b5124a"/>
<text x="551.9" y="516.3" font-size="9" fill="#111" transform="translate(551.9 516.3) scale(1 1.08) translate(-551.9 -516.3)">2e<tspan font-size="5.5" dy="-3">-</tspan><tspan dy="3"> selectivity</tspan></text>
<text x="551.9" y="527.5" font-size="9" fill="#111" transform="translate(551.9 527.5) scale(1 1.08) translate(-551.9 -527.5)">Normalized onset potential</text>
<text x="445.8" y="581.6" font-size="8.3" fill="#111" transform="translate(445.8 581.6) scale(1 1.15) translate(-445.8 -581.6)"><tspan font-style="italic">P</tspan>&lt;0.001</text>
<text x="493.6" y="619" font-size="8.3" fill="#111" transform="translate(493.6 619) scale(1 1.15) translate(-493.6 -619)"><tspan font-style="italic">P</tspan>&lt;0.001</text>
<text x="541.5" y="632.8" font-size="8.3" fill="#111" transform="translate(541.5 632.8) scale(1 1.15) translate(-541.5 -632.8)"><tspan font-style="italic">P</tspan>&lt;0.05</text>
<text x="590.5" y="639" font-size="8.3" fill="#111" transform="translate(590.5 639) scale(1 1.15) translate(-590.5 -639)"><tspan font-style="italic">P</tspan>&lt;0.05</text>
<text x="640.5" y="649" font-size="8.3" fill="#111" transform="translate(640.5 649) scale(1 1.15) translate(-640.5 -649)"><tspan font-style="italic">P</tspan>&gt;0.05</text>
<text x="468" y="662" font-size="9.5" fill="#c0285c" text-anchor="end" transform="translate(468 662) rotate(-33) scale(1 1.08) translate(-468 -662)">(<tspan font-style="italic">I</tspan><tspan font-size="6.2" dy="1.5">D</tspan><tspan dy="-1.5">/</tspan><tspan font-style="italic">I</tspan><tspan font-size="6.2" dy="1.5">G</tspan><tspan dy="-1.5">)</tspan><tspan font-size="6.2" dy="-3">1/2</tspan></text>
<text x="514" y="663" font-size="9.5" fill="#111" text-anchor="end" transform="translate(514 663) rotate(-33) scale(1 1.08) translate(-514 -663)"><tspan font-style="italic">sp</tspan><tspan font-size="6.2" dy="-3">2</tspan></text>
<text x="564" y="665" font-size="9.5" fill="#c0285c" text-anchor="end" transform="translate(564 665) rotate(-33) scale(1 1.08) translate(-564 -665)">(<tspan font-style="italic">I</tspan><tspan font-size="6.2" dy="1.5">D</tspan><tspan dy="-1.5">/</tspan><tspan font-style="italic">I</tspan><tspan font-size="6.2" dy="1.5">G</tspan><tspan dy="-1.5">)</tspan><tspan font-size="6.2" dy="-3">1/2</tspan><tspan dy="3">×O</tspan></text>
<text x="619" y="662.5" font-size="9.5" fill="#111" text-anchor="end" transform="translate(619 662.5) rotate(-33) scale(1 1.08) translate(-619 -662.5)">(C-O)+(C=O)</text>
<text x="659" y="663" font-size="9.5" fill="#111" text-anchor="end" transform="translate(659 663) rotate(-33) scale(1 1.08) translate(-659 -663)"><tspan font-style="italic">sp</tspan><tspan font-size="6.2" dy="-3">3</tspan></text>
</svg></body></html>
